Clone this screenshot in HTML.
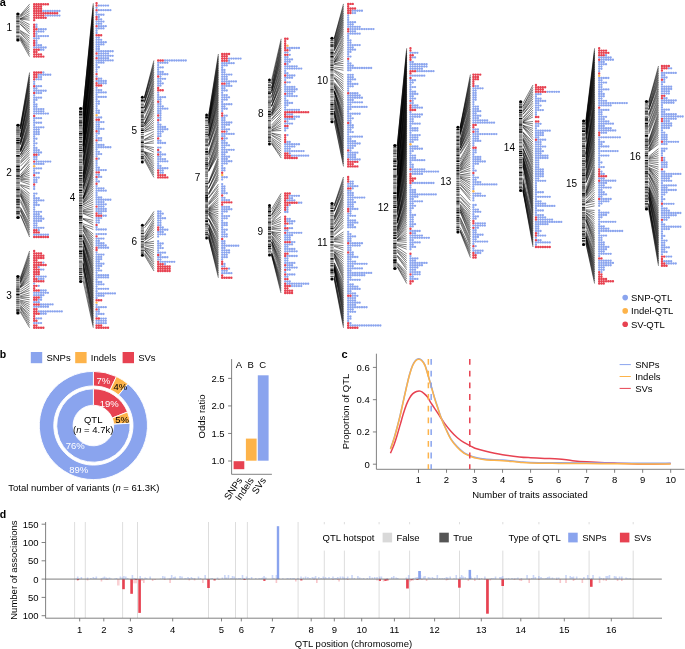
<!DOCTYPE html>
<html><head><meta charset="utf-8"><style>
html,body{margin:0;padding:0;background:#fff;}
svg{display:block;will-change:transform;}
text{font-family:"Liberation Sans", sans-serif;}
</style></head><body>
<svg width="685" height="649" viewBox="0 0 685 649">
<rect width="685" height="649" fill="#fff"/>
<g font-family='"Liberation Sans", sans-serif'>
<text x="-0.3" y="5.8" font-size="11" font-weight="bold">a</text>
<text x="9.3" y="31.0" text-anchor="middle" font-size="10">1</text>
<path d="M20.20 15.18L29.60 4.20M20.20 15.86L29.60 6.48M20.20 16.43L29.60 8.76M20.20 17.18L29.60 11.03M20.20 18.78L29.60 13.31M20.20 18.79L29.60 15.59M20.20 18.93L29.60 17.87M20.20 19.09L29.60 20.15M20.20 19.44L29.60 24.70M20.20 21.08L29.60 26.98M20.20 22.32L29.60 29.26M20.20 23.98L29.60 31.54M20.20 24.13L29.60 33.82M20.20 30.46L29.60 36.10M20.20 30.98L29.60 38.37M20.20 32.16L29.60 40.65M20.20 33.00L29.60 42.93M20.20 35.48L29.60 45.21M20.20 36.50L29.60 47.49M20.20 37.21L29.60 49.77M20.20 38.19L29.60 52.04M20.20 38.48L29.60 54.32M20.20 40.10L29.60 56.60" stroke="#000" stroke-width="0.5" fill="none"/>
<rect x="16.2" y="12.5" width="3.40" height="29.10" rx="1.70" fill="#dadada"/>
<path d="M16.20 15.70h3.40v1.10h-3.40zM16.20 26.15h3.40v1.10h-3.40zM16.20 37.80h3.40v0.60h-3.40z" fill="#2a2a2a"/>
<path d="M16.20 17.10h3.40v1.80h-3.40zM16.20 24.80h3.40v0.90h-3.40zM16.20 33.45h3.40v0.50h-3.40zM16.20 34.95h3.40v0.70h-3.40z" fill="#7a7a7a"/>
<path d="M16.20 19.50h3.40v0.70h-3.40zM16.20 22.20h3.40v0.50h-3.40zM16.20 27.55h3.40v0.70h-3.40zM16.20 30.60h3.40v0.50h-3.40zM16.20 35.95h3.40v1.40h-3.40z" fill="#5e5e5e"/>
<path d="M16.20 20.65h3.40v1.10h-3.40z" fill="#000"/>
<path d="M16.20 23.50h3.40v0.50h-3.40zM16.20 28.70h3.40v0.90h-3.40zM16.20 31.55h3.40v1.10h-3.40z" fill="#111"/>
<ellipse cx="17.90" cy="14.00" rx="1.70" ry="1.5" fill="#000"/>
<ellipse cx="17.90" cy="40.10" rx="1.70" ry="1.5" fill="#000"/>
<path d="M42.20 11.03a1.16 1.16 0 1 0 2.32 0a1.16 1.16 0 1 0 -2.32 0M44.50 11.03a1.16 1.16 0 1 0 2.32 0a1.16 1.16 0 1 0 -2.32 0M46.80 11.03a1.16 1.16 0 1 0 2.32 0a1.16 1.16 0 1 0 -2.32 0M49.10 11.03a1.16 1.16 0 1 0 2.32 0a1.16 1.16 0 1 0 -2.32 0M51.40 11.03a1.16 1.16 0 1 0 2.32 0a1.16 1.16 0 1 0 -2.32 0M53.70 11.03a1.16 1.16 0 1 0 2.32 0a1.16 1.16 0 1 0 -2.32 0M56.00 11.03a1.16 1.16 0 1 0 2.32 0a1.16 1.16 0 1 0 -2.32 0M58.30 11.03a1.16 1.16 0 1 0 2.32 0a1.16 1.16 0 1 0 -2.32 0M44.50 15.59a1.16 1.16 0 1 0 2.32 0a1.16 1.16 0 1 0 -2.32 0M46.80 15.59a1.16 1.16 0 1 0 2.32 0a1.16 1.16 0 1 0 -2.32 0M49.10 15.59a1.16 1.16 0 1 0 2.32 0a1.16 1.16 0 1 0 -2.32 0M51.40 15.59a1.16 1.16 0 1 0 2.32 0a1.16 1.16 0 1 0 -2.32 0M53.70 15.59a1.16 1.16 0 1 0 2.32 0a1.16 1.16 0 1 0 -2.32 0M56.00 15.59a1.16 1.16 0 1 0 2.32 0a1.16 1.16 0 1 0 -2.32 0M58.30 15.59a1.16 1.16 0 1 0 2.32 0a1.16 1.16 0 1 0 -2.32 0M35.30 24.70a1.16 1.16 0 1 0 2.32 0a1.16 1.16 0 1 0 -2.32 0M35.30 26.98a1.16 1.16 0 1 0 2.32 0a1.16 1.16 0 1 0 -2.32 0M37.60 29.26a1.16 1.16 0 1 0 2.32 0a1.16 1.16 0 1 0 -2.32 0M39.90 29.26a1.16 1.16 0 1 0 2.32 0a1.16 1.16 0 1 0 -2.32 0M42.20 29.26a1.16 1.16 0 1 0 2.32 0a1.16 1.16 0 1 0 -2.32 0M44.50 29.26a1.16 1.16 0 1 0 2.32 0a1.16 1.16 0 1 0 -2.32 0M35.30 31.54a1.16 1.16 0 1 0 2.32 0a1.16 1.16 0 1 0 -2.32 0M37.60 31.54a1.16 1.16 0 1 0 2.32 0a1.16 1.16 0 1 0 -2.32 0M39.90 31.54a1.16 1.16 0 1 0 2.32 0a1.16 1.16 0 1 0 -2.32 0M42.20 31.54a1.16 1.16 0 1 0 2.32 0a1.16 1.16 0 1 0 -2.32 0M35.30 33.82a1.16 1.16 0 1 0 2.32 0a1.16 1.16 0 1 0 -2.32 0M35.30 36.10a1.16 1.16 0 1 0 2.32 0a1.16 1.16 0 1 0 -2.32 0M37.60 36.10a1.16 1.16 0 1 0 2.32 0a1.16 1.16 0 1 0 -2.32 0M39.90 36.10a1.16 1.16 0 1 0 2.32 0a1.16 1.16 0 1 0 -2.32 0M42.20 36.10a1.16 1.16 0 1 0 2.32 0a1.16 1.16 0 1 0 -2.32 0M44.50 36.10a1.16 1.16 0 1 0 2.32 0a1.16 1.16 0 1 0 -2.32 0M46.80 36.10a1.16 1.16 0 1 0 2.32 0a1.16 1.16 0 1 0 -2.32 0M33.00 38.37a1.16 1.16 0 1 0 2.32 0a1.16 1.16 0 1 0 -2.32 0M35.30 38.37a1.16 1.16 0 1 0 2.32 0a1.16 1.16 0 1 0 -2.32 0M37.60 38.37a1.16 1.16 0 1 0 2.32 0a1.16 1.16 0 1 0 -2.32 0M35.30 40.65a1.16 1.16 0 1 0 2.32 0a1.16 1.16 0 1 0 -2.32 0M35.30 42.93a1.16 1.16 0 1 0 2.32 0a1.16 1.16 0 1 0 -2.32 0M35.30 45.21a1.16 1.16 0 1 0 2.32 0a1.16 1.16 0 1 0 -2.32 0M37.60 45.21a1.16 1.16 0 1 0 2.32 0a1.16 1.16 0 1 0 -2.32 0M39.90 45.21a1.16 1.16 0 1 0 2.32 0a1.16 1.16 0 1 0 -2.32 0M33.00 47.49a1.16 1.16 0 1 0 2.32 0a1.16 1.16 0 1 0 -2.32 0M35.30 47.49a1.16 1.16 0 1 0 2.32 0a1.16 1.16 0 1 0 -2.32 0M37.60 47.49a1.16 1.16 0 1 0 2.32 0a1.16 1.16 0 1 0 -2.32 0M39.90 47.49a1.16 1.16 0 1 0 2.32 0a1.16 1.16 0 1 0 -2.32 0M42.20 47.49a1.16 1.16 0 1 0 2.32 0a1.16 1.16 0 1 0 -2.32 0M44.50 47.49a1.16 1.16 0 1 0 2.32 0a1.16 1.16 0 1 0 -2.32 0M39.90 49.77a1.16 1.16 0 1 0 2.32 0a1.16 1.16 0 1 0 -2.32 0M42.20 49.77a1.16 1.16 0 1 0 2.32 0a1.16 1.16 0 1 0 -2.32 0" fill="#8AA4EE"/>
<path d="M32.97 4.20a1.19 1.19 0 1 0 2.38 0a1.19 1.19 0 1 0 -2.38 0M35.27 4.20a1.19 1.19 0 1 0 2.38 0a1.19 1.19 0 1 0 -2.38 0M37.57 4.20a1.19 1.19 0 1 0 2.38 0a1.19 1.19 0 1 0 -2.38 0M39.87 4.20a1.19 1.19 0 1 0 2.38 0a1.19 1.19 0 1 0 -2.38 0M42.17 4.20a1.19 1.19 0 1 0 2.38 0a1.19 1.19 0 1 0 -2.38 0M44.47 4.20a1.19 1.19 0 1 0 2.38 0a1.19 1.19 0 1 0 -2.38 0M46.77 4.20a1.19 1.19 0 1 0 2.38 0a1.19 1.19 0 1 0 -2.38 0M32.97 6.48a1.19 1.19 0 1 0 2.38 0a1.19 1.19 0 1 0 -2.38 0M35.27 6.48a1.19 1.19 0 1 0 2.38 0a1.19 1.19 0 1 0 -2.38 0M37.57 6.48a1.19 1.19 0 1 0 2.38 0a1.19 1.19 0 1 0 -2.38 0M39.87 6.48a1.19 1.19 0 1 0 2.38 0a1.19 1.19 0 1 0 -2.38 0M32.97 8.76a1.19 1.19 0 1 0 2.38 0a1.19 1.19 0 1 0 -2.38 0M35.27 8.76a1.19 1.19 0 1 0 2.38 0a1.19 1.19 0 1 0 -2.38 0M37.57 8.76a1.19 1.19 0 1 0 2.38 0a1.19 1.19 0 1 0 -2.38 0M39.87 8.76a1.19 1.19 0 1 0 2.38 0a1.19 1.19 0 1 0 -2.38 0M32.97 11.03a1.19 1.19 0 1 0 2.38 0a1.19 1.19 0 1 0 -2.38 0M35.27 11.03a1.19 1.19 0 1 0 2.38 0a1.19 1.19 0 1 0 -2.38 0M37.57 11.03a1.19 1.19 0 1 0 2.38 0a1.19 1.19 0 1 0 -2.38 0M39.87 11.03a1.19 1.19 0 1 0 2.38 0a1.19 1.19 0 1 0 -2.38 0M32.97 13.31a1.19 1.19 0 1 0 2.38 0a1.19 1.19 0 1 0 -2.38 0M35.27 13.31a1.19 1.19 0 1 0 2.38 0a1.19 1.19 0 1 0 -2.38 0M37.57 13.31a1.19 1.19 0 1 0 2.38 0a1.19 1.19 0 1 0 -2.38 0M39.87 13.31a1.19 1.19 0 1 0 2.38 0a1.19 1.19 0 1 0 -2.38 0M42.17 13.31a1.19 1.19 0 1 0 2.38 0a1.19 1.19 0 1 0 -2.38 0M44.47 13.31a1.19 1.19 0 1 0 2.38 0a1.19 1.19 0 1 0 -2.38 0M46.77 13.31a1.19 1.19 0 1 0 2.38 0a1.19 1.19 0 1 0 -2.38 0M49.07 13.31a1.19 1.19 0 1 0 2.38 0a1.19 1.19 0 1 0 -2.38 0M51.37 13.31a1.19 1.19 0 1 0 2.38 0a1.19 1.19 0 1 0 -2.38 0M53.67 13.31a1.19 1.19 0 1 0 2.38 0a1.19 1.19 0 1 0 -2.38 0M55.97 13.31a1.19 1.19 0 1 0 2.38 0a1.19 1.19 0 1 0 -2.38 0M32.97 15.59a1.19 1.19 0 1 0 2.38 0a1.19 1.19 0 1 0 -2.38 0M35.27 15.59a1.19 1.19 0 1 0 2.38 0a1.19 1.19 0 1 0 -2.38 0M37.57 15.59a1.19 1.19 0 1 0 2.38 0a1.19 1.19 0 1 0 -2.38 0M39.87 15.59a1.19 1.19 0 1 0 2.38 0a1.19 1.19 0 1 0 -2.38 0M42.17 15.59a1.19 1.19 0 1 0 2.38 0a1.19 1.19 0 1 0 -2.38 0M32.97 17.87a1.19 1.19 0 1 0 2.38 0a1.19 1.19 0 1 0 -2.38 0M35.27 17.87a1.19 1.19 0 1 0 2.38 0a1.19 1.19 0 1 0 -2.38 0M37.57 17.87a1.19 1.19 0 1 0 2.38 0a1.19 1.19 0 1 0 -2.38 0M39.87 17.87a1.19 1.19 0 1 0 2.38 0a1.19 1.19 0 1 0 -2.38 0M42.17 17.87a1.19 1.19 0 1 0 2.38 0a1.19 1.19 0 1 0 -2.38 0M44.47 17.87a1.19 1.19 0 1 0 2.38 0a1.19 1.19 0 1 0 -2.38 0M32.97 20.15a1.19 1.19 0 1 0 2.38 0a1.19 1.19 0 1 0 -2.38 0M32.97 24.70a1.19 1.19 0 1 0 2.38 0a1.19 1.19 0 1 0 -2.38 0M32.97 26.98a1.19 1.19 0 1 0 2.38 0a1.19 1.19 0 1 0 -2.38 0M32.97 29.26a1.19 1.19 0 1 0 2.38 0a1.19 1.19 0 1 0 -2.38 0M35.27 29.26a1.19 1.19 0 1 0 2.38 0a1.19 1.19 0 1 0 -2.38 0M32.97 31.54a1.19 1.19 0 1 0 2.38 0a1.19 1.19 0 1 0 -2.38 0M32.97 33.82a1.19 1.19 0 1 0 2.38 0a1.19 1.19 0 1 0 -2.38 0M32.97 36.10a1.19 1.19 0 1 0 2.38 0a1.19 1.19 0 1 0 -2.38 0M32.97 40.65a1.19 1.19 0 1 0 2.38 0a1.19 1.19 0 1 0 -2.38 0M32.97 42.93a1.19 1.19 0 1 0 2.38 0a1.19 1.19 0 1 0 -2.38 0M32.97 45.21a1.19 1.19 0 1 0 2.38 0a1.19 1.19 0 1 0 -2.38 0M32.97 49.77a1.19 1.19 0 1 0 2.38 0a1.19 1.19 0 1 0 -2.38 0M35.27 49.77a1.19 1.19 0 1 0 2.38 0a1.19 1.19 0 1 0 -2.38 0M37.57 49.77a1.19 1.19 0 1 0 2.38 0a1.19 1.19 0 1 0 -2.38 0M32.97 52.04a1.19 1.19 0 1 0 2.38 0a1.19 1.19 0 1 0 -2.38 0M35.27 52.04a1.19 1.19 0 1 0 2.38 0a1.19 1.19 0 1 0 -2.38 0M32.97 54.32a1.19 1.19 0 1 0 2.38 0a1.19 1.19 0 1 0 -2.38 0M35.27 54.32a1.19 1.19 0 1 0 2.38 0a1.19 1.19 0 1 0 -2.38 0M37.57 54.32a1.19 1.19 0 1 0 2.38 0a1.19 1.19 0 1 0 -2.38 0M39.87 54.32a1.19 1.19 0 1 0 2.38 0a1.19 1.19 0 1 0 -2.38 0M32.97 56.60a1.19 1.19 0 1 0 2.38 0a1.19 1.19 0 1 0 -2.38 0M35.27 56.60a1.19 1.19 0 1 0 2.38 0a1.19 1.19 0 1 0 -2.38 0M37.57 56.60a1.19 1.19 0 1 0 2.38 0a1.19 1.19 0 1 0 -2.38 0M39.87 56.60a1.19 1.19 0 1 0 2.38 0a1.19 1.19 0 1 0 -2.38 0M42.17 56.60a1.19 1.19 0 1 0 2.38 0a1.19 1.19 0 1 0 -2.38 0" fill="#E74251"/>
<text x="9.0" y="176.0" text-anchor="middle" font-size="10">2</text>
<path d="M20.40 125.58L29.60 72.50M20.40 127.17L29.60 74.78M20.40 127.60L29.60 77.07M20.40 128.58L29.60 79.35M20.40 128.83L29.60 81.64M20.40 129.05L29.60 83.92M20.40 131.33L29.60 86.21M20.40 134.46L29.60 88.49M20.40 136.72L29.60 90.78M20.40 136.73L29.60 93.06M20.40 136.74L29.60 95.35M20.40 136.96L29.60 97.63M20.40 137.49L29.60 99.92M20.40 140.47L29.60 102.20M20.40 141.94L29.60 104.49M20.40 142.40L29.60 106.77M20.40 143.16L29.60 109.06M20.40 143.82L29.60 111.34M20.40 144.66L29.60 113.62M20.40 144.78L29.60 115.91M20.40 148.85L29.60 118.19M20.40 149.87L29.60 120.48M20.40 150.18L29.60 122.76M20.40 150.48L29.60 125.05M20.40 151.17L29.60 127.33M20.40 151.54L29.60 129.62M20.40 151.55L29.60 131.90M20.40 152.10L29.60 134.19M20.40 154.53L29.60 136.47M20.40 154.68L29.60 138.76M20.40 154.76L29.60 141.04M20.40 156.54L29.60 143.33M20.40 157.26L29.60 145.61M20.40 158.91L29.60 147.90M20.40 161.42L29.60 150.18M20.40 162.44L29.60 152.47M20.40 163.44L29.60 154.75M20.40 166.26L29.60 157.03M20.40 170.60L29.60 159.32M20.40 170.81L29.60 161.60M20.40 174.91L29.60 163.89M20.40 176.49L29.60 166.17M20.40 176.69L29.60 168.46M20.40 176.71L29.60 170.74M20.40 177.53L29.60 173.03M20.40 178.16L29.60 175.31M20.40 179.09L29.60 177.60M20.40 179.26L29.60 179.88M20.40 180.19L29.60 182.17M20.40 181.27L29.60 184.45M20.40 184.61L29.60 186.74M20.40 185.31L29.60 189.02M20.40 185.74L29.60 193.59M20.40 188.28L29.60 195.88M20.40 189.35L29.60 198.16M20.40 190.16L29.60 200.44M20.40 191.14L29.60 202.73M20.40 192.43L29.60 205.01M20.40 192.87L29.60 207.30M20.40 194.21L29.60 209.58M20.40 194.30L29.60 211.87M20.40 195.25L29.60 214.15M20.40 195.99L29.60 216.44M20.40 199.72L29.60 218.72M20.40 201.70L29.60 221.01M20.40 207.32L29.60 223.29M20.40 207.73L29.60 225.58M20.40 209.35L29.60 227.86M20.40 209.94L29.60 230.15M20.40 211.18L29.60 232.43M20.40 214.60L29.60 234.72M20.40 214.82L29.60 237.00" stroke="#000" stroke-width="0.5" fill="none"/>
<rect x="16.2" y="123.8" width="3.60" height="95.20" rx="1.80" fill="#dadada"/>
<path d="M16.20 127.00h3.60v0.50h-3.60zM16.20 142.05h3.60v1.80h-3.60zM16.20 168.75h3.60v1.40h-3.60zM16.20 198.65h3.60v1.80h-3.60zM16.20 206.95h3.60v0.70h-3.60z" fill="#111"/>
<path d="M16.20 128.50h3.60v0.90h-3.60zM16.20 137.85h3.60v1.40h-3.60zM16.20 144.45h3.60v0.50h-3.60zM16.20 167.65h3.60v0.50h-3.60zM16.20 187.60h3.60v0.70h-3.60zM16.20 194.70h3.60v1.10h-3.60zM16.20 196.25h3.60v0.70h-3.60zM16.20 210.85h3.60v1.80h-3.60z" fill="#2a2a2a"/>
<path d="M16.20 129.85h3.60v1.80h-3.60zM16.20 147.65h3.60v0.50h-3.60zM16.20 148.75h3.60v1.40h-3.60zM16.20 159.65h3.60v1.10h-3.60zM16.20 162.00h3.60v0.70h-3.60zM16.20 163.70h3.60v0.70h-3.60zM16.20 179.45h3.60v0.90h-3.60zM16.20 180.80h3.60v0.70h-3.60zM16.20 197.55h3.60v0.50h-3.60zM16.20 208.45h3.60v0.50h-3.60zM16.20 215.80h3.60v0.00h-3.60z" fill="#5e5e5e"/>
<path d="M16.20 132.45h3.60v0.70h-3.60zM16.20 139.85h3.60v1.40h-3.60zM16.20 146.85h3.60v0.50h-3.60zM16.20 150.95h3.60v0.50h-3.60zM16.20 154.90h3.60v1.80h-3.60zM16.20 157.70h3.60v0.50h-3.60zM16.20 165.40h3.60v1.80h-3.60zM16.20 170.45h3.60v1.40h-3.60zM16.20 175.35h3.60v1.40h-3.60zM16.20 177.75h3.60v0.90h-3.60zM16.20 188.75h3.60v1.80h-3.60zM16.20 200.75h3.60v0.90h-3.60zM16.20 203.65h3.60v1.10h-3.60zM16.20 213.25h3.60v0.90h-3.60z" fill="#000"/>
<path d="M16.20 133.60h3.60v1.40h-3.60zM16.20 135.45h3.60v1.40h-3.60zM16.20 151.90h3.60v0.50h-3.60zM16.20 153.20h3.60v0.70h-3.60zM16.20 158.65h3.60v0.70h-3.60zM16.20 172.15h3.60v1.40h-3.60zM16.20 183.10h3.60v1.40h-3.60zM16.20 184.95h3.60v0.90h-3.60zM16.20 186.45h3.60v0.70h-3.60zM16.20 191.35h3.60v1.80h-3.60zM16.20 205.55h3.60v1.10h-3.60zM16.20 209.55h3.60v0.50h-3.60zM16.20 214.45h3.60v0.90h-3.60z" fill="#7a7a7a"/>
<path d="M16.20 145.55h3.60v0.70h-3.60zM16.20 161.20h3.60v0.50h-3.60zM16.20 173.85h3.60v0.70h-3.60zM16.20 181.95h3.60v0.70h-3.60zM16.20 193.75h3.60v0.50h-3.60zM16.20 202.10h3.60v1.10h-3.60z" fill="#444"/>
<ellipse cx="18.00" cy="125.30" rx="1.80" ry="1.5" fill="#000"/>
<ellipse cx="18.00" cy="217.50" rx="1.80" ry="1.5" fill="#000"/>
<path d="M42.20 72.50a1.16 1.16 0 1 0 2.32 0a1.16 1.16 0 1 0 -2.32 0M37.60 74.78a1.16 1.16 0 1 0 2.32 0a1.16 1.16 0 1 0 -2.32 0M39.90 74.78a1.16 1.16 0 1 0 2.32 0a1.16 1.16 0 1 0 -2.32 0M42.20 74.78a1.16 1.16 0 1 0 2.32 0a1.16 1.16 0 1 0 -2.32 0M44.50 74.78a1.16 1.16 0 1 0 2.32 0a1.16 1.16 0 1 0 -2.32 0M46.80 74.78a1.16 1.16 0 1 0 2.32 0a1.16 1.16 0 1 0 -2.32 0M49.10 74.78a1.16 1.16 0 1 0 2.32 0a1.16 1.16 0 1 0 -2.32 0M37.60 77.07a1.16 1.16 0 1 0 2.32 0a1.16 1.16 0 1 0 -2.32 0M39.90 77.07a1.16 1.16 0 1 0 2.32 0a1.16 1.16 0 1 0 -2.32 0M35.30 79.35a1.16 1.16 0 1 0 2.32 0a1.16 1.16 0 1 0 -2.32 0M37.60 79.35a1.16 1.16 0 1 0 2.32 0a1.16 1.16 0 1 0 -2.32 0M39.90 79.35a1.16 1.16 0 1 0 2.32 0a1.16 1.16 0 1 0 -2.32 0M33.00 81.64a1.16 1.16 0 1 0 2.32 0a1.16 1.16 0 1 0 -2.32 0M33.00 83.92a1.16 1.16 0 1 0 2.32 0a1.16 1.16 0 1 0 -2.32 0M35.30 86.21a1.16 1.16 0 1 0 2.32 0a1.16 1.16 0 1 0 -2.32 0M37.60 86.21a1.16 1.16 0 1 0 2.32 0a1.16 1.16 0 1 0 -2.32 0M39.90 86.21a1.16 1.16 0 1 0 2.32 0a1.16 1.16 0 1 0 -2.32 0M33.00 88.49a1.16 1.16 0 1 0 2.32 0a1.16 1.16 0 1 0 -2.32 0M35.30 88.49a1.16 1.16 0 1 0 2.32 0a1.16 1.16 0 1 0 -2.32 0M33.00 90.78a1.16 1.16 0 1 0 2.32 0a1.16 1.16 0 1 0 -2.32 0M35.30 90.78a1.16 1.16 0 1 0 2.32 0a1.16 1.16 0 1 0 -2.32 0M37.60 90.78a1.16 1.16 0 1 0 2.32 0a1.16 1.16 0 1 0 -2.32 0M39.90 90.78a1.16 1.16 0 1 0 2.32 0a1.16 1.16 0 1 0 -2.32 0M42.20 90.78a1.16 1.16 0 1 0 2.32 0a1.16 1.16 0 1 0 -2.32 0M44.50 90.78a1.16 1.16 0 1 0 2.32 0a1.16 1.16 0 1 0 -2.32 0M35.30 93.06a1.16 1.16 0 1 0 2.32 0a1.16 1.16 0 1 0 -2.32 0M37.60 93.06a1.16 1.16 0 1 0 2.32 0a1.16 1.16 0 1 0 -2.32 0M39.90 93.06a1.16 1.16 0 1 0 2.32 0a1.16 1.16 0 1 0 -2.32 0M33.00 95.35a1.16 1.16 0 1 0 2.32 0a1.16 1.16 0 1 0 -2.32 0M33.00 97.63a1.16 1.16 0 1 0 2.32 0a1.16 1.16 0 1 0 -2.32 0M35.30 97.63a1.16 1.16 0 1 0 2.32 0a1.16 1.16 0 1 0 -2.32 0M37.60 97.63a1.16 1.16 0 1 0 2.32 0a1.16 1.16 0 1 0 -2.32 0M39.90 97.63a1.16 1.16 0 1 0 2.32 0a1.16 1.16 0 1 0 -2.32 0M33.00 99.92a1.16 1.16 0 1 0 2.32 0a1.16 1.16 0 1 0 -2.32 0M35.30 99.92a1.16 1.16 0 1 0 2.32 0a1.16 1.16 0 1 0 -2.32 0M33.00 102.20a1.16 1.16 0 1 0 2.32 0a1.16 1.16 0 1 0 -2.32 0M33.00 104.49a1.16 1.16 0 1 0 2.32 0a1.16 1.16 0 1 0 -2.32 0M35.30 104.49a1.16 1.16 0 1 0 2.32 0a1.16 1.16 0 1 0 -2.32 0M33.00 106.77a1.16 1.16 0 1 0 2.32 0a1.16 1.16 0 1 0 -2.32 0M35.30 106.77a1.16 1.16 0 1 0 2.32 0a1.16 1.16 0 1 0 -2.32 0M33.00 109.06a1.16 1.16 0 1 0 2.32 0a1.16 1.16 0 1 0 -2.32 0M35.30 109.06a1.16 1.16 0 1 0 2.32 0a1.16 1.16 0 1 0 -2.32 0M37.60 109.06a1.16 1.16 0 1 0 2.32 0a1.16 1.16 0 1 0 -2.32 0M39.90 109.06a1.16 1.16 0 1 0 2.32 0a1.16 1.16 0 1 0 -2.32 0M42.20 109.06a1.16 1.16 0 1 0 2.32 0a1.16 1.16 0 1 0 -2.32 0M33.00 111.34a1.16 1.16 0 1 0 2.32 0a1.16 1.16 0 1 0 -2.32 0M35.30 111.34a1.16 1.16 0 1 0 2.32 0a1.16 1.16 0 1 0 -2.32 0M37.60 111.34a1.16 1.16 0 1 0 2.32 0a1.16 1.16 0 1 0 -2.32 0M39.90 111.34a1.16 1.16 0 1 0 2.32 0a1.16 1.16 0 1 0 -2.32 0M42.20 111.34a1.16 1.16 0 1 0 2.32 0a1.16 1.16 0 1 0 -2.32 0M33.00 113.62a1.16 1.16 0 1 0 2.32 0a1.16 1.16 0 1 0 -2.32 0M35.30 113.62a1.16 1.16 0 1 0 2.32 0a1.16 1.16 0 1 0 -2.32 0M37.60 113.62a1.16 1.16 0 1 0 2.32 0a1.16 1.16 0 1 0 -2.32 0M39.90 113.62a1.16 1.16 0 1 0 2.32 0a1.16 1.16 0 1 0 -2.32 0M42.20 113.62a1.16 1.16 0 1 0 2.32 0a1.16 1.16 0 1 0 -2.32 0M44.50 113.62a1.16 1.16 0 1 0 2.32 0a1.16 1.16 0 1 0 -2.32 0M46.80 113.62a1.16 1.16 0 1 0 2.32 0a1.16 1.16 0 1 0 -2.32 0M33.00 118.19a1.16 1.16 0 1 0 2.32 0a1.16 1.16 0 1 0 -2.32 0M35.30 118.19a1.16 1.16 0 1 0 2.32 0a1.16 1.16 0 1 0 -2.32 0M37.60 118.19a1.16 1.16 0 1 0 2.32 0a1.16 1.16 0 1 0 -2.32 0M39.90 118.19a1.16 1.16 0 1 0 2.32 0a1.16 1.16 0 1 0 -2.32 0M33.00 120.48a1.16 1.16 0 1 0 2.32 0a1.16 1.16 0 1 0 -2.32 0M33.00 122.76a1.16 1.16 0 1 0 2.32 0a1.16 1.16 0 1 0 -2.32 0M35.30 122.76a1.16 1.16 0 1 0 2.32 0a1.16 1.16 0 1 0 -2.32 0M37.60 122.76a1.16 1.16 0 1 0 2.32 0a1.16 1.16 0 1 0 -2.32 0M39.90 122.76a1.16 1.16 0 1 0 2.32 0a1.16 1.16 0 1 0 -2.32 0M33.00 125.05a1.16 1.16 0 1 0 2.32 0a1.16 1.16 0 1 0 -2.32 0M33.00 127.33a1.16 1.16 0 1 0 2.32 0a1.16 1.16 0 1 0 -2.32 0M35.30 127.33a1.16 1.16 0 1 0 2.32 0a1.16 1.16 0 1 0 -2.32 0M37.60 127.33a1.16 1.16 0 1 0 2.32 0a1.16 1.16 0 1 0 -2.32 0M39.90 127.33a1.16 1.16 0 1 0 2.32 0a1.16 1.16 0 1 0 -2.32 0M42.20 127.33a1.16 1.16 0 1 0 2.32 0a1.16 1.16 0 1 0 -2.32 0M33.00 129.62a1.16 1.16 0 1 0 2.32 0a1.16 1.16 0 1 0 -2.32 0M35.30 129.62a1.16 1.16 0 1 0 2.32 0a1.16 1.16 0 1 0 -2.32 0M37.60 129.62a1.16 1.16 0 1 0 2.32 0a1.16 1.16 0 1 0 -2.32 0M33.00 131.90a1.16 1.16 0 1 0 2.32 0a1.16 1.16 0 1 0 -2.32 0M35.30 131.90a1.16 1.16 0 1 0 2.32 0a1.16 1.16 0 1 0 -2.32 0M37.60 131.90a1.16 1.16 0 1 0 2.32 0a1.16 1.16 0 1 0 -2.32 0M33.00 134.19a1.16 1.16 0 1 0 2.32 0a1.16 1.16 0 1 0 -2.32 0M35.30 134.19a1.16 1.16 0 1 0 2.32 0a1.16 1.16 0 1 0 -2.32 0M37.60 134.19a1.16 1.16 0 1 0 2.32 0a1.16 1.16 0 1 0 -2.32 0M33.00 136.47a1.16 1.16 0 1 0 2.32 0a1.16 1.16 0 1 0 -2.32 0M33.00 138.76a1.16 1.16 0 1 0 2.32 0a1.16 1.16 0 1 0 -2.32 0M35.30 138.76a1.16 1.16 0 1 0 2.32 0a1.16 1.16 0 1 0 -2.32 0M33.00 141.04a1.16 1.16 0 1 0 2.32 0a1.16 1.16 0 1 0 -2.32 0M33.00 143.33a1.16 1.16 0 1 0 2.32 0a1.16 1.16 0 1 0 -2.32 0M35.30 143.33a1.16 1.16 0 1 0 2.32 0a1.16 1.16 0 1 0 -2.32 0M33.00 145.61a1.16 1.16 0 1 0 2.32 0a1.16 1.16 0 1 0 -2.32 0M33.00 147.90a1.16 1.16 0 1 0 2.32 0a1.16 1.16 0 1 0 -2.32 0M35.30 147.90a1.16 1.16 0 1 0 2.32 0a1.16 1.16 0 1 0 -2.32 0M33.00 150.18a1.16 1.16 0 1 0 2.32 0a1.16 1.16 0 1 0 -2.32 0M35.30 150.18a1.16 1.16 0 1 0 2.32 0a1.16 1.16 0 1 0 -2.32 0M37.60 150.18a1.16 1.16 0 1 0 2.32 0a1.16 1.16 0 1 0 -2.32 0M33.00 152.47a1.16 1.16 0 1 0 2.32 0a1.16 1.16 0 1 0 -2.32 0M35.30 152.47a1.16 1.16 0 1 0 2.32 0a1.16 1.16 0 1 0 -2.32 0M37.60 152.47a1.16 1.16 0 1 0 2.32 0a1.16 1.16 0 1 0 -2.32 0M39.90 152.47a1.16 1.16 0 1 0 2.32 0a1.16 1.16 0 1 0 -2.32 0M37.60 154.75a1.16 1.16 0 1 0 2.32 0a1.16 1.16 0 1 0 -2.32 0M33.00 157.03a1.16 1.16 0 1 0 2.32 0a1.16 1.16 0 1 0 -2.32 0M35.30 157.03a1.16 1.16 0 1 0 2.32 0a1.16 1.16 0 1 0 -2.32 0M33.00 159.32a1.16 1.16 0 1 0 2.32 0a1.16 1.16 0 1 0 -2.32 0M35.30 159.32a1.16 1.16 0 1 0 2.32 0a1.16 1.16 0 1 0 -2.32 0M35.30 161.60a1.16 1.16 0 1 0 2.32 0a1.16 1.16 0 1 0 -2.32 0M37.60 161.60a1.16 1.16 0 1 0 2.32 0a1.16 1.16 0 1 0 -2.32 0M39.90 161.60a1.16 1.16 0 1 0 2.32 0a1.16 1.16 0 1 0 -2.32 0M42.20 161.60a1.16 1.16 0 1 0 2.32 0a1.16 1.16 0 1 0 -2.32 0M44.50 161.60a1.16 1.16 0 1 0 2.32 0a1.16 1.16 0 1 0 -2.32 0M46.80 161.60a1.16 1.16 0 1 0 2.32 0a1.16 1.16 0 1 0 -2.32 0M49.10 161.60a1.16 1.16 0 1 0 2.32 0a1.16 1.16 0 1 0 -2.32 0M33.00 163.89a1.16 1.16 0 1 0 2.32 0a1.16 1.16 0 1 0 -2.32 0M35.30 163.89a1.16 1.16 0 1 0 2.32 0a1.16 1.16 0 1 0 -2.32 0M37.60 163.89a1.16 1.16 0 1 0 2.32 0a1.16 1.16 0 1 0 -2.32 0M39.90 163.89a1.16 1.16 0 1 0 2.32 0a1.16 1.16 0 1 0 -2.32 0M42.20 163.89a1.16 1.16 0 1 0 2.32 0a1.16 1.16 0 1 0 -2.32 0M33.00 168.46a1.16 1.16 0 1 0 2.32 0a1.16 1.16 0 1 0 -2.32 0M35.30 168.46a1.16 1.16 0 1 0 2.32 0a1.16 1.16 0 1 0 -2.32 0M37.60 168.46a1.16 1.16 0 1 0 2.32 0a1.16 1.16 0 1 0 -2.32 0M39.90 168.46a1.16 1.16 0 1 0 2.32 0a1.16 1.16 0 1 0 -2.32 0M33.00 170.74a1.16 1.16 0 1 0 2.32 0a1.16 1.16 0 1 0 -2.32 0M33.00 173.03a1.16 1.16 0 1 0 2.32 0a1.16 1.16 0 1 0 -2.32 0M35.30 173.03a1.16 1.16 0 1 0 2.32 0a1.16 1.16 0 1 0 -2.32 0M37.60 173.03a1.16 1.16 0 1 0 2.32 0a1.16 1.16 0 1 0 -2.32 0M33.00 177.60a1.16 1.16 0 1 0 2.32 0a1.16 1.16 0 1 0 -2.32 0M35.30 177.60a1.16 1.16 0 1 0 2.32 0a1.16 1.16 0 1 0 -2.32 0M37.60 177.60a1.16 1.16 0 1 0 2.32 0a1.16 1.16 0 1 0 -2.32 0M33.00 179.88a1.16 1.16 0 1 0 2.32 0a1.16 1.16 0 1 0 -2.32 0M35.30 179.88a1.16 1.16 0 1 0 2.32 0a1.16 1.16 0 1 0 -2.32 0M33.00 182.17a1.16 1.16 0 1 0 2.32 0a1.16 1.16 0 1 0 -2.32 0M35.30 182.17a1.16 1.16 0 1 0 2.32 0a1.16 1.16 0 1 0 -2.32 0M33.00 186.74a1.16 1.16 0 1 0 2.32 0a1.16 1.16 0 1 0 -2.32 0M33.00 189.02a1.16 1.16 0 1 0 2.32 0a1.16 1.16 0 1 0 -2.32 0M33.00 193.59a1.16 1.16 0 1 0 2.32 0a1.16 1.16 0 1 0 -2.32 0M35.30 193.59a1.16 1.16 0 1 0 2.32 0a1.16 1.16 0 1 0 -2.32 0M33.00 195.88a1.16 1.16 0 1 0 2.32 0a1.16 1.16 0 1 0 -2.32 0M33.00 198.16a1.16 1.16 0 1 0 2.32 0a1.16 1.16 0 1 0 -2.32 0M35.30 198.16a1.16 1.16 0 1 0 2.32 0a1.16 1.16 0 1 0 -2.32 0M37.60 198.16a1.16 1.16 0 1 0 2.32 0a1.16 1.16 0 1 0 -2.32 0M33.00 200.44a1.16 1.16 0 1 0 2.32 0a1.16 1.16 0 1 0 -2.32 0M35.30 200.44a1.16 1.16 0 1 0 2.32 0a1.16 1.16 0 1 0 -2.32 0M37.60 200.44a1.16 1.16 0 1 0 2.32 0a1.16 1.16 0 1 0 -2.32 0M39.90 200.44a1.16 1.16 0 1 0 2.32 0a1.16 1.16 0 1 0 -2.32 0M42.20 200.44a1.16 1.16 0 1 0 2.32 0a1.16 1.16 0 1 0 -2.32 0M33.00 202.73a1.16 1.16 0 1 0 2.32 0a1.16 1.16 0 1 0 -2.32 0M35.30 202.73a1.16 1.16 0 1 0 2.32 0a1.16 1.16 0 1 0 -2.32 0M33.00 205.01a1.16 1.16 0 1 0 2.32 0a1.16 1.16 0 1 0 -2.32 0M35.30 205.01a1.16 1.16 0 1 0 2.32 0a1.16 1.16 0 1 0 -2.32 0M37.60 205.01a1.16 1.16 0 1 0 2.32 0a1.16 1.16 0 1 0 -2.32 0M33.00 207.30a1.16 1.16 0 1 0 2.32 0a1.16 1.16 0 1 0 -2.32 0M33.00 209.58a1.16 1.16 0 1 0 2.32 0a1.16 1.16 0 1 0 -2.32 0M33.00 211.87a1.16 1.16 0 1 0 2.32 0a1.16 1.16 0 1 0 -2.32 0M35.30 211.87a1.16 1.16 0 1 0 2.32 0a1.16 1.16 0 1 0 -2.32 0M37.60 211.87a1.16 1.16 0 1 0 2.32 0a1.16 1.16 0 1 0 -2.32 0M39.90 211.87a1.16 1.16 0 1 0 2.32 0a1.16 1.16 0 1 0 -2.32 0M33.00 214.15a1.16 1.16 0 1 0 2.32 0a1.16 1.16 0 1 0 -2.32 0M35.30 214.15a1.16 1.16 0 1 0 2.32 0a1.16 1.16 0 1 0 -2.32 0M37.60 214.15a1.16 1.16 0 1 0 2.32 0a1.16 1.16 0 1 0 -2.32 0M33.00 216.44a1.16 1.16 0 1 0 2.32 0a1.16 1.16 0 1 0 -2.32 0M35.30 216.44a1.16 1.16 0 1 0 2.32 0a1.16 1.16 0 1 0 -2.32 0M37.60 216.44a1.16 1.16 0 1 0 2.32 0a1.16 1.16 0 1 0 -2.32 0M39.90 216.44a1.16 1.16 0 1 0 2.32 0a1.16 1.16 0 1 0 -2.32 0M33.00 218.72a1.16 1.16 0 1 0 2.32 0a1.16 1.16 0 1 0 -2.32 0M35.30 218.72a1.16 1.16 0 1 0 2.32 0a1.16 1.16 0 1 0 -2.32 0M37.60 218.72a1.16 1.16 0 1 0 2.32 0a1.16 1.16 0 1 0 -2.32 0M39.90 218.72a1.16 1.16 0 1 0 2.32 0a1.16 1.16 0 1 0 -2.32 0M42.20 218.72a1.16 1.16 0 1 0 2.32 0a1.16 1.16 0 1 0 -2.32 0M33.00 221.01a1.16 1.16 0 1 0 2.32 0a1.16 1.16 0 1 0 -2.32 0M35.30 221.01a1.16 1.16 0 1 0 2.32 0a1.16 1.16 0 1 0 -2.32 0M37.60 221.01a1.16 1.16 0 1 0 2.32 0a1.16 1.16 0 1 0 -2.32 0M39.90 221.01a1.16 1.16 0 1 0 2.32 0a1.16 1.16 0 1 0 -2.32 0M33.00 223.29a1.16 1.16 0 1 0 2.32 0a1.16 1.16 0 1 0 -2.32 0M35.30 223.29a1.16 1.16 0 1 0 2.32 0a1.16 1.16 0 1 0 -2.32 0M33.00 225.58a1.16 1.16 0 1 0 2.32 0a1.16 1.16 0 1 0 -2.32 0M35.30 225.58a1.16 1.16 0 1 0 2.32 0a1.16 1.16 0 1 0 -2.32 0M33.00 227.86a1.16 1.16 0 1 0 2.32 0a1.16 1.16 0 1 0 -2.32 0M35.30 227.86a1.16 1.16 0 1 0 2.32 0a1.16 1.16 0 1 0 -2.32 0M37.60 227.86a1.16 1.16 0 1 0 2.32 0a1.16 1.16 0 1 0 -2.32 0M39.90 227.86a1.16 1.16 0 1 0 2.32 0a1.16 1.16 0 1 0 -2.32 0M42.20 227.86a1.16 1.16 0 1 0 2.32 0a1.16 1.16 0 1 0 -2.32 0M37.60 230.15a1.16 1.16 0 1 0 2.32 0a1.16 1.16 0 1 0 -2.32 0M33.00 234.72a1.16 1.16 0 1 0 2.32 0a1.16 1.16 0 1 0 -2.32 0M35.30 234.72a1.16 1.16 0 1 0 2.32 0a1.16 1.16 0 1 0 -2.32 0M37.60 234.72a1.16 1.16 0 1 0 2.32 0a1.16 1.16 0 1 0 -2.32 0M39.90 234.72a1.16 1.16 0 1 0 2.32 0a1.16 1.16 0 1 0 -2.32 0M42.20 234.72a1.16 1.16 0 1 0 2.32 0a1.16 1.16 0 1 0 -2.32 0M44.50 234.72a1.16 1.16 0 1 0 2.32 0a1.16 1.16 0 1 0 -2.32 0M46.80 234.72a1.16 1.16 0 1 0 2.32 0a1.16 1.16 0 1 0 -2.32 0" fill="#8AA4EE"/>
<path d="M32.97 166.17a1.19 1.19 0 1 0 2.38 0a1.19 1.19 0 1 0 -2.38 0" fill="#FDB34A"/>
<path d="M32.97 72.50a1.19 1.19 0 1 0 2.38 0a1.19 1.19 0 1 0 -2.38 0M35.27 72.50a1.19 1.19 0 1 0 2.38 0a1.19 1.19 0 1 0 -2.38 0M37.57 72.50a1.19 1.19 0 1 0 2.38 0a1.19 1.19 0 1 0 -2.38 0M39.87 72.50a1.19 1.19 0 1 0 2.38 0a1.19 1.19 0 1 0 -2.38 0M32.97 74.78a1.19 1.19 0 1 0 2.38 0a1.19 1.19 0 1 0 -2.38 0M35.27 74.78a1.19 1.19 0 1 0 2.38 0a1.19 1.19 0 1 0 -2.38 0M32.97 77.07a1.19 1.19 0 1 0 2.38 0a1.19 1.19 0 1 0 -2.38 0M35.27 77.07a1.19 1.19 0 1 0 2.38 0a1.19 1.19 0 1 0 -2.38 0M32.97 79.35a1.19 1.19 0 1 0 2.38 0a1.19 1.19 0 1 0 -2.38 0M32.97 86.21a1.19 1.19 0 1 0 2.38 0a1.19 1.19 0 1 0 -2.38 0M32.97 93.06a1.19 1.19 0 1 0 2.38 0a1.19 1.19 0 1 0 -2.38 0M32.97 115.91a1.19 1.19 0 1 0 2.38 0a1.19 1.19 0 1 0 -2.38 0M32.97 154.75a1.19 1.19 0 1 0 2.38 0a1.19 1.19 0 1 0 -2.38 0M35.27 154.75a1.19 1.19 0 1 0 2.38 0a1.19 1.19 0 1 0 -2.38 0M32.97 161.60a1.19 1.19 0 1 0 2.38 0a1.19 1.19 0 1 0 -2.38 0M32.97 175.31a1.19 1.19 0 1 0 2.38 0a1.19 1.19 0 1 0 -2.38 0M32.97 184.45a1.19 1.19 0 1 0 2.38 0a1.19 1.19 0 1 0 -2.38 0M32.97 230.15a1.19 1.19 0 1 0 2.38 0a1.19 1.19 0 1 0 -2.38 0M35.27 230.15a1.19 1.19 0 1 0 2.38 0a1.19 1.19 0 1 0 -2.38 0M32.97 232.43a1.19 1.19 0 1 0 2.38 0a1.19 1.19 0 1 0 -2.38 0M35.27 232.43a1.19 1.19 0 1 0 2.38 0a1.19 1.19 0 1 0 -2.38 0M37.57 232.43a1.19 1.19 0 1 0 2.38 0a1.19 1.19 0 1 0 -2.38 0M32.97 237.00a1.19 1.19 0 1 0 2.38 0a1.19 1.19 0 1 0 -2.38 0M35.27 237.00a1.19 1.19 0 1 0 2.38 0a1.19 1.19 0 1 0 -2.38 0M37.57 237.00a1.19 1.19 0 1 0 2.38 0a1.19 1.19 0 1 0 -2.38 0M39.87 237.00a1.19 1.19 0 1 0 2.38 0a1.19 1.19 0 1 0 -2.38 0M42.17 237.00a1.19 1.19 0 1 0 2.38 0a1.19 1.19 0 1 0 -2.38 0M44.47 237.00a1.19 1.19 0 1 0 2.38 0a1.19 1.19 0 1 0 -2.38 0M46.77 237.00a1.19 1.19 0 1 0 2.38 0a1.19 1.19 0 1 0 -2.38 0" fill="#E74251"/>
<text x="9.0" y="299.0" text-anchor="middle" font-size="10">3</text>
<path d="M20.20 278.10L29.60 251.00M20.20 279.64L29.60 253.32M20.20 279.69L29.60 255.65M20.20 281.43L29.60 257.97M20.20 282.20L29.60 260.30M20.20 282.23L29.60 262.62M20.20 283.23L29.60 264.95M20.20 284.16L29.60 267.27M20.20 285.87L29.60 269.59M20.20 286.87L29.60 271.92M20.20 286.97L29.60 274.24M20.20 287.37L29.60 276.57M20.20 287.64L29.60 278.89M20.20 287.90L29.60 281.22M20.20 289.97L29.60 283.54M20.20 291.90L29.60 285.86M20.20 293.73L29.60 288.19M20.20 293.95L29.60 290.51M20.20 295.76L29.60 292.84M20.20 296.70L29.60 295.16M20.20 297.20L29.60 297.48M20.20 298.08L29.60 299.81M20.20 300.06L29.60 302.13M20.20 300.76L29.60 304.46M20.20 301.57L29.60 306.78M20.20 302.49L29.60 309.11M20.20 303.80L29.60 311.43M20.20 305.58L29.60 313.75M20.20 305.62L29.60 316.08M20.20 307.00L29.60 318.40M20.20 307.77L29.60 320.73M20.20 308.48L29.60 323.05M20.20 310.49L29.60 325.38M20.20 311.85L29.60 327.70" stroke="#000" stroke-width="0.5" fill="none"/>
<rect x="16.2" y="275" width="3.40" height="39.60" rx="1.70" fill="#dadada"/>
<path d="M16.20 278.20h3.40v1.40h-3.40zM16.20 284.50h3.40v1.10h-3.40zM16.20 292.70h3.40v0.50h-3.40zM16.20 303.55h3.40v0.70h-3.40z" fill="#444"/>
<path d="M16.20 280.20h3.40v0.70h-3.40zM16.20 301.25h3.40v0.90h-3.40zM16.20 302.75h3.40v0.50h-3.40zM16.20 305.25h3.40v0.50h-3.40z" fill="#2a2a2a"/>
<path d="M16.20 281.70h3.40v1.80h-3.40zM16.20 306.75h3.40v1.80h-3.40z" fill="#7a7a7a"/>
<path d="M16.20 285.90h3.40v0.50h-3.40zM16.20 289.30h3.40v1.10h-3.40zM16.20 291.00h3.40v0.70h-3.40zM16.20 309.15h3.40v0.90h-3.40z" fill="#111"/>
<path d="M16.20 287.20h3.40v1.80h-3.40zM16.20 296.45h3.40v1.80h-3.40zM16.20 299.05h3.40v1.40h-3.40z" fill="#5e5e5e"/>
<path d="M16.20 293.65h3.40v1.80h-3.40zM16.20 310.35h3.40v1.05h-3.40z" fill="#000"/>
<ellipse cx="17.90" cy="276.50" rx="1.70" ry="1.5" fill="#000"/>
<ellipse cx="17.90" cy="313.10" rx="1.70" ry="1.5" fill="#000"/>
<path d="M42.20 262.62a1.16 1.16 0 1 0 2.32 0a1.16 1.16 0 1 0 -2.32 0M37.60 267.27a1.16 1.16 0 1 0 2.32 0a1.16 1.16 0 1 0 -2.32 0M39.90 269.59a1.16 1.16 0 1 0 2.32 0a1.16 1.16 0 1 0 -2.32 0M42.20 269.59a1.16 1.16 0 1 0 2.32 0a1.16 1.16 0 1 0 -2.32 0M35.30 276.57a1.16 1.16 0 1 0 2.32 0a1.16 1.16 0 1 0 -2.32 0M37.60 276.57a1.16 1.16 0 1 0 2.32 0a1.16 1.16 0 1 0 -2.32 0M39.90 276.57a1.16 1.16 0 1 0 2.32 0a1.16 1.16 0 1 0 -2.32 0M42.20 276.57a1.16 1.16 0 1 0 2.32 0a1.16 1.16 0 1 0 -2.32 0M44.50 276.57a1.16 1.16 0 1 0 2.32 0a1.16 1.16 0 1 0 -2.32 0M37.60 278.89a1.16 1.16 0 1 0 2.32 0a1.16 1.16 0 1 0 -2.32 0M39.90 278.89a1.16 1.16 0 1 0 2.32 0a1.16 1.16 0 1 0 -2.32 0M42.20 278.89a1.16 1.16 0 1 0 2.32 0a1.16 1.16 0 1 0 -2.32 0M33.00 283.54a1.16 1.16 0 1 0 2.32 0a1.16 1.16 0 1 0 -2.32 0M37.60 285.86a1.16 1.16 0 1 0 2.32 0a1.16 1.16 0 1 0 -2.32 0M39.90 290.51a1.16 1.16 0 1 0 2.32 0a1.16 1.16 0 1 0 -2.32 0M42.20 290.51a1.16 1.16 0 1 0 2.32 0a1.16 1.16 0 1 0 -2.32 0M44.50 290.51a1.16 1.16 0 1 0 2.32 0a1.16 1.16 0 1 0 -2.32 0M33.00 292.84a1.16 1.16 0 1 0 2.32 0a1.16 1.16 0 1 0 -2.32 0M35.30 292.84a1.16 1.16 0 1 0 2.32 0a1.16 1.16 0 1 0 -2.32 0M37.60 292.84a1.16 1.16 0 1 0 2.32 0a1.16 1.16 0 1 0 -2.32 0M39.90 292.84a1.16 1.16 0 1 0 2.32 0a1.16 1.16 0 1 0 -2.32 0M42.20 292.84a1.16 1.16 0 1 0 2.32 0a1.16 1.16 0 1 0 -2.32 0M44.50 292.84a1.16 1.16 0 1 0 2.32 0a1.16 1.16 0 1 0 -2.32 0M46.80 292.84a1.16 1.16 0 1 0 2.32 0a1.16 1.16 0 1 0 -2.32 0M33.00 295.16a1.16 1.16 0 1 0 2.32 0a1.16 1.16 0 1 0 -2.32 0M35.30 295.16a1.16 1.16 0 1 0 2.32 0a1.16 1.16 0 1 0 -2.32 0M37.60 295.16a1.16 1.16 0 1 0 2.32 0a1.16 1.16 0 1 0 -2.32 0M39.90 295.16a1.16 1.16 0 1 0 2.32 0a1.16 1.16 0 1 0 -2.32 0M42.20 295.16a1.16 1.16 0 1 0 2.32 0a1.16 1.16 0 1 0 -2.32 0M39.90 297.48a1.16 1.16 0 1 0 2.32 0a1.16 1.16 0 1 0 -2.32 0M37.60 299.81a1.16 1.16 0 1 0 2.32 0a1.16 1.16 0 1 0 -2.32 0M39.90 299.81a1.16 1.16 0 1 0 2.32 0a1.16 1.16 0 1 0 -2.32 0M33.00 302.13a1.16 1.16 0 1 0 2.32 0a1.16 1.16 0 1 0 -2.32 0M35.30 302.13a1.16 1.16 0 1 0 2.32 0a1.16 1.16 0 1 0 -2.32 0M37.60 302.13a1.16 1.16 0 1 0 2.32 0a1.16 1.16 0 1 0 -2.32 0M39.90 304.46a1.16 1.16 0 1 0 2.32 0a1.16 1.16 0 1 0 -2.32 0M42.20 304.46a1.16 1.16 0 1 0 2.32 0a1.16 1.16 0 1 0 -2.32 0M44.50 304.46a1.16 1.16 0 1 0 2.32 0a1.16 1.16 0 1 0 -2.32 0M46.80 304.46a1.16 1.16 0 1 0 2.32 0a1.16 1.16 0 1 0 -2.32 0M49.10 304.46a1.16 1.16 0 1 0 2.32 0a1.16 1.16 0 1 0 -2.32 0M51.40 304.46a1.16 1.16 0 1 0 2.32 0a1.16 1.16 0 1 0 -2.32 0M33.00 306.78a1.16 1.16 0 1 0 2.32 0a1.16 1.16 0 1 0 -2.32 0M35.30 306.78a1.16 1.16 0 1 0 2.32 0a1.16 1.16 0 1 0 -2.32 0M37.60 306.78a1.16 1.16 0 1 0 2.32 0a1.16 1.16 0 1 0 -2.32 0M39.90 306.78a1.16 1.16 0 1 0 2.32 0a1.16 1.16 0 1 0 -2.32 0M42.20 306.78a1.16 1.16 0 1 0 2.32 0a1.16 1.16 0 1 0 -2.32 0M44.50 306.78a1.16 1.16 0 1 0 2.32 0a1.16 1.16 0 1 0 -2.32 0M46.80 306.78a1.16 1.16 0 1 0 2.32 0a1.16 1.16 0 1 0 -2.32 0M37.60 311.43a1.16 1.16 0 1 0 2.32 0a1.16 1.16 0 1 0 -2.32 0M39.90 311.43a1.16 1.16 0 1 0 2.32 0a1.16 1.16 0 1 0 -2.32 0M42.20 311.43a1.16 1.16 0 1 0 2.32 0a1.16 1.16 0 1 0 -2.32 0M44.50 311.43a1.16 1.16 0 1 0 2.32 0a1.16 1.16 0 1 0 -2.32 0M46.80 311.43a1.16 1.16 0 1 0 2.32 0a1.16 1.16 0 1 0 -2.32 0M49.10 311.43a1.16 1.16 0 1 0 2.32 0a1.16 1.16 0 1 0 -2.32 0M51.40 311.43a1.16 1.16 0 1 0 2.32 0a1.16 1.16 0 1 0 -2.32 0M53.70 311.43a1.16 1.16 0 1 0 2.32 0a1.16 1.16 0 1 0 -2.32 0M56.00 311.43a1.16 1.16 0 1 0 2.32 0a1.16 1.16 0 1 0 -2.32 0M58.30 311.43a1.16 1.16 0 1 0 2.32 0a1.16 1.16 0 1 0 -2.32 0M60.60 311.43a1.16 1.16 0 1 0 2.32 0a1.16 1.16 0 1 0 -2.32 0M39.90 313.75a1.16 1.16 0 1 0 2.32 0a1.16 1.16 0 1 0 -2.32 0M42.20 313.75a1.16 1.16 0 1 0 2.32 0a1.16 1.16 0 1 0 -2.32 0M44.50 313.75a1.16 1.16 0 1 0 2.32 0a1.16 1.16 0 1 0 -2.32 0M35.30 318.40a1.16 1.16 0 1 0 2.32 0a1.16 1.16 0 1 0 -2.32 0M37.60 318.40a1.16 1.16 0 1 0 2.32 0a1.16 1.16 0 1 0 -2.32 0M39.90 318.40a1.16 1.16 0 1 0 2.32 0a1.16 1.16 0 1 0 -2.32 0M33.00 323.05a1.16 1.16 0 1 0 2.32 0a1.16 1.16 0 1 0 -2.32 0M35.30 323.05a1.16 1.16 0 1 0 2.32 0a1.16 1.16 0 1 0 -2.32 0M37.60 323.05a1.16 1.16 0 1 0 2.32 0a1.16 1.16 0 1 0 -2.32 0M39.90 323.05a1.16 1.16 0 1 0 2.32 0a1.16 1.16 0 1 0 -2.32 0" fill="#8AA4EE"/>
<path d="M32.97 251.00a1.19 1.19 0 1 0 2.38 0a1.19 1.19 0 1 0 -2.38 0M32.97 253.32a1.19 1.19 0 1 0 2.38 0a1.19 1.19 0 1 0 -2.38 0M35.27 253.32a1.19 1.19 0 1 0 2.38 0a1.19 1.19 0 1 0 -2.38 0M37.57 253.32a1.19 1.19 0 1 0 2.38 0a1.19 1.19 0 1 0 -2.38 0M39.87 253.32a1.19 1.19 0 1 0 2.38 0a1.19 1.19 0 1 0 -2.38 0M32.97 255.65a1.19 1.19 0 1 0 2.38 0a1.19 1.19 0 1 0 -2.38 0M35.27 255.65a1.19 1.19 0 1 0 2.38 0a1.19 1.19 0 1 0 -2.38 0M37.57 255.65a1.19 1.19 0 1 0 2.38 0a1.19 1.19 0 1 0 -2.38 0M39.87 255.65a1.19 1.19 0 1 0 2.38 0a1.19 1.19 0 1 0 -2.38 0M42.17 255.65a1.19 1.19 0 1 0 2.38 0a1.19 1.19 0 1 0 -2.38 0M32.97 257.97a1.19 1.19 0 1 0 2.38 0a1.19 1.19 0 1 0 -2.38 0M35.27 257.97a1.19 1.19 0 1 0 2.38 0a1.19 1.19 0 1 0 -2.38 0M37.57 257.97a1.19 1.19 0 1 0 2.38 0a1.19 1.19 0 1 0 -2.38 0M39.87 257.97a1.19 1.19 0 1 0 2.38 0a1.19 1.19 0 1 0 -2.38 0M42.17 257.97a1.19 1.19 0 1 0 2.38 0a1.19 1.19 0 1 0 -2.38 0M32.97 260.30a1.19 1.19 0 1 0 2.38 0a1.19 1.19 0 1 0 -2.38 0M35.27 260.30a1.19 1.19 0 1 0 2.38 0a1.19 1.19 0 1 0 -2.38 0M32.97 262.62a1.19 1.19 0 1 0 2.38 0a1.19 1.19 0 1 0 -2.38 0M35.27 262.62a1.19 1.19 0 1 0 2.38 0a1.19 1.19 0 1 0 -2.38 0M37.57 262.62a1.19 1.19 0 1 0 2.38 0a1.19 1.19 0 1 0 -2.38 0M39.87 262.62a1.19 1.19 0 1 0 2.38 0a1.19 1.19 0 1 0 -2.38 0M32.97 264.95a1.19 1.19 0 1 0 2.38 0a1.19 1.19 0 1 0 -2.38 0M35.27 264.95a1.19 1.19 0 1 0 2.38 0a1.19 1.19 0 1 0 -2.38 0M37.57 264.95a1.19 1.19 0 1 0 2.38 0a1.19 1.19 0 1 0 -2.38 0M39.87 264.95a1.19 1.19 0 1 0 2.38 0a1.19 1.19 0 1 0 -2.38 0M42.17 264.95a1.19 1.19 0 1 0 2.38 0a1.19 1.19 0 1 0 -2.38 0M44.47 264.95a1.19 1.19 0 1 0 2.38 0a1.19 1.19 0 1 0 -2.38 0M32.97 267.27a1.19 1.19 0 1 0 2.38 0a1.19 1.19 0 1 0 -2.38 0M35.27 267.27a1.19 1.19 0 1 0 2.38 0a1.19 1.19 0 1 0 -2.38 0M32.97 269.59a1.19 1.19 0 1 0 2.38 0a1.19 1.19 0 1 0 -2.38 0M35.27 269.59a1.19 1.19 0 1 0 2.38 0a1.19 1.19 0 1 0 -2.38 0M37.57 269.59a1.19 1.19 0 1 0 2.38 0a1.19 1.19 0 1 0 -2.38 0M32.97 271.92a1.19 1.19 0 1 0 2.38 0a1.19 1.19 0 1 0 -2.38 0M35.27 271.92a1.19 1.19 0 1 0 2.38 0a1.19 1.19 0 1 0 -2.38 0M37.57 271.92a1.19 1.19 0 1 0 2.38 0a1.19 1.19 0 1 0 -2.38 0M32.97 274.24a1.19 1.19 0 1 0 2.38 0a1.19 1.19 0 1 0 -2.38 0M35.27 274.24a1.19 1.19 0 1 0 2.38 0a1.19 1.19 0 1 0 -2.38 0M37.57 274.24a1.19 1.19 0 1 0 2.38 0a1.19 1.19 0 1 0 -2.38 0M32.97 276.57a1.19 1.19 0 1 0 2.38 0a1.19 1.19 0 1 0 -2.38 0M32.97 278.89a1.19 1.19 0 1 0 2.38 0a1.19 1.19 0 1 0 -2.38 0M35.27 278.89a1.19 1.19 0 1 0 2.38 0a1.19 1.19 0 1 0 -2.38 0M32.97 281.22a1.19 1.19 0 1 0 2.38 0a1.19 1.19 0 1 0 -2.38 0M35.27 281.22a1.19 1.19 0 1 0 2.38 0a1.19 1.19 0 1 0 -2.38 0M37.57 281.22a1.19 1.19 0 1 0 2.38 0a1.19 1.19 0 1 0 -2.38 0M39.87 281.22a1.19 1.19 0 1 0 2.38 0a1.19 1.19 0 1 0 -2.38 0M42.17 281.22a1.19 1.19 0 1 0 2.38 0a1.19 1.19 0 1 0 -2.38 0M32.97 285.86a1.19 1.19 0 1 0 2.38 0a1.19 1.19 0 1 0 -2.38 0M35.27 285.86a1.19 1.19 0 1 0 2.38 0a1.19 1.19 0 1 0 -2.38 0M32.97 288.19a1.19 1.19 0 1 0 2.38 0a1.19 1.19 0 1 0 -2.38 0M32.97 290.51a1.19 1.19 0 1 0 2.38 0a1.19 1.19 0 1 0 -2.38 0M35.27 290.51a1.19 1.19 0 1 0 2.38 0a1.19 1.19 0 1 0 -2.38 0M37.57 290.51a1.19 1.19 0 1 0 2.38 0a1.19 1.19 0 1 0 -2.38 0M32.97 297.48a1.19 1.19 0 1 0 2.38 0a1.19 1.19 0 1 0 -2.38 0M35.27 297.48a1.19 1.19 0 1 0 2.38 0a1.19 1.19 0 1 0 -2.38 0M37.57 297.48a1.19 1.19 0 1 0 2.38 0a1.19 1.19 0 1 0 -2.38 0M32.97 299.81a1.19 1.19 0 1 0 2.38 0a1.19 1.19 0 1 0 -2.38 0M35.27 299.81a1.19 1.19 0 1 0 2.38 0a1.19 1.19 0 1 0 -2.38 0M32.97 304.46a1.19 1.19 0 1 0 2.38 0a1.19 1.19 0 1 0 -2.38 0M35.27 304.46a1.19 1.19 0 1 0 2.38 0a1.19 1.19 0 1 0 -2.38 0M37.57 304.46a1.19 1.19 0 1 0 2.38 0a1.19 1.19 0 1 0 -2.38 0M32.97 309.11a1.19 1.19 0 1 0 2.38 0a1.19 1.19 0 1 0 -2.38 0M35.27 309.11a1.19 1.19 0 1 0 2.38 0a1.19 1.19 0 1 0 -2.38 0M32.97 311.43a1.19 1.19 0 1 0 2.38 0a1.19 1.19 0 1 0 -2.38 0M35.27 311.43a1.19 1.19 0 1 0 2.38 0a1.19 1.19 0 1 0 -2.38 0M32.97 313.75a1.19 1.19 0 1 0 2.38 0a1.19 1.19 0 1 0 -2.38 0M35.27 313.75a1.19 1.19 0 1 0 2.38 0a1.19 1.19 0 1 0 -2.38 0M37.57 313.75a1.19 1.19 0 1 0 2.38 0a1.19 1.19 0 1 0 -2.38 0M32.97 316.08a1.19 1.19 0 1 0 2.38 0a1.19 1.19 0 1 0 -2.38 0M32.97 318.40a1.19 1.19 0 1 0 2.38 0a1.19 1.19 0 1 0 -2.38 0M32.97 320.73a1.19 1.19 0 1 0 2.38 0a1.19 1.19 0 1 0 -2.38 0M35.27 320.73a1.19 1.19 0 1 0 2.38 0a1.19 1.19 0 1 0 -2.38 0M32.97 325.38a1.19 1.19 0 1 0 2.38 0a1.19 1.19 0 1 0 -2.38 0M35.27 325.38a1.19 1.19 0 1 0 2.38 0a1.19 1.19 0 1 0 -2.38 0M32.97 327.70a1.19 1.19 0 1 0 2.38 0a1.19 1.19 0 1 0 -2.38 0M35.27 327.70a1.19 1.19 0 1 0 2.38 0a1.19 1.19 0 1 0 -2.38 0M37.57 327.70a1.19 1.19 0 1 0 2.38 0a1.19 1.19 0 1 0 -2.38 0M39.87 327.70a1.19 1.19 0 1 0 2.38 0a1.19 1.19 0 1 0 -2.38 0M42.17 327.70a1.19 1.19 0 1 0 2.38 0a1.19 1.19 0 1 0 -2.38 0" fill="#E74251"/>
<text x="72.5" y="201.0" text-anchor="middle" font-size="10">4</text>
<path d="M83.00 109.45L93.30 3.30M83.00 109.91L93.30 5.58M83.00 110.11L93.30 7.87M83.00 114.15L93.30 10.15M83.00 114.45L93.30 12.44M83.00 116.49L93.30 14.72M83.00 117.93L93.30 17.01M83.00 119.71L93.30 19.29M83.00 120.26L93.30 21.58M83.00 123.51L93.30 23.86M83.00 125.51L93.30 26.15M83.00 128.80L93.30 28.43M83.00 129.38L93.30 30.71M83.00 129.95L93.30 33.00M83.00 130.33L93.30 35.28M83.00 130.76L93.30 37.57M83.00 132.45L93.30 39.85M83.00 132.93L93.30 42.14M83.00 133.32L93.30 44.42M83.00 133.84L93.30 46.71M83.00 135.00L93.30 48.99M83.00 135.82L93.30 51.27M83.00 137.59L93.30 53.56M83.00 140.88L93.30 55.84M83.00 142.35L93.30 58.13M83.00 144.57L93.30 60.41M83.00 145.21L93.30 62.70M83.00 145.78L93.30 64.98M83.00 145.97L93.30 67.27M83.00 146.04L93.30 69.55M83.00 146.10L93.30 71.84M83.00 146.25L93.30 74.12M83.00 148.83L93.30 76.40M83.00 150.79L93.30 78.69M83.00 151.14L93.30 80.97M83.00 151.19L93.30 83.26M83.00 152.22L93.30 85.54M83.00 152.52L93.30 87.83M83.00 153.40L93.30 90.11M83.00 154.42L93.30 92.40M83.00 158.57L93.30 94.68M83.00 159.83L93.30 96.96M83.00 161.12L93.30 99.25M83.00 161.22L93.30 101.53M83.00 161.39L93.30 103.82M83.00 164.07L93.30 106.10M83.00 164.96L93.30 108.39M83.00 165.49L93.30 110.67M83.00 167.69L93.30 112.96M83.00 170.59L93.30 115.24M83.00 173.61L93.30 117.53M83.00 173.85L93.30 119.81M83.00 175.50L93.30 122.09M83.00 176.03L93.30 124.38M83.00 176.35L93.30 126.66M83.00 178.11L93.30 128.95M83.00 178.72L93.30 131.23M83.00 179.55L93.30 133.52M83.00 180.27L93.30 135.80M83.00 182.21L93.30 138.09M83.00 182.73L93.30 140.37M83.00 182.83L93.30 142.65M83.00 183.00L93.30 144.94M83.00 186.03L93.30 147.22M83.00 186.74L93.30 149.51M83.00 187.48L93.30 151.79M83.00 188.69L93.30 154.08M83.00 188.90L93.30 156.36M83.00 190.10L93.30 158.65M83.00 192.69L93.30 160.93M83.00 194.33L93.30 163.22M83.00 197.83L93.30 165.50M83.00 198.12L93.30 167.78M83.00 198.14L93.30 170.07M83.00 198.16L93.30 172.35M83.00 198.35L93.30 174.64M83.00 198.83L93.30 176.92M83.00 198.96L93.30 179.21M83.00 199.14L93.30 181.49M83.00 200.17L93.30 183.78M83.00 201.80L93.30 186.06M83.00 201.98L93.30 188.35M83.00 202.67L93.30 190.63M83.00 203.18L93.30 192.91M83.00 203.23L93.30 195.20M83.00 204.69L93.30 197.48M83.00 205.14L93.30 199.77M83.00 206.69L93.30 202.05M83.00 208.45L93.30 204.34M83.00 210.06L93.30 206.62M83.00 210.64L93.30 208.91M83.00 211.53L93.30 211.19M83.00 211.92L93.30 213.47M83.00 213.03L93.30 215.76M83.00 213.49L93.30 218.04M83.00 218.40L93.30 220.33M83.00 218.93L93.30 222.61M83.00 219.19L93.30 224.90M83.00 223.72L93.30 227.18M83.00 225.34L93.30 229.47M83.00 225.97L93.30 234.04M83.00 226.32L93.30 236.32M83.00 226.32L93.30 238.60M83.00 226.64L93.30 240.89M83.00 227.34L93.30 243.17M83.00 228.51L93.30 245.46M83.00 229.92L93.30 247.74M83.00 230.36L93.30 250.03M83.00 233.63L93.30 252.31M83.00 234.39L93.30 254.60M83.00 235.52L93.30 256.88M83.00 236.05L93.30 259.16M83.00 237.74L93.30 261.45M83.00 239.68L93.30 263.73M83.00 239.84L93.30 266.02M83.00 240.44L93.30 268.30M83.00 240.49L93.30 270.59M83.00 240.83L93.30 272.87M83.00 241.25L93.30 275.16M83.00 241.25L93.30 277.44M83.00 244.79L93.30 279.73M83.00 246.14L93.30 282.01M83.00 247.31L93.30 284.29M83.00 248.88L93.30 286.58M83.00 249.55L93.30 288.86M83.00 249.84L93.30 291.15M83.00 250.33L93.30 293.43M83.00 250.61L93.30 295.72M83.00 253.15L93.30 298.00M83.00 253.85L93.30 300.29M83.00 255.81L93.30 302.57M83.00 257.55L93.30 304.85M83.00 257.86L93.30 307.14M83.00 262.52L93.30 309.42M83.00 262.71L93.30 311.71M83.00 263.45L93.30 313.99M83.00 263.65L93.30 316.28M83.00 264.87L93.30 318.56M83.00 267.45L93.30 320.85M83.00 268.85L93.30 323.13M83.00 275.53L93.30 325.42M83.00 280.23L93.30 327.70" stroke="#000" stroke-width="0.5" fill="none"/>
<rect x="79.0" y="107" width="3.40" height="176.00" rx="1.70" fill="#dadada"/>
<path d="M79.00 110.20h3.40v0.50h-3.40zM79.00 119.20h3.40v0.50h-3.40zM79.00 129.55h3.40v0.50h-3.40zM79.00 138.85h3.40v1.40h-3.40zM79.00 142.60h3.40v0.50h-3.40zM79.00 153.40h3.40v1.40h-3.40zM79.00 157.50h3.40v0.70h-3.40zM79.00 165.40h3.40v0.70h-3.40zM79.00 181.25h3.40v1.80h-3.40zM79.00 193.75h3.40v0.70h-3.40zM79.00 201.00h3.40v1.40h-3.40zM79.00 206.50h3.40v0.70h-3.40zM79.00 214.50h3.40v0.90h-3.40zM79.00 227.50h3.40v1.80h-3.40zM79.00 229.90h3.40v1.40h-3.40zM79.00 231.75h3.40v0.90h-3.40zM79.00 247.50h3.40v0.50h-3.40zM79.00 248.80h3.40v0.50h-3.40zM79.00 257.70h3.40v1.40h-3.40zM79.00 260.10h3.40v0.50h-3.40zM79.00 266.15h3.40v1.40h-3.40z" fill="#7a7a7a"/>
<path d="M79.00 111.00h3.40v1.80h-3.40zM79.00 113.40h3.40v1.80h-3.40zM79.00 115.80h3.40v0.50h-3.40zM79.00 172.00h3.40v0.70h-3.40zM79.00 215.85h3.40v1.40h-3.40zM79.00 217.55h3.40v1.10h-3.40zM79.00 252.85h3.40v1.40h-3.40zM79.00 261.40h3.40v0.50h-3.40zM79.00 269.50h3.40v0.90h-3.40zM79.00 274.25h3.40v0.70h-3.40z" fill="#111"/>
<path d="M79.00 117.30h3.40v0.90h-3.40zM79.00 120.30h3.40v0.90h-3.40zM79.00 121.50h3.40v1.40h-3.40zM79.00 147.80h3.40v0.90h-3.40zM79.00 152.10h3.40v0.70h-3.40zM79.00 169.60h3.40v1.40h-3.40zM79.00 174.90h3.40v1.80h-3.40zM79.00 177.70h3.40v1.40h-3.40zM79.00 179.55h3.40v1.10h-3.40zM79.00 183.85h3.40v1.80h-3.40zM79.00 203.20h3.40v1.10h-3.40zM79.00 209.20h3.40v0.50h-3.40zM79.00 233.65h3.40v0.90h-3.40zM79.00 237.95h3.40v0.70h-3.40zM79.00 239.10h3.40v0.50h-3.40zM79.00 249.90h3.40v0.50h-3.40zM79.00 254.70h3.40v0.70h-3.40zM79.00 256.20h3.40v0.70h-3.40zM79.00 271.85h3.40v1.40h-3.40zM79.00 275.95h3.40v1.40h-3.40zM79.00 277.65h3.40v1.10h-3.40z" fill="#2a2a2a"/>
<path d="M79.00 123.20h3.40v1.40h-3.40zM79.00 125.05h3.40v1.40h-3.40zM79.00 127.45h3.40v1.10h-3.40zM79.00 135.25h3.40v1.10h-3.40zM79.00 143.90h3.40v1.40h-3.40zM79.00 146.30h3.40v0.90h-3.40zM79.00 159.20h3.40v0.70h-3.40zM79.00 160.20h3.40v0.50h-3.40zM79.00 161.50h3.40v1.40h-3.40zM79.00 194.75h3.40v0.90h-3.40zM79.00 198.15h3.40v1.40h-3.40zM79.00 200.00h3.40v0.70h-3.40zM79.00 224.40h3.40v0.70h-3.40zM79.00 225.40h3.40v1.10h-3.40zM79.00 242.80h3.40v0.70h-3.40zM79.00 245.80h3.40v1.40h-3.40zM79.00 268.00h3.40v0.90h-3.40z" fill="#444"/>
<path d="M79.00 130.65h3.40v1.80h-3.40zM79.00 163.70h3.40v0.90h-3.40zM79.00 173.00h3.40v0.90h-3.40zM79.00 186.25h3.40v0.50h-3.40zM79.00 187.05h3.40v0.90h-3.40zM79.00 188.75h3.40v0.90h-3.40zM79.00 210.15h3.40v1.80h-3.40zM79.00 212.40h3.40v1.80h-3.40zM79.00 218.95h3.40v0.70h-3.40zM79.00 220.10h3.40v0.90h-3.40zM79.00 240.40h3.40v1.80h-3.40zM79.00 244.10h3.40v0.90h-3.40zM79.00 262.35h3.40v0.70h-3.40zM79.00 265.35h3.40v0.50h-3.40zM79.00 270.85h3.40v0.70h-3.40z" fill="#5e5e5e"/>
<path d="M79.00 133.05h3.40v1.40h-3.40zM79.00 137.15h3.40v1.10h-3.40zM79.00 141.25h3.40v0.90h-3.40zM79.00 149.70h3.40v1.40h-3.40zM79.00 155.60h3.40v0.90h-3.40zM79.00 166.55h3.40v0.90h-3.40zM79.00 167.90h3.40v0.70h-3.40zM79.00 189.95h3.40v1.10h-3.40zM79.00 191.65h3.40v1.10h-3.40zM79.00 196.65h3.40v0.90h-3.40zM79.00 205.10h3.40v1.10h-3.40zM79.00 207.50h3.40v0.90h-3.40zM79.00 222.00h3.40v1.40h-3.40zM79.00 235.35h3.40v1.80h-3.40zM79.00 250.85h3.40v1.40h-3.40zM79.00 263.65h3.40v0.70h-3.40zM79.00 279.05h3.40v0.50h-3.40z" fill="#000"/>
<ellipse cx="80.70" cy="108.50" rx="1.70" ry="1.5" fill="#000"/>
<ellipse cx="80.70" cy="281.50" rx="1.70" ry="1.5" fill="#000"/>
<path d="M97.70 5.58a1.16 1.16 0 1 0 2.32 0a1.16 1.16 0 1 0 -2.32 0M100.00 5.58a1.16 1.16 0 1 0 2.32 0a1.16 1.16 0 1 0 -2.32 0M102.30 5.58a1.16 1.16 0 1 0 2.32 0a1.16 1.16 0 1 0 -2.32 0M104.60 5.58a1.16 1.16 0 1 0 2.32 0a1.16 1.16 0 1 0 -2.32 0M106.90 5.58a1.16 1.16 0 1 0 2.32 0a1.16 1.16 0 1 0 -2.32 0M95.40 7.87a1.16 1.16 0 1 0 2.32 0a1.16 1.16 0 1 0 -2.32 0M97.70 10.15a1.16 1.16 0 1 0 2.32 0a1.16 1.16 0 1 0 -2.32 0M100.00 10.15a1.16 1.16 0 1 0 2.32 0a1.16 1.16 0 1 0 -2.32 0M102.30 10.15a1.16 1.16 0 1 0 2.32 0a1.16 1.16 0 1 0 -2.32 0M104.60 10.15a1.16 1.16 0 1 0 2.32 0a1.16 1.16 0 1 0 -2.32 0M106.90 10.15a1.16 1.16 0 1 0 2.32 0a1.16 1.16 0 1 0 -2.32 0M109.20 10.15a1.16 1.16 0 1 0 2.32 0a1.16 1.16 0 1 0 -2.32 0M95.40 12.44a1.16 1.16 0 1 0 2.32 0a1.16 1.16 0 1 0 -2.32 0M95.40 14.72a1.16 1.16 0 1 0 2.32 0a1.16 1.16 0 1 0 -2.32 0M97.70 14.72a1.16 1.16 0 1 0 2.32 0a1.16 1.16 0 1 0 -2.32 0M100.00 14.72a1.16 1.16 0 1 0 2.32 0a1.16 1.16 0 1 0 -2.32 0M102.30 14.72a1.16 1.16 0 1 0 2.32 0a1.16 1.16 0 1 0 -2.32 0M97.70 17.01a1.16 1.16 0 1 0 2.32 0a1.16 1.16 0 1 0 -2.32 0M97.70 19.29a1.16 1.16 0 1 0 2.32 0a1.16 1.16 0 1 0 -2.32 0M100.00 19.29a1.16 1.16 0 1 0 2.32 0a1.16 1.16 0 1 0 -2.32 0M95.40 21.58a1.16 1.16 0 1 0 2.32 0a1.16 1.16 0 1 0 -2.32 0M97.70 21.58a1.16 1.16 0 1 0 2.32 0a1.16 1.16 0 1 0 -2.32 0M100.00 21.58a1.16 1.16 0 1 0 2.32 0a1.16 1.16 0 1 0 -2.32 0M102.30 21.58a1.16 1.16 0 1 0 2.32 0a1.16 1.16 0 1 0 -2.32 0M95.40 23.86a1.16 1.16 0 1 0 2.32 0a1.16 1.16 0 1 0 -2.32 0M97.70 23.86a1.16 1.16 0 1 0 2.32 0a1.16 1.16 0 1 0 -2.32 0M100.00 23.86a1.16 1.16 0 1 0 2.32 0a1.16 1.16 0 1 0 -2.32 0M97.70 26.15a1.16 1.16 0 1 0 2.32 0a1.16 1.16 0 1 0 -2.32 0M100.00 26.15a1.16 1.16 0 1 0 2.32 0a1.16 1.16 0 1 0 -2.32 0M102.30 26.15a1.16 1.16 0 1 0 2.32 0a1.16 1.16 0 1 0 -2.32 0M104.60 26.15a1.16 1.16 0 1 0 2.32 0a1.16 1.16 0 1 0 -2.32 0M95.40 28.43a1.16 1.16 0 1 0 2.32 0a1.16 1.16 0 1 0 -2.32 0M97.70 28.43a1.16 1.16 0 1 0 2.32 0a1.16 1.16 0 1 0 -2.32 0M100.00 28.43a1.16 1.16 0 1 0 2.32 0a1.16 1.16 0 1 0 -2.32 0M102.30 28.43a1.16 1.16 0 1 0 2.32 0a1.16 1.16 0 1 0 -2.32 0M95.40 30.71a1.16 1.16 0 1 0 2.32 0a1.16 1.16 0 1 0 -2.32 0M95.40 33.00a1.16 1.16 0 1 0 2.32 0a1.16 1.16 0 1 0 -2.32 0M95.40 37.57a1.16 1.16 0 1 0 2.32 0a1.16 1.16 0 1 0 -2.32 0M97.70 37.57a1.16 1.16 0 1 0 2.32 0a1.16 1.16 0 1 0 -2.32 0M95.40 39.85a1.16 1.16 0 1 0 2.32 0a1.16 1.16 0 1 0 -2.32 0M97.70 39.85a1.16 1.16 0 1 0 2.32 0a1.16 1.16 0 1 0 -2.32 0M100.00 39.85a1.16 1.16 0 1 0 2.32 0a1.16 1.16 0 1 0 -2.32 0M95.40 42.14a1.16 1.16 0 1 0 2.32 0a1.16 1.16 0 1 0 -2.32 0M97.70 42.14a1.16 1.16 0 1 0 2.32 0a1.16 1.16 0 1 0 -2.32 0M100.00 42.14a1.16 1.16 0 1 0 2.32 0a1.16 1.16 0 1 0 -2.32 0M102.30 42.14a1.16 1.16 0 1 0 2.32 0a1.16 1.16 0 1 0 -2.32 0M104.60 42.14a1.16 1.16 0 1 0 2.32 0a1.16 1.16 0 1 0 -2.32 0M95.40 44.42a1.16 1.16 0 1 0 2.32 0a1.16 1.16 0 1 0 -2.32 0M97.70 44.42a1.16 1.16 0 1 0 2.32 0a1.16 1.16 0 1 0 -2.32 0M100.00 44.42a1.16 1.16 0 1 0 2.32 0a1.16 1.16 0 1 0 -2.32 0M102.30 44.42a1.16 1.16 0 1 0 2.32 0a1.16 1.16 0 1 0 -2.32 0M95.40 46.71a1.16 1.16 0 1 0 2.32 0a1.16 1.16 0 1 0 -2.32 0M97.70 46.71a1.16 1.16 0 1 0 2.32 0a1.16 1.16 0 1 0 -2.32 0M95.40 48.99a1.16 1.16 0 1 0 2.32 0a1.16 1.16 0 1 0 -2.32 0M97.70 48.99a1.16 1.16 0 1 0 2.32 0a1.16 1.16 0 1 0 -2.32 0M95.40 51.27a1.16 1.16 0 1 0 2.32 0a1.16 1.16 0 1 0 -2.32 0M97.70 51.27a1.16 1.16 0 1 0 2.32 0a1.16 1.16 0 1 0 -2.32 0M100.00 51.27a1.16 1.16 0 1 0 2.32 0a1.16 1.16 0 1 0 -2.32 0M102.30 51.27a1.16 1.16 0 1 0 2.32 0a1.16 1.16 0 1 0 -2.32 0M104.60 51.27a1.16 1.16 0 1 0 2.32 0a1.16 1.16 0 1 0 -2.32 0M106.90 51.27a1.16 1.16 0 1 0 2.32 0a1.16 1.16 0 1 0 -2.32 0M109.20 51.27a1.16 1.16 0 1 0 2.32 0a1.16 1.16 0 1 0 -2.32 0M111.50 51.27a1.16 1.16 0 1 0 2.32 0a1.16 1.16 0 1 0 -2.32 0M97.70 53.56a1.16 1.16 0 1 0 2.32 0a1.16 1.16 0 1 0 -2.32 0M100.00 53.56a1.16 1.16 0 1 0 2.32 0a1.16 1.16 0 1 0 -2.32 0M102.30 53.56a1.16 1.16 0 1 0 2.32 0a1.16 1.16 0 1 0 -2.32 0M104.60 53.56a1.16 1.16 0 1 0 2.32 0a1.16 1.16 0 1 0 -2.32 0M106.90 53.56a1.16 1.16 0 1 0 2.32 0a1.16 1.16 0 1 0 -2.32 0M95.40 55.84a1.16 1.16 0 1 0 2.32 0a1.16 1.16 0 1 0 -2.32 0M97.70 55.84a1.16 1.16 0 1 0 2.32 0a1.16 1.16 0 1 0 -2.32 0M100.00 55.84a1.16 1.16 0 1 0 2.32 0a1.16 1.16 0 1 0 -2.32 0M102.30 55.84a1.16 1.16 0 1 0 2.32 0a1.16 1.16 0 1 0 -2.32 0M104.60 55.84a1.16 1.16 0 1 0 2.32 0a1.16 1.16 0 1 0 -2.32 0M106.90 55.84a1.16 1.16 0 1 0 2.32 0a1.16 1.16 0 1 0 -2.32 0M109.20 55.84a1.16 1.16 0 1 0 2.32 0a1.16 1.16 0 1 0 -2.32 0M111.50 55.84a1.16 1.16 0 1 0 2.32 0a1.16 1.16 0 1 0 -2.32 0M97.70 58.13a1.16 1.16 0 1 0 2.32 0a1.16 1.16 0 1 0 -2.32 0M100.00 58.13a1.16 1.16 0 1 0 2.32 0a1.16 1.16 0 1 0 -2.32 0M102.30 58.13a1.16 1.16 0 1 0 2.32 0a1.16 1.16 0 1 0 -2.32 0M104.60 58.13a1.16 1.16 0 1 0 2.32 0a1.16 1.16 0 1 0 -2.32 0M106.90 58.13a1.16 1.16 0 1 0 2.32 0a1.16 1.16 0 1 0 -2.32 0M95.40 60.41a1.16 1.16 0 1 0 2.32 0a1.16 1.16 0 1 0 -2.32 0M97.70 60.41a1.16 1.16 0 1 0 2.32 0a1.16 1.16 0 1 0 -2.32 0M100.00 60.41a1.16 1.16 0 1 0 2.32 0a1.16 1.16 0 1 0 -2.32 0M102.30 60.41a1.16 1.16 0 1 0 2.32 0a1.16 1.16 0 1 0 -2.32 0M104.60 60.41a1.16 1.16 0 1 0 2.32 0a1.16 1.16 0 1 0 -2.32 0M106.90 60.41a1.16 1.16 0 1 0 2.32 0a1.16 1.16 0 1 0 -2.32 0M109.20 60.41a1.16 1.16 0 1 0 2.32 0a1.16 1.16 0 1 0 -2.32 0M111.50 60.41a1.16 1.16 0 1 0 2.32 0a1.16 1.16 0 1 0 -2.32 0M95.40 62.70a1.16 1.16 0 1 0 2.32 0a1.16 1.16 0 1 0 -2.32 0M97.70 62.70a1.16 1.16 0 1 0 2.32 0a1.16 1.16 0 1 0 -2.32 0M100.00 62.70a1.16 1.16 0 1 0 2.32 0a1.16 1.16 0 1 0 -2.32 0M102.30 62.70a1.16 1.16 0 1 0 2.32 0a1.16 1.16 0 1 0 -2.32 0M95.40 64.98a1.16 1.16 0 1 0 2.32 0a1.16 1.16 0 1 0 -2.32 0M95.40 67.27a1.16 1.16 0 1 0 2.32 0a1.16 1.16 0 1 0 -2.32 0M97.70 67.27a1.16 1.16 0 1 0 2.32 0a1.16 1.16 0 1 0 -2.32 0M95.40 69.55a1.16 1.16 0 1 0 2.32 0a1.16 1.16 0 1 0 -2.32 0M95.40 71.84a1.16 1.16 0 1 0 2.32 0a1.16 1.16 0 1 0 -2.32 0M95.40 76.40a1.16 1.16 0 1 0 2.32 0a1.16 1.16 0 1 0 -2.32 0M97.70 78.69a1.16 1.16 0 1 0 2.32 0a1.16 1.16 0 1 0 -2.32 0M100.00 78.69a1.16 1.16 0 1 0 2.32 0a1.16 1.16 0 1 0 -2.32 0M95.40 80.97a1.16 1.16 0 1 0 2.32 0a1.16 1.16 0 1 0 -2.32 0M97.70 80.97a1.16 1.16 0 1 0 2.32 0a1.16 1.16 0 1 0 -2.32 0M100.00 80.97a1.16 1.16 0 1 0 2.32 0a1.16 1.16 0 1 0 -2.32 0M102.30 80.97a1.16 1.16 0 1 0 2.32 0a1.16 1.16 0 1 0 -2.32 0M104.60 80.97a1.16 1.16 0 1 0 2.32 0a1.16 1.16 0 1 0 -2.32 0M97.70 83.26a1.16 1.16 0 1 0 2.32 0a1.16 1.16 0 1 0 -2.32 0M100.00 83.26a1.16 1.16 0 1 0 2.32 0a1.16 1.16 0 1 0 -2.32 0M102.30 83.26a1.16 1.16 0 1 0 2.32 0a1.16 1.16 0 1 0 -2.32 0M104.60 83.26a1.16 1.16 0 1 0 2.32 0a1.16 1.16 0 1 0 -2.32 0M95.40 87.83a1.16 1.16 0 1 0 2.32 0a1.16 1.16 0 1 0 -2.32 0M95.40 90.11a1.16 1.16 0 1 0 2.32 0a1.16 1.16 0 1 0 -2.32 0M97.70 90.11a1.16 1.16 0 1 0 2.32 0a1.16 1.16 0 1 0 -2.32 0M100.00 90.11a1.16 1.16 0 1 0 2.32 0a1.16 1.16 0 1 0 -2.32 0M95.40 92.40a1.16 1.16 0 1 0 2.32 0a1.16 1.16 0 1 0 -2.32 0M97.70 92.40a1.16 1.16 0 1 0 2.32 0a1.16 1.16 0 1 0 -2.32 0M100.00 92.40a1.16 1.16 0 1 0 2.32 0a1.16 1.16 0 1 0 -2.32 0M102.30 92.40a1.16 1.16 0 1 0 2.32 0a1.16 1.16 0 1 0 -2.32 0M104.60 92.40a1.16 1.16 0 1 0 2.32 0a1.16 1.16 0 1 0 -2.32 0M95.40 94.68a1.16 1.16 0 1 0 2.32 0a1.16 1.16 0 1 0 -2.32 0M95.40 96.96a1.16 1.16 0 1 0 2.32 0a1.16 1.16 0 1 0 -2.32 0M97.70 96.96a1.16 1.16 0 1 0 2.32 0a1.16 1.16 0 1 0 -2.32 0M100.00 96.96a1.16 1.16 0 1 0 2.32 0a1.16 1.16 0 1 0 -2.32 0M102.30 96.96a1.16 1.16 0 1 0 2.32 0a1.16 1.16 0 1 0 -2.32 0M104.60 96.96a1.16 1.16 0 1 0 2.32 0a1.16 1.16 0 1 0 -2.32 0M95.40 99.25a1.16 1.16 0 1 0 2.32 0a1.16 1.16 0 1 0 -2.32 0M95.40 101.53a1.16 1.16 0 1 0 2.32 0a1.16 1.16 0 1 0 -2.32 0M97.70 101.53a1.16 1.16 0 1 0 2.32 0a1.16 1.16 0 1 0 -2.32 0M95.40 103.82a1.16 1.16 0 1 0 2.32 0a1.16 1.16 0 1 0 -2.32 0M97.70 103.82a1.16 1.16 0 1 0 2.32 0a1.16 1.16 0 1 0 -2.32 0M95.40 106.10a1.16 1.16 0 1 0 2.32 0a1.16 1.16 0 1 0 -2.32 0M95.40 108.39a1.16 1.16 0 1 0 2.32 0a1.16 1.16 0 1 0 -2.32 0M95.40 110.67a1.16 1.16 0 1 0 2.32 0a1.16 1.16 0 1 0 -2.32 0M97.70 110.67a1.16 1.16 0 1 0 2.32 0a1.16 1.16 0 1 0 -2.32 0M95.40 112.96a1.16 1.16 0 1 0 2.32 0a1.16 1.16 0 1 0 -2.32 0M97.70 112.96a1.16 1.16 0 1 0 2.32 0a1.16 1.16 0 1 0 -2.32 0M95.40 117.53a1.16 1.16 0 1 0 2.32 0a1.16 1.16 0 1 0 -2.32 0M97.70 117.53a1.16 1.16 0 1 0 2.32 0a1.16 1.16 0 1 0 -2.32 0M100.00 117.53a1.16 1.16 0 1 0 2.32 0a1.16 1.16 0 1 0 -2.32 0M95.40 122.09a1.16 1.16 0 1 0 2.32 0a1.16 1.16 0 1 0 -2.32 0M97.70 122.09a1.16 1.16 0 1 0 2.32 0a1.16 1.16 0 1 0 -2.32 0M100.00 122.09a1.16 1.16 0 1 0 2.32 0a1.16 1.16 0 1 0 -2.32 0M102.30 122.09a1.16 1.16 0 1 0 2.32 0a1.16 1.16 0 1 0 -2.32 0M95.40 124.38a1.16 1.16 0 1 0 2.32 0a1.16 1.16 0 1 0 -2.32 0M97.70 124.38a1.16 1.16 0 1 0 2.32 0a1.16 1.16 0 1 0 -2.32 0M95.40 126.66a1.16 1.16 0 1 0 2.32 0a1.16 1.16 0 1 0 -2.32 0M97.70 126.66a1.16 1.16 0 1 0 2.32 0a1.16 1.16 0 1 0 -2.32 0M95.40 128.95a1.16 1.16 0 1 0 2.32 0a1.16 1.16 0 1 0 -2.32 0M97.70 128.95a1.16 1.16 0 1 0 2.32 0a1.16 1.16 0 1 0 -2.32 0M100.00 128.95a1.16 1.16 0 1 0 2.32 0a1.16 1.16 0 1 0 -2.32 0M102.30 128.95a1.16 1.16 0 1 0 2.32 0a1.16 1.16 0 1 0 -2.32 0M97.70 131.23a1.16 1.16 0 1 0 2.32 0a1.16 1.16 0 1 0 -2.32 0M95.40 133.52a1.16 1.16 0 1 0 2.32 0a1.16 1.16 0 1 0 -2.32 0M97.70 133.52a1.16 1.16 0 1 0 2.32 0a1.16 1.16 0 1 0 -2.32 0M95.40 135.80a1.16 1.16 0 1 0 2.32 0a1.16 1.16 0 1 0 -2.32 0M95.40 138.09a1.16 1.16 0 1 0 2.32 0a1.16 1.16 0 1 0 -2.32 0M97.70 138.09a1.16 1.16 0 1 0 2.32 0a1.16 1.16 0 1 0 -2.32 0M100.00 138.09a1.16 1.16 0 1 0 2.32 0a1.16 1.16 0 1 0 -2.32 0M97.70 140.37a1.16 1.16 0 1 0 2.32 0a1.16 1.16 0 1 0 -2.32 0M100.00 140.37a1.16 1.16 0 1 0 2.32 0a1.16 1.16 0 1 0 -2.32 0M95.40 142.65a1.16 1.16 0 1 0 2.32 0a1.16 1.16 0 1 0 -2.32 0M95.40 144.94a1.16 1.16 0 1 0 2.32 0a1.16 1.16 0 1 0 -2.32 0M97.70 144.94a1.16 1.16 0 1 0 2.32 0a1.16 1.16 0 1 0 -2.32 0M100.00 144.94a1.16 1.16 0 1 0 2.32 0a1.16 1.16 0 1 0 -2.32 0M102.30 144.94a1.16 1.16 0 1 0 2.32 0a1.16 1.16 0 1 0 -2.32 0M95.40 147.22a1.16 1.16 0 1 0 2.32 0a1.16 1.16 0 1 0 -2.32 0M97.70 147.22a1.16 1.16 0 1 0 2.32 0a1.16 1.16 0 1 0 -2.32 0M100.00 147.22a1.16 1.16 0 1 0 2.32 0a1.16 1.16 0 1 0 -2.32 0M102.30 147.22a1.16 1.16 0 1 0 2.32 0a1.16 1.16 0 1 0 -2.32 0M104.60 147.22a1.16 1.16 0 1 0 2.32 0a1.16 1.16 0 1 0 -2.32 0M106.90 147.22a1.16 1.16 0 1 0 2.32 0a1.16 1.16 0 1 0 -2.32 0M109.20 147.22a1.16 1.16 0 1 0 2.32 0a1.16 1.16 0 1 0 -2.32 0M95.40 149.51a1.16 1.16 0 1 0 2.32 0a1.16 1.16 0 1 0 -2.32 0M95.40 151.79a1.16 1.16 0 1 0 2.32 0a1.16 1.16 0 1 0 -2.32 0M97.70 151.79a1.16 1.16 0 1 0 2.32 0a1.16 1.16 0 1 0 -2.32 0M95.40 154.08a1.16 1.16 0 1 0 2.32 0a1.16 1.16 0 1 0 -2.32 0M97.70 154.08a1.16 1.16 0 1 0 2.32 0a1.16 1.16 0 1 0 -2.32 0M100.00 154.08a1.16 1.16 0 1 0 2.32 0a1.16 1.16 0 1 0 -2.32 0M95.40 156.36a1.16 1.16 0 1 0 2.32 0a1.16 1.16 0 1 0 -2.32 0M97.70 158.65a1.16 1.16 0 1 0 2.32 0a1.16 1.16 0 1 0 -2.32 0M95.40 160.93a1.16 1.16 0 1 0 2.32 0a1.16 1.16 0 1 0 -2.32 0M95.40 163.22a1.16 1.16 0 1 0 2.32 0a1.16 1.16 0 1 0 -2.32 0M95.40 165.50a1.16 1.16 0 1 0 2.32 0a1.16 1.16 0 1 0 -2.32 0M95.40 167.78a1.16 1.16 0 1 0 2.32 0a1.16 1.16 0 1 0 -2.32 0M97.70 167.78a1.16 1.16 0 1 0 2.32 0a1.16 1.16 0 1 0 -2.32 0M95.40 170.07a1.16 1.16 0 1 0 2.32 0a1.16 1.16 0 1 0 -2.32 0M97.70 170.07a1.16 1.16 0 1 0 2.32 0a1.16 1.16 0 1 0 -2.32 0M100.00 170.07a1.16 1.16 0 1 0 2.32 0a1.16 1.16 0 1 0 -2.32 0M102.30 170.07a1.16 1.16 0 1 0 2.32 0a1.16 1.16 0 1 0 -2.32 0M104.60 170.07a1.16 1.16 0 1 0 2.32 0a1.16 1.16 0 1 0 -2.32 0M95.40 174.64a1.16 1.16 0 1 0 2.32 0a1.16 1.16 0 1 0 -2.32 0M97.70 174.64a1.16 1.16 0 1 0 2.32 0a1.16 1.16 0 1 0 -2.32 0M97.70 176.92a1.16 1.16 0 1 0 2.32 0a1.16 1.16 0 1 0 -2.32 0M100.00 176.92a1.16 1.16 0 1 0 2.32 0a1.16 1.16 0 1 0 -2.32 0M95.40 179.21a1.16 1.16 0 1 0 2.32 0a1.16 1.16 0 1 0 -2.32 0M95.40 181.49a1.16 1.16 0 1 0 2.32 0a1.16 1.16 0 1 0 -2.32 0M97.70 181.49a1.16 1.16 0 1 0 2.32 0a1.16 1.16 0 1 0 -2.32 0M95.40 186.06a1.16 1.16 0 1 0 2.32 0a1.16 1.16 0 1 0 -2.32 0M95.40 188.35a1.16 1.16 0 1 0 2.32 0a1.16 1.16 0 1 0 -2.32 0M97.70 188.35a1.16 1.16 0 1 0 2.32 0a1.16 1.16 0 1 0 -2.32 0M100.00 188.35a1.16 1.16 0 1 0 2.32 0a1.16 1.16 0 1 0 -2.32 0M102.30 188.35a1.16 1.16 0 1 0 2.32 0a1.16 1.16 0 1 0 -2.32 0M95.40 190.63a1.16 1.16 0 1 0 2.32 0a1.16 1.16 0 1 0 -2.32 0M97.70 190.63a1.16 1.16 0 1 0 2.32 0a1.16 1.16 0 1 0 -2.32 0M100.00 190.63a1.16 1.16 0 1 0 2.32 0a1.16 1.16 0 1 0 -2.32 0M102.30 190.63a1.16 1.16 0 1 0 2.32 0a1.16 1.16 0 1 0 -2.32 0M104.60 190.63a1.16 1.16 0 1 0 2.32 0a1.16 1.16 0 1 0 -2.32 0M95.40 192.91a1.16 1.16 0 1 0 2.32 0a1.16 1.16 0 1 0 -2.32 0M95.40 195.20a1.16 1.16 0 1 0 2.32 0a1.16 1.16 0 1 0 -2.32 0M95.40 197.48a1.16 1.16 0 1 0 2.32 0a1.16 1.16 0 1 0 -2.32 0M97.70 197.48a1.16 1.16 0 1 0 2.32 0a1.16 1.16 0 1 0 -2.32 0M100.00 197.48a1.16 1.16 0 1 0 2.32 0a1.16 1.16 0 1 0 -2.32 0M95.40 199.77a1.16 1.16 0 1 0 2.32 0a1.16 1.16 0 1 0 -2.32 0M97.70 199.77a1.16 1.16 0 1 0 2.32 0a1.16 1.16 0 1 0 -2.32 0M100.00 199.77a1.16 1.16 0 1 0 2.32 0a1.16 1.16 0 1 0 -2.32 0M102.30 199.77a1.16 1.16 0 1 0 2.32 0a1.16 1.16 0 1 0 -2.32 0M104.60 199.77a1.16 1.16 0 1 0 2.32 0a1.16 1.16 0 1 0 -2.32 0M106.90 199.77a1.16 1.16 0 1 0 2.32 0a1.16 1.16 0 1 0 -2.32 0M109.20 199.77a1.16 1.16 0 1 0 2.32 0a1.16 1.16 0 1 0 -2.32 0M95.40 202.05a1.16 1.16 0 1 0 2.32 0a1.16 1.16 0 1 0 -2.32 0M97.70 202.05a1.16 1.16 0 1 0 2.32 0a1.16 1.16 0 1 0 -2.32 0M100.00 202.05a1.16 1.16 0 1 0 2.32 0a1.16 1.16 0 1 0 -2.32 0M102.30 202.05a1.16 1.16 0 1 0 2.32 0a1.16 1.16 0 1 0 -2.32 0M95.40 204.34a1.16 1.16 0 1 0 2.32 0a1.16 1.16 0 1 0 -2.32 0M97.70 204.34a1.16 1.16 0 1 0 2.32 0a1.16 1.16 0 1 0 -2.32 0M100.00 204.34a1.16 1.16 0 1 0 2.32 0a1.16 1.16 0 1 0 -2.32 0M102.30 204.34a1.16 1.16 0 1 0 2.32 0a1.16 1.16 0 1 0 -2.32 0M104.60 204.34a1.16 1.16 0 1 0 2.32 0a1.16 1.16 0 1 0 -2.32 0M97.70 206.62a1.16 1.16 0 1 0 2.32 0a1.16 1.16 0 1 0 -2.32 0M100.00 206.62a1.16 1.16 0 1 0 2.32 0a1.16 1.16 0 1 0 -2.32 0M102.30 206.62a1.16 1.16 0 1 0 2.32 0a1.16 1.16 0 1 0 -2.32 0M95.40 208.91a1.16 1.16 0 1 0 2.32 0a1.16 1.16 0 1 0 -2.32 0M97.70 208.91a1.16 1.16 0 1 0 2.32 0a1.16 1.16 0 1 0 -2.32 0M100.00 208.91a1.16 1.16 0 1 0 2.32 0a1.16 1.16 0 1 0 -2.32 0M102.30 208.91a1.16 1.16 0 1 0 2.32 0a1.16 1.16 0 1 0 -2.32 0M104.60 208.91a1.16 1.16 0 1 0 2.32 0a1.16 1.16 0 1 0 -2.32 0M95.40 211.19a1.16 1.16 0 1 0 2.32 0a1.16 1.16 0 1 0 -2.32 0M97.70 211.19a1.16 1.16 0 1 0 2.32 0a1.16 1.16 0 1 0 -2.32 0M100.00 211.19a1.16 1.16 0 1 0 2.32 0a1.16 1.16 0 1 0 -2.32 0M102.30 211.19a1.16 1.16 0 1 0 2.32 0a1.16 1.16 0 1 0 -2.32 0M104.60 211.19a1.16 1.16 0 1 0 2.32 0a1.16 1.16 0 1 0 -2.32 0M97.70 213.47a1.16 1.16 0 1 0 2.32 0a1.16 1.16 0 1 0 -2.32 0M100.00 213.47a1.16 1.16 0 1 0 2.32 0a1.16 1.16 0 1 0 -2.32 0M102.30 215.76a1.16 1.16 0 1 0 2.32 0a1.16 1.16 0 1 0 -2.32 0M104.60 215.76a1.16 1.16 0 1 0 2.32 0a1.16 1.16 0 1 0 -2.32 0M95.40 218.04a1.16 1.16 0 1 0 2.32 0a1.16 1.16 0 1 0 -2.32 0M97.70 218.04a1.16 1.16 0 1 0 2.32 0a1.16 1.16 0 1 0 -2.32 0M100.00 218.04a1.16 1.16 0 1 0 2.32 0a1.16 1.16 0 1 0 -2.32 0M95.40 220.33a1.16 1.16 0 1 0 2.32 0a1.16 1.16 0 1 0 -2.32 0M97.70 220.33a1.16 1.16 0 1 0 2.32 0a1.16 1.16 0 1 0 -2.32 0M95.40 222.61a1.16 1.16 0 1 0 2.32 0a1.16 1.16 0 1 0 -2.32 0M97.70 222.61a1.16 1.16 0 1 0 2.32 0a1.16 1.16 0 1 0 -2.32 0M95.40 227.18a1.16 1.16 0 1 0 2.32 0a1.16 1.16 0 1 0 -2.32 0M95.40 229.47a1.16 1.16 0 1 0 2.32 0a1.16 1.16 0 1 0 -2.32 0M97.70 229.47a1.16 1.16 0 1 0 2.32 0a1.16 1.16 0 1 0 -2.32 0M100.00 229.47a1.16 1.16 0 1 0 2.32 0a1.16 1.16 0 1 0 -2.32 0M102.30 229.47a1.16 1.16 0 1 0 2.32 0a1.16 1.16 0 1 0 -2.32 0M104.60 229.47a1.16 1.16 0 1 0 2.32 0a1.16 1.16 0 1 0 -2.32 0M95.40 234.04a1.16 1.16 0 1 0 2.32 0a1.16 1.16 0 1 0 -2.32 0M97.70 234.04a1.16 1.16 0 1 0 2.32 0a1.16 1.16 0 1 0 -2.32 0M100.00 234.04a1.16 1.16 0 1 0 2.32 0a1.16 1.16 0 1 0 -2.32 0M102.30 234.04a1.16 1.16 0 1 0 2.32 0a1.16 1.16 0 1 0 -2.32 0M104.60 234.04a1.16 1.16 0 1 0 2.32 0a1.16 1.16 0 1 0 -2.32 0M95.40 238.60a1.16 1.16 0 1 0 2.32 0a1.16 1.16 0 1 0 -2.32 0M97.70 238.60a1.16 1.16 0 1 0 2.32 0a1.16 1.16 0 1 0 -2.32 0M100.00 238.60a1.16 1.16 0 1 0 2.32 0a1.16 1.16 0 1 0 -2.32 0M102.30 238.60a1.16 1.16 0 1 0 2.32 0a1.16 1.16 0 1 0 -2.32 0M95.40 240.89a1.16 1.16 0 1 0 2.32 0a1.16 1.16 0 1 0 -2.32 0M97.70 240.89a1.16 1.16 0 1 0 2.32 0a1.16 1.16 0 1 0 -2.32 0M95.40 243.17a1.16 1.16 0 1 0 2.32 0a1.16 1.16 0 1 0 -2.32 0M97.70 243.17a1.16 1.16 0 1 0 2.32 0a1.16 1.16 0 1 0 -2.32 0M100.00 243.17a1.16 1.16 0 1 0 2.32 0a1.16 1.16 0 1 0 -2.32 0M102.30 243.17a1.16 1.16 0 1 0 2.32 0a1.16 1.16 0 1 0 -2.32 0M95.40 245.46a1.16 1.16 0 1 0 2.32 0a1.16 1.16 0 1 0 -2.32 0M97.70 245.46a1.16 1.16 0 1 0 2.32 0a1.16 1.16 0 1 0 -2.32 0M100.00 245.46a1.16 1.16 0 1 0 2.32 0a1.16 1.16 0 1 0 -2.32 0M102.30 245.46a1.16 1.16 0 1 0 2.32 0a1.16 1.16 0 1 0 -2.32 0M104.60 245.46a1.16 1.16 0 1 0 2.32 0a1.16 1.16 0 1 0 -2.32 0M97.70 247.74a1.16 1.16 0 1 0 2.32 0a1.16 1.16 0 1 0 -2.32 0M100.00 247.74a1.16 1.16 0 1 0 2.32 0a1.16 1.16 0 1 0 -2.32 0M102.30 247.74a1.16 1.16 0 1 0 2.32 0a1.16 1.16 0 1 0 -2.32 0M104.60 247.74a1.16 1.16 0 1 0 2.32 0a1.16 1.16 0 1 0 -2.32 0M106.90 247.74a1.16 1.16 0 1 0 2.32 0a1.16 1.16 0 1 0 -2.32 0M95.40 252.31a1.16 1.16 0 1 0 2.32 0a1.16 1.16 0 1 0 -2.32 0M95.40 254.60a1.16 1.16 0 1 0 2.32 0a1.16 1.16 0 1 0 -2.32 0M97.70 254.60a1.16 1.16 0 1 0 2.32 0a1.16 1.16 0 1 0 -2.32 0M100.00 254.60a1.16 1.16 0 1 0 2.32 0a1.16 1.16 0 1 0 -2.32 0M102.30 254.60a1.16 1.16 0 1 0 2.32 0a1.16 1.16 0 1 0 -2.32 0M95.40 256.88a1.16 1.16 0 1 0 2.32 0a1.16 1.16 0 1 0 -2.32 0M97.70 256.88a1.16 1.16 0 1 0 2.32 0a1.16 1.16 0 1 0 -2.32 0M100.00 256.88a1.16 1.16 0 1 0 2.32 0a1.16 1.16 0 1 0 -2.32 0M95.40 259.16a1.16 1.16 0 1 0 2.32 0a1.16 1.16 0 1 0 -2.32 0M97.70 259.16a1.16 1.16 0 1 0 2.32 0a1.16 1.16 0 1 0 -2.32 0M100.00 259.16a1.16 1.16 0 1 0 2.32 0a1.16 1.16 0 1 0 -2.32 0M95.40 261.45a1.16 1.16 0 1 0 2.32 0a1.16 1.16 0 1 0 -2.32 0M97.70 261.45a1.16 1.16 0 1 0 2.32 0a1.16 1.16 0 1 0 -2.32 0M95.40 263.73a1.16 1.16 0 1 0 2.32 0a1.16 1.16 0 1 0 -2.32 0M97.70 263.73a1.16 1.16 0 1 0 2.32 0a1.16 1.16 0 1 0 -2.32 0M100.00 263.73a1.16 1.16 0 1 0 2.32 0a1.16 1.16 0 1 0 -2.32 0M102.30 263.73a1.16 1.16 0 1 0 2.32 0a1.16 1.16 0 1 0 -2.32 0M95.40 266.02a1.16 1.16 0 1 0 2.32 0a1.16 1.16 0 1 0 -2.32 0M97.70 266.02a1.16 1.16 0 1 0 2.32 0a1.16 1.16 0 1 0 -2.32 0M100.00 266.02a1.16 1.16 0 1 0 2.32 0a1.16 1.16 0 1 0 -2.32 0M95.40 268.30a1.16 1.16 0 1 0 2.32 0a1.16 1.16 0 1 0 -2.32 0M97.70 268.30a1.16 1.16 0 1 0 2.32 0a1.16 1.16 0 1 0 -2.32 0M95.40 270.59a1.16 1.16 0 1 0 2.32 0a1.16 1.16 0 1 0 -2.32 0M97.70 270.59a1.16 1.16 0 1 0 2.32 0a1.16 1.16 0 1 0 -2.32 0M100.00 270.59a1.16 1.16 0 1 0 2.32 0a1.16 1.16 0 1 0 -2.32 0M95.40 272.87a1.16 1.16 0 1 0 2.32 0a1.16 1.16 0 1 0 -2.32 0M95.40 275.16a1.16 1.16 0 1 0 2.32 0a1.16 1.16 0 1 0 -2.32 0M97.70 275.16a1.16 1.16 0 1 0 2.32 0a1.16 1.16 0 1 0 -2.32 0M100.00 275.16a1.16 1.16 0 1 0 2.32 0a1.16 1.16 0 1 0 -2.32 0M102.30 275.16a1.16 1.16 0 1 0 2.32 0a1.16 1.16 0 1 0 -2.32 0M104.60 275.16a1.16 1.16 0 1 0 2.32 0a1.16 1.16 0 1 0 -2.32 0M106.90 275.16a1.16 1.16 0 1 0 2.32 0a1.16 1.16 0 1 0 -2.32 0M95.40 277.44a1.16 1.16 0 1 0 2.32 0a1.16 1.16 0 1 0 -2.32 0M97.70 277.44a1.16 1.16 0 1 0 2.32 0a1.16 1.16 0 1 0 -2.32 0M100.00 277.44a1.16 1.16 0 1 0 2.32 0a1.16 1.16 0 1 0 -2.32 0M102.30 277.44a1.16 1.16 0 1 0 2.32 0a1.16 1.16 0 1 0 -2.32 0M104.60 277.44a1.16 1.16 0 1 0 2.32 0a1.16 1.16 0 1 0 -2.32 0M106.90 277.44a1.16 1.16 0 1 0 2.32 0a1.16 1.16 0 1 0 -2.32 0M95.40 279.73a1.16 1.16 0 1 0 2.32 0a1.16 1.16 0 1 0 -2.32 0M95.40 282.01a1.16 1.16 0 1 0 2.32 0a1.16 1.16 0 1 0 -2.32 0M97.70 282.01a1.16 1.16 0 1 0 2.32 0a1.16 1.16 0 1 0 -2.32 0M100.00 282.01a1.16 1.16 0 1 0 2.32 0a1.16 1.16 0 1 0 -2.32 0M95.40 284.29a1.16 1.16 0 1 0 2.32 0a1.16 1.16 0 1 0 -2.32 0M97.70 284.29a1.16 1.16 0 1 0 2.32 0a1.16 1.16 0 1 0 -2.32 0M100.00 284.29a1.16 1.16 0 1 0 2.32 0a1.16 1.16 0 1 0 -2.32 0M102.30 284.29a1.16 1.16 0 1 0 2.32 0a1.16 1.16 0 1 0 -2.32 0M95.40 286.58a1.16 1.16 0 1 0 2.32 0a1.16 1.16 0 1 0 -2.32 0M95.40 288.86a1.16 1.16 0 1 0 2.32 0a1.16 1.16 0 1 0 -2.32 0M97.70 288.86a1.16 1.16 0 1 0 2.32 0a1.16 1.16 0 1 0 -2.32 0M100.00 288.86a1.16 1.16 0 1 0 2.32 0a1.16 1.16 0 1 0 -2.32 0M102.30 288.86a1.16 1.16 0 1 0 2.32 0a1.16 1.16 0 1 0 -2.32 0M104.60 288.86a1.16 1.16 0 1 0 2.32 0a1.16 1.16 0 1 0 -2.32 0M106.90 288.86a1.16 1.16 0 1 0 2.32 0a1.16 1.16 0 1 0 -2.32 0M95.40 291.15a1.16 1.16 0 1 0 2.32 0a1.16 1.16 0 1 0 -2.32 0M95.40 293.43a1.16 1.16 0 1 0 2.32 0a1.16 1.16 0 1 0 -2.32 0M97.70 293.43a1.16 1.16 0 1 0 2.32 0a1.16 1.16 0 1 0 -2.32 0M100.00 293.43a1.16 1.16 0 1 0 2.32 0a1.16 1.16 0 1 0 -2.32 0M102.30 293.43a1.16 1.16 0 1 0 2.32 0a1.16 1.16 0 1 0 -2.32 0M104.60 293.43a1.16 1.16 0 1 0 2.32 0a1.16 1.16 0 1 0 -2.32 0M106.90 293.43a1.16 1.16 0 1 0 2.32 0a1.16 1.16 0 1 0 -2.32 0M109.20 293.43a1.16 1.16 0 1 0 2.32 0a1.16 1.16 0 1 0 -2.32 0M111.50 293.43a1.16 1.16 0 1 0 2.32 0a1.16 1.16 0 1 0 -2.32 0M113.80 293.43a1.16 1.16 0 1 0 2.32 0a1.16 1.16 0 1 0 -2.32 0M95.40 295.72a1.16 1.16 0 1 0 2.32 0a1.16 1.16 0 1 0 -2.32 0M97.70 295.72a1.16 1.16 0 1 0 2.32 0a1.16 1.16 0 1 0 -2.32 0M100.00 295.72a1.16 1.16 0 1 0 2.32 0a1.16 1.16 0 1 0 -2.32 0M102.30 295.72a1.16 1.16 0 1 0 2.32 0a1.16 1.16 0 1 0 -2.32 0M95.40 298.00a1.16 1.16 0 1 0 2.32 0a1.16 1.16 0 1 0 -2.32 0M95.40 304.85a1.16 1.16 0 1 0 2.32 0a1.16 1.16 0 1 0 -2.32 0M95.40 307.14a1.16 1.16 0 1 0 2.32 0a1.16 1.16 0 1 0 -2.32 0M97.70 307.14a1.16 1.16 0 1 0 2.32 0a1.16 1.16 0 1 0 -2.32 0M100.00 307.14a1.16 1.16 0 1 0 2.32 0a1.16 1.16 0 1 0 -2.32 0M102.30 307.14a1.16 1.16 0 1 0 2.32 0a1.16 1.16 0 1 0 -2.32 0M104.60 307.14a1.16 1.16 0 1 0 2.32 0a1.16 1.16 0 1 0 -2.32 0M97.70 309.42a1.16 1.16 0 1 0 2.32 0a1.16 1.16 0 1 0 -2.32 0M95.40 311.71a1.16 1.16 0 1 0 2.32 0a1.16 1.16 0 1 0 -2.32 0M97.70 311.71a1.16 1.16 0 1 0 2.32 0a1.16 1.16 0 1 0 -2.32 0M95.40 313.99a1.16 1.16 0 1 0 2.32 0a1.16 1.16 0 1 0 -2.32 0M97.70 313.99a1.16 1.16 0 1 0 2.32 0a1.16 1.16 0 1 0 -2.32 0M100.00 313.99a1.16 1.16 0 1 0 2.32 0a1.16 1.16 0 1 0 -2.32 0M102.30 313.99a1.16 1.16 0 1 0 2.32 0a1.16 1.16 0 1 0 -2.32 0M95.40 316.28a1.16 1.16 0 1 0 2.32 0a1.16 1.16 0 1 0 -2.32 0M100.00 318.56a1.16 1.16 0 1 0 2.32 0a1.16 1.16 0 1 0 -2.32 0M102.30 318.56a1.16 1.16 0 1 0 2.32 0a1.16 1.16 0 1 0 -2.32 0M104.60 318.56a1.16 1.16 0 1 0 2.32 0a1.16 1.16 0 1 0 -2.32 0M95.40 320.85a1.16 1.16 0 1 0 2.32 0a1.16 1.16 0 1 0 -2.32 0M97.70 320.85a1.16 1.16 0 1 0 2.32 0a1.16 1.16 0 1 0 -2.32 0M100.00 320.85a1.16 1.16 0 1 0 2.32 0a1.16 1.16 0 1 0 -2.32 0M102.30 320.85a1.16 1.16 0 1 0 2.32 0a1.16 1.16 0 1 0 -2.32 0M104.60 320.85a1.16 1.16 0 1 0 2.32 0a1.16 1.16 0 1 0 -2.32 0M95.40 323.13a1.16 1.16 0 1 0 2.32 0a1.16 1.16 0 1 0 -2.32 0M97.70 323.13a1.16 1.16 0 1 0 2.32 0a1.16 1.16 0 1 0 -2.32 0M100.00 323.13a1.16 1.16 0 1 0 2.32 0a1.16 1.16 0 1 0 -2.32 0M102.30 323.13a1.16 1.16 0 1 0 2.32 0a1.16 1.16 0 1 0 -2.32 0M104.60 323.13a1.16 1.16 0 1 0 2.32 0a1.16 1.16 0 1 0 -2.32 0" fill="#8AA4EE"/>
<path d="M95.37 115.24a1.19 1.19 0 1 0 2.38 0a1.19 1.19 0 1 0 -2.38 0M95.37 302.57a1.19 1.19 0 1 0 2.38 0a1.19 1.19 0 1 0 -2.38 0" fill="#FDB34A"/>
<path d="M95.37 3.30a1.19 1.19 0 1 0 2.38 0a1.19 1.19 0 1 0 -2.38 0M95.37 5.58a1.19 1.19 0 1 0 2.38 0a1.19 1.19 0 1 0 -2.38 0M95.37 10.15a1.19 1.19 0 1 0 2.38 0a1.19 1.19 0 1 0 -2.38 0M95.37 17.01a1.19 1.19 0 1 0 2.38 0a1.19 1.19 0 1 0 -2.38 0M95.37 19.29a1.19 1.19 0 1 0 2.38 0a1.19 1.19 0 1 0 -2.38 0M95.37 26.15a1.19 1.19 0 1 0 2.38 0a1.19 1.19 0 1 0 -2.38 0M95.37 35.28a1.19 1.19 0 1 0 2.38 0a1.19 1.19 0 1 0 -2.38 0M97.67 35.28a1.19 1.19 0 1 0 2.38 0a1.19 1.19 0 1 0 -2.38 0M99.97 35.28a1.19 1.19 0 1 0 2.38 0a1.19 1.19 0 1 0 -2.38 0M95.37 53.56a1.19 1.19 0 1 0 2.38 0a1.19 1.19 0 1 0 -2.38 0M95.37 58.13a1.19 1.19 0 1 0 2.38 0a1.19 1.19 0 1 0 -2.38 0M95.37 74.12a1.19 1.19 0 1 0 2.38 0a1.19 1.19 0 1 0 -2.38 0M95.37 78.69a1.19 1.19 0 1 0 2.38 0a1.19 1.19 0 1 0 -2.38 0M95.37 83.26a1.19 1.19 0 1 0 2.38 0a1.19 1.19 0 1 0 -2.38 0M95.37 85.54a1.19 1.19 0 1 0 2.38 0a1.19 1.19 0 1 0 -2.38 0M97.67 85.54a1.19 1.19 0 1 0 2.38 0a1.19 1.19 0 1 0 -2.38 0M99.97 85.54a1.19 1.19 0 1 0 2.38 0a1.19 1.19 0 1 0 -2.38 0M95.37 119.81a1.19 1.19 0 1 0 2.38 0a1.19 1.19 0 1 0 -2.38 0M97.67 119.81a1.19 1.19 0 1 0 2.38 0a1.19 1.19 0 1 0 -2.38 0M95.37 131.23a1.19 1.19 0 1 0 2.38 0a1.19 1.19 0 1 0 -2.38 0M95.37 140.37a1.19 1.19 0 1 0 2.38 0a1.19 1.19 0 1 0 -2.38 0M95.37 158.65a1.19 1.19 0 1 0 2.38 0a1.19 1.19 0 1 0 -2.38 0M95.37 172.35a1.19 1.19 0 1 0 2.38 0a1.19 1.19 0 1 0 -2.38 0M97.67 172.35a1.19 1.19 0 1 0 2.38 0a1.19 1.19 0 1 0 -2.38 0M95.37 176.92a1.19 1.19 0 1 0 2.38 0a1.19 1.19 0 1 0 -2.38 0M95.37 183.78a1.19 1.19 0 1 0 2.38 0a1.19 1.19 0 1 0 -2.38 0M95.37 206.62a1.19 1.19 0 1 0 2.38 0a1.19 1.19 0 1 0 -2.38 0M95.37 213.47a1.19 1.19 0 1 0 2.38 0a1.19 1.19 0 1 0 -2.38 0M95.37 215.76a1.19 1.19 0 1 0 2.38 0a1.19 1.19 0 1 0 -2.38 0M97.67 215.76a1.19 1.19 0 1 0 2.38 0a1.19 1.19 0 1 0 -2.38 0M99.97 215.76a1.19 1.19 0 1 0 2.38 0a1.19 1.19 0 1 0 -2.38 0M95.37 224.90a1.19 1.19 0 1 0 2.38 0a1.19 1.19 0 1 0 -2.38 0M95.37 236.32a1.19 1.19 0 1 0 2.38 0a1.19 1.19 0 1 0 -2.38 0M95.37 247.74a1.19 1.19 0 1 0 2.38 0a1.19 1.19 0 1 0 -2.38 0M95.37 250.03a1.19 1.19 0 1 0 2.38 0a1.19 1.19 0 1 0 -2.38 0M95.37 300.29a1.19 1.19 0 1 0 2.38 0a1.19 1.19 0 1 0 -2.38 0M97.67 300.29a1.19 1.19 0 1 0 2.38 0a1.19 1.19 0 1 0 -2.38 0M99.97 300.29a1.19 1.19 0 1 0 2.38 0a1.19 1.19 0 1 0 -2.38 0M95.37 309.42a1.19 1.19 0 1 0 2.38 0a1.19 1.19 0 1 0 -2.38 0M95.37 318.56a1.19 1.19 0 1 0 2.38 0a1.19 1.19 0 1 0 -2.38 0M97.67 318.56a1.19 1.19 0 1 0 2.38 0a1.19 1.19 0 1 0 -2.38 0M95.37 325.42a1.19 1.19 0 1 0 2.38 0a1.19 1.19 0 1 0 -2.38 0M97.67 325.42a1.19 1.19 0 1 0 2.38 0a1.19 1.19 0 1 0 -2.38 0M99.97 325.42a1.19 1.19 0 1 0 2.38 0a1.19 1.19 0 1 0 -2.38 0M95.37 327.70a1.19 1.19 0 1 0 2.38 0a1.19 1.19 0 1 0 -2.38 0M97.67 327.70a1.19 1.19 0 1 0 2.38 0a1.19 1.19 0 1 0 -2.38 0M99.97 327.70a1.19 1.19 0 1 0 2.38 0a1.19 1.19 0 1 0 -2.38 0M102.27 327.70a1.19 1.19 0 1 0 2.38 0a1.19 1.19 0 1 0 -2.38 0M104.57 327.70a1.19 1.19 0 1 0 2.38 0a1.19 1.19 0 1 0 -2.38 0M106.87 327.70a1.19 1.19 0 1 0 2.38 0a1.19 1.19 0 1 0 -2.38 0" fill="#E74251"/>
<text x="134.3" y="133.5" text-anchor="middle" font-size="10">5</text>
<path d="M144.40 97.20L153.90 60.50M144.40 98.14L153.90 62.79M144.40 98.28L153.90 65.08M144.40 98.36L153.90 67.38M144.40 101.35L153.90 69.67M144.40 101.83L153.90 71.96M144.40 102.00L153.90 74.25M144.40 103.13L153.90 76.55M144.40 107.31L153.90 78.84M144.40 107.72L153.90 81.13M144.40 107.99L153.90 83.42M144.40 110.51L153.90 85.71M144.40 111.23L153.90 88.01M144.40 111.65L153.90 90.30M144.40 112.68L153.90 92.59M144.40 114.13L153.90 94.88M144.40 118.51L153.90 97.17M144.40 119.86L153.90 99.47M144.40 123.42L153.90 101.76M144.40 123.75L153.90 104.05M144.40 123.84L153.90 106.34M144.40 124.53L153.90 108.64M144.40 125.63L153.90 110.93M144.40 126.19L153.90 113.22M144.40 126.32L153.90 115.51M144.40 127.80L153.90 117.80M144.40 129.16L153.90 120.10M144.40 129.54L153.90 122.39M144.40 130.97L153.90 124.68M144.40 130.99L153.90 126.97M144.40 132.30L153.90 129.26M144.40 136.19L153.90 131.56M144.40 139.50L153.90 133.85M144.40 139.61L153.90 136.14M144.40 140.46L153.90 138.43M144.40 143.47L153.90 140.73M144.40 143.68L153.90 143.02M144.40 145.89L153.90 147.60M144.40 146.28L153.90 149.89M144.40 147.35L153.90 152.19M144.40 151.69L153.90 154.48M144.40 151.71L153.90 156.77M144.40 152.15L153.90 159.06M144.40 152.16L153.90 161.35M144.40 152.54L153.90 163.65M144.40 152.70L153.90 165.94M144.40 154.65L153.90 168.23M144.40 155.33L153.90 170.52M144.40 157.56L153.90 172.82M144.40 158.63L153.90 175.11M144.40 159.98L153.90 177.40" stroke="#000" stroke-width="0.5" fill="none"/>
<rect x="140.9" y="95.7" width="2.90" height="67.80" rx="1.45" fill="#dadada"/>
<path d="M140.90 98.90h2.90v0.50h-2.90zM140.90 101.80h2.90v0.50h-2.90zM140.90 105.55h2.90v0.90h-2.90zM140.90 117.00h2.90v0.90h-2.90zM140.90 120.25h2.90v1.40h-2.90zM140.90 138.30h2.90v0.90h-2.90zM140.90 147.80h2.90v0.50h-2.90zM140.90 152.65h2.90v0.70h-2.90z" fill="#5e5e5e"/>
<path d="M140.90 99.70h2.90v1.80h-2.90zM140.90 104.40h2.90v0.70h-2.90zM140.90 111.40h2.90v1.80h-2.90zM140.90 118.70h2.90v1.10h-2.90zM140.90 121.95h2.90v0.90h-2.90zM140.90 127.95h2.90v0.50h-2.90zM140.90 128.90h2.90v0.50h-2.90zM140.90 130.00h2.90v1.10h-2.90zM140.90 141.50h2.90v1.80h-2.90zM140.90 146.30h2.90v0.90h-2.90z" fill="#000"/>
<path d="M140.90 103.30h2.90v0.50h-2.90zM140.90 108.75h2.90v0.70h-2.90zM140.90 134.00h2.90v1.10h-2.90zM140.90 140.20h2.90v0.70h-2.90zM140.90 144.30h2.90v1.40h-2.90z" fill="#7a7a7a"/>
<path d="M140.90 107.05h2.90v1.10h-2.90zM140.90 124.45h2.90v1.10h-2.90zM140.90 132.10h2.90v0.90h-2.90zM140.90 154.35h2.90v0.50h-2.90z" fill="#111"/>
<path d="M140.90 110.45h2.90v0.50h-2.90zM140.90 114.20h2.90v0.50h-2.90zM140.90 115.30h2.90v1.40h-2.90zM140.90 125.85h2.90v1.10h-2.90zM140.90 149.30h2.90v0.50h-2.90zM140.90 150.40h2.90v1.80h-2.90zM140.90 155.65h2.90v1.80h-2.90zM140.90 157.75h2.90v1.40h-2.90z" fill="#2a2a2a"/>
<path d="M140.90 123.45h2.90v0.70h-2.90zM140.90 135.90h2.90v1.80h-2.90zM140.90 159.95h2.90v0.35h-2.90z" fill="#444"/>
<ellipse cx="142.35" cy="97.20" rx="1.45" ry="1.5" fill="#000"/>
<ellipse cx="142.35" cy="162.00" rx="1.45" ry="1.5" fill="#000"/>
<path d="M163.90 60.50a1.16 1.16 0 1 0 2.32 0a1.16 1.16 0 1 0 -2.32 0M166.20 60.50a1.16 1.16 0 1 0 2.32 0a1.16 1.16 0 1 0 -2.32 0M168.50 60.50a1.16 1.16 0 1 0 2.32 0a1.16 1.16 0 1 0 -2.32 0M170.80 60.50a1.16 1.16 0 1 0 2.32 0a1.16 1.16 0 1 0 -2.32 0M173.10 60.50a1.16 1.16 0 1 0 2.32 0a1.16 1.16 0 1 0 -2.32 0M175.40 60.50a1.16 1.16 0 1 0 2.32 0a1.16 1.16 0 1 0 -2.32 0M177.70 60.50a1.16 1.16 0 1 0 2.32 0a1.16 1.16 0 1 0 -2.32 0M180.00 60.50a1.16 1.16 0 1 0 2.32 0a1.16 1.16 0 1 0 -2.32 0M182.30 60.50a1.16 1.16 0 1 0 2.32 0a1.16 1.16 0 1 0 -2.32 0M184.60 60.50a1.16 1.16 0 1 0 2.32 0a1.16 1.16 0 1 0 -2.32 0M157.00 62.79a1.16 1.16 0 1 0 2.32 0a1.16 1.16 0 1 0 -2.32 0M159.30 62.79a1.16 1.16 0 1 0 2.32 0a1.16 1.16 0 1 0 -2.32 0M161.60 62.79a1.16 1.16 0 1 0 2.32 0a1.16 1.16 0 1 0 -2.32 0M163.90 62.79a1.16 1.16 0 1 0 2.32 0a1.16 1.16 0 1 0 -2.32 0M166.20 62.79a1.16 1.16 0 1 0 2.32 0a1.16 1.16 0 1 0 -2.32 0M157.00 65.08a1.16 1.16 0 1 0 2.32 0a1.16 1.16 0 1 0 -2.32 0M157.00 67.38a1.16 1.16 0 1 0 2.32 0a1.16 1.16 0 1 0 -2.32 0M159.30 67.38a1.16 1.16 0 1 0 2.32 0a1.16 1.16 0 1 0 -2.32 0M161.60 67.38a1.16 1.16 0 1 0 2.32 0a1.16 1.16 0 1 0 -2.32 0M157.00 69.67a1.16 1.16 0 1 0 2.32 0a1.16 1.16 0 1 0 -2.32 0M157.00 71.96a1.16 1.16 0 1 0 2.32 0a1.16 1.16 0 1 0 -2.32 0M159.30 71.96a1.16 1.16 0 1 0 2.32 0a1.16 1.16 0 1 0 -2.32 0M161.60 71.96a1.16 1.16 0 1 0 2.32 0a1.16 1.16 0 1 0 -2.32 0M157.00 74.25a1.16 1.16 0 1 0 2.32 0a1.16 1.16 0 1 0 -2.32 0M159.30 74.25a1.16 1.16 0 1 0 2.32 0a1.16 1.16 0 1 0 -2.32 0M161.60 74.25a1.16 1.16 0 1 0 2.32 0a1.16 1.16 0 1 0 -2.32 0M163.90 74.25a1.16 1.16 0 1 0 2.32 0a1.16 1.16 0 1 0 -2.32 0M166.20 74.25a1.16 1.16 0 1 0 2.32 0a1.16 1.16 0 1 0 -2.32 0M159.30 76.55a1.16 1.16 0 1 0 2.32 0a1.16 1.16 0 1 0 -2.32 0M157.00 78.84a1.16 1.16 0 1 0 2.32 0a1.16 1.16 0 1 0 -2.32 0M159.30 78.84a1.16 1.16 0 1 0 2.32 0a1.16 1.16 0 1 0 -2.32 0M161.60 78.84a1.16 1.16 0 1 0 2.32 0a1.16 1.16 0 1 0 -2.32 0M163.90 78.84a1.16 1.16 0 1 0 2.32 0a1.16 1.16 0 1 0 -2.32 0M157.00 81.13a1.16 1.16 0 1 0 2.32 0a1.16 1.16 0 1 0 -2.32 0M159.30 81.13a1.16 1.16 0 1 0 2.32 0a1.16 1.16 0 1 0 -2.32 0M157.00 83.42a1.16 1.16 0 1 0 2.32 0a1.16 1.16 0 1 0 -2.32 0M159.30 83.42a1.16 1.16 0 1 0 2.32 0a1.16 1.16 0 1 0 -2.32 0M161.60 83.42a1.16 1.16 0 1 0 2.32 0a1.16 1.16 0 1 0 -2.32 0M157.00 85.71a1.16 1.16 0 1 0 2.32 0a1.16 1.16 0 1 0 -2.32 0M159.30 85.71a1.16 1.16 0 1 0 2.32 0a1.16 1.16 0 1 0 -2.32 0M157.00 92.59a1.16 1.16 0 1 0 2.32 0a1.16 1.16 0 1 0 -2.32 0M157.00 94.88a1.16 1.16 0 1 0 2.32 0a1.16 1.16 0 1 0 -2.32 0M157.00 97.17a1.16 1.16 0 1 0 2.32 0a1.16 1.16 0 1 0 -2.32 0M159.30 97.17a1.16 1.16 0 1 0 2.32 0a1.16 1.16 0 1 0 -2.32 0M161.60 97.17a1.16 1.16 0 1 0 2.32 0a1.16 1.16 0 1 0 -2.32 0M163.90 97.17a1.16 1.16 0 1 0 2.32 0a1.16 1.16 0 1 0 -2.32 0M157.00 99.47a1.16 1.16 0 1 0 2.32 0a1.16 1.16 0 1 0 -2.32 0M159.30 99.47a1.16 1.16 0 1 0 2.32 0a1.16 1.16 0 1 0 -2.32 0M159.30 101.76a1.16 1.16 0 1 0 2.32 0a1.16 1.16 0 1 0 -2.32 0M157.00 104.05a1.16 1.16 0 1 0 2.32 0a1.16 1.16 0 1 0 -2.32 0M159.30 104.05a1.16 1.16 0 1 0 2.32 0a1.16 1.16 0 1 0 -2.32 0M157.00 106.34a1.16 1.16 0 1 0 2.32 0a1.16 1.16 0 1 0 -2.32 0M159.30 106.34a1.16 1.16 0 1 0 2.32 0a1.16 1.16 0 1 0 -2.32 0M161.60 106.34a1.16 1.16 0 1 0 2.32 0a1.16 1.16 0 1 0 -2.32 0M157.00 108.64a1.16 1.16 0 1 0 2.32 0a1.16 1.16 0 1 0 -2.32 0M159.30 108.64a1.16 1.16 0 1 0 2.32 0a1.16 1.16 0 1 0 -2.32 0M161.60 108.64a1.16 1.16 0 1 0 2.32 0a1.16 1.16 0 1 0 -2.32 0M163.90 108.64a1.16 1.16 0 1 0 2.32 0a1.16 1.16 0 1 0 -2.32 0M166.20 108.64a1.16 1.16 0 1 0 2.32 0a1.16 1.16 0 1 0 -2.32 0M157.00 110.93a1.16 1.16 0 1 0 2.32 0a1.16 1.16 0 1 0 -2.32 0M159.30 110.93a1.16 1.16 0 1 0 2.32 0a1.16 1.16 0 1 0 -2.32 0M157.00 113.22a1.16 1.16 0 1 0 2.32 0a1.16 1.16 0 1 0 -2.32 0M159.30 113.22a1.16 1.16 0 1 0 2.32 0a1.16 1.16 0 1 0 -2.32 0M159.30 115.51a1.16 1.16 0 1 0 2.32 0a1.16 1.16 0 1 0 -2.32 0M157.00 117.80a1.16 1.16 0 1 0 2.32 0a1.16 1.16 0 1 0 -2.32 0M159.30 117.80a1.16 1.16 0 1 0 2.32 0a1.16 1.16 0 1 0 -2.32 0M159.30 120.10a1.16 1.16 0 1 0 2.32 0a1.16 1.16 0 1 0 -2.32 0M157.00 122.39a1.16 1.16 0 1 0 2.32 0a1.16 1.16 0 1 0 -2.32 0M157.00 124.68a1.16 1.16 0 1 0 2.32 0a1.16 1.16 0 1 0 -2.32 0M159.30 124.68a1.16 1.16 0 1 0 2.32 0a1.16 1.16 0 1 0 -2.32 0M157.00 126.97a1.16 1.16 0 1 0 2.32 0a1.16 1.16 0 1 0 -2.32 0M159.30 126.97a1.16 1.16 0 1 0 2.32 0a1.16 1.16 0 1 0 -2.32 0M161.60 126.97a1.16 1.16 0 1 0 2.32 0a1.16 1.16 0 1 0 -2.32 0M163.90 126.97a1.16 1.16 0 1 0 2.32 0a1.16 1.16 0 1 0 -2.32 0M157.00 129.26a1.16 1.16 0 1 0 2.32 0a1.16 1.16 0 1 0 -2.32 0M159.30 129.26a1.16 1.16 0 1 0 2.32 0a1.16 1.16 0 1 0 -2.32 0M161.60 129.26a1.16 1.16 0 1 0 2.32 0a1.16 1.16 0 1 0 -2.32 0M163.90 129.26a1.16 1.16 0 1 0 2.32 0a1.16 1.16 0 1 0 -2.32 0M166.20 129.26a1.16 1.16 0 1 0 2.32 0a1.16 1.16 0 1 0 -2.32 0M157.00 131.56a1.16 1.16 0 1 0 2.32 0a1.16 1.16 0 1 0 -2.32 0M159.30 131.56a1.16 1.16 0 1 0 2.32 0a1.16 1.16 0 1 0 -2.32 0M161.60 131.56a1.16 1.16 0 1 0 2.32 0a1.16 1.16 0 1 0 -2.32 0M157.00 133.85a1.16 1.16 0 1 0 2.32 0a1.16 1.16 0 1 0 -2.32 0M159.30 133.85a1.16 1.16 0 1 0 2.32 0a1.16 1.16 0 1 0 -2.32 0M157.00 136.14a1.16 1.16 0 1 0 2.32 0a1.16 1.16 0 1 0 -2.32 0M159.30 136.14a1.16 1.16 0 1 0 2.32 0a1.16 1.16 0 1 0 -2.32 0M157.00 140.73a1.16 1.16 0 1 0 2.32 0a1.16 1.16 0 1 0 -2.32 0M159.30 140.73a1.16 1.16 0 1 0 2.32 0a1.16 1.16 0 1 0 -2.32 0M157.00 143.02a1.16 1.16 0 1 0 2.32 0a1.16 1.16 0 1 0 -2.32 0M159.30 143.02a1.16 1.16 0 1 0 2.32 0a1.16 1.16 0 1 0 -2.32 0M161.60 143.02a1.16 1.16 0 1 0 2.32 0a1.16 1.16 0 1 0 -2.32 0M163.90 143.02a1.16 1.16 0 1 0 2.32 0a1.16 1.16 0 1 0 -2.32 0M157.00 147.60a1.16 1.16 0 1 0 2.32 0a1.16 1.16 0 1 0 -2.32 0M159.30 147.60a1.16 1.16 0 1 0 2.32 0a1.16 1.16 0 1 0 -2.32 0M157.00 152.19a1.16 1.16 0 1 0 2.32 0a1.16 1.16 0 1 0 -2.32 0M159.30 152.19a1.16 1.16 0 1 0 2.32 0a1.16 1.16 0 1 0 -2.32 0M159.30 154.48a1.16 1.16 0 1 0 2.32 0a1.16 1.16 0 1 0 -2.32 0M161.60 154.48a1.16 1.16 0 1 0 2.32 0a1.16 1.16 0 1 0 -2.32 0M163.90 154.48a1.16 1.16 0 1 0 2.32 0a1.16 1.16 0 1 0 -2.32 0M157.00 156.77a1.16 1.16 0 1 0 2.32 0a1.16 1.16 0 1 0 -2.32 0M159.30 156.77a1.16 1.16 0 1 0 2.32 0a1.16 1.16 0 1 0 -2.32 0M157.00 159.06a1.16 1.16 0 1 0 2.32 0a1.16 1.16 0 1 0 -2.32 0M159.30 159.06a1.16 1.16 0 1 0 2.32 0a1.16 1.16 0 1 0 -2.32 0M161.60 159.06a1.16 1.16 0 1 0 2.32 0a1.16 1.16 0 1 0 -2.32 0M163.90 159.06a1.16 1.16 0 1 0 2.32 0a1.16 1.16 0 1 0 -2.32 0M157.00 161.35a1.16 1.16 0 1 0 2.32 0a1.16 1.16 0 1 0 -2.32 0M159.30 161.35a1.16 1.16 0 1 0 2.32 0a1.16 1.16 0 1 0 -2.32 0M161.60 161.35a1.16 1.16 0 1 0 2.32 0a1.16 1.16 0 1 0 -2.32 0M163.90 161.35a1.16 1.16 0 1 0 2.32 0a1.16 1.16 0 1 0 -2.32 0M166.20 161.35a1.16 1.16 0 1 0 2.32 0a1.16 1.16 0 1 0 -2.32 0M157.00 163.65a1.16 1.16 0 1 0 2.32 0a1.16 1.16 0 1 0 -2.32 0M157.00 165.94a1.16 1.16 0 1 0 2.32 0a1.16 1.16 0 1 0 -2.32 0M159.30 165.94a1.16 1.16 0 1 0 2.32 0a1.16 1.16 0 1 0 -2.32 0M157.00 168.23a1.16 1.16 0 1 0 2.32 0a1.16 1.16 0 1 0 -2.32 0M159.30 168.23a1.16 1.16 0 1 0 2.32 0a1.16 1.16 0 1 0 -2.32 0M161.60 168.23a1.16 1.16 0 1 0 2.32 0a1.16 1.16 0 1 0 -2.32 0M163.90 168.23a1.16 1.16 0 1 0 2.32 0a1.16 1.16 0 1 0 -2.32 0M166.20 168.23a1.16 1.16 0 1 0 2.32 0a1.16 1.16 0 1 0 -2.32 0M159.30 170.52a1.16 1.16 0 1 0 2.32 0a1.16 1.16 0 1 0 -2.32 0M161.60 170.52a1.16 1.16 0 1 0 2.32 0a1.16 1.16 0 1 0 -2.32 0M159.30 172.82a1.16 1.16 0 1 0 2.32 0a1.16 1.16 0 1 0 -2.32 0M161.60 172.82a1.16 1.16 0 1 0 2.32 0a1.16 1.16 0 1 0 -2.32 0" fill="#8AA4EE"/>
<path d="M156.97 60.50a1.19 1.19 0 1 0 2.38 0a1.19 1.19 0 1 0 -2.38 0M159.27 60.50a1.19 1.19 0 1 0 2.38 0a1.19 1.19 0 1 0 -2.38 0M161.57 60.50a1.19 1.19 0 1 0 2.38 0a1.19 1.19 0 1 0 -2.38 0M156.97 76.55a1.19 1.19 0 1 0 2.38 0a1.19 1.19 0 1 0 -2.38 0M156.97 88.01a1.19 1.19 0 1 0 2.38 0a1.19 1.19 0 1 0 -2.38 0M156.97 90.30a1.19 1.19 0 1 0 2.38 0a1.19 1.19 0 1 0 -2.38 0M159.27 90.30a1.19 1.19 0 1 0 2.38 0a1.19 1.19 0 1 0 -2.38 0M161.57 90.30a1.19 1.19 0 1 0 2.38 0a1.19 1.19 0 1 0 -2.38 0M156.97 101.76a1.19 1.19 0 1 0 2.38 0a1.19 1.19 0 1 0 -2.38 0M156.97 115.51a1.19 1.19 0 1 0 2.38 0a1.19 1.19 0 1 0 -2.38 0M156.97 120.10a1.19 1.19 0 1 0 2.38 0a1.19 1.19 0 1 0 -2.38 0M156.97 138.43a1.19 1.19 0 1 0 2.38 0a1.19 1.19 0 1 0 -2.38 0M156.97 149.89a1.19 1.19 0 1 0 2.38 0a1.19 1.19 0 1 0 -2.38 0M156.97 154.48a1.19 1.19 0 1 0 2.38 0a1.19 1.19 0 1 0 -2.38 0M156.97 170.52a1.19 1.19 0 1 0 2.38 0a1.19 1.19 0 1 0 -2.38 0M156.97 172.82a1.19 1.19 0 1 0 2.38 0a1.19 1.19 0 1 0 -2.38 0M156.97 175.11a1.19 1.19 0 1 0 2.38 0a1.19 1.19 0 1 0 -2.38 0M159.27 175.11a1.19 1.19 0 1 0 2.38 0a1.19 1.19 0 1 0 -2.38 0M161.57 175.11a1.19 1.19 0 1 0 2.38 0a1.19 1.19 0 1 0 -2.38 0M163.87 175.11a1.19 1.19 0 1 0 2.38 0a1.19 1.19 0 1 0 -2.38 0M156.97 177.40a1.19 1.19 0 1 0 2.38 0a1.19 1.19 0 1 0 -2.38 0M159.27 177.40a1.19 1.19 0 1 0 2.38 0a1.19 1.19 0 1 0 -2.38 0M161.57 177.40a1.19 1.19 0 1 0 2.38 0a1.19 1.19 0 1 0 -2.38 0M163.87 177.40a1.19 1.19 0 1 0 2.38 0a1.19 1.19 0 1 0 -2.38 0M166.17 177.40a1.19 1.19 0 1 0 2.38 0a1.19 1.19 0 1 0 -2.38 0" fill="#E74251"/>
<text x="134.2" y="245.0" text-anchor="middle" font-size="10">6</text>
<path d="M144.50 225.35L154.00 211.40M144.50 225.85L154.00 213.69M144.50 227.80L154.00 215.98M144.50 233.38L154.00 218.28M144.50 236.58L154.00 220.57M144.50 237.46L154.00 222.86M144.50 238.91L154.00 225.15M144.50 239.16L154.00 227.45M144.50 239.25L154.00 229.74M144.50 240.31L154.00 232.03M144.50 240.52L154.00 234.32M144.50 242.86L154.00 236.62M144.50 242.99L154.00 241.20M144.50 243.01L154.00 243.49M144.50 244.71L154.00 245.78M144.50 245.70L154.00 248.08M144.50 247.67L154.00 250.37M144.50 247.77L154.00 252.66M144.50 248.68L154.00 254.95M144.50 249.02L154.00 257.25M144.50 250.17L154.00 259.54M144.50 250.30L154.00 261.83M144.50 250.35L154.00 264.12M144.50 252.88L154.00 266.42M144.50 254.08L154.00 268.71M144.50 255.42L154.00 271.00" stroke="#000" stroke-width="0.5" fill="none"/>
<rect x="140.9" y="223.7" width="3.00" height="33.00" rx="1.50" fill="#dadada"/>
<path d="M140.90 226.90h3.00v0.50h-3.00zM140.90 228.40h3.00v0.50h-3.00zM140.90 235.80h3.00v1.10h-3.00zM140.90 237.20h3.00v0.50h-3.00zM140.90 238.30h3.00v1.80h-3.00zM140.90 243.75h3.00v0.50h-3.00z" fill="#5e5e5e"/>
<path d="M140.90 229.50h3.00v1.80h-3.00zM140.90 231.60h3.00v0.90h-3.00zM140.90 234.80h3.00v0.70h-3.00zM140.90 248.40h3.00v0.90h-3.00z" fill="#7a7a7a"/>
<path d="M140.90 233.10h3.00v0.90h-3.00z" fill="#111"/>
<path d="M140.90 241.10h3.00v0.70h-3.00zM140.90 246.50h3.00v1.10h-3.00zM140.90 252.55h3.00v0.95h-3.00z" fill="#000"/>
<path d="M140.90 242.60h3.00v0.70h-3.00zM140.90 249.75h3.00v1.80h-3.00z" fill="#444"/>
<path d="M140.90 244.55h3.00v0.50h-3.00zM140.90 245.50h3.00v0.70h-3.00z" fill="#2a2a2a"/>
<ellipse cx="142.40" cy="225.20" rx="1.50" ry="1.5" fill="#000"/>
<ellipse cx="142.40" cy="255.20" rx="1.50" ry="1.5" fill="#000"/>
<path d="M157.00 211.40a1.16 1.16 0 1 0 2.32 0a1.16 1.16 0 1 0 -2.32 0M159.30 211.40a1.16 1.16 0 1 0 2.32 0a1.16 1.16 0 1 0 -2.32 0M157.00 213.69a1.16 1.16 0 1 0 2.32 0a1.16 1.16 0 1 0 -2.32 0M159.30 213.69a1.16 1.16 0 1 0 2.32 0a1.16 1.16 0 1 0 -2.32 0M161.60 213.69a1.16 1.16 0 1 0 2.32 0a1.16 1.16 0 1 0 -2.32 0M157.00 215.98a1.16 1.16 0 1 0 2.32 0a1.16 1.16 0 1 0 -2.32 0M159.30 215.98a1.16 1.16 0 1 0 2.32 0a1.16 1.16 0 1 0 -2.32 0M157.00 218.28a1.16 1.16 0 1 0 2.32 0a1.16 1.16 0 1 0 -2.32 0M159.30 218.28a1.16 1.16 0 1 0 2.32 0a1.16 1.16 0 1 0 -2.32 0M161.60 218.28a1.16 1.16 0 1 0 2.32 0a1.16 1.16 0 1 0 -2.32 0M163.90 218.28a1.16 1.16 0 1 0 2.32 0a1.16 1.16 0 1 0 -2.32 0M157.00 220.57a1.16 1.16 0 1 0 2.32 0a1.16 1.16 0 1 0 -2.32 0M159.30 220.57a1.16 1.16 0 1 0 2.32 0a1.16 1.16 0 1 0 -2.32 0M157.00 222.86a1.16 1.16 0 1 0 2.32 0a1.16 1.16 0 1 0 -2.32 0M159.30 222.86a1.16 1.16 0 1 0 2.32 0a1.16 1.16 0 1 0 -2.32 0M157.00 225.15a1.16 1.16 0 1 0 2.32 0a1.16 1.16 0 1 0 -2.32 0M159.30 225.15a1.16 1.16 0 1 0 2.32 0a1.16 1.16 0 1 0 -2.32 0M159.30 227.45a1.16 1.16 0 1 0 2.32 0a1.16 1.16 0 1 0 -2.32 0M161.60 227.45a1.16 1.16 0 1 0 2.32 0a1.16 1.16 0 1 0 -2.32 0M159.30 229.74a1.16 1.16 0 1 0 2.32 0a1.16 1.16 0 1 0 -2.32 0M161.60 229.74a1.16 1.16 0 1 0 2.32 0a1.16 1.16 0 1 0 -2.32 0M163.90 229.74a1.16 1.16 0 1 0 2.32 0a1.16 1.16 0 1 0 -2.32 0M166.20 229.74a1.16 1.16 0 1 0 2.32 0a1.16 1.16 0 1 0 -2.32 0M157.00 232.03a1.16 1.16 0 1 0 2.32 0a1.16 1.16 0 1 0 -2.32 0M159.30 232.03a1.16 1.16 0 1 0 2.32 0a1.16 1.16 0 1 0 -2.32 0M161.60 232.03a1.16 1.16 0 1 0 2.32 0a1.16 1.16 0 1 0 -2.32 0M157.00 234.32a1.16 1.16 0 1 0 2.32 0a1.16 1.16 0 1 0 -2.32 0M159.30 234.32a1.16 1.16 0 1 0 2.32 0a1.16 1.16 0 1 0 -2.32 0M161.60 234.32a1.16 1.16 0 1 0 2.32 0a1.16 1.16 0 1 0 -2.32 0M163.90 234.32a1.16 1.16 0 1 0 2.32 0a1.16 1.16 0 1 0 -2.32 0M157.00 236.62a1.16 1.16 0 1 0 2.32 0a1.16 1.16 0 1 0 -2.32 0M157.00 241.20a1.16 1.16 0 1 0 2.32 0a1.16 1.16 0 1 0 -2.32 0M157.00 243.49a1.16 1.16 0 1 0 2.32 0a1.16 1.16 0 1 0 -2.32 0M159.30 243.49a1.16 1.16 0 1 0 2.32 0a1.16 1.16 0 1 0 -2.32 0M161.60 243.49a1.16 1.16 0 1 0 2.32 0a1.16 1.16 0 1 0 -2.32 0M157.00 245.78a1.16 1.16 0 1 0 2.32 0a1.16 1.16 0 1 0 -2.32 0M159.30 245.78a1.16 1.16 0 1 0 2.32 0a1.16 1.16 0 1 0 -2.32 0M157.00 248.08a1.16 1.16 0 1 0 2.32 0a1.16 1.16 0 1 0 -2.32 0M159.30 248.08a1.16 1.16 0 1 0 2.32 0a1.16 1.16 0 1 0 -2.32 0M161.60 248.08a1.16 1.16 0 1 0 2.32 0a1.16 1.16 0 1 0 -2.32 0M157.00 250.37a1.16 1.16 0 1 0 2.32 0a1.16 1.16 0 1 0 -2.32 0M157.00 252.66a1.16 1.16 0 1 0 2.32 0a1.16 1.16 0 1 0 -2.32 0M159.30 252.66a1.16 1.16 0 1 0 2.32 0a1.16 1.16 0 1 0 -2.32 0M161.60 252.66a1.16 1.16 0 1 0 2.32 0a1.16 1.16 0 1 0 -2.32 0M163.90 252.66a1.16 1.16 0 1 0 2.32 0a1.16 1.16 0 1 0 -2.32 0M159.30 254.95a1.16 1.16 0 1 0 2.32 0a1.16 1.16 0 1 0 -2.32 0M157.00 257.25a1.16 1.16 0 1 0 2.32 0a1.16 1.16 0 1 0 -2.32 0M159.30 257.25a1.16 1.16 0 1 0 2.32 0a1.16 1.16 0 1 0 -2.32 0M161.60 257.25a1.16 1.16 0 1 0 2.32 0a1.16 1.16 0 1 0 -2.32 0M163.90 257.25a1.16 1.16 0 1 0 2.32 0a1.16 1.16 0 1 0 -2.32 0M166.20 257.25a1.16 1.16 0 1 0 2.32 0a1.16 1.16 0 1 0 -2.32 0M157.00 259.54a1.16 1.16 0 1 0 2.32 0a1.16 1.16 0 1 0 -2.32 0M159.30 259.54a1.16 1.16 0 1 0 2.32 0a1.16 1.16 0 1 0 -2.32 0M159.30 261.83a1.16 1.16 0 1 0 2.32 0a1.16 1.16 0 1 0 -2.32 0M161.60 261.83a1.16 1.16 0 1 0 2.32 0a1.16 1.16 0 1 0 -2.32 0M163.90 261.83a1.16 1.16 0 1 0 2.32 0a1.16 1.16 0 1 0 -2.32 0M166.20 261.83a1.16 1.16 0 1 0 2.32 0a1.16 1.16 0 1 0 -2.32 0M168.50 261.83a1.16 1.16 0 1 0 2.32 0a1.16 1.16 0 1 0 -2.32 0M170.80 261.83a1.16 1.16 0 1 0 2.32 0a1.16 1.16 0 1 0 -2.32 0M173.10 261.83a1.16 1.16 0 1 0 2.32 0a1.16 1.16 0 1 0 -2.32 0M163.90 264.12a1.16 1.16 0 1 0 2.32 0a1.16 1.16 0 1 0 -2.32 0" fill="#8AA4EE"/>
<path d="M156.97 227.45a1.19 1.19 0 1 0 2.38 0a1.19 1.19 0 1 0 -2.38 0M156.97 229.74a1.19 1.19 0 1 0 2.38 0a1.19 1.19 0 1 0 -2.38 0M156.97 254.95a1.19 1.19 0 1 0 2.38 0a1.19 1.19 0 1 0 -2.38 0M156.97 261.83a1.19 1.19 0 1 0 2.38 0a1.19 1.19 0 1 0 -2.38 0M156.97 264.12a1.19 1.19 0 1 0 2.38 0a1.19 1.19 0 1 0 -2.38 0M159.27 264.12a1.19 1.19 0 1 0 2.38 0a1.19 1.19 0 1 0 -2.38 0M161.57 264.12a1.19 1.19 0 1 0 2.38 0a1.19 1.19 0 1 0 -2.38 0M156.97 266.42a1.19 1.19 0 1 0 2.38 0a1.19 1.19 0 1 0 -2.38 0M159.27 266.42a1.19 1.19 0 1 0 2.38 0a1.19 1.19 0 1 0 -2.38 0M161.57 266.42a1.19 1.19 0 1 0 2.38 0a1.19 1.19 0 1 0 -2.38 0M163.87 266.42a1.19 1.19 0 1 0 2.38 0a1.19 1.19 0 1 0 -2.38 0M166.17 266.42a1.19 1.19 0 1 0 2.38 0a1.19 1.19 0 1 0 -2.38 0M168.47 266.42a1.19 1.19 0 1 0 2.38 0a1.19 1.19 0 1 0 -2.38 0M156.97 268.71a1.19 1.19 0 1 0 2.38 0a1.19 1.19 0 1 0 -2.38 0M159.27 268.71a1.19 1.19 0 1 0 2.38 0a1.19 1.19 0 1 0 -2.38 0M161.57 268.71a1.19 1.19 0 1 0 2.38 0a1.19 1.19 0 1 0 -2.38 0M163.87 268.71a1.19 1.19 0 1 0 2.38 0a1.19 1.19 0 1 0 -2.38 0M166.17 268.71a1.19 1.19 0 1 0 2.38 0a1.19 1.19 0 1 0 -2.38 0M168.47 268.71a1.19 1.19 0 1 0 2.38 0a1.19 1.19 0 1 0 -2.38 0M156.97 271.00a1.19 1.19 0 1 0 2.38 0a1.19 1.19 0 1 0 -2.38 0M159.27 271.00a1.19 1.19 0 1 0 2.38 0a1.19 1.19 0 1 0 -2.38 0M161.57 271.00a1.19 1.19 0 1 0 2.38 0a1.19 1.19 0 1 0 -2.38 0M163.87 271.00a1.19 1.19 0 1 0 2.38 0a1.19 1.19 0 1 0 -2.38 0M166.17 271.00a1.19 1.19 0 1 0 2.38 0a1.19 1.19 0 1 0 -2.38 0M168.47 271.00a1.19 1.19 0 1 0 2.38 0a1.19 1.19 0 1 0 -2.38 0" fill="#E74251"/>
<text x="197.6" y="180.5" text-anchor="middle" font-size="10">7</text>
<path d="M208.60 115.60L218.40 54.00M208.60 116.10L218.40 56.28M208.60 118.05L218.40 58.57M208.60 118.96L218.40 60.85M208.60 119.90L218.40 63.13M208.60 120.05L218.40 65.41M208.60 120.49L218.40 67.70M208.60 121.78L218.40 69.98M208.60 122.59L218.40 72.26M208.60 123.25L218.40 74.54M208.60 123.44L218.40 76.83M208.60 123.62L218.40 79.11M208.60 125.64L218.40 81.39M208.60 125.65L218.40 83.67M208.60 127.71L218.40 85.96M208.60 129.80L218.40 88.24M208.60 131.41L218.40 90.52M208.60 132.63L218.40 92.81M208.60 135.24L218.40 95.09M208.60 135.40L218.40 97.37M208.60 135.88L218.40 99.65M208.60 136.11L218.40 101.94M208.60 136.64L218.40 104.22M208.60 138.29L218.40 106.50M208.60 140.14L218.40 108.78M208.60 140.64L218.40 111.07M208.60 144.13L218.40 113.35M208.60 144.92L218.40 115.63M208.60 145.75L218.40 117.91M208.60 146.67L218.40 120.20M208.60 152.27L218.40 122.48M208.60 153.60L218.40 124.76M208.60 154.23L218.40 127.04M208.60 155.03L218.40 129.33M208.60 156.82L218.40 131.61M208.60 159.67L218.40 133.89M208.60 163.81L218.40 136.18M208.60 164.53L218.40 138.46M208.60 166.02L218.40 140.74M208.60 167.24L218.40 143.02M208.60 170.19L218.40 145.31M208.60 170.32L218.40 147.59M208.60 171.16L218.40 149.87M208.60 171.25L218.40 152.15M208.60 171.44L218.40 154.44M208.60 182.24L218.40 156.72M208.60 183.23L218.40 159.00M208.60 183.40L218.40 161.28M208.60 183.56L218.40 163.57M208.60 188.40L218.40 165.85M208.60 188.51L218.40 168.13M208.60 188.61L218.40 170.42M208.60 193.55L218.40 172.70M208.60 193.64L218.40 174.98M208.60 194.30L218.40 177.26M208.60 194.79L218.40 179.55M208.60 197.72L218.40 184.11M208.60 198.21L218.40 186.39M208.60 202.53L218.40 188.68M208.60 203.94L218.40 190.96M208.60 204.40L218.40 193.24M208.60 204.90L218.40 195.52M208.60 207.87L218.40 197.81M208.60 208.54L218.40 200.09M208.60 208.83L218.40 202.37M208.60 209.19L218.40 204.66M208.60 209.39L218.40 206.94M208.60 209.76L218.40 209.22M208.60 210.27L218.40 211.50M208.60 210.65L218.40 213.79M208.60 211.62L218.40 216.07M208.60 211.63L218.40 218.35M208.60 211.69L218.40 220.63M208.60 212.65L218.40 222.92M208.60 213.05L218.40 225.20M208.60 213.22L218.40 227.48M208.60 214.23L218.40 229.76M208.60 214.66L218.40 232.05M208.60 218.48L218.40 234.33M208.60 218.64L218.40 236.61M208.60 219.20L218.40 238.89M208.60 219.27L218.40 241.18M208.60 223.40L218.40 243.46M208.60 224.61L218.40 245.74M208.60 224.66L218.40 248.03M208.60 225.01L218.40 250.31M208.60 226.89L218.40 252.59M208.60 227.94L218.40 254.87M208.60 228.09L218.40 257.16M208.60 229.13L218.40 259.44M208.60 229.76L218.40 261.72M208.60 232.90L218.40 264.00M208.60 233.92L218.40 266.29M208.60 234.98L218.40 268.57M208.60 235.56L218.40 270.85M208.60 237.04L218.40 273.13M208.60 237.25L218.40 275.42M208.60 237.55L218.40 277.70" stroke="#000" stroke-width="0.5" fill="none"/>
<rect x="205.2" y="113.4" width="2.80" height="126.10" rx="1.40" fill="#dadada"/>
<path d="M205.20 116.60h2.80v1.40h-2.80zM205.20 139.55h2.80v0.90h-2.80zM205.20 141.25h2.80v0.50h-2.80zM205.20 150.95h2.80v1.80h-2.80zM205.20 160.70h2.80v0.50h-2.80zM205.20 196.85h2.80v1.80h-2.80zM205.20 205.55h2.80v0.70h-2.80zM205.20 220.15h2.80v1.80h-2.80zM205.20 224.25h2.80v0.90h-2.80z" fill="#000"/>
<path d="M205.20 118.60h2.80v0.50h-2.80zM205.20 125.15h2.80v0.90h-2.80zM205.20 134.05h2.80v1.10h-2.80zM205.20 136.15h2.80v0.70h-2.80zM205.20 138.75h2.80v0.50h-2.80zM205.20 169.80h2.80v0.50h-2.80zM205.20 182.85h2.80v1.40h-2.80zM205.20 186.20h2.80v1.40h-2.80zM205.20 188.20h2.80v0.50h-2.80zM205.20 192.35h2.80v0.70h-2.80zM205.20 199.10h2.80v0.90h-2.80zM205.20 206.55h2.80v1.10h-2.80zM205.20 210.35h2.80v1.80h-2.80zM205.20 212.60h2.80v1.10h-2.80zM205.20 217.15h2.80v0.50h-2.80zM205.20 218.25h2.80v0.90h-2.80zM205.20 234.05h2.80v0.90h-2.80z" fill="#2a2a2a"/>
<path d="M205.20 119.70h2.80v1.80h-2.80zM205.20 130.65h2.80v0.90h-2.80zM205.20 148.35h2.80v1.80h-2.80zM205.20 157.85h2.80v1.40h-2.80zM205.20 166.10h2.80v1.40h-2.80zM205.20 172.25h2.80v0.90h-2.80zM205.20 181.15h2.80v0.90h-2.80zM205.20 189.00h2.80v0.70h-2.80zM205.20 204.35h2.80v0.90h-2.80zM205.20 208.10h2.80v0.50h-2.80zM205.20 209.20h2.80v0.70h-2.80zM205.20 214.50h2.80v1.40h-2.80zM205.20 230.10h2.80v0.70h-2.80z" fill="#5e5e5e"/>
<path d="M205.20 122.50h2.80v0.70h-2.80zM205.20 123.65h2.80v0.70h-2.80zM205.20 137.65h2.80v0.50h-2.80zM205.20 142.05h2.80v1.40h-2.80zM205.20 146.65h2.80v0.70h-2.80zM205.20 155.75h2.80v0.50h-2.80zM205.20 156.70h2.80v0.70h-2.80zM205.20 173.60h2.80v1.80h-2.80zM205.20 175.85h2.80v1.10h-2.80zM205.20 177.95h2.80v1.40h-2.80zM205.20 180.15h2.80v0.70h-2.80zM205.20 190.00h2.80v1.10h-2.80zM205.20 202.15h2.80v1.40h-2.80zM205.20 225.60h2.80v1.80h-2.80zM205.20 228.20h2.80v1.10h-2.80z" fill="#7a7a7a"/>
<path d="M205.20 127.05h2.80v0.90h-2.80zM205.20 128.95h2.80v0.70h-2.80zM205.20 132.15h2.80v1.10h-2.80zM205.20 144.25h2.80v1.80h-2.80zM205.20 153.55h2.80v1.40h-2.80zM205.20 162.00h2.80v1.40h-2.80zM205.20 168.10h2.80v1.10h-2.80zM205.20 171.30h2.80v0.50h-2.80zM205.20 185.25h2.80v0.50h-2.80zM205.20 191.40h2.80v0.50h-2.80zM205.20 216.35h2.80v0.50h-2.80zM205.20 231.80h2.80v1.80h-2.80z" fill="#444"/>
<path d="M205.20 159.70h2.80v0.70h-2.80zM205.20 163.70h2.80v1.80h-2.80zM205.20 193.50h2.80v0.50h-2.80zM205.20 194.60h2.80v1.80h-2.80zM205.20 200.30h2.80v1.40h-2.80zM205.20 222.75h2.80v0.70h-2.80zM205.20 235.75h2.80v0.50h-2.80z" fill="#111"/>
<ellipse cx="206.60" cy="114.90" rx="1.40" ry="1.5" fill="#000"/>
<ellipse cx="206.60" cy="238.00" rx="1.40" ry="1.5" fill="#000"/>
<path d="M227.90 58.57a1.16 1.16 0 1 0 2.32 0a1.16 1.16 0 1 0 -2.32 0M230.20 58.57a1.16 1.16 0 1 0 2.32 0a1.16 1.16 0 1 0 -2.32 0M232.50 58.57a1.16 1.16 0 1 0 2.32 0a1.16 1.16 0 1 0 -2.32 0M234.80 58.57a1.16 1.16 0 1 0 2.32 0a1.16 1.16 0 1 0 -2.32 0M237.10 58.57a1.16 1.16 0 1 0 2.32 0a1.16 1.16 0 1 0 -2.32 0M239.40 58.57a1.16 1.16 0 1 0 2.32 0a1.16 1.16 0 1 0 -2.32 0M227.90 60.85a1.16 1.16 0 1 0 2.32 0a1.16 1.16 0 1 0 -2.32 0M221.00 63.13a1.16 1.16 0 1 0 2.32 0a1.16 1.16 0 1 0 -2.32 0M223.30 63.13a1.16 1.16 0 1 0 2.32 0a1.16 1.16 0 1 0 -2.32 0M225.60 63.13a1.16 1.16 0 1 0 2.32 0a1.16 1.16 0 1 0 -2.32 0M227.90 63.13a1.16 1.16 0 1 0 2.32 0a1.16 1.16 0 1 0 -2.32 0M230.20 63.13a1.16 1.16 0 1 0 2.32 0a1.16 1.16 0 1 0 -2.32 0M232.50 63.13a1.16 1.16 0 1 0 2.32 0a1.16 1.16 0 1 0 -2.32 0M221.00 65.41a1.16 1.16 0 1 0 2.32 0a1.16 1.16 0 1 0 -2.32 0M223.30 65.41a1.16 1.16 0 1 0 2.32 0a1.16 1.16 0 1 0 -2.32 0M225.60 65.41a1.16 1.16 0 1 0 2.32 0a1.16 1.16 0 1 0 -2.32 0M221.00 67.70a1.16 1.16 0 1 0 2.32 0a1.16 1.16 0 1 0 -2.32 0M221.00 69.98a1.16 1.16 0 1 0 2.32 0a1.16 1.16 0 1 0 -2.32 0M223.30 69.98a1.16 1.16 0 1 0 2.32 0a1.16 1.16 0 1 0 -2.32 0M221.00 72.26a1.16 1.16 0 1 0 2.32 0a1.16 1.16 0 1 0 -2.32 0M223.30 72.26a1.16 1.16 0 1 0 2.32 0a1.16 1.16 0 1 0 -2.32 0M221.00 74.54a1.16 1.16 0 1 0 2.32 0a1.16 1.16 0 1 0 -2.32 0M223.30 74.54a1.16 1.16 0 1 0 2.32 0a1.16 1.16 0 1 0 -2.32 0M225.60 74.54a1.16 1.16 0 1 0 2.32 0a1.16 1.16 0 1 0 -2.32 0M227.90 74.54a1.16 1.16 0 1 0 2.32 0a1.16 1.16 0 1 0 -2.32 0M230.20 74.54a1.16 1.16 0 1 0 2.32 0a1.16 1.16 0 1 0 -2.32 0M221.00 76.83a1.16 1.16 0 1 0 2.32 0a1.16 1.16 0 1 0 -2.32 0M223.30 76.83a1.16 1.16 0 1 0 2.32 0a1.16 1.16 0 1 0 -2.32 0M225.60 76.83a1.16 1.16 0 1 0 2.32 0a1.16 1.16 0 1 0 -2.32 0M221.00 79.11a1.16 1.16 0 1 0 2.32 0a1.16 1.16 0 1 0 -2.32 0M223.30 79.11a1.16 1.16 0 1 0 2.32 0a1.16 1.16 0 1 0 -2.32 0M225.60 79.11a1.16 1.16 0 1 0 2.32 0a1.16 1.16 0 1 0 -2.32 0M221.00 81.39a1.16 1.16 0 1 0 2.32 0a1.16 1.16 0 1 0 -2.32 0M223.30 81.39a1.16 1.16 0 1 0 2.32 0a1.16 1.16 0 1 0 -2.32 0M225.60 81.39a1.16 1.16 0 1 0 2.32 0a1.16 1.16 0 1 0 -2.32 0M227.90 81.39a1.16 1.16 0 1 0 2.32 0a1.16 1.16 0 1 0 -2.32 0M230.20 81.39a1.16 1.16 0 1 0 2.32 0a1.16 1.16 0 1 0 -2.32 0M232.50 81.39a1.16 1.16 0 1 0 2.32 0a1.16 1.16 0 1 0 -2.32 0M234.80 81.39a1.16 1.16 0 1 0 2.32 0a1.16 1.16 0 1 0 -2.32 0M225.60 83.67a1.16 1.16 0 1 0 2.32 0a1.16 1.16 0 1 0 -2.32 0M227.90 83.67a1.16 1.16 0 1 0 2.32 0a1.16 1.16 0 1 0 -2.32 0M221.00 85.96a1.16 1.16 0 1 0 2.32 0a1.16 1.16 0 1 0 -2.32 0M223.30 85.96a1.16 1.16 0 1 0 2.32 0a1.16 1.16 0 1 0 -2.32 0M225.60 85.96a1.16 1.16 0 1 0 2.32 0a1.16 1.16 0 1 0 -2.32 0M227.90 85.96a1.16 1.16 0 1 0 2.32 0a1.16 1.16 0 1 0 -2.32 0M230.20 85.96a1.16 1.16 0 1 0 2.32 0a1.16 1.16 0 1 0 -2.32 0M221.00 88.24a1.16 1.16 0 1 0 2.32 0a1.16 1.16 0 1 0 -2.32 0M223.30 88.24a1.16 1.16 0 1 0 2.32 0a1.16 1.16 0 1 0 -2.32 0M221.00 90.52a1.16 1.16 0 1 0 2.32 0a1.16 1.16 0 1 0 -2.32 0M223.30 90.52a1.16 1.16 0 1 0 2.32 0a1.16 1.16 0 1 0 -2.32 0M225.60 90.52a1.16 1.16 0 1 0 2.32 0a1.16 1.16 0 1 0 -2.32 0M221.00 92.81a1.16 1.16 0 1 0 2.32 0a1.16 1.16 0 1 0 -2.32 0M221.00 95.09a1.16 1.16 0 1 0 2.32 0a1.16 1.16 0 1 0 -2.32 0M223.30 95.09a1.16 1.16 0 1 0 2.32 0a1.16 1.16 0 1 0 -2.32 0M225.60 95.09a1.16 1.16 0 1 0 2.32 0a1.16 1.16 0 1 0 -2.32 0M221.00 97.37a1.16 1.16 0 1 0 2.32 0a1.16 1.16 0 1 0 -2.32 0M223.30 97.37a1.16 1.16 0 1 0 2.32 0a1.16 1.16 0 1 0 -2.32 0M225.60 97.37a1.16 1.16 0 1 0 2.32 0a1.16 1.16 0 1 0 -2.32 0M227.90 97.37a1.16 1.16 0 1 0 2.32 0a1.16 1.16 0 1 0 -2.32 0M221.00 99.65a1.16 1.16 0 1 0 2.32 0a1.16 1.16 0 1 0 -2.32 0M223.30 99.65a1.16 1.16 0 1 0 2.32 0a1.16 1.16 0 1 0 -2.32 0M225.60 99.65a1.16 1.16 0 1 0 2.32 0a1.16 1.16 0 1 0 -2.32 0M221.00 101.94a1.16 1.16 0 1 0 2.32 0a1.16 1.16 0 1 0 -2.32 0M221.00 104.22a1.16 1.16 0 1 0 2.32 0a1.16 1.16 0 1 0 -2.32 0M223.30 104.22a1.16 1.16 0 1 0 2.32 0a1.16 1.16 0 1 0 -2.32 0M225.60 104.22a1.16 1.16 0 1 0 2.32 0a1.16 1.16 0 1 0 -2.32 0M227.90 104.22a1.16 1.16 0 1 0 2.32 0a1.16 1.16 0 1 0 -2.32 0M230.20 104.22a1.16 1.16 0 1 0 2.32 0a1.16 1.16 0 1 0 -2.32 0M221.00 106.50a1.16 1.16 0 1 0 2.32 0a1.16 1.16 0 1 0 -2.32 0M223.30 106.50a1.16 1.16 0 1 0 2.32 0a1.16 1.16 0 1 0 -2.32 0M221.00 108.78a1.16 1.16 0 1 0 2.32 0a1.16 1.16 0 1 0 -2.32 0M223.30 108.78a1.16 1.16 0 1 0 2.32 0a1.16 1.16 0 1 0 -2.32 0M225.60 108.78a1.16 1.16 0 1 0 2.32 0a1.16 1.16 0 1 0 -2.32 0M221.00 111.07a1.16 1.16 0 1 0 2.32 0a1.16 1.16 0 1 0 -2.32 0M223.30 115.63a1.16 1.16 0 1 0 2.32 0a1.16 1.16 0 1 0 -2.32 0M225.60 115.63a1.16 1.16 0 1 0 2.32 0a1.16 1.16 0 1 0 -2.32 0M221.00 117.91a1.16 1.16 0 1 0 2.32 0a1.16 1.16 0 1 0 -2.32 0M223.30 117.91a1.16 1.16 0 1 0 2.32 0a1.16 1.16 0 1 0 -2.32 0M221.00 120.20a1.16 1.16 0 1 0 2.32 0a1.16 1.16 0 1 0 -2.32 0M223.30 120.20a1.16 1.16 0 1 0 2.32 0a1.16 1.16 0 1 0 -2.32 0M221.00 122.48a1.16 1.16 0 1 0 2.32 0a1.16 1.16 0 1 0 -2.32 0M223.30 122.48a1.16 1.16 0 1 0 2.32 0a1.16 1.16 0 1 0 -2.32 0M225.60 122.48a1.16 1.16 0 1 0 2.32 0a1.16 1.16 0 1 0 -2.32 0M227.90 122.48a1.16 1.16 0 1 0 2.32 0a1.16 1.16 0 1 0 -2.32 0M230.20 122.48a1.16 1.16 0 1 0 2.32 0a1.16 1.16 0 1 0 -2.32 0M221.00 124.76a1.16 1.16 0 1 0 2.32 0a1.16 1.16 0 1 0 -2.32 0M223.30 124.76a1.16 1.16 0 1 0 2.32 0a1.16 1.16 0 1 0 -2.32 0M225.60 124.76a1.16 1.16 0 1 0 2.32 0a1.16 1.16 0 1 0 -2.32 0M227.90 124.76a1.16 1.16 0 1 0 2.32 0a1.16 1.16 0 1 0 -2.32 0M221.00 127.04a1.16 1.16 0 1 0 2.32 0a1.16 1.16 0 1 0 -2.32 0M223.30 127.04a1.16 1.16 0 1 0 2.32 0a1.16 1.16 0 1 0 -2.32 0M221.00 129.33a1.16 1.16 0 1 0 2.32 0a1.16 1.16 0 1 0 -2.32 0M223.30 129.33a1.16 1.16 0 1 0 2.32 0a1.16 1.16 0 1 0 -2.32 0M225.60 129.33a1.16 1.16 0 1 0 2.32 0a1.16 1.16 0 1 0 -2.32 0M227.90 129.33a1.16 1.16 0 1 0 2.32 0a1.16 1.16 0 1 0 -2.32 0M225.60 131.61a1.16 1.16 0 1 0 2.32 0a1.16 1.16 0 1 0 -2.32 0M221.00 133.89a1.16 1.16 0 1 0 2.32 0a1.16 1.16 0 1 0 -2.32 0M223.30 133.89a1.16 1.16 0 1 0 2.32 0a1.16 1.16 0 1 0 -2.32 0M225.60 133.89a1.16 1.16 0 1 0 2.32 0a1.16 1.16 0 1 0 -2.32 0M227.90 133.89a1.16 1.16 0 1 0 2.32 0a1.16 1.16 0 1 0 -2.32 0M230.20 133.89a1.16 1.16 0 1 0 2.32 0a1.16 1.16 0 1 0 -2.32 0M232.50 133.89a1.16 1.16 0 1 0 2.32 0a1.16 1.16 0 1 0 -2.32 0M221.00 136.18a1.16 1.16 0 1 0 2.32 0a1.16 1.16 0 1 0 -2.32 0M223.30 136.18a1.16 1.16 0 1 0 2.32 0a1.16 1.16 0 1 0 -2.32 0M223.30 138.46a1.16 1.16 0 1 0 2.32 0a1.16 1.16 0 1 0 -2.32 0M225.60 138.46a1.16 1.16 0 1 0 2.32 0a1.16 1.16 0 1 0 -2.32 0M221.00 140.74a1.16 1.16 0 1 0 2.32 0a1.16 1.16 0 1 0 -2.32 0M223.30 140.74a1.16 1.16 0 1 0 2.32 0a1.16 1.16 0 1 0 -2.32 0M221.00 143.02a1.16 1.16 0 1 0 2.32 0a1.16 1.16 0 1 0 -2.32 0M223.30 143.02a1.16 1.16 0 1 0 2.32 0a1.16 1.16 0 1 0 -2.32 0M225.60 143.02a1.16 1.16 0 1 0 2.32 0a1.16 1.16 0 1 0 -2.32 0M221.00 145.31a1.16 1.16 0 1 0 2.32 0a1.16 1.16 0 1 0 -2.32 0M223.30 145.31a1.16 1.16 0 1 0 2.32 0a1.16 1.16 0 1 0 -2.32 0M225.60 145.31a1.16 1.16 0 1 0 2.32 0a1.16 1.16 0 1 0 -2.32 0M227.90 145.31a1.16 1.16 0 1 0 2.32 0a1.16 1.16 0 1 0 -2.32 0M221.00 147.59a1.16 1.16 0 1 0 2.32 0a1.16 1.16 0 1 0 -2.32 0M223.30 147.59a1.16 1.16 0 1 0 2.32 0a1.16 1.16 0 1 0 -2.32 0M221.00 149.87a1.16 1.16 0 1 0 2.32 0a1.16 1.16 0 1 0 -2.32 0M223.30 149.87a1.16 1.16 0 1 0 2.32 0a1.16 1.16 0 1 0 -2.32 0M225.60 149.87a1.16 1.16 0 1 0 2.32 0a1.16 1.16 0 1 0 -2.32 0M227.90 149.87a1.16 1.16 0 1 0 2.32 0a1.16 1.16 0 1 0 -2.32 0M230.20 149.87a1.16 1.16 0 1 0 2.32 0a1.16 1.16 0 1 0 -2.32 0M232.50 149.87a1.16 1.16 0 1 0 2.32 0a1.16 1.16 0 1 0 -2.32 0M221.00 152.15a1.16 1.16 0 1 0 2.32 0a1.16 1.16 0 1 0 -2.32 0M223.30 152.15a1.16 1.16 0 1 0 2.32 0a1.16 1.16 0 1 0 -2.32 0M225.60 152.15a1.16 1.16 0 1 0 2.32 0a1.16 1.16 0 1 0 -2.32 0M221.00 154.44a1.16 1.16 0 1 0 2.32 0a1.16 1.16 0 1 0 -2.32 0M223.30 154.44a1.16 1.16 0 1 0 2.32 0a1.16 1.16 0 1 0 -2.32 0M221.00 156.72a1.16 1.16 0 1 0 2.32 0a1.16 1.16 0 1 0 -2.32 0M223.30 156.72a1.16 1.16 0 1 0 2.32 0a1.16 1.16 0 1 0 -2.32 0M225.60 156.72a1.16 1.16 0 1 0 2.32 0a1.16 1.16 0 1 0 -2.32 0M227.90 156.72a1.16 1.16 0 1 0 2.32 0a1.16 1.16 0 1 0 -2.32 0M221.00 159.00a1.16 1.16 0 1 0 2.32 0a1.16 1.16 0 1 0 -2.32 0M223.30 159.00a1.16 1.16 0 1 0 2.32 0a1.16 1.16 0 1 0 -2.32 0M225.60 159.00a1.16 1.16 0 1 0 2.32 0a1.16 1.16 0 1 0 -2.32 0M221.00 161.28a1.16 1.16 0 1 0 2.32 0a1.16 1.16 0 1 0 -2.32 0M223.30 161.28a1.16 1.16 0 1 0 2.32 0a1.16 1.16 0 1 0 -2.32 0M225.60 161.28a1.16 1.16 0 1 0 2.32 0a1.16 1.16 0 1 0 -2.32 0M227.90 161.28a1.16 1.16 0 1 0 2.32 0a1.16 1.16 0 1 0 -2.32 0M230.20 161.28a1.16 1.16 0 1 0 2.32 0a1.16 1.16 0 1 0 -2.32 0M221.00 163.57a1.16 1.16 0 1 0 2.32 0a1.16 1.16 0 1 0 -2.32 0M223.30 163.57a1.16 1.16 0 1 0 2.32 0a1.16 1.16 0 1 0 -2.32 0M225.60 163.57a1.16 1.16 0 1 0 2.32 0a1.16 1.16 0 1 0 -2.32 0M221.00 165.85a1.16 1.16 0 1 0 2.32 0a1.16 1.16 0 1 0 -2.32 0M221.00 168.13a1.16 1.16 0 1 0 2.32 0a1.16 1.16 0 1 0 -2.32 0M223.30 168.13a1.16 1.16 0 1 0 2.32 0a1.16 1.16 0 1 0 -2.32 0M221.00 170.42a1.16 1.16 0 1 0 2.32 0a1.16 1.16 0 1 0 -2.32 0M223.30 170.42a1.16 1.16 0 1 0 2.32 0a1.16 1.16 0 1 0 -2.32 0M221.00 177.26a1.16 1.16 0 1 0 2.32 0a1.16 1.16 0 1 0 -2.32 0M223.30 177.26a1.16 1.16 0 1 0 2.32 0a1.16 1.16 0 1 0 -2.32 0M225.60 177.26a1.16 1.16 0 1 0 2.32 0a1.16 1.16 0 1 0 -2.32 0M221.00 179.55a1.16 1.16 0 1 0 2.32 0a1.16 1.16 0 1 0 -2.32 0M221.00 184.11a1.16 1.16 0 1 0 2.32 0a1.16 1.16 0 1 0 -2.32 0M221.00 186.39a1.16 1.16 0 1 0 2.32 0a1.16 1.16 0 1 0 -2.32 0M223.30 186.39a1.16 1.16 0 1 0 2.32 0a1.16 1.16 0 1 0 -2.32 0M221.00 188.68a1.16 1.16 0 1 0 2.32 0a1.16 1.16 0 1 0 -2.32 0M223.30 188.68a1.16 1.16 0 1 0 2.32 0a1.16 1.16 0 1 0 -2.32 0M221.00 190.96a1.16 1.16 0 1 0 2.32 0a1.16 1.16 0 1 0 -2.32 0M223.30 190.96a1.16 1.16 0 1 0 2.32 0a1.16 1.16 0 1 0 -2.32 0M221.00 193.24a1.16 1.16 0 1 0 2.32 0a1.16 1.16 0 1 0 -2.32 0M223.30 193.24a1.16 1.16 0 1 0 2.32 0a1.16 1.16 0 1 0 -2.32 0M225.60 193.24a1.16 1.16 0 1 0 2.32 0a1.16 1.16 0 1 0 -2.32 0M221.00 197.81a1.16 1.16 0 1 0 2.32 0a1.16 1.16 0 1 0 -2.32 0M223.30 197.81a1.16 1.16 0 1 0 2.32 0a1.16 1.16 0 1 0 -2.32 0M221.00 200.09a1.16 1.16 0 1 0 2.32 0a1.16 1.16 0 1 0 -2.32 0M223.30 200.09a1.16 1.16 0 1 0 2.32 0a1.16 1.16 0 1 0 -2.32 0M225.60 200.09a1.16 1.16 0 1 0 2.32 0a1.16 1.16 0 1 0 -2.32 0M227.90 200.09a1.16 1.16 0 1 0 2.32 0a1.16 1.16 0 1 0 -2.32 0M221.00 206.94a1.16 1.16 0 1 0 2.32 0a1.16 1.16 0 1 0 -2.32 0M223.30 206.94a1.16 1.16 0 1 0 2.32 0a1.16 1.16 0 1 0 -2.32 0M225.60 206.94a1.16 1.16 0 1 0 2.32 0a1.16 1.16 0 1 0 -2.32 0M227.90 206.94a1.16 1.16 0 1 0 2.32 0a1.16 1.16 0 1 0 -2.32 0M221.00 209.22a1.16 1.16 0 1 0 2.32 0a1.16 1.16 0 1 0 -2.32 0M223.30 209.22a1.16 1.16 0 1 0 2.32 0a1.16 1.16 0 1 0 -2.32 0M225.60 209.22a1.16 1.16 0 1 0 2.32 0a1.16 1.16 0 1 0 -2.32 0M227.90 209.22a1.16 1.16 0 1 0 2.32 0a1.16 1.16 0 1 0 -2.32 0M230.20 209.22a1.16 1.16 0 1 0 2.32 0a1.16 1.16 0 1 0 -2.32 0M221.00 211.50a1.16 1.16 0 1 0 2.32 0a1.16 1.16 0 1 0 -2.32 0M223.30 211.50a1.16 1.16 0 1 0 2.32 0a1.16 1.16 0 1 0 -2.32 0M225.60 211.50a1.16 1.16 0 1 0 2.32 0a1.16 1.16 0 1 0 -2.32 0M221.00 213.79a1.16 1.16 0 1 0 2.32 0a1.16 1.16 0 1 0 -2.32 0M221.00 216.07a1.16 1.16 0 1 0 2.32 0a1.16 1.16 0 1 0 -2.32 0M223.30 216.07a1.16 1.16 0 1 0 2.32 0a1.16 1.16 0 1 0 -2.32 0M225.60 216.07a1.16 1.16 0 1 0 2.32 0a1.16 1.16 0 1 0 -2.32 0M227.90 216.07a1.16 1.16 0 1 0 2.32 0a1.16 1.16 0 1 0 -2.32 0M221.00 218.35a1.16 1.16 0 1 0 2.32 0a1.16 1.16 0 1 0 -2.32 0M223.30 218.35a1.16 1.16 0 1 0 2.32 0a1.16 1.16 0 1 0 -2.32 0M225.60 218.35a1.16 1.16 0 1 0 2.32 0a1.16 1.16 0 1 0 -2.32 0M221.00 220.63a1.16 1.16 0 1 0 2.32 0a1.16 1.16 0 1 0 -2.32 0M221.00 222.92a1.16 1.16 0 1 0 2.32 0a1.16 1.16 0 1 0 -2.32 0M223.30 222.92a1.16 1.16 0 1 0 2.32 0a1.16 1.16 0 1 0 -2.32 0M225.60 222.92a1.16 1.16 0 1 0 2.32 0a1.16 1.16 0 1 0 -2.32 0M221.00 225.20a1.16 1.16 0 1 0 2.32 0a1.16 1.16 0 1 0 -2.32 0M223.30 225.20a1.16 1.16 0 1 0 2.32 0a1.16 1.16 0 1 0 -2.32 0M225.60 225.20a1.16 1.16 0 1 0 2.32 0a1.16 1.16 0 1 0 -2.32 0M221.00 227.48a1.16 1.16 0 1 0 2.32 0a1.16 1.16 0 1 0 -2.32 0M221.00 229.76a1.16 1.16 0 1 0 2.32 0a1.16 1.16 0 1 0 -2.32 0M223.30 229.76a1.16 1.16 0 1 0 2.32 0a1.16 1.16 0 1 0 -2.32 0M225.60 229.76a1.16 1.16 0 1 0 2.32 0a1.16 1.16 0 1 0 -2.32 0M221.00 232.05a1.16 1.16 0 1 0 2.32 0a1.16 1.16 0 1 0 -2.32 0M223.30 232.05a1.16 1.16 0 1 0 2.32 0a1.16 1.16 0 1 0 -2.32 0M221.00 234.33a1.16 1.16 0 1 0 2.32 0a1.16 1.16 0 1 0 -2.32 0M223.30 234.33a1.16 1.16 0 1 0 2.32 0a1.16 1.16 0 1 0 -2.32 0M225.60 234.33a1.16 1.16 0 1 0 2.32 0a1.16 1.16 0 1 0 -2.32 0M221.00 236.61a1.16 1.16 0 1 0 2.32 0a1.16 1.16 0 1 0 -2.32 0M223.30 236.61a1.16 1.16 0 1 0 2.32 0a1.16 1.16 0 1 0 -2.32 0M225.60 236.61a1.16 1.16 0 1 0 2.32 0a1.16 1.16 0 1 0 -2.32 0M221.00 241.18a1.16 1.16 0 1 0 2.32 0a1.16 1.16 0 1 0 -2.32 0M223.30 241.18a1.16 1.16 0 1 0 2.32 0a1.16 1.16 0 1 0 -2.32 0M221.00 243.46a1.16 1.16 0 1 0 2.32 0a1.16 1.16 0 1 0 -2.32 0M223.30 243.46a1.16 1.16 0 1 0 2.32 0a1.16 1.16 0 1 0 -2.32 0M221.00 245.74a1.16 1.16 0 1 0 2.32 0a1.16 1.16 0 1 0 -2.32 0M223.30 245.74a1.16 1.16 0 1 0 2.32 0a1.16 1.16 0 1 0 -2.32 0M225.60 245.74a1.16 1.16 0 1 0 2.32 0a1.16 1.16 0 1 0 -2.32 0M227.90 245.74a1.16 1.16 0 1 0 2.32 0a1.16 1.16 0 1 0 -2.32 0M230.20 245.74a1.16 1.16 0 1 0 2.32 0a1.16 1.16 0 1 0 -2.32 0M232.50 245.74a1.16 1.16 0 1 0 2.32 0a1.16 1.16 0 1 0 -2.32 0M234.80 245.74a1.16 1.16 0 1 0 2.32 0a1.16 1.16 0 1 0 -2.32 0M237.10 245.74a1.16 1.16 0 1 0 2.32 0a1.16 1.16 0 1 0 -2.32 0M221.00 248.03a1.16 1.16 0 1 0 2.32 0a1.16 1.16 0 1 0 -2.32 0M223.30 248.03a1.16 1.16 0 1 0 2.32 0a1.16 1.16 0 1 0 -2.32 0M221.00 250.31a1.16 1.16 0 1 0 2.32 0a1.16 1.16 0 1 0 -2.32 0M223.30 250.31a1.16 1.16 0 1 0 2.32 0a1.16 1.16 0 1 0 -2.32 0M225.60 250.31a1.16 1.16 0 1 0 2.32 0a1.16 1.16 0 1 0 -2.32 0M227.90 250.31a1.16 1.16 0 1 0 2.32 0a1.16 1.16 0 1 0 -2.32 0M221.00 252.59a1.16 1.16 0 1 0 2.32 0a1.16 1.16 0 1 0 -2.32 0M223.30 252.59a1.16 1.16 0 1 0 2.32 0a1.16 1.16 0 1 0 -2.32 0M225.60 252.59a1.16 1.16 0 1 0 2.32 0a1.16 1.16 0 1 0 -2.32 0M227.90 252.59a1.16 1.16 0 1 0 2.32 0a1.16 1.16 0 1 0 -2.32 0M221.00 254.87a1.16 1.16 0 1 0 2.32 0a1.16 1.16 0 1 0 -2.32 0M223.30 254.87a1.16 1.16 0 1 0 2.32 0a1.16 1.16 0 1 0 -2.32 0M225.60 254.87a1.16 1.16 0 1 0 2.32 0a1.16 1.16 0 1 0 -2.32 0M221.00 257.16a1.16 1.16 0 1 0 2.32 0a1.16 1.16 0 1 0 -2.32 0M223.30 257.16a1.16 1.16 0 1 0 2.32 0a1.16 1.16 0 1 0 -2.32 0M225.60 257.16a1.16 1.16 0 1 0 2.32 0a1.16 1.16 0 1 0 -2.32 0M221.00 259.44a1.16 1.16 0 1 0 2.32 0a1.16 1.16 0 1 0 -2.32 0M223.30 264.00a1.16 1.16 0 1 0 2.32 0a1.16 1.16 0 1 0 -2.32 0M221.00 266.29a1.16 1.16 0 1 0 2.32 0a1.16 1.16 0 1 0 -2.32 0M223.30 266.29a1.16 1.16 0 1 0 2.32 0a1.16 1.16 0 1 0 -2.32 0M227.90 268.57a1.16 1.16 0 1 0 2.32 0a1.16 1.16 0 1 0 -2.32 0M221.00 270.85a1.16 1.16 0 1 0 2.32 0a1.16 1.16 0 1 0 -2.32 0M223.30 270.85a1.16 1.16 0 1 0 2.32 0a1.16 1.16 0 1 0 -2.32 0M225.60 270.85a1.16 1.16 0 1 0 2.32 0a1.16 1.16 0 1 0 -2.32 0M221.00 273.13a1.16 1.16 0 1 0 2.32 0a1.16 1.16 0 1 0 -2.32 0M223.30 273.13a1.16 1.16 0 1 0 2.32 0a1.16 1.16 0 1 0 -2.32 0M225.60 273.13a1.16 1.16 0 1 0 2.32 0a1.16 1.16 0 1 0 -2.32 0M227.90 273.13a1.16 1.16 0 1 0 2.32 0a1.16 1.16 0 1 0 -2.32 0M230.20 273.13a1.16 1.16 0 1 0 2.32 0a1.16 1.16 0 1 0 -2.32 0" fill="#8AA4EE"/>
<path d="M220.97 174.98a1.19 1.19 0 1 0 2.38 0a1.19 1.19 0 1 0 -2.38 0" fill="#FDB34A"/>
<path d="M220.97 54.00a1.19 1.19 0 1 0 2.38 0a1.19 1.19 0 1 0 -2.38 0M223.27 54.00a1.19 1.19 0 1 0 2.38 0a1.19 1.19 0 1 0 -2.38 0M225.57 54.00a1.19 1.19 0 1 0 2.38 0a1.19 1.19 0 1 0 -2.38 0M227.87 54.00a1.19 1.19 0 1 0 2.38 0a1.19 1.19 0 1 0 -2.38 0M220.97 56.28a1.19 1.19 0 1 0 2.38 0a1.19 1.19 0 1 0 -2.38 0M223.27 56.28a1.19 1.19 0 1 0 2.38 0a1.19 1.19 0 1 0 -2.38 0M225.57 56.28a1.19 1.19 0 1 0 2.38 0a1.19 1.19 0 1 0 -2.38 0M220.97 58.57a1.19 1.19 0 1 0 2.38 0a1.19 1.19 0 1 0 -2.38 0M223.27 58.57a1.19 1.19 0 1 0 2.38 0a1.19 1.19 0 1 0 -2.38 0M225.57 58.57a1.19 1.19 0 1 0 2.38 0a1.19 1.19 0 1 0 -2.38 0M220.97 60.85a1.19 1.19 0 1 0 2.38 0a1.19 1.19 0 1 0 -2.38 0M223.27 60.85a1.19 1.19 0 1 0 2.38 0a1.19 1.19 0 1 0 -2.38 0M225.57 60.85a1.19 1.19 0 1 0 2.38 0a1.19 1.19 0 1 0 -2.38 0M220.97 83.67a1.19 1.19 0 1 0 2.38 0a1.19 1.19 0 1 0 -2.38 0M223.27 83.67a1.19 1.19 0 1 0 2.38 0a1.19 1.19 0 1 0 -2.38 0M220.97 113.35a1.19 1.19 0 1 0 2.38 0a1.19 1.19 0 1 0 -2.38 0M220.97 115.63a1.19 1.19 0 1 0 2.38 0a1.19 1.19 0 1 0 -2.38 0M220.97 131.61a1.19 1.19 0 1 0 2.38 0a1.19 1.19 0 1 0 -2.38 0M223.27 131.61a1.19 1.19 0 1 0 2.38 0a1.19 1.19 0 1 0 -2.38 0M220.97 138.46a1.19 1.19 0 1 0 2.38 0a1.19 1.19 0 1 0 -2.38 0M220.97 172.70a1.19 1.19 0 1 0 2.38 0a1.19 1.19 0 1 0 -2.38 0M220.97 195.52a1.19 1.19 0 1 0 2.38 0a1.19 1.19 0 1 0 -2.38 0M220.97 202.37a1.19 1.19 0 1 0 2.38 0a1.19 1.19 0 1 0 -2.38 0M223.27 202.37a1.19 1.19 0 1 0 2.38 0a1.19 1.19 0 1 0 -2.38 0M225.57 202.37a1.19 1.19 0 1 0 2.38 0a1.19 1.19 0 1 0 -2.38 0M227.87 202.37a1.19 1.19 0 1 0 2.38 0a1.19 1.19 0 1 0 -2.38 0M230.17 202.37a1.19 1.19 0 1 0 2.38 0a1.19 1.19 0 1 0 -2.38 0M220.97 204.66a1.19 1.19 0 1 0 2.38 0a1.19 1.19 0 1 0 -2.38 0M220.97 238.89a1.19 1.19 0 1 0 2.38 0a1.19 1.19 0 1 0 -2.38 0M220.97 261.72a1.19 1.19 0 1 0 2.38 0a1.19 1.19 0 1 0 -2.38 0M220.97 264.00a1.19 1.19 0 1 0 2.38 0a1.19 1.19 0 1 0 -2.38 0M220.97 268.57a1.19 1.19 0 1 0 2.38 0a1.19 1.19 0 1 0 -2.38 0M223.27 268.57a1.19 1.19 0 1 0 2.38 0a1.19 1.19 0 1 0 -2.38 0M225.57 268.57a1.19 1.19 0 1 0 2.38 0a1.19 1.19 0 1 0 -2.38 0M220.97 275.42a1.19 1.19 0 1 0 2.38 0a1.19 1.19 0 1 0 -2.38 0M220.97 277.70a1.19 1.19 0 1 0 2.38 0a1.19 1.19 0 1 0 -2.38 0M223.27 277.70a1.19 1.19 0 1 0 2.38 0a1.19 1.19 0 1 0 -2.38 0M225.57 277.70a1.19 1.19 0 1 0 2.38 0a1.19 1.19 0 1 0 -2.38 0M227.87 277.70a1.19 1.19 0 1 0 2.38 0a1.19 1.19 0 1 0 -2.38 0M230.17 277.70a1.19 1.19 0 1 0 2.38 0a1.19 1.19 0 1 0 -2.38 0" fill="#E74251"/>
<text x="260.7" y="116.5" text-anchor="middle" font-size="10">8</text>
<path d="M271.50 80.47L281.20 38.80M271.50 83.63L281.20 41.09M271.50 83.81L281.20 43.38M271.50 87.68L281.20 45.68M271.50 88.13L281.20 47.97M271.50 88.99L281.20 50.26M271.50 90.92L281.20 52.55M271.50 91.18L281.20 54.85M271.50 91.45L281.20 57.14M271.50 93.01L281.20 59.43M271.50 93.03L281.20 61.72M271.50 96.49L281.20 64.02M271.50 96.69L281.20 66.31M271.50 98.34L281.20 68.60M271.50 101.27L281.20 70.89M271.50 101.89L281.20 73.18M271.50 102.66L281.20 75.48M271.50 106.16L281.20 77.77M271.50 106.23L281.20 80.06M271.50 106.43L281.20 82.35M271.50 106.48L281.20 84.65M271.50 110.39L281.20 86.94M271.50 110.90L281.20 89.23M271.50 113.02L281.20 91.52M271.50 113.14L281.20 93.82M271.50 114.14L281.20 96.11M271.50 114.53L281.20 98.40M271.50 114.69L281.20 100.69M271.50 115.90L281.20 102.98M271.50 116.30L281.20 105.28M271.50 118.75L281.20 107.57M271.50 119.45L281.20 109.86M271.50 121.18L281.20 112.15M271.50 125.25L281.20 114.45M271.50 127.18L281.20 116.74M271.50 128.10L281.20 119.03M271.50 128.60L281.20 121.32M271.50 130.00L281.20 123.62M271.50 130.13L281.20 125.91M271.50 130.94L281.20 128.20M271.50 131.08L281.20 130.49M271.50 133.07L281.20 135.08M271.50 133.20L281.20 137.37M271.50 134.77L281.20 139.66M271.50 135.18L281.20 141.95M271.50 137.57L281.20 144.25M271.50 138.99L281.20 146.54M271.50 140.14L281.20 148.83M271.50 141.15L281.20 151.12M271.50 142.45L281.20 153.42M271.50 143.42L281.20 155.71M271.50 143.55L281.20 158.00" stroke="#000" stroke-width="0.5" fill="none"/>
<rect x="268.0" y="78.6" width="2.90" height="66.90" rx="1.45" fill="#dadada"/>
<path d="M268.00 81.80h2.90v1.10h-2.90zM268.00 90.80h2.90v1.10h-2.90zM268.00 94.45h2.90v0.90h-2.90zM268.00 133.50h2.90v1.80h-2.90z" fill="#5e5e5e"/>
<path d="M268.00 83.90h2.90v0.50h-2.90zM268.00 87.30h2.90v0.70h-2.90zM268.00 92.20h2.90v1.80h-2.90zM268.00 97.45h2.90v0.50h-2.90zM268.00 98.75h2.90v0.50h-2.90zM268.00 101.35h2.90v0.50h-2.90zM268.00 110.65h2.90v1.80h-2.90zM268.00 117.75h2.90v0.50h-2.90zM268.00 120.20h2.90v0.70h-2.90zM268.00 126.50h2.90v0.50h-2.90z" fill="#111"/>
<path d="M268.00 85.20h2.90v1.10h-2.90zM268.00 96.35h2.90v0.50h-2.90zM268.00 100.05h2.90v0.50h-2.90zM268.00 102.15h2.90v1.40h-2.90zM268.00 140.55h2.90v1.40h-2.90z" fill="#2a2a2a"/>
<path d="M268.00 88.60h2.90v1.40h-2.90zM268.00 104.35h2.90v1.40h-2.90zM268.00 106.55h2.90v1.80h-2.90zM268.00 108.95h2.90v0.90h-2.90zM268.00 118.70h2.90v0.50h-2.90zM268.00 124.30h2.90v1.40h-2.90zM268.00 129.40h2.90v0.50h-2.90zM268.00 139.00h2.90v1.10h-2.90z" fill="#7a7a7a"/>
<path d="M268.00 113.45h2.90v1.80h-2.90zM268.00 122.80h2.90v0.50h-2.90zM268.00 127.30h2.90v1.10h-2.90zM268.00 130.70h2.90v0.70h-2.90zM268.00 137.15h2.90v1.40h-2.90z" fill="#000"/>
<path d="M268.00 115.85h2.90v1.10h-2.90zM268.00 121.50h2.90v0.50h-2.90zM268.00 132.00h2.90v0.50h-2.90zM268.00 135.75h2.90v1.10h-2.90z" fill="#444"/>
<ellipse cx="269.45" cy="80.10" rx="1.45" ry="1.5" fill="#000"/>
<ellipse cx="269.45" cy="144.00" rx="1.45" ry="1.5" fill="#000"/>
<path d="M286.30 47.97a1.16 1.16 0 1 0 2.32 0a1.16 1.16 0 1 0 -2.32 0M288.60 47.97a1.16 1.16 0 1 0 2.32 0a1.16 1.16 0 1 0 -2.32 0M290.90 47.97a1.16 1.16 0 1 0 2.32 0a1.16 1.16 0 1 0 -2.32 0M293.20 47.97a1.16 1.16 0 1 0 2.32 0a1.16 1.16 0 1 0 -2.32 0M295.50 47.97a1.16 1.16 0 1 0 2.32 0a1.16 1.16 0 1 0 -2.32 0M297.80 47.97a1.16 1.16 0 1 0 2.32 0a1.16 1.16 0 1 0 -2.32 0M288.60 50.26a1.16 1.16 0 1 0 2.32 0a1.16 1.16 0 1 0 -2.32 0M284.00 52.55a1.16 1.16 0 1 0 2.32 0a1.16 1.16 0 1 0 -2.32 0M286.30 52.55a1.16 1.16 0 1 0 2.32 0a1.16 1.16 0 1 0 -2.32 0M288.60 54.85a1.16 1.16 0 1 0 2.32 0a1.16 1.16 0 1 0 -2.32 0M284.00 57.14a1.16 1.16 0 1 0 2.32 0a1.16 1.16 0 1 0 -2.32 0M286.30 57.14a1.16 1.16 0 1 0 2.32 0a1.16 1.16 0 1 0 -2.32 0M284.00 59.43a1.16 1.16 0 1 0 2.32 0a1.16 1.16 0 1 0 -2.32 0M286.30 59.43a1.16 1.16 0 1 0 2.32 0a1.16 1.16 0 1 0 -2.32 0M288.60 59.43a1.16 1.16 0 1 0 2.32 0a1.16 1.16 0 1 0 -2.32 0M290.90 59.43a1.16 1.16 0 1 0 2.32 0a1.16 1.16 0 1 0 -2.32 0M284.00 61.72a1.16 1.16 0 1 0 2.32 0a1.16 1.16 0 1 0 -2.32 0M286.30 61.72a1.16 1.16 0 1 0 2.32 0a1.16 1.16 0 1 0 -2.32 0M288.60 61.72a1.16 1.16 0 1 0 2.32 0a1.16 1.16 0 1 0 -2.32 0M286.30 64.02a1.16 1.16 0 1 0 2.32 0a1.16 1.16 0 1 0 -2.32 0M284.00 66.31a1.16 1.16 0 1 0 2.32 0a1.16 1.16 0 1 0 -2.32 0M286.30 66.31a1.16 1.16 0 1 0 2.32 0a1.16 1.16 0 1 0 -2.32 0M288.60 66.31a1.16 1.16 0 1 0 2.32 0a1.16 1.16 0 1 0 -2.32 0M290.90 66.31a1.16 1.16 0 1 0 2.32 0a1.16 1.16 0 1 0 -2.32 0M293.20 66.31a1.16 1.16 0 1 0 2.32 0a1.16 1.16 0 1 0 -2.32 0M295.50 66.31a1.16 1.16 0 1 0 2.32 0a1.16 1.16 0 1 0 -2.32 0M284.00 68.60a1.16 1.16 0 1 0 2.32 0a1.16 1.16 0 1 0 -2.32 0M286.30 68.60a1.16 1.16 0 1 0 2.32 0a1.16 1.16 0 1 0 -2.32 0M288.60 68.60a1.16 1.16 0 1 0 2.32 0a1.16 1.16 0 1 0 -2.32 0M290.90 68.60a1.16 1.16 0 1 0 2.32 0a1.16 1.16 0 1 0 -2.32 0M293.20 68.60a1.16 1.16 0 1 0 2.32 0a1.16 1.16 0 1 0 -2.32 0M295.50 68.60a1.16 1.16 0 1 0 2.32 0a1.16 1.16 0 1 0 -2.32 0M297.80 68.60a1.16 1.16 0 1 0 2.32 0a1.16 1.16 0 1 0 -2.32 0M300.10 68.60a1.16 1.16 0 1 0 2.32 0a1.16 1.16 0 1 0 -2.32 0M284.00 70.89a1.16 1.16 0 1 0 2.32 0a1.16 1.16 0 1 0 -2.32 0M284.00 73.18a1.16 1.16 0 1 0 2.32 0a1.16 1.16 0 1 0 -2.32 0M286.30 73.18a1.16 1.16 0 1 0 2.32 0a1.16 1.16 0 1 0 -2.32 0M286.30 75.48a1.16 1.16 0 1 0 2.32 0a1.16 1.16 0 1 0 -2.32 0M288.60 75.48a1.16 1.16 0 1 0 2.32 0a1.16 1.16 0 1 0 -2.32 0M290.90 75.48a1.16 1.16 0 1 0 2.32 0a1.16 1.16 0 1 0 -2.32 0M293.20 75.48a1.16 1.16 0 1 0 2.32 0a1.16 1.16 0 1 0 -2.32 0M284.00 77.77a1.16 1.16 0 1 0 2.32 0a1.16 1.16 0 1 0 -2.32 0M286.30 77.77a1.16 1.16 0 1 0 2.32 0a1.16 1.16 0 1 0 -2.32 0M288.60 77.77a1.16 1.16 0 1 0 2.32 0a1.16 1.16 0 1 0 -2.32 0M290.90 77.77a1.16 1.16 0 1 0 2.32 0a1.16 1.16 0 1 0 -2.32 0M284.00 80.06a1.16 1.16 0 1 0 2.32 0a1.16 1.16 0 1 0 -2.32 0M286.30 82.35a1.16 1.16 0 1 0 2.32 0a1.16 1.16 0 1 0 -2.32 0M288.60 82.35a1.16 1.16 0 1 0 2.32 0a1.16 1.16 0 1 0 -2.32 0M284.00 84.65a1.16 1.16 0 1 0 2.32 0a1.16 1.16 0 1 0 -2.32 0M284.00 86.94a1.16 1.16 0 1 0 2.32 0a1.16 1.16 0 1 0 -2.32 0M286.30 86.94a1.16 1.16 0 1 0 2.32 0a1.16 1.16 0 1 0 -2.32 0M288.60 86.94a1.16 1.16 0 1 0 2.32 0a1.16 1.16 0 1 0 -2.32 0M290.90 86.94a1.16 1.16 0 1 0 2.32 0a1.16 1.16 0 1 0 -2.32 0M293.20 86.94a1.16 1.16 0 1 0 2.32 0a1.16 1.16 0 1 0 -2.32 0M284.00 89.23a1.16 1.16 0 1 0 2.32 0a1.16 1.16 0 1 0 -2.32 0M286.30 89.23a1.16 1.16 0 1 0 2.32 0a1.16 1.16 0 1 0 -2.32 0M288.60 89.23a1.16 1.16 0 1 0 2.32 0a1.16 1.16 0 1 0 -2.32 0M290.90 89.23a1.16 1.16 0 1 0 2.32 0a1.16 1.16 0 1 0 -2.32 0M293.20 89.23a1.16 1.16 0 1 0 2.32 0a1.16 1.16 0 1 0 -2.32 0M295.50 89.23a1.16 1.16 0 1 0 2.32 0a1.16 1.16 0 1 0 -2.32 0M284.00 91.52a1.16 1.16 0 1 0 2.32 0a1.16 1.16 0 1 0 -2.32 0M286.30 91.52a1.16 1.16 0 1 0 2.32 0a1.16 1.16 0 1 0 -2.32 0M288.60 91.52a1.16 1.16 0 1 0 2.32 0a1.16 1.16 0 1 0 -2.32 0M290.90 91.52a1.16 1.16 0 1 0 2.32 0a1.16 1.16 0 1 0 -2.32 0M293.20 91.52a1.16 1.16 0 1 0 2.32 0a1.16 1.16 0 1 0 -2.32 0M286.30 93.82a1.16 1.16 0 1 0 2.32 0a1.16 1.16 0 1 0 -2.32 0M288.60 93.82a1.16 1.16 0 1 0 2.32 0a1.16 1.16 0 1 0 -2.32 0M290.90 93.82a1.16 1.16 0 1 0 2.32 0a1.16 1.16 0 1 0 -2.32 0M284.00 96.11a1.16 1.16 0 1 0 2.32 0a1.16 1.16 0 1 0 -2.32 0M286.30 96.11a1.16 1.16 0 1 0 2.32 0a1.16 1.16 0 1 0 -2.32 0M288.60 96.11a1.16 1.16 0 1 0 2.32 0a1.16 1.16 0 1 0 -2.32 0M290.90 96.11a1.16 1.16 0 1 0 2.32 0a1.16 1.16 0 1 0 -2.32 0M293.20 96.11a1.16 1.16 0 1 0 2.32 0a1.16 1.16 0 1 0 -2.32 0M295.50 96.11a1.16 1.16 0 1 0 2.32 0a1.16 1.16 0 1 0 -2.32 0M284.00 98.40a1.16 1.16 0 1 0 2.32 0a1.16 1.16 0 1 0 -2.32 0M284.00 100.69a1.16 1.16 0 1 0 2.32 0a1.16 1.16 0 1 0 -2.32 0M286.30 100.69a1.16 1.16 0 1 0 2.32 0a1.16 1.16 0 1 0 -2.32 0M284.00 102.98a1.16 1.16 0 1 0 2.32 0a1.16 1.16 0 1 0 -2.32 0M286.30 102.98a1.16 1.16 0 1 0 2.32 0a1.16 1.16 0 1 0 -2.32 0M288.60 102.98a1.16 1.16 0 1 0 2.32 0a1.16 1.16 0 1 0 -2.32 0M290.90 102.98a1.16 1.16 0 1 0 2.32 0a1.16 1.16 0 1 0 -2.32 0M284.00 105.28a1.16 1.16 0 1 0 2.32 0a1.16 1.16 0 1 0 -2.32 0M286.30 105.28a1.16 1.16 0 1 0 2.32 0a1.16 1.16 0 1 0 -2.32 0M284.00 107.57a1.16 1.16 0 1 0 2.32 0a1.16 1.16 0 1 0 -2.32 0M284.00 109.86a1.16 1.16 0 1 0 2.32 0a1.16 1.16 0 1 0 -2.32 0M286.30 109.86a1.16 1.16 0 1 0 2.32 0a1.16 1.16 0 1 0 -2.32 0M288.60 109.86a1.16 1.16 0 1 0 2.32 0a1.16 1.16 0 1 0 -2.32 0M290.90 109.86a1.16 1.16 0 1 0 2.32 0a1.16 1.16 0 1 0 -2.32 0M293.20 109.86a1.16 1.16 0 1 0 2.32 0a1.16 1.16 0 1 0 -2.32 0M295.50 109.86a1.16 1.16 0 1 0 2.32 0a1.16 1.16 0 1 0 -2.32 0M297.80 109.86a1.16 1.16 0 1 0 2.32 0a1.16 1.16 0 1 0 -2.32 0M286.30 114.45a1.16 1.16 0 1 0 2.32 0a1.16 1.16 0 1 0 -2.32 0M288.60 114.45a1.16 1.16 0 1 0 2.32 0a1.16 1.16 0 1 0 -2.32 0M290.90 114.45a1.16 1.16 0 1 0 2.32 0a1.16 1.16 0 1 0 -2.32 0M293.20 116.74a1.16 1.16 0 1 0 2.32 0a1.16 1.16 0 1 0 -2.32 0M295.50 116.74a1.16 1.16 0 1 0 2.32 0a1.16 1.16 0 1 0 -2.32 0M297.80 116.74a1.16 1.16 0 1 0 2.32 0a1.16 1.16 0 1 0 -2.32 0M284.00 119.03a1.16 1.16 0 1 0 2.32 0a1.16 1.16 0 1 0 -2.32 0M286.30 119.03a1.16 1.16 0 1 0 2.32 0a1.16 1.16 0 1 0 -2.32 0M288.60 119.03a1.16 1.16 0 1 0 2.32 0a1.16 1.16 0 1 0 -2.32 0M290.90 119.03a1.16 1.16 0 1 0 2.32 0a1.16 1.16 0 1 0 -2.32 0M293.20 119.03a1.16 1.16 0 1 0 2.32 0a1.16 1.16 0 1 0 -2.32 0M286.30 121.32a1.16 1.16 0 1 0 2.32 0a1.16 1.16 0 1 0 -2.32 0M284.00 123.62a1.16 1.16 0 1 0 2.32 0a1.16 1.16 0 1 0 -2.32 0M286.30 123.62a1.16 1.16 0 1 0 2.32 0a1.16 1.16 0 1 0 -2.32 0M288.60 123.62a1.16 1.16 0 1 0 2.32 0a1.16 1.16 0 1 0 -2.32 0M290.90 123.62a1.16 1.16 0 1 0 2.32 0a1.16 1.16 0 1 0 -2.32 0M284.00 128.20a1.16 1.16 0 1 0 2.32 0a1.16 1.16 0 1 0 -2.32 0M286.30 128.20a1.16 1.16 0 1 0 2.32 0a1.16 1.16 0 1 0 -2.32 0M284.00 130.49a1.16 1.16 0 1 0 2.32 0a1.16 1.16 0 1 0 -2.32 0M286.30 135.08a1.16 1.16 0 1 0 2.32 0a1.16 1.16 0 1 0 -2.32 0M286.30 141.95a1.16 1.16 0 1 0 2.32 0a1.16 1.16 0 1 0 -2.32 0M288.60 141.95a1.16 1.16 0 1 0 2.32 0a1.16 1.16 0 1 0 -2.32 0M284.00 144.25a1.16 1.16 0 1 0 2.32 0a1.16 1.16 0 1 0 -2.32 0M286.30 144.25a1.16 1.16 0 1 0 2.32 0a1.16 1.16 0 1 0 -2.32 0M288.60 144.25a1.16 1.16 0 1 0 2.32 0a1.16 1.16 0 1 0 -2.32 0M290.90 144.25a1.16 1.16 0 1 0 2.32 0a1.16 1.16 0 1 0 -2.32 0M293.20 144.25a1.16 1.16 0 1 0 2.32 0a1.16 1.16 0 1 0 -2.32 0M295.50 144.25a1.16 1.16 0 1 0 2.32 0a1.16 1.16 0 1 0 -2.32 0M297.80 144.25a1.16 1.16 0 1 0 2.32 0a1.16 1.16 0 1 0 -2.32 0M284.00 146.54a1.16 1.16 0 1 0 2.32 0a1.16 1.16 0 1 0 -2.32 0M286.30 146.54a1.16 1.16 0 1 0 2.32 0a1.16 1.16 0 1 0 -2.32 0M288.60 146.54a1.16 1.16 0 1 0 2.32 0a1.16 1.16 0 1 0 -2.32 0M290.90 146.54a1.16 1.16 0 1 0 2.32 0a1.16 1.16 0 1 0 -2.32 0M293.20 146.54a1.16 1.16 0 1 0 2.32 0a1.16 1.16 0 1 0 -2.32 0M284.00 148.83a1.16 1.16 0 1 0 2.32 0a1.16 1.16 0 1 0 -2.32 0M286.30 148.83a1.16 1.16 0 1 0 2.32 0a1.16 1.16 0 1 0 -2.32 0M288.60 148.83a1.16 1.16 0 1 0 2.32 0a1.16 1.16 0 1 0 -2.32 0M284.00 151.12a1.16 1.16 0 1 0 2.32 0a1.16 1.16 0 1 0 -2.32 0M286.30 151.12a1.16 1.16 0 1 0 2.32 0a1.16 1.16 0 1 0 -2.32 0M288.60 151.12a1.16 1.16 0 1 0 2.32 0a1.16 1.16 0 1 0 -2.32 0M290.90 151.12a1.16 1.16 0 1 0 2.32 0a1.16 1.16 0 1 0 -2.32 0M293.20 151.12a1.16 1.16 0 1 0 2.32 0a1.16 1.16 0 1 0 -2.32 0M295.50 151.12a1.16 1.16 0 1 0 2.32 0a1.16 1.16 0 1 0 -2.32 0M297.80 151.12a1.16 1.16 0 1 0 2.32 0a1.16 1.16 0 1 0 -2.32 0M300.10 151.12a1.16 1.16 0 1 0 2.32 0a1.16 1.16 0 1 0 -2.32 0M302.40 151.12a1.16 1.16 0 1 0 2.32 0a1.16 1.16 0 1 0 -2.32 0M288.60 153.42a1.16 1.16 0 1 0 2.32 0a1.16 1.16 0 1 0 -2.32 0M290.90 155.71a1.16 1.16 0 1 0 2.32 0a1.16 1.16 0 1 0 -2.32 0M293.20 155.71a1.16 1.16 0 1 0 2.32 0a1.16 1.16 0 1 0 -2.32 0M295.50 155.71a1.16 1.16 0 1 0 2.32 0a1.16 1.16 0 1 0 -2.32 0M297.80 155.71a1.16 1.16 0 1 0 2.32 0a1.16 1.16 0 1 0 -2.32 0M300.10 155.71a1.16 1.16 0 1 0 2.32 0a1.16 1.16 0 1 0 -2.32 0M302.40 155.71a1.16 1.16 0 1 0 2.32 0a1.16 1.16 0 1 0 -2.32 0M304.70 155.71a1.16 1.16 0 1 0 2.32 0a1.16 1.16 0 1 0 -2.32 0M307.00 155.71a1.16 1.16 0 1 0 2.32 0a1.16 1.16 0 1 0 -2.32 0" fill="#8AA4EE"/>
<path d="M286.27 45.68a1.19 1.19 0 1 0 2.38 0a1.19 1.19 0 1 0 -2.38 0" fill="#FDB34A"/>
<path d="M283.97 38.80a1.19 1.19 0 1 0 2.38 0a1.19 1.19 0 1 0 -2.38 0M286.27 38.80a1.19 1.19 0 1 0 2.38 0a1.19 1.19 0 1 0 -2.38 0M283.97 41.09a1.19 1.19 0 1 0 2.38 0a1.19 1.19 0 1 0 -2.38 0M283.97 43.38a1.19 1.19 0 1 0 2.38 0a1.19 1.19 0 1 0 -2.38 0M283.97 45.68a1.19 1.19 0 1 0 2.38 0a1.19 1.19 0 1 0 -2.38 0M283.97 47.97a1.19 1.19 0 1 0 2.38 0a1.19 1.19 0 1 0 -2.38 0M283.97 50.26a1.19 1.19 0 1 0 2.38 0a1.19 1.19 0 1 0 -2.38 0M286.27 50.26a1.19 1.19 0 1 0 2.38 0a1.19 1.19 0 1 0 -2.38 0M283.97 54.85a1.19 1.19 0 1 0 2.38 0a1.19 1.19 0 1 0 -2.38 0M286.27 54.85a1.19 1.19 0 1 0 2.38 0a1.19 1.19 0 1 0 -2.38 0M283.97 64.02a1.19 1.19 0 1 0 2.38 0a1.19 1.19 0 1 0 -2.38 0M283.97 75.48a1.19 1.19 0 1 0 2.38 0a1.19 1.19 0 1 0 -2.38 0M283.97 82.35a1.19 1.19 0 1 0 2.38 0a1.19 1.19 0 1 0 -2.38 0M283.97 93.82a1.19 1.19 0 1 0 2.38 0a1.19 1.19 0 1 0 -2.38 0M283.97 112.15a1.19 1.19 0 1 0 2.38 0a1.19 1.19 0 1 0 -2.38 0M286.27 112.15a1.19 1.19 0 1 0 2.38 0a1.19 1.19 0 1 0 -2.38 0M288.57 112.15a1.19 1.19 0 1 0 2.38 0a1.19 1.19 0 1 0 -2.38 0M290.87 112.15a1.19 1.19 0 1 0 2.38 0a1.19 1.19 0 1 0 -2.38 0M293.17 112.15a1.19 1.19 0 1 0 2.38 0a1.19 1.19 0 1 0 -2.38 0M295.47 112.15a1.19 1.19 0 1 0 2.38 0a1.19 1.19 0 1 0 -2.38 0M297.77 112.15a1.19 1.19 0 1 0 2.38 0a1.19 1.19 0 1 0 -2.38 0M300.07 112.15a1.19 1.19 0 1 0 2.38 0a1.19 1.19 0 1 0 -2.38 0M302.37 112.15a1.19 1.19 0 1 0 2.38 0a1.19 1.19 0 1 0 -2.38 0M304.67 112.15a1.19 1.19 0 1 0 2.38 0a1.19 1.19 0 1 0 -2.38 0M306.97 112.15a1.19 1.19 0 1 0 2.38 0a1.19 1.19 0 1 0 -2.38 0M283.97 114.45a1.19 1.19 0 1 0 2.38 0a1.19 1.19 0 1 0 -2.38 0M283.97 116.74a1.19 1.19 0 1 0 2.38 0a1.19 1.19 0 1 0 -2.38 0M286.27 116.74a1.19 1.19 0 1 0 2.38 0a1.19 1.19 0 1 0 -2.38 0M288.57 116.74a1.19 1.19 0 1 0 2.38 0a1.19 1.19 0 1 0 -2.38 0M290.87 116.74a1.19 1.19 0 1 0 2.38 0a1.19 1.19 0 1 0 -2.38 0M283.97 121.32a1.19 1.19 0 1 0 2.38 0a1.19 1.19 0 1 0 -2.38 0M283.97 125.91a1.19 1.19 0 1 0 2.38 0a1.19 1.19 0 1 0 -2.38 0M286.27 125.91a1.19 1.19 0 1 0 2.38 0a1.19 1.19 0 1 0 -2.38 0M283.97 135.08a1.19 1.19 0 1 0 2.38 0a1.19 1.19 0 1 0 -2.38 0M283.97 137.37a1.19 1.19 0 1 0 2.38 0a1.19 1.19 0 1 0 -2.38 0M283.97 139.66a1.19 1.19 0 1 0 2.38 0a1.19 1.19 0 1 0 -2.38 0M283.97 141.95a1.19 1.19 0 1 0 2.38 0a1.19 1.19 0 1 0 -2.38 0M283.97 153.42a1.19 1.19 0 1 0 2.38 0a1.19 1.19 0 1 0 -2.38 0M286.27 153.42a1.19 1.19 0 1 0 2.38 0a1.19 1.19 0 1 0 -2.38 0M283.97 155.71a1.19 1.19 0 1 0 2.38 0a1.19 1.19 0 1 0 -2.38 0M286.27 155.71a1.19 1.19 0 1 0 2.38 0a1.19 1.19 0 1 0 -2.38 0M288.57 155.71a1.19 1.19 0 1 0 2.38 0a1.19 1.19 0 1 0 -2.38 0M283.97 158.00a1.19 1.19 0 1 0 2.38 0a1.19 1.19 0 1 0 -2.38 0M286.27 158.00a1.19 1.19 0 1 0 2.38 0a1.19 1.19 0 1 0 -2.38 0M288.57 158.00a1.19 1.19 0 1 0 2.38 0a1.19 1.19 0 1 0 -2.38 0M290.87 158.00a1.19 1.19 0 1 0 2.38 0a1.19 1.19 0 1 0 -2.38 0M293.17 158.00a1.19 1.19 0 1 0 2.38 0a1.19 1.19 0 1 0 -2.38 0M295.47 158.00a1.19 1.19 0 1 0 2.38 0a1.19 1.19 0 1 0 -2.38 0" fill="#E74251"/>
<text x="260.4" y="235.0" text-anchor="middle" font-size="10">9</text>
<path d="M271.60 209.19L281.00 193.50M271.60 211.79L281.00 195.81M271.60 214.55L281.00 198.13M271.60 214.95L281.00 200.44M271.60 215.65L281.00 202.76M271.60 217.49L281.00 205.07M271.60 219.09L281.00 207.38M271.60 221.29L281.00 209.70M271.60 222.37L281.00 212.01M271.60 222.81L281.00 216.64M271.60 224.02L281.00 218.95M271.60 224.89L281.00 221.27M271.60 226.74L281.00 223.58M271.60 227.91L281.00 225.90M271.60 228.74L281.00 228.21M271.60 229.39L281.00 230.52M271.60 231.67L281.00 232.84M271.60 231.79L281.00 235.15M271.60 232.16L281.00 237.47M271.60 232.63L281.00 239.78M271.60 233.15L281.00 242.09M271.60 233.40L281.00 244.41M271.60 235.28L281.00 246.72M271.60 236.15L281.00 249.03M271.60 236.75L281.00 251.35M271.60 238.51L281.00 253.66M271.60 239.11L281.00 255.98M271.60 239.50L281.00 258.29M271.60 241.37L281.00 260.60M271.60 241.96L281.00 262.92M271.60 242.02L281.00 265.23M271.60 242.15L281.00 267.55M271.60 243.80L281.00 269.86M271.60 245.14L281.00 272.17M271.60 247.92L281.00 274.49M271.60 251.51L281.00 276.80M271.60 253.09L281.00 279.12M271.60 253.37L281.00 281.43M271.60 253.45L281.00 283.74M271.60 254.15L281.00 286.06M271.60 254.45L281.00 288.37M271.60 254.71L281.00 290.69M271.60 255.18L281.00 293.00" stroke="#000" stroke-width="0.5" fill="none"/>
<rect x="268.0" y="204" width="3.00" height="52.50" rx="1.50" fill="#dadada"/>
<path d="M268.00 207.20h3.00v1.40h-3.00zM268.00 214.80h3.00v1.40h-3.00zM268.00 240.35h3.00v1.40h-3.00zM268.00 243.70h3.00v1.10h-3.00z" fill="#111"/>
<path d="M268.00 208.90h3.00v0.90h-3.00zM268.00 237.15h3.00v1.40h-3.00z" fill="#444"/>
<path d="M268.00 210.60h3.00v1.80h-3.00zM268.00 218.20h3.00v0.50h-3.00zM268.00 221.55h3.00v1.10h-3.00zM268.00 245.60h3.00v1.40h-3.00z" fill="#000"/>
<path d="M268.00 212.70h3.00v1.10h-3.00zM268.00 216.50h3.00v0.70h-3.00zM268.00 219.15h3.00v1.40h-3.00zM268.00 223.10h3.00v1.40h-3.00zM268.00 224.80h3.00v0.70h-3.00zM268.00 242.75h3.00v0.50h-3.00zM268.00 250.75h3.00v1.80h-3.00z" fill="#7a7a7a"/>
<path d="M268.00 226.50h3.00v1.40h-3.00zM268.00 228.35h3.00v1.80h-3.00zM268.00 232.95h3.00v1.80h-3.00zM268.00 247.60h3.00v1.40h-3.00z" fill="#2a2a2a"/>
<path d="M268.00 230.95h3.00v1.40h-3.00zM268.00 235.75h3.00v1.10h-3.00zM268.00 238.85h3.00v0.50h-3.00zM268.00 249.45h3.00v0.70h-3.00z" fill="#5e5e5e"/>
<ellipse cx="269.50" cy="205.50" rx="1.50" ry="1.5" fill="#000"/>
<ellipse cx="269.50" cy="255.00" rx="1.50" ry="1.5" fill="#000"/>
<path d="M288.60 195.81a1.16 1.16 0 1 0 2.32 0a1.16 1.16 0 1 0 -2.32 0M290.90 195.81a1.16 1.16 0 1 0 2.32 0a1.16 1.16 0 1 0 -2.32 0M293.20 195.81a1.16 1.16 0 1 0 2.32 0a1.16 1.16 0 1 0 -2.32 0M295.50 195.81a1.16 1.16 0 1 0 2.32 0a1.16 1.16 0 1 0 -2.32 0M297.80 195.81a1.16 1.16 0 1 0 2.32 0a1.16 1.16 0 1 0 -2.32 0M288.60 198.13a1.16 1.16 0 1 0 2.32 0a1.16 1.16 0 1 0 -2.32 0M290.90 198.13a1.16 1.16 0 1 0 2.32 0a1.16 1.16 0 1 0 -2.32 0M286.30 200.44a1.16 1.16 0 1 0 2.32 0a1.16 1.16 0 1 0 -2.32 0M288.60 200.44a1.16 1.16 0 1 0 2.32 0a1.16 1.16 0 1 0 -2.32 0M290.90 200.44a1.16 1.16 0 1 0 2.32 0a1.16 1.16 0 1 0 -2.32 0M293.20 200.44a1.16 1.16 0 1 0 2.32 0a1.16 1.16 0 1 0 -2.32 0M297.80 202.76a1.16 1.16 0 1 0 2.32 0a1.16 1.16 0 1 0 -2.32 0M300.10 202.76a1.16 1.16 0 1 0 2.32 0a1.16 1.16 0 1 0 -2.32 0M288.60 205.07a1.16 1.16 0 1 0 2.32 0a1.16 1.16 0 1 0 -2.32 0M286.30 207.38a1.16 1.16 0 1 0 2.32 0a1.16 1.16 0 1 0 -2.32 0M286.30 209.70a1.16 1.16 0 1 0 2.32 0a1.16 1.16 0 1 0 -2.32 0M284.00 212.01a1.16 1.16 0 1 0 2.32 0a1.16 1.16 0 1 0 -2.32 0M286.30 212.01a1.16 1.16 0 1 0 2.32 0a1.16 1.16 0 1 0 -2.32 0M286.30 218.95a1.16 1.16 0 1 0 2.32 0a1.16 1.16 0 1 0 -2.32 0M288.60 218.95a1.16 1.16 0 1 0 2.32 0a1.16 1.16 0 1 0 -2.32 0M286.30 221.27a1.16 1.16 0 1 0 2.32 0a1.16 1.16 0 1 0 -2.32 0M288.60 221.27a1.16 1.16 0 1 0 2.32 0a1.16 1.16 0 1 0 -2.32 0M290.90 221.27a1.16 1.16 0 1 0 2.32 0a1.16 1.16 0 1 0 -2.32 0M293.20 221.27a1.16 1.16 0 1 0 2.32 0a1.16 1.16 0 1 0 -2.32 0M288.60 223.58a1.16 1.16 0 1 0 2.32 0a1.16 1.16 0 1 0 -2.32 0M290.90 223.58a1.16 1.16 0 1 0 2.32 0a1.16 1.16 0 1 0 -2.32 0M284.00 225.90a1.16 1.16 0 1 0 2.32 0a1.16 1.16 0 1 0 -2.32 0M288.60 228.21a1.16 1.16 0 1 0 2.32 0a1.16 1.16 0 1 0 -2.32 0M290.90 228.21a1.16 1.16 0 1 0 2.32 0a1.16 1.16 0 1 0 -2.32 0M284.00 230.52a1.16 1.16 0 1 0 2.32 0a1.16 1.16 0 1 0 -2.32 0M286.30 230.52a1.16 1.16 0 1 0 2.32 0a1.16 1.16 0 1 0 -2.32 0M286.30 232.84a1.16 1.16 0 1 0 2.32 0a1.16 1.16 0 1 0 -2.32 0M288.60 232.84a1.16 1.16 0 1 0 2.32 0a1.16 1.16 0 1 0 -2.32 0M290.90 232.84a1.16 1.16 0 1 0 2.32 0a1.16 1.16 0 1 0 -2.32 0M293.20 232.84a1.16 1.16 0 1 0 2.32 0a1.16 1.16 0 1 0 -2.32 0M295.50 232.84a1.16 1.16 0 1 0 2.32 0a1.16 1.16 0 1 0 -2.32 0M297.80 232.84a1.16 1.16 0 1 0 2.32 0a1.16 1.16 0 1 0 -2.32 0M300.10 232.84a1.16 1.16 0 1 0 2.32 0a1.16 1.16 0 1 0 -2.32 0M284.00 235.15a1.16 1.16 0 1 0 2.32 0a1.16 1.16 0 1 0 -2.32 0M286.30 235.15a1.16 1.16 0 1 0 2.32 0a1.16 1.16 0 1 0 -2.32 0M288.60 235.15a1.16 1.16 0 1 0 2.32 0a1.16 1.16 0 1 0 -2.32 0M290.90 235.15a1.16 1.16 0 1 0 2.32 0a1.16 1.16 0 1 0 -2.32 0M284.00 237.47a1.16 1.16 0 1 0 2.32 0a1.16 1.16 0 1 0 -2.32 0M286.30 237.47a1.16 1.16 0 1 0 2.32 0a1.16 1.16 0 1 0 -2.32 0M288.60 237.47a1.16 1.16 0 1 0 2.32 0a1.16 1.16 0 1 0 -2.32 0M284.00 239.78a1.16 1.16 0 1 0 2.32 0a1.16 1.16 0 1 0 -2.32 0M286.30 239.78a1.16 1.16 0 1 0 2.32 0a1.16 1.16 0 1 0 -2.32 0M288.60 239.78a1.16 1.16 0 1 0 2.32 0a1.16 1.16 0 1 0 -2.32 0M290.90 242.09a1.16 1.16 0 1 0 2.32 0a1.16 1.16 0 1 0 -2.32 0M293.20 242.09a1.16 1.16 0 1 0 2.32 0a1.16 1.16 0 1 0 -2.32 0M284.00 244.41a1.16 1.16 0 1 0 2.32 0a1.16 1.16 0 1 0 -2.32 0M286.30 244.41a1.16 1.16 0 1 0 2.32 0a1.16 1.16 0 1 0 -2.32 0M288.60 244.41a1.16 1.16 0 1 0 2.32 0a1.16 1.16 0 1 0 -2.32 0M290.90 244.41a1.16 1.16 0 1 0 2.32 0a1.16 1.16 0 1 0 -2.32 0M284.00 246.72a1.16 1.16 0 1 0 2.32 0a1.16 1.16 0 1 0 -2.32 0M286.30 246.72a1.16 1.16 0 1 0 2.32 0a1.16 1.16 0 1 0 -2.32 0M284.00 249.03a1.16 1.16 0 1 0 2.32 0a1.16 1.16 0 1 0 -2.32 0M286.30 249.03a1.16 1.16 0 1 0 2.32 0a1.16 1.16 0 1 0 -2.32 0M288.60 249.03a1.16 1.16 0 1 0 2.32 0a1.16 1.16 0 1 0 -2.32 0M290.90 249.03a1.16 1.16 0 1 0 2.32 0a1.16 1.16 0 1 0 -2.32 0M293.20 249.03a1.16 1.16 0 1 0 2.32 0a1.16 1.16 0 1 0 -2.32 0M284.00 251.35a1.16 1.16 0 1 0 2.32 0a1.16 1.16 0 1 0 -2.32 0M286.30 251.35a1.16 1.16 0 1 0 2.32 0a1.16 1.16 0 1 0 -2.32 0M288.60 251.35a1.16 1.16 0 1 0 2.32 0a1.16 1.16 0 1 0 -2.32 0M290.90 251.35a1.16 1.16 0 1 0 2.32 0a1.16 1.16 0 1 0 -2.32 0M293.20 251.35a1.16 1.16 0 1 0 2.32 0a1.16 1.16 0 1 0 -2.32 0M295.50 251.35a1.16 1.16 0 1 0 2.32 0a1.16 1.16 0 1 0 -2.32 0M286.30 255.98a1.16 1.16 0 1 0 2.32 0a1.16 1.16 0 1 0 -2.32 0M288.60 255.98a1.16 1.16 0 1 0 2.32 0a1.16 1.16 0 1 0 -2.32 0M290.90 255.98a1.16 1.16 0 1 0 2.32 0a1.16 1.16 0 1 0 -2.32 0M293.20 255.98a1.16 1.16 0 1 0 2.32 0a1.16 1.16 0 1 0 -2.32 0M295.50 255.98a1.16 1.16 0 1 0 2.32 0a1.16 1.16 0 1 0 -2.32 0M284.00 258.29a1.16 1.16 0 1 0 2.32 0a1.16 1.16 0 1 0 -2.32 0M286.30 258.29a1.16 1.16 0 1 0 2.32 0a1.16 1.16 0 1 0 -2.32 0M284.00 260.60a1.16 1.16 0 1 0 2.32 0a1.16 1.16 0 1 0 -2.32 0M286.30 260.60a1.16 1.16 0 1 0 2.32 0a1.16 1.16 0 1 0 -2.32 0M284.00 262.92a1.16 1.16 0 1 0 2.32 0a1.16 1.16 0 1 0 -2.32 0M286.30 262.92a1.16 1.16 0 1 0 2.32 0a1.16 1.16 0 1 0 -2.32 0M288.60 262.92a1.16 1.16 0 1 0 2.32 0a1.16 1.16 0 1 0 -2.32 0M290.90 262.92a1.16 1.16 0 1 0 2.32 0a1.16 1.16 0 1 0 -2.32 0M293.20 262.92a1.16 1.16 0 1 0 2.32 0a1.16 1.16 0 1 0 -2.32 0M286.30 265.23a1.16 1.16 0 1 0 2.32 0a1.16 1.16 0 1 0 -2.32 0M288.60 265.23a1.16 1.16 0 1 0 2.32 0a1.16 1.16 0 1 0 -2.32 0M290.90 265.23a1.16 1.16 0 1 0 2.32 0a1.16 1.16 0 1 0 -2.32 0M284.00 267.55a1.16 1.16 0 1 0 2.32 0a1.16 1.16 0 1 0 -2.32 0M286.30 267.55a1.16 1.16 0 1 0 2.32 0a1.16 1.16 0 1 0 -2.32 0M288.60 267.55a1.16 1.16 0 1 0 2.32 0a1.16 1.16 0 1 0 -2.32 0M290.90 267.55a1.16 1.16 0 1 0 2.32 0a1.16 1.16 0 1 0 -2.32 0M293.20 267.55a1.16 1.16 0 1 0 2.32 0a1.16 1.16 0 1 0 -2.32 0M295.50 267.55a1.16 1.16 0 1 0 2.32 0a1.16 1.16 0 1 0 -2.32 0M286.30 269.86a1.16 1.16 0 1 0 2.32 0a1.16 1.16 0 1 0 -2.32 0M288.60 269.86a1.16 1.16 0 1 0 2.32 0a1.16 1.16 0 1 0 -2.32 0M284.00 272.17a1.16 1.16 0 1 0 2.32 0a1.16 1.16 0 1 0 -2.32 0M286.30 274.49a1.16 1.16 0 1 0 2.32 0a1.16 1.16 0 1 0 -2.32 0M288.60 274.49a1.16 1.16 0 1 0 2.32 0a1.16 1.16 0 1 0 -2.32 0M290.90 274.49a1.16 1.16 0 1 0 2.32 0a1.16 1.16 0 1 0 -2.32 0M293.20 274.49a1.16 1.16 0 1 0 2.32 0a1.16 1.16 0 1 0 -2.32 0M284.00 276.80a1.16 1.16 0 1 0 2.32 0a1.16 1.16 0 1 0 -2.32 0M286.30 276.80a1.16 1.16 0 1 0 2.32 0a1.16 1.16 0 1 0 -2.32 0M284.00 281.43a1.16 1.16 0 1 0 2.32 0a1.16 1.16 0 1 0 -2.32 0M286.30 281.43a1.16 1.16 0 1 0 2.32 0a1.16 1.16 0 1 0 -2.32 0M288.60 281.43a1.16 1.16 0 1 0 2.32 0a1.16 1.16 0 1 0 -2.32 0M286.30 283.74a1.16 1.16 0 1 0 2.32 0a1.16 1.16 0 1 0 -2.32 0M288.60 283.74a1.16 1.16 0 1 0 2.32 0a1.16 1.16 0 1 0 -2.32 0M290.90 283.74a1.16 1.16 0 1 0 2.32 0a1.16 1.16 0 1 0 -2.32 0M293.20 283.74a1.16 1.16 0 1 0 2.32 0a1.16 1.16 0 1 0 -2.32 0M295.50 283.74a1.16 1.16 0 1 0 2.32 0a1.16 1.16 0 1 0 -2.32 0M297.80 283.74a1.16 1.16 0 1 0 2.32 0a1.16 1.16 0 1 0 -2.32 0M300.10 283.74a1.16 1.16 0 1 0 2.32 0a1.16 1.16 0 1 0 -2.32 0M302.40 283.74a1.16 1.16 0 1 0 2.32 0a1.16 1.16 0 1 0 -2.32 0M304.70 283.74a1.16 1.16 0 1 0 2.32 0a1.16 1.16 0 1 0 -2.32 0M307.00 283.74a1.16 1.16 0 1 0 2.32 0a1.16 1.16 0 1 0 -2.32 0M290.90 286.06a1.16 1.16 0 1 0 2.32 0a1.16 1.16 0 1 0 -2.32 0M293.20 286.06a1.16 1.16 0 1 0 2.32 0a1.16 1.16 0 1 0 -2.32 0M295.50 286.06a1.16 1.16 0 1 0 2.32 0a1.16 1.16 0 1 0 -2.32 0M297.80 286.06a1.16 1.16 0 1 0 2.32 0a1.16 1.16 0 1 0 -2.32 0M300.10 286.06a1.16 1.16 0 1 0 2.32 0a1.16 1.16 0 1 0 -2.32 0" fill="#8AA4EE"/>
<path d="M283.97 193.50a1.19 1.19 0 1 0 2.38 0a1.19 1.19 0 1 0 -2.38 0M286.27 193.50a1.19 1.19 0 1 0 2.38 0a1.19 1.19 0 1 0 -2.38 0M288.57 193.50a1.19 1.19 0 1 0 2.38 0a1.19 1.19 0 1 0 -2.38 0M283.97 195.81a1.19 1.19 0 1 0 2.38 0a1.19 1.19 0 1 0 -2.38 0M286.27 195.81a1.19 1.19 0 1 0 2.38 0a1.19 1.19 0 1 0 -2.38 0M283.97 198.13a1.19 1.19 0 1 0 2.38 0a1.19 1.19 0 1 0 -2.38 0M286.27 198.13a1.19 1.19 0 1 0 2.38 0a1.19 1.19 0 1 0 -2.38 0M283.97 200.44a1.19 1.19 0 1 0 2.38 0a1.19 1.19 0 1 0 -2.38 0M283.97 202.76a1.19 1.19 0 1 0 2.38 0a1.19 1.19 0 1 0 -2.38 0M286.27 202.76a1.19 1.19 0 1 0 2.38 0a1.19 1.19 0 1 0 -2.38 0M288.57 202.76a1.19 1.19 0 1 0 2.38 0a1.19 1.19 0 1 0 -2.38 0M290.87 202.76a1.19 1.19 0 1 0 2.38 0a1.19 1.19 0 1 0 -2.38 0M293.17 202.76a1.19 1.19 0 1 0 2.38 0a1.19 1.19 0 1 0 -2.38 0M295.47 202.76a1.19 1.19 0 1 0 2.38 0a1.19 1.19 0 1 0 -2.38 0M283.97 205.07a1.19 1.19 0 1 0 2.38 0a1.19 1.19 0 1 0 -2.38 0M286.27 205.07a1.19 1.19 0 1 0 2.38 0a1.19 1.19 0 1 0 -2.38 0M283.97 207.38a1.19 1.19 0 1 0 2.38 0a1.19 1.19 0 1 0 -2.38 0M283.97 209.70a1.19 1.19 0 1 0 2.38 0a1.19 1.19 0 1 0 -2.38 0M283.97 216.64a1.19 1.19 0 1 0 2.38 0a1.19 1.19 0 1 0 -2.38 0M283.97 218.95a1.19 1.19 0 1 0 2.38 0a1.19 1.19 0 1 0 -2.38 0M283.97 221.27a1.19 1.19 0 1 0 2.38 0a1.19 1.19 0 1 0 -2.38 0M283.97 223.58a1.19 1.19 0 1 0 2.38 0a1.19 1.19 0 1 0 -2.38 0M286.27 223.58a1.19 1.19 0 1 0 2.38 0a1.19 1.19 0 1 0 -2.38 0M283.97 228.21a1.19 1.19 0 1 0 2.38 0a1.19 1.19 0 1 0 -2.38 0M286.27 228.21a1.19 1.19 0 1 0 2.38 0a1.19 1.19 0 1 0 -2.38 0M283.97 232.84a1.19 1.19 0 1 0 2.38 0a1.19 1.19 0 1 0 -2.38 0M283.97 242.09a1.19 1.19 0 1 0 2.38 0a1.19 1.19 0 1 0 -2.38 0M286.27 242.09a1.19 1.19 0 1 0 2.38 0a1.19 1.19 0 1 0 -2.38 0M288.57 242.09a1.19 1.19 0 1 0 2.38 0a1.19 1.19 0 1 0 -2.38 0M283.97 253.66a1.19 1.19 0 1 0 2.38 0a1.19 1.19 0 1 0 -2.38 0M286.27 253.66a1.19 1.19 0 1 0 2.38 0a1.19 1.19 0 1 0 -2.38 0M283.97 255.98a1.19 1.19 0 1 0 2.38 0a1.19 1.19 0 1 0 -2.38 0M283.97 265.23a1.19 1.19 0 1 0 2.38 0a1.19 1.19 0 1 0 -2.38 0M283.97 269.86a1.19 1.19 0 1 0 2.38 0a1.19 1.19 0 1 0 -2.38 0M283.97 274.49a1.19 1.19 0 1 0 2.38 0a1.19 1.19 0 1 0 -2.38 0M283.97 279.12a1.19 1.19 0 1 0 2.38 0a1.19 1.19 0 1 0 -2.38 0M286.27 279.12a1.19 1.19 0 1 0 2.38 0a1.19 1.19 0 1 0 -2.38 0M283.97 283.74a1.19 1.19 0 1 0 2.38 0a1.19 1.19 0 1 0 -2.38 0M283.97 286.06a1.19 1.19 0 1 0 2.38 0a1.19 1.19 0 1 0 -2.38 0M286.27 286.06a1.19 1.19 0 1 0 2.38 0a1.19 1.19 0 1 0 -2.38 0M288.57 286.06a1.19 1.19 0 1 0 2.38 0a1.19 1.19 0 1 0 -2.38 0M283.97 288.37a1.19 1.19 0 1 0 2.38 0a1.19 1.19 0 1 0 -2.38 0M286.27 288.37a1.19 1.19 0 1 0 2.38 0a1.19 1.19 0 1 0 -2.38 0M283.97 290.69a1.19 1.19 0 1 0 2.38 0a1.19 1.19 0 1 0 -2.38 0M286.27 290.69a1.19 1.19 0 1 0 2.38 0a1.19 1.19 0 1 0 -2.38 0M288.57 290.69a1.19 1.19 0 1 0 2.38 0a1.19 1.19 0 1 0 -2.38 0M290.87 290.69a1.19 1.19 0 1 0 2.38 0a1.19 1.19 0 1 0 -2.38 0M283.97 293.00a1.19 1.19 0 1 0 2.38 0a1.19 1.19 0 1 0 -2.38 0M286.27 293.00a1.19 1.19 0 1 0 2.38 0a1.19 1.19 0 1 0 -2.38 0M288.57 293.00a1.19 1.19 0 1 0 2.38 0a1.19 1.19 0 1 0 -2.38 0M290.87 293.00a1.19 1.19 0 1 0 2.38 0a1.19 1.19 0 1 0 -2.38 0" fill="#E74251"/>
<text x="322.5" y="84.0" text-anchor="middle" font-size="10">10</text>
<path d="M334.20 38.70L343.50 3.90M334.20 38.79L343.50 6.19M334.20 40.05L343.50 8.48M334.20 41.52L343.50 10.77M334.20 43.38L343.50 13.05M334.20 44.16L343.50 15.34M334.20 45.81L343.50 17.63M334.20 46.56L343.50 19.92M334.20 47.79L343.50 22.21M334.20 48.45L343.50 24.50M334.20 49.14L343.50 26.79M334.20 50.21L343.50 29.08M334.20 50.46L343.50 31.36M334.20 51.06L343.50 33.65M334.20 53.94L343.50 35.94M334.20 54.66L343.50 38.23M334.20 56.39L343.50 40.52M334.20 59.15L343.50 42.81M334.20 59.88L343.50 45.10M334.20 61.43L343.50 47.39M334.20 61.77L343.50 49.67M334.20 61.88L343.50 51.96M334.20 62.14L343.50 54.25M334.20 62.36L343.50 56.54M334.20 62.48L343.50 58.83M334.20 63.97L343.50 61.12M334.20 64.17L343.50 63.41M334.20 64.65L343.50 65.70M334.20 67.06L343.50 67.98M334.20 68.43L343.50 70.27M334.20 70.11L343.50 74.85M334.20 70.77L343.50 77.14M334.20 71.99L343.50 79.43M334.20 74.93L343.50 81.72M334.20 77.01L343.50 84.01M334.20 77.82L343.50 86.29M334.20 78.08L343.50 88.58M334.20 78.38L343.50 90.87M334.20 82.45L343.50 93.16M334.20 83.36L343.50 95.45M334.20 83.89L343.50 97.74M334.20 85.07L343.50 100.03M334.20 85.68L343.50 102.32M334.20 85.86L343.50 104.60M334.20 86.56L343.50 106.89M334.20 87.66L343.50 109.18M334.20 90.36L343.50 111.47M334.20 90.47L343.50 113.76M334.20 90.87L343.50 116.05M334.20 91.05L343.50 118.34M334.20 91.23L343.50 120.63M334.20 91.32L343.50 122.91M334.20 91.51L343.50 125.20M334.20 92.12L343.50 127.49M334.20 95.51L343.50 129.78M334.20 97.59L343.50 132.07M334.20 99.37L343.50 134.36M334.20 99.83L343.50 136.65M334.20 102.17L343.50 138.94M334.20 103.53L343.50 141.22M334.20 105.90L343.50 143.51M334.20 107.86L343.50 145.80M334.20 110.84L343.50 148.09M334.20 110.86L343.50 150.38M334.20 110.90L343.50 152.67M334.20 112.29L343.50 154.96M334.20 113.11L343.50 157.25M334.20 114.49L343.50 159.53M334.20 115.86L343.50 161.82M334.20 119.96L343.50 164.11M334.20 120.63L343.50 166.40" stroke="#000" stroke-width="0.5" fill="none"/>
<rect x="330.4" y="36.7" width="3.20" height="86.50" rx="1.60" fill="#dadada"/>
<path d="M330.40 39.90h3.20v1.40h-3.20zM330.40 57.80h3.20v0.50h-3.20zM330.40 58.75h3.20v0.70h-3.20zM330.40 62.20h3.20v0.90h-3.20zM330.40 63.40h3.20v1.10h-3.20zM330.40 71.05h3.20v0.50h-3.20zM330.40 78.35h3.20v0.50h-3.20zM330.40 88.25h3.20v0.50h-3.20zM330.40 100.15h3.20v0.90h-3.20z" fill="#5e5e5e"/>
<path d="M330.40 41.90h3.20v0.90h-3.20zM330.40 51.95h3.20v1.80h-3.20zM330.40 67.30h3.20v0.90h-3.20zM330.40 90.55h3.20v0.90h-3.20zM330.40 112.85h3.20v1.80h-3.20zM330.40 115.65h3.20v0.50h-3.20z" fill="#111"/>
<path d="M330.40 43.80h3.20v1.10h-3.20zM330.40 49.05h3.20v0.50h-3.20zM330.40 54.35h3.20v0.90h-3.20zM330.40 60.05h3.20v0.70h-3.20zM330.40 74.25h3.20v1.40h-3.20zM330.40 76.45h3.20v1.10h-3.20zM330.40 82.45h3.20v0.50h-3.20zM330.40 106.35h3.20v1.10h-3.20zM330.40 110.95h3.20v1.10h-3.20z" fill="#444"/>
<path d="M330.40 45.35h3.20v1.40h-3.20zM330.40 55.70h3.20v1.80h-3.20zM330.40 64.80h3.20v0.90h-3.20zM330.40 69.20h3.20v1.40h-3.20zM330.40 83.40h3.20v1.10h-3.20zM330.40 103.75h3.20v1.80h-3.20z" fill="#000"/>
<path d="M330.40 47.75h3.20v0.50h-3.20zM330.40 49.85h3.20v1.80h-3.20zM330.40 61.05h3.20v0.70h-3.20zM330.40 66.50h3.20v0.50h-3.20zM330.40 72.55h3.20v0.70h-3.20zM330.40 79.65h3.20v1.80h-3.20zM330.40 85.50h3.20v1.10h-3.20zM330.40 86.90h3.20v0.90h-3.20zM330.40 93.75h3.20v1.10h-3.20zM330.40 95.85h3.20v1.80h-3.20zM330.40 98.65h3.20v0.70h-3.20zM330.40 101.65h3.20v1.80h-3.20zM330.40 107.75h3.20v0.50h-3.20zM330.40 117.15h3.20v0.50h-3.20zM330.40 118.10h3.20v1.80h-3.20z" fill="#7a7a7a"/>
<path d="M330.40 89.05h3.20v0.90h-3.20zM330.40 92.25h3.20v0.50h-3.20zM330.40 108.55h3.20v1.40h-3.20z" fill="#2a2a2a"/>
<ellipse cx="332.00" cy="38.20" rx="1.60" ry="1.5" fill="#000"/>
<ellipse cx="332.00" cy="121.70" rx="1.60" ry="1.5" fill="#000"/>
<path d="M351.60 10.77a1.16 1.16 0 1 0 2.32 0a1.16 1.16 0 1 0 -2.32 0M353.90 10.77a1.16 1.16 0 1 0 2.32 0a1.16 1.16 0 1 0 -2.32 0M356.20 10.77a1.16 1.16 0 1 0 2.32 0a1.16 1.16 0 1 0 -2.32 0M358.50 10.77a1.16 1.16 0 1 0 2.32 0a1.16 1.16 0 1 0 -2.32 0M360.80 10.77a1.16 1.16 0 1 0 2.32 0a1.16 1.16 0 1 0 -2.32 0M351.60 13.05a1.16 1.16 0 1 0 2.32 0a1.16 1.16 0 1 0 -2.32 0M353.90 13.05a1.16 1.16 0 1 0 2.32 0a1.16 1.16 0 1 0 -2.32 0M347.00 15.34a1.16 1.16 0 1 0 2.32 0a1.16 1.16 0 1 0 -2.32 0M347.00 17.63a1.16 1.16 0 1 0 2.32 0a1.16 1.16 0 1 0 -2.32 0M347.00 19.92a1.16 1.16 0 1 0 2.32 0a1.16 1.16 0 1 0 -2.32 0M347.00 22.21a1.16 1.16 0 1 0 2.32 0a1.16 1.16 0 1 0 -2.32 0M349.30 22.21a1.16 1.16 0 1 0 2.32 0a1.16 1.16 0 1 0 -2.32 0M351.60 22.21a1.16 1.16 0 1 0 2.32 0a1.16 1.16 0 1 0 -2.32 0M353.90 22.21a1.16 1.16 0 1 0 2.32 0a1.16 1.16 0 1 0 -2.32 0M347.00 24.50a1.16 1.16 0 1 0 2.32 0a1.16 1.16 0 1 0 -2.32 0M349.30 24.50a1.16 1.16 0 1 0 2.32 0a1.16 1.16 0 1 0 -2.32 0M351.60 24.50a1.16 1.16 0 1 0 2.32 0a1.16 1.16 0 1 0 -2.32 0M347.00 26.79a1.16 1.16 0 1 0 2.32 0a1.16 1.16 0 1 0 -2.32 0M349.30 26.79a1.16 1.16 0 1 0 2.32 0a1.16 1.16 0 1 0 -2.32 0M351.60 26.79a1.16 1.16 0 1 0 2.32 0a1.16 1.16 0 1 0 -2.32 0M353.90 26.79a1.16 1.16 0 1 0 2.32 0a1.16 1.16 0 1 0 -2.32 0M356.20 26.79a1.16 1.16 0 1 0 2.32 0a1.16 1.16 0 1 0 -2.32 0M358.50 26.79a1.16 1.16 0 1 0 2.32 0a1.16 1.16 0 1 0 -2.32 0M349.30 29.08a1.16 1.16 0 1 0 2.32 0a1.16 1.16 0 1 0 -2.32 0M351.60 29.08a1.16 1.16 0 1 0 2.32 0a1.16 1.16 0 1 0 -2.32 0M353.90 29.08a1.16 1.16 0 1 0 2.32 0a1.16 1.16 0 1 0 -2.32 0M356.20 29.08a1.16 1.16 0 1 0 2.32 0a1.16 1.16 0 1 0 -2.32 0M358.50 29.08a1.16 1.16 0 1 0 2.32 0a1.16 1.16 0 1 0 -2.32 0M360.80 29.08a1.16 1.16 0 1 0 2.32 0a1.16 1.16 0 1 0 -2.32 0M363.10 29.08a1.16 1.16 0 1 0 2.32 0a1.16 1.16 0 1 0 -2.32 0M365.40 29.08a1.16 1.16 0 1 0 2.32 0a1.16 1.16 0 1 0 -2.32 0M367.70 29.08a1.16 1.16 0 1 0 2.32 0a1.16 1.16 0 1 0 -2.32 0M370.00 29.08a1.16 1.16 0 1 0 2.32 0a1.16 1.16 0 1 0 -2.32 0M372.30 29.08a1.16 1.16 0 1 0 2.32 0a1.16 1.16 0 1 0 -2.32 0M349.30 31.36a1.16 1.16 0 1 0 2.32 0a1.16 1.16 0 1 0 -2.32 0M351.60 31.36a1.16 1.16 0 1 0 2.32 0a1.16 1.16 0 1 0 -2.32 0M353.90 31.36a1.16 1.16 0 1 0 2.32 0a1.16 1.16 0 1 0 -2.32 0M347.00 33.65a1.16 1.16 0 1 0 2.32 0a1.16 1.16 0 1 0 -2.32 0M349.30 33.65a1.16 1.16 0 1 0 2.32 0a1.16 1.16 0 1 0 -2.32 0M351.60 33.65a1.16 1.16 0 1 0 2.32 0a1.16 1.16 0 1 0 -2.32 0M353.90 33.65a1.16 1.16 0 1 0 2.32 0a1.16 1.16 0 1 0 -2.32 0M356.20 33.65a1.16 1.16 0 1 0 2.32 0a1.16 1.16 0 1 0 -2.32 0M358.50 33.65a1.16 1.16 0 1 0 2.32 0a1.16 1.16 0 1 0 -2.32 0M347.00 35.94a1.16 1.16 0 1 0 2.32 0a1.16 1.16 0 1 0 -2.32 0M347.00 38.23a1.16 1.16 0 1 0 2.32 0a1.16 1.16 0 1 0 -2.32 0M347.00 40.52a1.16 1.16 0 1 0 2.32 0a1.16 1.16 0 1 0 -2.32 0M349.30 40.52a1.16 1.16 0 1 0 2.32 0a1.16 1.16 0 1 0 -2.32 0M347.00 42.81a1.16 1.16 0 1 0 2.32 0a1.16 1.16 0 1 0 -2.32 0M349.30 42.81a1.16 1.16 0 1 0 2.32 0a1.16 1.16 0 1 0 -2.32 0M347.00 45.10a1.16 1.16 0 1 0 2.32 0a1.16 1.16 0 1 0 -2.32 0M349.30 45.10a1.16 1.16 0 1 0 2.32 0a1.16 1.16 0 1 0 -2.32 0M351.60 45.10a1.16 1.16 0 1 0 2.32 0a1.16 1.16 0 1 0 -2.32 0M353.90 45.10a1.16 1.16 0 1 0 2.32 0a1.16 1.16 0 1 0 -2.32 0M356.20 45.10a1.16 1.16 0 1 0 2.32 0a1.16 1.16 0 1 0 -2.32 0M358.50 45.10a1.16 1.16 0 1 0 2.32 0a1.16 1.16 0 1 0 -2.32 0M347.00 47.39a1.16 1.16 0 1 0 2.32 0a1.16 1.16 0 1 0 -2.32 0M349.30 47.39a1.16 1.16 0 1 0 2.32 0a1.16 1.16 0 1 0 -2.32 0M351.60 47.39a1.16 1.16 0 1 0 2.32 0a1.16 1.16 0 1 0 -2.32 0M347.00 49.67a1.16 1.16 0 1 0 2.32 0a1.16 1.16 0 1 0 -2.32 0M349.30 49.67a1.16 1.16 0 1 0 2.32 0a1.16 1.16 0 1 0 -2.32 0M351.60 49.67a1.16 1.16 0 1 0 2.32 0a1.16 1.16 0 1 0 -2.32 0M353.90 49.67a1.16 1.16 0 1 0 2.32 0a1.16 1.16 0 1 0 -2.32 0M347.00 51.96a1.16 1.16 0 1 0 2.32 0a1.16 1.16 0 1 0 -2.32 0M349.30 51.96a1.16 1.16 0 1 0 2.32 0a1.16 1.16 0 1 0 -2.32 0M347.00 54.25a1.16 1.16 0 1 0 2.32 0a1.16 1.16 0 1 0 -2.32 0M347.00 56.54a1.16 1.16 0 1 0 2.32 0a1.16 1.16 0 1 0 -2.32 0M349.30 56.54a1.16 1.16 0 1 0 2.32 0a1.16 1.16 0 1 0 -2.32 0M347.00 61.12a1.16 1.16 0 1 0 2.32 0a1.16 1.16 0 1 0 -2.32 0M347.00 63.41a1.16 1.16 0 1 0 2.32 0a1.16 1.16 0 1 0 -2.32 0M349.30 63.41a1.16 1.16 0 1 0 2.32 0a1.16 1.16 0 1 0 -2.32 0M347.00 65.70a1.16 1.16 0 1 0 2.32 0a1.16 1.16 0 1 0 -2.32 0M349.30 65.70a1.16 1.16 0 1 0 2.32 0a1.16 1.16 0 1 0 -2.32 0M351.60 65.70a1.16 1.16 0 1 0 2.32 0a1.16 1.16 0 1 0 -2.32 0M347.00 67.98a1.16 1.16 0 1 0 2.32 0a1.16 1.16 0 1 0 -2.32 0M349.30 67.98a1.16 1.16 0 1 0 2.32 0a1.16 1.16 0 1 0 -2.32 0M351.60 67.98a1.16 1.16 0 1 0 2.32 0a1.16 1.16 0 1 0 -2.32 0M353.90 67.98a1.16 1.16 0 1 0 2.32 0a1.16 1.16 0 1 0 -2.32 0M356.20 67.98a1.16 1.16 0 1 0 2.32 0a1.16 1.16 0 1 0 -2.32 0M358.50 67.98a1.16 1.16 0 1 0 2.32 0a1.16 1.16 0 1 0 -2.32 0M360.80 67.98a1.16 1.16 0 1 0 2.32 0a1.16 1.16 0 1 0 -2.32 0M363.10 67.98a1.16 1.16 0 1 0 2.32 0a1.16 1.16 0 1 0 -2.32 0M365.40 67.98a1.16 1.16 0 1 0 2.32 0a1.16 1.16 0 1 0 -2.32 0M367.70 67.98a1.16 1.16 0 1 0 2.32 0a1.16 1.16 0 1 0 -2.32 0M370.00 67.98a1.16 1.16 0 1 0 2.32 0a1.16 1.16 0 1 0 -2.32 0M347.00 70.27a1.16 1.16 0 1 0 2.32 0a1.16 1.16 0 1 0 -2.32 0M349.30 70.27a1.16 1.16 0 1 0 2.32 0a1.16 1.16 0 1 0 -2.32 0M347.00 74.85a1.16 1.16 0 1 0 2.32 0a1.16 1.16 0 1 0 -2.32 0M349.30 74.85a1.16 1.16 0 1 0 2.32 0a1.16 1.16 0 1 0 -2.32 0M351.60 74.85a1.16 1.16 0 1 0 2.32 0a1.16 1.16 0 1 0 -2.32 0M347.00 77.14a1.16 1.16 0 1 0 2.32 0a1.16 1.16 0 1 0 -2.32 0M349.30 77.14a1.16 1.16 0 1 0 2.32 0a1.16 1.16 0 1 0 -2.32 0M351.60 77.14a1.16 1.16 0 1 0 2.32 0a1.16 1.16 0 1 0 -2.32 0M347.00 79.43a1.16 1.16 0 1 0 2.32 0a1.16 1.16 0 1 0 -2.32 0M349.30 79.43a1.16 1.16 0 1 0 2.32 0a1.16 1.16 0 1 0 -2.32 0M351.60 79.43a1.16 1.16 0 1 0 2.32 0a1.16 1.16 0 1 0 -2.32 0M353.90 79.43a1.16 1.16 0 1 0 2.32 0a1.16 1.16 0 1 0 -2.32 0M347.00 81.72a1.16 1.16 0 1 0 2.32 0a1.16 1.16 0 1 0 -2.32 0M349.30 81.72a1.16 1.16 0 1 0 2.32 0a1.16 1.16 0 1 0 -2.32 0M347.00 84.01a1.16 1.16 0 1 0 2.32 0a1.16 1.16 0 1 0 -2.32 0M349.30 84.01a1.16 1.16 0 1 0 2.32 0a1.16 1.16 0 1 0 -2.32 0M351.60 84.01a1.16 1.16 0 1 0 2.32 0a1.16 1.16 0 1 0 -2.32 0M353.90 84.01a1.16 1.16 0 1 0 2.32 0a1.16 1.16 0 1 0 -2.32 0M356.20 84.01a1.16 1.16 0 1 0 2.32 0a1.16 1.16 0 1 0 -2.32 0M347.00 86.29a1.16 1.16 0 1 0 2.32 0a1.16 1.16 0 1 0 -2.32 0M349.30 86.29a1.16 1.16 0 1 0 2.32 0a1.16 1.16 0 1 0 -2.32 0M351.60 86.29a1.16 1.16 0 1 0 2.32 0a1.16 1.16 0 1 0 -2.32 0M347.00 88.58a1.16 1.16 0 1 0 2.32 0a1.16 1.16 0 1 0 -2.32 0M347.00 90.87a1.16 1.16 0 1 0 2.32 0a1.16 1.16 0 1 0 -2.32 0M349.30 93.16a1.16 1.16 0 1 0 2.32 0a1.16 1.16 0 1 0 -2.32 0M351.60 93.16a1.16 1.16 0 1 0 2.32 0a1.16 1.16 0 1 0 -2.32 0M353.90 93.16a1.16 1.16 0 1 0 2.32 0a1.16 1.16 0 1 0 -2.32 0M356.20 93.16a1.16 1.16 0 1 0 2.32 0a1.16 1.16 0 1 0 -2.32 0M347.00 95.45a1.16 1.16 0 1 0 2.32 0a1.16 1.16 0 1 0 -2.32 0M349.30 95.45a1.16 1.16 0 1 0 2.32 0a1.16 1.16 0 1 0 -2.32 0M351.60 95.45a1.16 1.16 0 1 0 2.32 0a1.16 1.16 0 1 0 -2.32 0M353.90 95.45a1.16 1.16 0 1 0 2.32 0a1.16 1.16 0 1 0 -2.32 0M356.20 95.45a1.16 1.16 0 1 0 2.32 0a1.16 1.16 0 1 0 -2.32 0M358.50 95.45a1.16 1.16 0 1 0 2.32 0a1.16 1.16 0 1 0 -2.32 0M347.00 97.74a1.16 1.16 0 1 0 2.32 0a1.16 1.16 0 1 0 -2.32 0M349.30 97.74a1.16 1.16 0 1 0 2.32 0a1.16 1.16 0 1 0 -2.32 0M351.60 97.74a1.16 1.16 0 1 0 2.32 0a1.16 1.16 0 1 0 -2.32 0M353.90 97.74a1.16 1.16 0 1 0 2.32 0a1.16 1.16 0 1 0 -2.32 0M356.20 97.74a1.16 1.16 0 1 0 2.32 0a1.16 1.16 0 1 0 -2.32 0M358.50 97.74a1.16 1.16 0 1 0 2.32 0a1.16 1.16 0 1 0 -2.32 0M360.80 97.74a1.16 1.16 0 1 0 2.32 0a1.16 1.16 0 1 0 -2.32 0M347.00 100.03a1.16 1.16 0 1 0 2.32 0a1.16 1.16 0 1 0 -2.32 0M349.30 100.03a1.16 1.16 0 1 0 2.32 0a1.16 1.16 0 1 0 -2.32 0M351.60 100.03a1.16 1.16 0 1 0 2.32 0a1.16 1.16 0 1 0 -2.32 0M347.00 102.32a1.16 1.16 0 1 0 2.32 0a1.16 1.16 0 1 0 -2.32 0M349.30 102.32a1.16 1.16 0 1 0 2.32 0a1.16 1.16 0 1 0 -2.32 0M351.60 102.32a1.16 1.16 0 1 0 2.32 0a1.16 1.16 0 1 0 -2.32 0M353.90 102.32a1.16 1.16 0 1 0 2.32 0a1.16 1.16 0 1 0 -2.32 0M356.20 102.32a1.16 1.16 0 1 0 2.32 0a1.16 1.16 0 1 0 -2.32 0M358.50 102.32a1.16 1.16 0 1 0 2.32 0a1.16 1.16 0 1 0 -2.32 0M360.80 102.32a1.16 1.16 0 1 0 2.32 0a1.16 1.16 0 1 0 -2.32 0M347.00 104.60a1.16 1.16 0 1 0 2.32 0a1.16 1.16 0 1 0 -2.32 0M349.30 104.60a1.16 1.16 0 1 0 2.32 0a1.16 1.16 0 1 0 -2.32 0M347.00 106.89a1.16 1.16 0 1 0 2.32 0a1.16 1.16 0 1 0 -2.32 0M349.30 106.89a1.16 1.16 0 1 0 2.32 0a1.16 1.16 0 1 0 -2.32 0M351.60 106.89a1.16 1.16 0 1 0 2.32 0a1.16 1.16 0 1 0 -2.32 0M353.90 106.89a1.16 1.16 0 1 0 2.32 0a1.16 1.16 0 1 0 -2.32 0M356.20 106.89a1.16 1.16 0 1 0 2.32 0a1.16 1.16 0 1 0 -2.32 0M358.50 106.89a1.16 1.16 0 1 0 2.32 0a1.16 1.16 0 1 0 -2.32 0M360.80 106.89a1.16 1.16 0 1 0 2.32 0a1.16 1.16 0 1 0 -2.32 0M363.10 106.89a1.16 1.16 0 1 0 2.32 0a1.16 1.16 0 1 0 -2.32 0M365.40 106.89a1.16 1.16 0 1 0 2.32 0a1.16 1.16 0 1 0 -2.32 0M347.00 109.18a1.16 1.16 0 1 0 2.32 0a1.16 1.16 0 1 0 -2.32 0M349.30 109.18a1.16 1.16 0 1 0 2.32 0a1.16 1.16 0 1 0 -2.32 0M347.00 111.47a1.16 1.16 0 1 0 2.32 0a1.16 1.16 0 1 0 -2.32 0M347.00 113.76a1.16 1.16 0 1 0 2.32 0a1.16 1.16 0 1 0 -2.32 0M349.30 113.76a1.16 1.16 0 1 0 2.32 0a1.16 1.16 0 1 0 -2.32 0M351.60 113.76a1.16 1.16 0 1 0 2.32 0a1.16 1.16 0 1 0 -2.32 0M353.90 113.76a1.16 1.16 0 1 0 2.32 0a1.16 1.16 0 1 0 -2.32 0M356.20 113.76a1.16 1.16 0 1 0 2.32 0a1.16 1.16 0 1 0 -2.32 0M358.50 113.76a1.16 1.16 0 1 0 2.32 0a1.16 1.16 0 1 0 -2.32 0M347.00 116.05a1.16 1.16 0 1 0 2.32 0a1.16 1.16 0 1 0 -2.32 0M349.30 116.05a1.16 1.16 0 1 0 2.32 0a1.16 1.16 0 1 0 -2.32 0M347.00 118.34a1.16 1.16 0 1 0 2.32 0a1.16 1.16 0 1 0 -2.32 0M349.30 118.34a1.16 1.16 0 1 0 2.32 0a1.16 1.16 0 1 0 -2.32 0M351.60 118.34a1.16 1.16 0 1 0 2.32 0a1.16 1.16 0 1 0 -2.32 0M347.00 120.63a1.16 1.16 0 1 0 2.32 0a1.16 1.16 0 1 0 -2.32 0M349.30 120.63a1.16 1.16 0 1 0 2.32 0a1.16 1.16 0 1 0 -2.32 0M349.30 122.91a1.16 1.16 0 1 0 2.32 0a1.16 1.16 0 1 0 -2.32 0M347.00 125.20a1.16 1.16 0 1 0 2.32 0a1.16 1.16 0 1 0 -2.32 0M349.30 125.20a1.16 1.16 0 1 0 2.32 0a1.16 1.16 0 1 0 -2.32 0M351.60 125.20a1.16 1.16 0 1 0 2.32 0a1.16 1.16 0 1 0 -2.32 0M347.00 127.49a1.16 1.16 0 1 0 2.32 0a1.16 1.16 0 1 0 -2.32 0M349.30 127.49a1.16 1.16 0 1 0 2.32 0a1.16 1.16 0 1 0 -2.32 0M351.60 127.49a1.16 1.16 0 1 0 2.32 0a1.16 1.16 0 1 0 -2.32 0M347.00 129.78a1.16 1.16 0 1 0 2.32 0a1.16 1.16 0 1 0 -2.32 0M349.30 129.78a1.16 1.16 0 1 0 2.32 0a1.16 1.16 0 1 0 -2.32 0M347.00 132.07a1.16 1.16 0 1 0 2.32 0a1.16 1.16 0 1 0 -2.32 0M349.30 132.07a1.16 1.16 0 1 0 2.32 0a1.16 1.16 0 1 0 -2.32 0M351.60 132.07a1.16 1.16 0 1 0 2.32 0a1.16 1.16 0 1 0 -2.32 0M347.00 134.36a1.16 1.16 0 1 0 2.32 0a1.16 1.16 0 1 0 -2.32 0M347.00 136.65a1.16 1.16 0 1 0 2.32 0a1.16 1.16 0 1 0 -2.32 0M349.30 136.65a1.16 1.16 0 1 0 2.32 0a1.16 1.16 0 1 0 -2.32 0M351.60 136.65a1.16 1.16 0 1 0 2.32 0a1.16 1.16 0 1 0 -2.32 0M353.90 136.65a1.16 1.16 0 1 0 2.32 0a1.16 1.16 0 1 0 -2.32 0M356.20 136.65a1.16 1.16 0 1 0 2.32 0a1.16 1.16 0 1 0 -2.32 0M358.50 136.65a1.16 1.16 0 1 0 2.32 0a1.16 1.16 0 1 0 -2.32 0M360.80 136.65a1.16 1.16 0 1 0 2.32 0a1.16 1.16 0 1 0 -2.32 0M347.00 138.94a1.16 1.16 0 1 0 2.32 0a1.16 1.16 0 1 0 -2.32 0M349.30 138.94a1.16 1.16 0 1 0 2.32 0a1.16 1.16 0 1 0 -2.32 0M347.00 141.22a1.16 1.16 0 1 0 2.32 0a1.16 1.16 0 1 0 -2.32 0M349.30 141.22a1.16 1.16 0 1 0 2.32 0a1.16 1.16 0 1 0 -2.32 0M351.60 141.22a1.16 1.16 0 1 0 2.32 0a1.16 1.16 0 1 0 -2.32 0M353.90 141.22a1.16 1.16 0 1 0 2.32 0a1.16 1.16 0 1 0 -2.32 0M347.00 143.51a1.16 1.16 0 1 0 2.32 0a1.16 1.16 0 1 0 -2.32 0M349.30 143.51a1.16 1.16 0 1 0 2.32 0a1.16 1.16 0 1 0 -2.32 0M351.60 143.51a1.16 1.16 0 1 0 2.32 0a1.16 1.16 0 1 0 -2.32 0M353.90 143.51a1.16 1.16 0 1 0 2.32 0a1.16 1.16 0 1 0 -2.32 0M356.20 143.51a1.16 1.16 0 1 0 2.32 0a1.16 1.16 0 1 0 -2.32 0M358.50 143.51a1.16 1.16 0 1 0 2.32 0a1.16 1.16 0 1 0 -2.32 0M347.00 145.80a1.16 1.16 0 1 0 2.32 0a1.16 1.16 0 1 0 -2.32 0M349.30 145.80a1.16 1.16 0 1 0 2.32 0a1.16 1.16 0 1 0 -2.32 0M351.60 145.80a1.16 1.16 0 1 0 2.32 0a1.16 1.16 0 1 0 -2.32 0M353.90 145.80a1.16 1.16 0 1 0 2.32 0a1.16 1.16 0 1 0 -2.32 0M347.00 148.09a1.16 1.16 0 1 0 2.32 0a1.16 1.16 0 1 0 -2.32 0M349.30 148.09a1.16 1.16 0 1 0 2.32 0a1.16 1.16 0 1 0 -2.32 0M351.60 148.09a1.16 1.16 0 1 0 2.32 0a1.16 1.16 0 1 0 -2.32 0M349.30 150.38a1.16 1.16 0 1 0 2.32 0a1.16 1.16 0 1 0 -2.32 0M347.00 152.67a1.16 1.16 0 1 0 2.32 0a1.16 1.16 0 1 0 -2.32 0M349.30 152.67a1.16 1.16 0 1 0 2.32 0a1.16 1.16 0 1 0 -2.32 0M351.60 152.67a1.16 1.16 0 1 0 2.32 0a1.16 1.16 0 1 0 -2.32 0M353.90 152.67a1.16 1.16 0 1 0 2.32 0a1.16 1.16 0 1 0 -2.32 0M356.20 152.67a1.16 1.16 0 1 0 2.32 0a1.16 1.16 0 1 0 -2.32 0M347.00 154.96a1.16 1.16 0 1 0 2.32 0a1.16 1.16 0 1 0 -2.32 0M349.30 154.96a1.16 1.16 0 1 0 2.32 0a1.16 1.16 0 1 0 -2.32 0M351.60 154.96a1.16 1.16 0 1 0 2.32 0a1.16 1.16 0 1 0 -2.32 0M353.90 154.96a1.16 1.16 0 1 0 2.32 0a1.16 1.16 0 1 0 -2.32 0M347.00 157.25a1.16 1.16 0 1 0 2.32 0a1.16 1.16 0 1 0 -2.32 0M349.30 157.25a1.16 1.16 0 1 0 2.32 0a1.16 1.16 0 1 0 -2.32 0M351.60 157.25a1.16 1.16 0 1 0 2.32 0a1.16 1.16 0 1 0 -2.32 0M353.90 157.25a1.16 1.16 0 1 0 2.32 0a1.16 1.16 0 1 0 -2.32 0M349.30 159.53a1.16 1.16 0 1 0 2.32 0a1.16 1.16 0 1 0 -2.32 0M351.60 159.53a1.16 1.16 0 1 0 2.32 0a1.16 1.16 0 1 0 -2.32 0M353.90 159.53a1.16 1.16 0 1 0 2.32 0a1.16 1.16 0 1 0 -2.32 0M356.20 159.53a1.16 1.16 0 1 0 2.32 0a1.16 1.16 0 1 0 -2.32 0M358.50 159.53a1.16 1.16 0 1 0 2.32 0a1.16 1.16 0 1 0 -2.32 0" fill="#8AA4EE"/>
<path d="M346.97 3.90a1.19 1.19 0 1 0 2.38 0a1.19 1.19 0 1 0 -2.38 0M349.27 3.90a1.19 1.19 0 1 0 2.38 0a1.19 1.19 0 1 0 -2.38 0M351.57 3.90a1.19 1.19 0 1 0 2.38 0a1.19 1.19 0 1 0 -2.38 0M346.97 6.19a1.19 1.19 0 1 0 2.38 0a1.19 1.19 0 1 0 -2.38 0M346.97 8.48a1.19 1.19 0 1 0 2.38 0a1.19 1.19 0 1 0 -2.38 0M349.27 8.48a1.19 1.19 0 1 0 2.38 0a1.19 1.19 0 1 0 -2.38 0M351.57 8.48a1.19 1.19 0 1 0 2.38 0a1.19 1.19 0 1 0 -2.38 0M353.87 8.48a1.19 1.19 0 1 0 2.38 0a1.19 1.19 0 1 0 -2.38 0M346.97 10.77a1.19 1.19 0 1 0 2.38 0a1.19 1.19 0 1 0 -2.38 0M349.27 10.77a1.19 1.19 0 1 0 2.38 0a1.19 1.19 0 1 0 -2.38 0M346.97 13.05a1.19 1.19 0 1 0 2.38 0a1.19 1.19 0 1 0 -2.38 0M349.27 13.05a1.19 1.19 0 1 0 2.38 0a1.19 1.19 0 1 0 -2.38 0M346.97 29.08a1.19 1.19 0 1 0 2.38 0a1.19 1.19 0 1 0 -2.38 0M346.97 31.36a1.19 1.19 0 1 0 2.38 0a1.19 1.19 0 1 0 -2.38 0M346.97 58.83a1.19 1.19 0 1 0 2.38 0a1.19 1.19 0 1 0 -2.38 0M346.97 93.16a1.19 1.19 0 1 0 2.38 0a1.19 1.19 0 1 0 -2.38 0M346.97 122.91a1.19 1.19 0 1 0 2.38 0a1.19 1.19 0 1 0 -2.38 0M346.97 150.38a1.19 1.19 0 1 0 2.38 0a1.19 1.19 0 1 0 -2.38 0M346.97 159.53a1.19 1.19 0 1 0 2.38 0a1.19 1.19 0 1 0 -2.38 0M346.97 161.82a1.19 1.19 0 1 0 2.38 0a1.19 1.19 0 1 0 -2.38 0M349.27 161.82a1.19 1.19 0 1 0 2.38 0a1.19 1.19 0 1 0 -2.38 0M351.57 161.82a1.19 1.19 0 1 0 2.38 0a1.19 1.19 0 1 0 -2.38 0M353.87 161.82a1.19 1.19 0 1 0 2.38 0a1.19 1.19 0 1 0 -2.38 0M356.17 161.82a1.19 1.19 0 1 0 2.38 0a1.19 1.19 0 1 0 -2.38 0M346.97 164.11a1.19 1.19 0 1 0 2.38 0a1.19 1.19 0 1 0 -2.38 0M349.27 164.11a1.19 1.19 0 1 0 2.38 0a1.19 1.19 0 1 0 -2.38 0M351.57 164.11a1.19 1.19 0 1 0 2.38 0a1.19 1.19 0 1 0 -2.38 0M346.97 166.40a1.19 1.19 0 1 0 2.38 0a1.19 1.19 0 1 0 -2.38 0M349.27 166.40a1.19 1.19 0 1 0 2.38 0a1.19 1.19 0 1 0 -2.38 0M351.57 166.40a1.19 1.19 0 1 0 2.38 0a1.19 1.19 0 1 0 -2.38 0M353.87 166.40a1.19 1.19 0 1 0 2.38 0a1.19 1.19 0 1 0 -2.38 0M356.17 166.40a1.19 1.19 0 1 0 2.38 0a1.19 1.19 0 1 0 -2.38 0" fill="#E74251"/>
<text x="322.4" y="246.0" text-anchor="middle" font-size="10">11</text>
<path d="M334.20 205.24L343.50 177.00M334.20 205.89L343.50 179.28M334.20 206.32L343.50 181.57M334.20 209.47L343.50 183.85M334.20 211.05L343.50 186.14M334.20 211.32L343.50 188.42M334.20 211.42L343.50 190.71M334.20 216.89L343.50 192.99M334.20 217.01L343.50 195.28M334.20 218.10L343.50 197.56M334.20 219.16L343.50 199.85M334.20 219.90L343.50 202.13M334.20 220.71L343.50 204.42M334.20 223.38L343.50 206.70M334.20 223.84L343.50 208.99M334.20 225.52L343.50 211.27M334.20 228.21L343.50 213.56M334.20 228.63L343.50 215.84M334.20 230.91L343.50 218.13M334.20 231.03L343.50 220.41M334.20 231.98L343.50 222.70M334.20 234.32L343.50 224.98M334.20 235.19L343.50 227.27M334.20 238.00L343.50 231.84M334.20 239.04L343.50 234.12M334.20 239.49L343.50 236.41M334.20 239.89L343.50 238.69M334.20 241.03L343.50 240.98M334.20 241.59L343.50 243.26M334.20 244.93L343.50 245.55M334.20 245.79L343.50 247.83M334.20 246.39L343.50 250.12M334.20 249.66L343.50 252.40M334.20 250.69L343.50 254.68M334.20 251.74L343.50 256.97M334.20 251.76L343.50 259.25M334.20 252.37L343.50 261.54M334.20 253.24L343.50 263.82M334.20 253.82L343.50 266.11M334.20 254.00L343.50 268.39M334.20 254.15L343.50 270.68M334.20 254.68L343.50 272.96M334.20 256.08L343.50 275.25M334.20 256.51L343.50 277.53M334.20 257.34L343.50 279.82M334.20 262.70L343.50 282.10M334.20 262.90L343.50 284.39M334.20 264.24L343.50 286.67M334.20 264.62L343.50 288.96M334.20 265.21L343.50 291.24M334.20 265.87L343.50 293.53M334.20 266.45L343.50 295.81M334.20 266.93L343.50 298.10M334.20 267.26L343.50 300.38M334.20 267.57L343.50 302.67M334.20 267.87L343.50 304.95M334.20 268.34L343.50 307.24M334.20 269.17L343.50 309.52M334.20 269.25L343.50 311.81M334.20 269.39L343.50 314.09M334.20 269.86L343.50 316.38M334.20 274.57L343.50 318.66M334.20 276.08L343.50 320.95M334.20 276.72L343.50 323.23M334.20 278.00L343.50 325.52M334.20 278.99L343.50 327.80" stroke="#000" stroke-width="0.5" fill="none"/>
<rect x="330.4" y="202" width="3.20" height="78.60" rx="1.60" fill="#dadada"/>
<path d="M330.40 205.20h3.20v0.70h-3.20zM330.40 222.60h3.20v1.10h-3.20zM330.40 224.15h3.20v0.90h-3.20zM330.40 232.35h3.20v0.70h-3.20zM330.40 248.65h3.20v0.50h-3.20zM330.40 251.55h3.20v0.50h-3.20zM330.40 263.10h3.20v1.10h-3.20z" fill="#444"/>
<path d="M330.40 206.50h3.20v0.90h-3.20zM330.40 208.00h3.20v1.10h-3.20zM330.40 220.50h3.20v1.10h-3.20zM330.40 241.15h3.20v1.80h-3.20zM330.40 260.80h3.20v0.50h-3.20zM330.40 266.40h3.20v0.50h-3.20zM330.40 271.60h3.20v1.80h-3.20zM330.40 276.10h3.20v0.70h-3.20z" fill="#2a2a2a"/>
<path d="M330.40 209.90h3.20v1.80h-3.20zM330.40 227.50h3.20v1.40h-3.20zM330.40 235.75h3.20v1.80h-3.20zM330.40 258.00h3.20v1.80h-3.20z" fill="#111"/>
<path d="M330.40 212.50h3.20v1.80h-3.20zM330.40 217.50h3.20v0.70h-3.20zM330.40 238.55h3.20v1.80h-3.20zM330.40 246.75h3.20v0.90h-3.20zM330.40 250.75h3.20v0.50h-3.20zM330.40 253.05h3.20v1.10h-3.20zM330.40 254.60h3.20v1.10h-3.20zM330.40 267.70h3.20v0.70h-3.20zM330.40 274.40h3.20v0.70h-3.20z" fill="#7a7a7a"/>
<path d="M330.40 215.10h3.20v1.40h-3.20zM330.40 218.80h3.20v1.10h-3.20zM330.40 225.50h3.20v1.40h-3.20zM330.40 229.35h3.20v0.50h-3.20zM330.40 233.35h3.20v1.40h-3.20zM330.40 243.95h3.20v1.80h-3.20zM330.40 256.50h3.20v0.70h-3.20zM330.40 261.60h3.20v0.70h-3.20z" fill="#5e5e5e"/>
<path d="M330.40 230.85h3.20v0.90h-3.20zM330.40 249.95h3.20v0.50h-3.20zM330.40 265.20h3.20v0.90h-3.20zM330.40 268.70h3.20v0.50h-3.20zM330.40 269.50h3.20v1.80h-3.20z" fill="#000"/>
<ellipse cx="332.00" cy="203.50" rx="1.60" ry="1.5" fill="#000"/>
<ellipse cx="332.00" cy="279.10" rx="1.60" ry="1.5" fill="#000"/>
<path d="M349.30 181.57a1.16 1.16 0 1 0 2.32 0a1.16 1.16 0 1 0 -2.32 0M351.60 181.57a1.16 1.16 0 1 0 2.32 0a1.16 1.16 0 1 0 -2.32 0M347.00 183.85a1.16 1.16 0 1 0 2.32 0a1.16 1.16 0 1 0 -2.32 0M349.30 183.85a1.16 1.16 0 1 0 2.32 0a1.16 1.16 0 1 0 -2.32 0M351.60 183.85a1.16 1.16 0 1 0 2.32 0a1.16 1.16 0 1 0 -2.32 0M347.00 186.14a1.16 1.16 0 1 0 2.32 0a1.16 1.16 0 1 0 -2.32 0M349.30 186.14a1.16 1.16 0 1 0 2.32 0a1.16 1.16 0 1 0 -2.32 0M351.60 186.14a1.16 1.16 0 1 0 2.32 0a1.16 1.16 0 1 0 -2.32 0M353.90 186.14a1.16 1.16 0 1 0 2.32 0a1.16 1.16 0 1 0 -2.32 0M356.20 186.14a1.16 1.16 0 1 0 2.32 0a1.16 1.16 0 1 0 -2.32 0M351.60 188.42a1.16 1.16 0 1 0 2.32 0a1.16 1.16 0 1 0 -2.32 0M347.00 190.71a1.16 1.16 0 1 0 2.32 0a1.16 1.16 0 1 0 -2.32 0M349.30 190.71a1.16 1.16 0 1 0 2.32 0a1.16 1.16 0 1 0 -2.32 0M347.00 192.99a1.16 1.16 0 1 0 2.32 0a1.16 1.16 0 1 0 -2.32 0M349.30 192.99a1.16 1.16 0 1 0 2.32 0a1.16 1.16 0 1 0 -2.32 0M351.60 192.99a1.16 1.16 0 1 0 2.32 0a1.16 1.16 0 1 0 -2.32 0M347.00 195.28a1.16 1.16 0 1 0 2.32 0a1.16 1.16 0 1 0 -2.32 0M349.30 195.28a1.16 1.16 0 1 0 2.32 0a1.16 1.16 0 1 0 -2.32 0M351.60 195.28a1.16 1.16 0 1 0 2.32 0a1.16 1.16 0 1 0 -2.32 0M347.00 197.56a1.16 1.16 0 1 0 2.32 0a1.16 1.16 0 1 0 -2.32 0M349.30 197.56a1.16 1.16 0 1 0 2.32 0a1.16 1.16 0 1 0 -2.32 0M351.60 197.56a1.16 1.16 0 1 0 2.32 0a1.16 1.16 0 1 0 -2.32 0M353.90 197.56a1.16 1.16 0 1 0 2.32 0a1.16 1.16 0 1 0 -2.32 0M356.20 197.56a1.16 1.16 0 1 0 2.32 0a1.16 1.16 0 1 0 -2.32 0M358.50 197.56a1.16 1.16 0 1 0 2.32 0a1.16 1.16 0 1 0 -2.32 0M360.80 197.56a1.16 1.16 0 1 0 2.32 0a1.16 1.16 0 1 0 -2.32 0M363.10 197.56a1.16 1.16 0 1 0 2.32 0a1.16 1.16 0 1 0 -2.32 0M347.00 199.85a1.16 1.16 0 1 0 2.32 0a1.16 1.16 0 1 0 -2.32 0M349.30 199.85a1.16 1.16 0 1 0 2.32 0a1.16 1.16 0 1 0 -2.32 0M351.60 199.85a1.16 1.16 0 1 0 2.32 0a1.16 1.16 0 1 0 -2.32 0M347.00 202.13a1.16 1.16 0 1 0 2.32 0a1.16 1.16 0 1 0 -2.32 0M349.30 202.13a1.16 1.16 0 1 0 2.32 0a1.16 1.16 0 1 0 -2.32 0M351.60 202.13a1.16 1.16 0 1 0 2.32 0a1.16 1.16 0 1 0 -2.32 0M353.90 202.13a1.16 1.16 0 1 0 2.32 0a1.16 1.16 0 1 0 -2.32 0M347.00 204.42a1.16 1.16 0 1 0 2.32 0a1.16 1.16 0 1 0 -2.32 0M349.30 204.42a1.16 1.16 0 1 0 2.32 0a1.16 1.16 0 1 0 -2.32 0M351.60 204.42a1.16 1.16 0 1 0 2.32 0a1.16 1.16 0 1 0 -2.32 0M347.00 206.70a1.16 1.16 0 1 0 2.32 0a1.16 1.16 0 1 0 -2.32 0M349.30 206.70a1.16 1.16 0 1 0 2.32 0a1.16 1.16 0 1 0 -2.32 0M351.60 206.70a1.16 1.16 0 1 0 2.32 0a1.16 1.16 0 1 0 -2.32 0M349.30 208.99a1.16 1.16 0 1 0 2.32 0a1.16 1.16 0 1 0 -2.32 0M351.60 208.99a1.16 1.16 0 1 0 2.32 0a1.16 1.16 0 1 0 -2.32 0M353.90 208.99a1.16 1.16 0 1 0 2.32 0a1.16 1.16 0 1 0 -2.32 0M356.20 208.99a1.16 1.16 0 1 0 2.32 0a1.16 1.16 0 1 0 -2.32 0M349.30 211.27a1.16 1.16 0 1 0 2.32 0a1.16 1.16 0 1 0 -2.32 0M347.00 213.56a1.16 1.16 0 1 0 2.32 0a1.16 1.16 0 1 0 -2.32 0M349.30 213.56a1.16 1.16 0 1 0 2.32 0a1.16 1.16 0 1 0 -2.32 0M347.00 215.84a1.16 1.16 0 1 0 2.32 0a1.16 1.16 0 1 0 -2.32 0M349.30 215.84a1.16 1.16 0 1 0 2.32 0a1.16 1.16 0 1 0 -2.32 0M351.60 215.84a1.16 1.16 0 1 0 2.32 0a1.16 1.16 0 1 0 -2.32 0M353.90 215.84a1.16 1.16 0 1 0 2.32 0a1.16 1.16 0 1 0 -2.32 0M347.00 218.13a1.16 1.16 0 1 0 2.32 0a1.16 1.16 0 1 0 -2.32 0M347.00 220.41a1.16 1.16 0 1 0 2.32 0a1.16 1.16 0 1 0 -2.32 0M349.30 220.41a1.16 1.16 0 1 0 2.32 0a1.16 1.16 0 1 0 -2.32 0M351.60 220.41a1.16 1.16 0 1 0 2.32 0a1.16 1.16 0 1 0 -2.32 0M353.90 220.41a1.16 1.16 0 1 0 2.32 0a1.16 1.16 0 1 0 -2.32 0M347.00 222.70a1.16 1.16 0 1 0 2.32 0a1.16 1.16 0 1 0 -2.32 0M349.30 222.70a1.16 1.16 0 1 0 2.32 0a1.16 1.16 0 1 0 -2.32 0M351.60 222.70a1.16 1.16 0 1 0 2.32 0a1.16 1.16 0 1 0 -2.32 0M353.90 222.70a1.16 1.16 0 1 0 2.32 0a1.16 1.16 0 1 0 -2.32 0M356.20 222.70a1.16 1.16 0 1 0 2.32 0a1.16 1.16 0 1 0 -2.32 0M347.00 224.98a1.16 1.16 0 1 0 2.32 0a1.16 1.16 0 1 0 -2.32 0M349.30 224.98a1.16 1.16 0 1 0 2.32 0a1.16 1.16 0 1 0 -2.32 0M351.60 224.98a1.16 1.16 0 1 0 2.32 0a1.16 1.16 0 1 0 -2.32 0M347.00 227.27a1.16 1.16 0 1 0 2.32 0a1.16 1.16 0 1 0 -2.32 0M349.30 227.27a1.16 1.16 0 1 0 2.32 0a1.16 1.16 0 1 0 -2.32 0M351.60 227.27a1.16 1.16 0 1 0 2.32 0a1.16 1.16 0 1 0 -2.32 0M353.90 227.27a1.16 1.16 0 1 0 2.32 0a1.16 1.16 0 1 0 -2.32 0M347.00 231.84a1.16 1.16 0 1 0 2.32 0a1.16 1.16 0 1 0 -2.32 0M347.00 234.12a1.16 1.16 0 1 0 2.32 0a1.16 1.16 0 1 0 -2.32 0M349.30 234.12a1.16 1.16 0 1 0 2.32 0a1.16 1.16 0 1 0 -2.32 0M347.00 236.41a1.16 1.16 0 1 0 2.32 0a1.16 1.16 0 1 0 -2.32 0M349.30 236.41a1.16 1.16 0 1 0 2.32 0a1.16 1.16 0 1 0 -2.32 0M351.60 236.41a1.16 1.16 0 1 0 2.32 0a1.16 1.16 0 1 0 -2.32 0M353.90 236.41a1.16 1.16 0 1 0 2.32 0a1.16 1.16 0 1 0 -2.32 0M347.00 238.69a1.16 1.16 0 1 0 2.32 0a1.16 1.16 0 1 0 -2.32 0M349.30 238.69a1.16 1.16 0 1 0 2.32 0a1.16 1.16 0 1 0 -2.32 0M347.00 240.98a1.16 1.16 0 1 0 2.32 0a1.16 1.16 0 1 0 -2.32 0M349.30 240.98a1.16 1.16 0 1 0 2.32 0a1.16 1.16 0 1 0 -2.32 0M349.30 243.26a1.16 1.16 0 1 0 2.32 0a1.16 1.16 0 1 0 -2.32 0M351.60 243.26a1.16 1.16 0 1 0 2.32 0a1.16 1.16 0 1 0 -2.32 0M353.90 243.26a1.16 1.16 0 1 0 2.32 0a1.16 1.16 0 1 0 -2.32 0M356.20 243.26a1.16 1.16 0 1 0 2.32 0a1.16 1.16 0 1 0 -2.32 0M358.50 243.26a1.16 1.16 0 1 0 2.32 0a1.16 1.16 0 1 0 -2.32 0M360.80 243.26a1.16 1.16 0 1 0 2.32 0a1.16 1.16 0 1 0 -2.32 0M347.00 245.55a1.16 1.16 0 1 0 2.32 0a1.16 1.16 0 1 0 -2.32 0M349.30 245.55a1.16 1.16 0 1 0 2.32 0a1.16 1.16 0 1 0 -2.32 0M351.60 245.55a1.16 1.16 0 1 0 2.32 0a1.16 1.16 0 1 0 -2.32 0M353.90 245.55a1.16 1.16 0 1 0 2.32 0a1.16 1.16 0 1 0 -2.32 0M356.20 245.55a1.16 1.16 0 1 0 2.32 0a1.16 1.16 0 1 0 -2.32 0M358.50 245.55a1.16 1.16 0 1 0 2.32 0a1.16 1.16 0 1 0 -2.32 0M347.00 247.83a1.16 1.16 0 1 0 2.32 0a1.16 1.16 0 1 0 -2.32 0M349.30 247.83a1.16 1.16 0 1 0 2.32 0a1.16 1.16 0 1 0 -2.32 0M347.00 250.12a1.16 1.16 0 1 0 2.32 0a1.16 1.16 0 1 0 -2.32 0M349.30 250.12a1.16 1.16 0 1 0 2.32 0a1.16 1.16 0 1 0 -2.32 0M349.30 252.40a1.16 1.16 0 1 0 2.32 0a1.16 1.16 0 1 0 -2.32 0M351.60 252.40a1.16 1.16 0 1 0 2.32 0a1.16 1.16 0 1 0 -2.32 0M347.00 254.68a1.16 1.16 0 1 0 2.32 0a1.16 1.16 0 1 0 -2.32 0M349.30 254.68a1.16 1.16 0 1 0 2.32 0a1.16 1.16 0 1 0 -2.32 0M351.60 254.68a1.16 1.16 0 1 0 2.32 0a1.16 1.16 0 1 0 -2.32 0M347.00 256.97a1.16 1.16 0 1 0 2.32 0a1.16 1.16 0 1 0 -2.32 0M349.30 256.97a1.16 1.16 0 1 0 2.32 0a1.16 1.16 0 1 0 -2.32 0M351.60 256.97a1.16 1.16 0 1 0 2.32 0a1.16 1.16 0 1 0 -2.32 0M353.90 256.97a1.16 1.16 0 1 0 2.32 0a1.16 1.16 0 1 0 -2.32 0M356.20 256.97a1.16 1.16 0 1 0 2.32 0a1.16 1.16 0 1 0 -2.32 0M347.00 259.25a1.16 1.16 0 1 0 2.32 0a1.16 1.16 0 1 0 -2.32 0M349.30 259.25a1.16 1.16 0 1 0 2.32 0a1.16 1.16 0 1 0 -2.32 0M347.00 261.54a1.16 1.16 0 1 0 2.32 0a1.16 1.16 0 1 0 -2.32 0M349.30 261.54a1.16 1.16 0 1 0 2.32 0a1.16 1.16 0 1 0 -2.32 0M351.60 261.54a1.16 1.16 0 1 0 2.32 0a1.16 1.16 0 1 0 -2.32 0M353.90 261.54a1.16 1.16 0 1 0 2.32 0a1.16 1.16 0 1 0 -2.32 0M347.00 263.82a1.16 1.16 0 1 0 2.32 0a1.16 1.16 0 1 0 -2.32 0M349.30 263.82a1.16 1.16 0 1 0 2.32 0a1.16 1.16 0 1 0 -2.32 0M351.60 263.82a1.16 1.16 0 1 0 2.32 0a1.16 1.16 0 1 0 -2.32 0M353.90 263.82a1.16 1.16 0 1 0 2.32 0a1.16 1.16 0 1 0 -2.32 0M356.20 263.82a1.16 1.16 0 1 0 2.32 0a1.16 1.16 0 1 0 -2.32 0M358.50 263.82a1.16 1.16 0 1 0 2.32 0a1.16 1.16 0 1 0 -2.32 0M360.80 263.82a1.16 1.16 0 1 0 2.32 0a1.16 1.16 0 1 0 -2.32 0M363.10 263.82a1.16 1.16 0 1 0 2.32 0a1.16 1.16 0 1 0 -2.32 0M365.40 263.82a1.16 1.16 0 1 0 2.32 0a1.16 1.16 0 1 0 -2.32 0M347.00 266.11a1.16 1.16 0 1 0 2.32 0a1.16 1.16 0 1 0 -2.32 0M349.30 266.11a1.16 1.16 0 1 0 2.32 0a1.16 1.16 0 1 0 -2.32 0M351.60 266.11a1.16 1.16 0 1 0 2.32 0a1.16 1.16 0 1 0 -2.32 0M347.00 268.39a1.16 1.16 0 1 0 2.32 0a1.16 1.16 0 1 0 -2.32 0M349.30 268.39a1.16 1.16 0 1 0 2.32 0a1.16 1.16 0 1 0 -2.32 0M351.60 268.39a1.16 1.16 0 1 0 2.32 0a1.16 1.16 0 1 0 -2.32 0M353.90 268.39a1.16 1.16 0 1 0 2.32 0a1.16 1.16 0 1 0 -2.32 0M356.20 268.39a1.16 1.16 0 1 0 2.32 0a1.16 1.16 0 1 0 -2.32 0M358.50 268.39a1.16 1.16 0 1 0 2.32 0a1.16 1.16 0 1 0 -2.32 0M360.80 268.39a1.16 1.16 0 1 0 2.32 0a1.16 1.16 0 1 0 -2.32 0M347.00 270.68a1.16 1.16 0 1 0 2.32 0a1.16 1.16 0 1 0 -2.32 0M349.30 270.68a1.16 1.16 0 1 0 2.32 0a1.16 1.16 0 1 0 -2.32 0M347.00 272.96a1.16 1.16 0 1 0 2.32 0a1.16 1.16 0 1 0 -2.32 0M349.30 272.96a1.16 1.16 0 1 0 2.32 0a1.16 1.16 0 1 0 -2.32 0M351.60 272.96a1.16 1.16 0 1 0 2.32 0a1.16 1.16 0 1 0 -2.32 0M353.90 272.96a1.16 1.16 0 1 0 2.32 0a1.16 1.16 0 1 0 -2.32 0M356.20 272.96a1.16 1.16 0 1 0 2.32 0a1.16 1.16 0 1 0 -2.32 0M358.50 272.96a1.16 1.16 0 1 0 2.32 0a1.16 1.16 0 1 0 -2.32 0M360.80 272.96a1.16 1.16 0 1 0 2.32 0a1.16 1.16 0 1 0 -2.32 0M363.10 272.96a1.16 1.16 0 1 0 2.32 0a1.16 1.16 0 1 0 -2.32 0M365.40 272.96a1.16 1.16 0 1 0 2.32 0a1.16 1.16 0 1 0 -2.32 0M367.70 272.96a1.16 1.16 0 1 0 2.32 0a1.16 1.16 0 1 0 -2.32 0M370.00 272.96a1.16 1.16 0 1 0 2.32 0a1.16 1.16 0 1 0 -2.32 0M347.00 275.25a1.16 1.16 0 1 0 2.32 0a1.16 1.16 0 1 0 -2.32 0M349.30 275.25a1.16 1.16 0 1 0 2.32 0a1.16 1.16 0 1 0 -2.32 0M351.60 275.25a1.16 1.16 0 1 0 2.32 0a1.16 1.16 0 1 0 -2.32 0M353.90 275.25a1.16 1.16 0 1 0 2.32 0a1.16 1.16 0 1 0 -2.32 0M356.20 275.25a1.16 1.16 0 1 0 2.32 0a1.16 1.16 0 1 0 -2.32 0M358.50 275.25a1.16 1.16 0 1 0 2.32 0a1.16 1.16 0 1 0 -2.32 0M360.80 275.25a1.16 1.16 0 1 0 2.32 0a1.16 1.16 0 1 0 -2.32 0M363.10 275.25a1.16 1.16 0 1 0 2.32 0a1.16 1.16 0 1 0 -2.32 0M347.00 277.53a1.16 1.16 0 1 0 2.32 0a1.16 1.16 0 1 0 -2.32 0M349.30 277.53a1.16 1.16 0 1 0 2.32 0a1.16 1.16 0 1 0 -2.32 0M347.00 279.82a1.16 1.16 0 1 0 2.32 0a1.16 1.16 0 1 0 -2.32 0M349.30 279.82a1.16 1.16 0 1 0 2.32 0a1.16 1.16 0 1 0 -2.32 0M351.60 279.82a1.16 1.16 0 1 0 2.32 0a1.16 1.16 0 1 0 -2.32 0M353.90 279.82a1.16 1.16 0 1 0 2.32 0a1.16 1.16 0 1 0 -2.32 0M356.20 279.82a1.16 1.16 0 1 0 2.32 0a1.16 1.16 0 1 0 -2.32 0M358.50 279.82a1.16 1.16 0 1 0 2.32 0a1.16 1.16 0 1 0 -2.32 0M347.00 282.10a1.16 1.16 0 1 0 2.32 0a1.16 1.16 0 1 0 -2.32 0M347.00 284.39a1.16 1.16 0 1 0 2.32 0a1.16 1.16 0 1 0 -2.32 0M349.30 284.39a1.16 1.16 0 1 0 2.32 0a1.16 1.16 0 1 0 -2.32 0M351.60 284.39a1.16 1.16 0 1 0 2.32 0a1.16 1.16 0 1 0 -2.32 0M347.00 286.67a1.16 1.16 0 1 0 2.32 0a1.16 1.16 0 1 0 -2.32 0M349.30 286.67a1.16 1.16 0 1 0 2.32 0a1.16 1.16 0 1 0 -2.32 0M351.60 286.67a1.16 1.16 0 1 0 2.32 0a1.16 1.16 0 1 0 -2.32 0M353.90 286.67a1.16 1.16 0 1 0 2.32 0a1.16 1.16 0 1 0 -2.32 0M356.20 286.67a1.16 1.16 0 1 0 2.32 0a1.16 1.16 0 1 0 -2.32 0M347.00 288.96a1.16 1.16 0 1 0 2.32 0a1.16 1.16 0 1 0 -2.32 0M349.30 288.96a1.16 1.16 0 1 0 2.32 0a1.16 1.16 0 1 0 -2.32 0M351.60 288.96a1.16 1.16 0 1 0 2.32 0a1.16 1.16 0 1 0 -2.32 0M353.90 288.96a1.16 1.16 0 1 0 2.32 0a1.16 1.16 0 1 0 -2.32 0M356.20 288.96a1.16 1.16 0 1 0 2.32 0a1.16 1.16 0 1 0 -2.32 0M358.50 288.96a1.16 1.16 0 1 0 2.32 0a1.16 1.16 0 1 0 -2.32 0M347.00 291.24a1.16 1.16 0 1 0 2.32 0a1.16 1.16 0 1 0 -2.32 0M349.30 291.24a1.16 1.16 0 1 0 2.32 0a1.16 1.16 0 1 0 -2.32 0M347.00 293.53a1.16 1.16 0 1 0 2.32 0a1.16 1.16 0 1 0 -2.32 0M349.30 293.53a1.16 1.16 0 1 0 2.32 0a1.16 1.16 0 1 0 -2.32 0M351.60 293.53a1.16 1.16 0 1 0 2.32 0a1.16 1.16 0 1 0 -2.32 0M353.90 293.53a1.16 1.16 0 1 0 2.32 0a1.16 1.16 0 1 0 -2.32 0M351.60 295.81a1.16 1.16 0 1 0 2.32 0a1.16 1.16 0 1 0 -2.32 0M353.90 295.81a1.16 1.16 0 1 0 2.32 0a1.16 1.16 0 1 0 -2.32 0M356.20 295.81a1.16 1.16 0 1 0 2.32 0a1.16 1.16 0 1 0 -2.32 0M347.00 298.10a1.16 1.16 0 1 0 2.32 0a1.16 1.16 0 1 0 -2.32 0M349.30 298.10a1.16 1.16 0 1 0 2.32 0a1.16 1.16 0 1 0 -2.32 0M351.60 298.10a1.16 1.16 0 1 0 2.32 0a1.16 1.16 0 1 0 -2.32 0M353.90 298.10a1.16 1.16 0 1 0 2.32 0a1.16 1.16 0 1 0 -2.32 0M347.00 300.38a1.16 1.16 0 1 0 2.32 0a1.16 1.16 0 1 0 -2.32 0M349.30 300.38a1.16 1.16 0 1 0 2.32 0a1.16 1.16 0 1 0 -2.32 0M351.60 300.38a1.16 1.16 0 1 0 2.32 0a1.16 1.16 0 1 0 -2.32 0M353.90 300.38a1.16 1.16 0 1 0 2.32 0a1.16 1.16 0 1 0 -2.32 0M347.00 302.67a1.16 1.16 0 1 0 2.32 0a1.16 1.16 0 1 0 -2.32 0M349.30 302.67a1.16 1.16 0 1 0 2.32 0a1.16 1.16 0 1 0 -2.32 0M351.60 302.67a1.16 1.16 0 1 0 2.32 0a1.16 1.16 0 1 0 -2.32 0M353.90 302.67a1.16 1.16 0 1 0 2.32 0a1.16 1.16 0 1 0 -2.32 0M356.20 302.67a1.16 1.16 0 1 0 2.32 0a1.16 1.16 0 1 0 -2.32 0M358.50 302.67a1.16 1.16 0 1 0 2.32 0a1.16 1.16 0 1 0 -2.32 0M347.00 304.95a1.16 1.16 0 1 0 2.32 0a1.16 1.16 0 1 0 -2.32 0M349.30 304.95a1.16 1.16 0 1 0 2.32 0a1.16 1.16 0 1 0 -2.32 0M351.60 304.95a1.16 1.16 0 1 0 2.32 0a1.16 1.16 0 1 0 -2.32 0M353.90 304.95a1.16 1.16 0 1 0 2.32 0a1.16 1.16 0 1 0 -2.32 0M347.00 307.24a1.16 1.16 0 1 0 2.32 0a1.16 1.16 0 1 0 -2.32 0M349.30 307.24a1.16 1.16 0 1 0 2.32 0a1.16 1.16 0 1 0 -2.32 0M351.60 307.24a1.16 1.16 0 1 0 2.32 0a1.16 1.16 0 1 0 -2.32 0M353.90 307.24a1.16 1.16 0 1 0 2.32 0a1.16 1.16 0 1 0 -2.32 0M356.20 307.24a1.16 1.16 0 1 0 2.32 0a1.16 1.16 0 1 0 -2.32 0M358.50 307.24a1.16 1.16 0 1 0 2.32 0a1.16 1.16 0 1 0 -2.32 0M360.80 307.24a1.16 1.16 0 1 0 2.32 0a1.16 1.16 0 1 0 -2.32 0M363.10 307.24a1.16 1.16 0 1 0 2.32 0a1.16 1.16 0 1 0 -2.32 0M365.40 307.24a1.16 1.16 0 1 0 2.32 0a1.16 1.16 0 1 0 -2.32 0M347.00 309.52a1.16 1.16 0 1 0 2.32 0a1.16 1.16 0 1 0 -2.32 0M349.30 309.52a1.16 1.16 0 1 0 2.32 0a1.16 1.16 0 1 0 -2.32 0M351.60 309.52a1.16 1.16 0 1 0 2.32 0a1.16 1.16 0 1 0 -2.32 0M347.00 311.81a1.16 1.16 0 1 0 2.32 0a1.16 1.16 0 1 0 -2.32 0M349.30 311.81a1.16 1.16 0 1 0 2.32 0a1.16 1.16 0 1 0 -2.32 0M351.60 311.81a1.16 1.16 0 1 0 2.32 0a1.16 1.16 0 1 0 -2.32 0M353.90 311.81a1.16 1.16 0 1 0 2.32 0a1.16 1.16 0 1 0 -2.32 0M347.00 314.09a1.16 1.16 0 1 0 2.32 0a1.16 1.16 0 1 0 -2.32 0M347.00 316.38a1.16 1.16 0 1 0 2.32 0a1.16 1.16 0 1 0 -2.32 0M349.30 316.38a1.16 1.16 0 1 0 2.32 0a1.16 1.16 0 1 0 -2.32 0M347.00 318.66a1.16 1.16 0 1 0 2.32 0a1.16 1.16 0 1 0 -2.32 0M349.30 318.66a1.16 1.16 0 1 0 2.32 0a1.16 1.16 0 1 0 -2.32 0M347.00 320.95a1.16 1.16 0 1 0 2.32 0a1.16 1.16 0 1 0 -2.32 0M349.30 323.23a1.16 1.16 0 1 0 2.32 0a1.16 1.16 0 1 0 -2.32 0M349.30 325.52a1.16 1.16 0 1 0 2.32 0a1.16 1.16 0 1 0 -2.32 0M351.60 325.52a1.16 1.16 0 1 0 2.32 0a1.16 1.16 0 1 0 -2.32 0M353.90 325.52a1.16 1.16 0 1 0 2.32 0a1.16 1.16 0 1 0 -2.32 0M356.20 325.52a1.16 1.16 0 1 0 2.32 0a1.16 1.16 0 1 0 -2.32 0M358.50 325.52a1.16 1.16 0 1 0 2.32 0a1.16 1.16 0 1 0 -2.32 0M360.80 325.52a1.16 1.16 0 1 0 2.32 0a1.16 1.16 0 1 0 -2.32 0M363.10 325.52a1.16 1.16 0 1 0 2.32 0a1.16 1.16 0 1 0 -2.32 0M365.40 325.52a1.16 1.16 0 1 0 2.32 0a1.16 1.16 0 1 0 -2.32 0M367.70 325.52a1.16 1.16 0 1 0 2.32 0a1.16 1.16 0 1 0 -2.32 0M370.00 325.52a1.16 1.16 0 1 0 2.32 0a1.16 1.16 0 1 0 -2.32 0M372.30 325.52a1.16 1.16 0 1 0 2.32 0a1.16 1.16 0 1 0 -2.32 0M374.60 325.52a1.16 1.16 0 1 0 2.32 0a1.16 1.16 0 1 0 -2.32 0M376.90 325.52a1.16 1.16 0 1 0 2.32 0a1.16 1.16 0 1 0 -2.32 0M379.20 325.52a1.16 1.16 0 1 0 2.32 0a1.16 1.16 0 1 0 -2.32 0" fill="#8AA4EE"/>
<path d="M346.97 177.00a1.19 1.19 0 1 0 2.38 0a1.19 1.19 0 1 0 -2.38 0M346.97 179.28a1.19 1.19 0 1 0 2.38 0a1.19 1.19 0 1 0 -2.38 0M346.97 181.57a1.19 1.19 0 1 0 2.38 0a1.19 1.19 0 1 0 -2.38 0M346.97 188.42a1.19 1.19 0 1 0 2.38 0a1.19 1.19 0 1 0 -2.38 0M349.27 188.42a1.19 1.19 0 1 0 2.38 0a1.19 1.19 0 1 0 -2.38 0M346.97 208.99a1.19 1.19 0 1 0 2.38 0a1.19 1.19 0 1 0 -2.38 0M346.97 211.27a1.19 1.19 0 1 0 2.38 0a1.19 1.19 0 1 0 -2.38 0M346.97 243.26a1.19 1.19 0 1 0 2.38 0a1.19 1.19 0 1 0 -2.38 0M346.97 252.40a1.19 1.19 0 1 0 2.38 0a1.19 1.19 0 1 0 -2.38 0M346.97 295.81a1.19 1.19 0 1 0 2.38 0a1.19 1.19 0 1 0 -2.38 0M349.27 295.81a1.19 1.19 0 1 0 2.38 0a1.19 1.19 0 1 0 -2.38 0M346.97 323.23a1.19 1.19 0 1 0 2.38 0a1.19 1.19 0 1 0 -2.38 0M346.97 325.52a1.19 1.19 0 1 0 2.38 0a1.19 1.19 0 1 0 -2.38 0M346.97 327.80a1.19 1.19 0 1 0 2.38 0a1.19 1.19 0 1 0 -2.38 0M349.27 327.80a1.19 1.19 0 1 0 2.38 0a1.19 1.19 0 1 0 -2.38 0M351.57 327.80a1.19 1.19 0 1 0 2.38 0a1.19 1.19 0 1 0 -2.38 0M353.87 327.80a1.19 1.19 0 1 0 2.38 0a1.19 1.19 0 1 0 -2.38 0M356.17 327.80a1.19 1.19 0 1 0 2.38 0a1.19 1.19 0 1 0 -2.38 0" fill="#E74251"/>
<text x="383.2" y="211.0" text-anchor="middle" font-size="10">12</text>
<path d="M397.20 145.93L406.70 48.30M397.20 146.31L406.70 50.58M397.20 147.93L406.70 52.87M397.20 151.61L406.70 55.15M397.20 151.86L406.70 57.43M397.20 156.51L406.70 59.72M397.20 157.97L406.70 62.00M397.20 159.26L406.70 64.28M397.20 159.71L406.70 66.57M397.20 159.74L406.70 68.85M397.20 159.76L406.70 71.13M397.20 161.23L406.70 73.42M397.20 163.11L406.70 75.70M397.20 168.97L406.70 77.99M397.20 169.08L406.70 80.27M397.20 171.61L406.70 82.55M397.20 173.24L406.70 84.84M397.20 174.99L406.70 87.12M397.20 175.07L406.70 89.40M397.20 175.77L406.70 91.69M397.20 176.33L406.70 93.97M397.20 181.28L406.70 96.25M397.20 184.38L406.70 98.54M397.20 184.47L406.70 100.82M397.20 184.61L406.70 103.10M397.20 190.21L406.70 105.39M397.20 190.29L406.70 107.67M397.20 190.61L406.70 109.95M397.20 192.66L406.70 112.24M397.20 193.55L406.70 114.52M397.20 194.47L406.70 116.80M397.20 194.48L406.70 119.09M397.20 194.67L406.70 121.37M397.20 195.08L406.70 123.66M397.20 195.65L406.70 125.94M397.20 196.62L406.70 128.22M397.20 197.03L406.70 130.51M397.20 197.60L406.70 132.79M397.20 199.03L406.70 135.07M397.20 199.92L406.70 137.36M397.20 200.75L406.70 139.64M397.20 200.75L406.70 141.92M397.20 201.00L406.70 144.21M397.20 201.35L406.70 146.49M397.20 202.52L406.70 148.77M397.20 204.71L406.70 151.06M397.20 204.81L406.70 153.34M397.20 207.94L406.70 155.62M397.20 209.26L406.70 157.91M397.20 210.43L406.70 160.19M397.20 211.67L406.70 162.47M397.20 212.28L406.70 164.76M397.20 212.51L406.70 167.04M397.20 214.28L406.70 169.33M397.20 215.15L406.70 171.61M397.20 216.07L406.70 173.89M397.20 220.35L406.70 176.18M397.20 221.02L406.70 178.46M397.20 221.21L406.70 180.74M397.20 221.58L406.70 183.03M397.20 222.48L406.70 185.31M397.20 222.58L406.70 187.59M397.20 223.17L406.70 189.88M397.20 223.27L406.70 192.16M397.20 223.42L406.70 194.44M397.20 226.79L406.70 196.73M397.20 228.23L406.70 199.01M397.20 228.59L406.70 201.29M397.20 229.60L406.70 203.58M397.20 229.62L406.70 205.86M397.20 230.86L406.70 208.14M397.20 231.26L406.70 210.43M397.20 232.47L406.70 212.71M397.20 232.94L406.70 215.00M397.20 234.66L406.70 217.28M397.20 235.31L406.70 219.56M397.20 236.86L406.70 221.85M397.20 237.36L406.70 224.13M397.20 238.02L406.70 226.41M397.20 238.36L406.70 228.70M397.20 239.76L406.70 230.98M397.20 240.02L406.70 233.26M397.20 240.20L406.70 235.55M397.20 240.26L406.70 237.83M397.20 240.34L406.70 240.11M397.20 241.50L406.70 242.40M397.20 243.84L406.70 244.68M397.20 244.71L406.70 246.96M397.20 245.47L406.70 249.25M397.20 247.27L406.70 253.81M397.20 249.44L406.70 256.10M397.20 250.17L406.70 258.38M397.20 251.39L406.70 260.67M397.20 251.89L406.70 262.95M397.20 255.06L406.70 265.23M397.20 256.04L406.70 267.52M397.20 256.38L406.70 269.80M397.20 262.64L406.70 272.08M397.20 263.53L406.70 274.37M397.20 263.64L406.70 276.65M397.20 265.29L406.70 278.93M397.20 266.48L406.70 281.22M397.20 266.74L406.70 283.50" stroke="#000" stroke-width="0.5" fill="none"/>
<rect x="393.2" y="144" width="3.40" height="126.00" rx="1.70" fill="#dadada"/>
<path d="M393.20 147.20h3.40v0.90h-3.40zM393.20 152.50h3.40v1.40h-3.40zM393.20 177.25h3.40v1.10h-3.40zM393.20 194.90h3.40v0.90h-3.40zM393.20 198.35h3.40v1.10h-3.40zM393.20 202.40h3.40v0.50h-3.40zM393.20 203.35h3.40v0.70h-3.40zM393.20 210.60h3.40v1.10h-3.40zM393.20 214.80h3.40v1.40h-3.40zM393.20 219.90h3.40v0.90h-3.40zM393.20 240.10h3.40v0.50h-3.40zM393.20 256.95h3.40v1.40h-3.40z" fill="#444"/>
<path d="M393.20 148.40h3.40v1.40h-3.40zM393.20 154.50h3.40v1.10h-3.40zM393.20 170.50h3.40v0.90h-3.40zM393.20 172.40h3.40v1.10h-3.40zM393.20 185.15h3.40v1.40h-3.40zM393.20 186.85h3.40v1.80h-3.40zM393.20 189.10h3.40v0.50h-3.40zM393.20 190.60h3.40v0.90h-3.40zM393.20 199.90h3.40v0.50h-3.40zM393.20 208.90h3.40v1.10h-3.40zM393.20 212.00h3.40v0.90h-3.40zM393.20 241.40h3.40v0.50h-3.40zM393.20 248.60h3.40v0.70h-3.40zM393.20 254.85h3.40v1.80h-3.40zM393.20 265.25h3.40v1.55h-3.40z" fill="#7a7a7a"/>
<path d="M393.20 150.40h3.40v1.10h-3.40zM393.20 161.10h3.40v0.90h-3.40zM393.20 179.15h3.40v0.70h-3.40zM393.20 192.30h3.40v1.80h-3.40zM393.20 197.05h3.40v0.70h-3.40zM393.20 206.50h3.40v1.40h-3.40zM393.20 226.20h3.40v0.70h-3.40zM393.20 232.20h3.40v0.70h-3.40zM393.20 233.20h3.40v1.10h-3.40zM393.20 245.50h3.40v1.10h-3.40zM393.20 247.20h3.40v1.10h-3.40zM393.20 252.35h3.40v0.50h-3.40zM393.20 259.15h3.40v1.80h-3.40z" fill="#000"/>
<path d="M393.20 156.20h3.40v0.70h-3.40zM393.20 162.45h3.40v1.80h-3.40zM393.20 174.30h3.40v0.50h-3.40zM393.20 182.35h3.40v1.80h-3.40zM393.20 213.70h3.40v0.50h-3.40zM393.20 227.35h3.40v0.70h-3.40zM393.20 263.35h3.40v1.10h-3.40z" fill="#5e5e5e"/>
<path d="M393.20 157.90h3.40v0.70h-3.40zM393.20 159.40h3.40v1.40h-3.40zM393.20 168.05h3.40v0.50h-3.40zM393.20 169.00h3.40v0.90h-3.40zM393.20 175.25h3.40v1.40h-3.40zM393.20 180.85h3.40v0.50h-3.40zM393.20 201.20h3.40v0.90h-3.40zM393.20 216.50h3.40v0.90h-3.40zM393.20 218.40h3.40v0.90h-3.40zM393.20 221.80h3.40v0.50h-3.40zM393.20 230.70h3.40v0.50h-3.40zM393.20 234.90h3.40v1.40h-3.40zM393.20 237.30h3.40v1.80h-3.40zM393.20 242.70h3.40v1.80h-3.40zM393.20 250.10h3.40v0.70h-3.40zM393.20 253.15h3.40v0.90h-3.40zM393.20 261.25h3.40v1.80h-3.40z" fill="#111"/>
<path d="M393.20 165.25h3.40v1.80h-3.40zM393.20 196.10h3.40v0.50h-3.40zM393.20 204.65h3.40v1.40h-3.40zM393.20 222.60h3.40v1.10h-3.40zM393.20 224.50h3.40v0.70h-3.40zM393.20 228.35h3.40v0.50h-3.40zM393.20 229.30h3.40v1.10h-3.40zM393.20 251.25h3.40v0.50h-3.40z" fill="#2a2a2a"/>
<ellipse cx="394.90" cy="145.50" rx="1.70" ry="1.5" fill="#000"/>
<ellipse cx="394.90" cy="268.50" rx="1.70" ry="1.5" fill="#000"/>
<path d="M409.30 52.87a1.16 1.16 0 1 0 2.32 0a1.16 1.16 0 1 0 -2.32 0M411.60 52.87a1.16 1.16 0 1 0 2.32 0a1.16 1.16 0 1 0 -2.32 0M413.90 52.87a1.16 1.16 0 1 0 2.32 0a1.16 1.16 0 1 0 -2.32 0M416.20 52.87a1.16 1.16 0 1 0 2.32 0a1.16 1.16 0 1 0 -2.32 0M411.60 57.43a1.16 1.16 0 1 0 2.32 0a1.16 1.16 0 1 0 -2.32 0M413.90 57.43a1.16 1.16 0 1 0 2.32 0a1.16 1.16 0 1 0 -2.32 0M409.30 62.00a1.16 1.16 0 1 0 2.32 0a1.16 1.16 0 1 0 -2.32 0M411.60 62.00a1.16 1.16 0 1 0 2.32 0a1.16 1.16 0 1 0 -2.32 0M409.30 64.28a1.16 1.16 0 1 0 2.32 0a1.16 1.16 0 1 0 -2.32 0M411.60 64.28a1.16 1.16 0 1 0 2.32 0a1.16 1.16 0 1 0 -2.32 0M413.90 64.28a1.16 1.16 0 1 0 2.32 0a1.16 1.16 0 1 0 -2.32 0M416.20 64.28a1.16 1.16 0 1 0 2.32 0a1.16 1.16 0 1 0 -2.32 0M418.50 64.28a1.16 1.16 0 1 0 2.32 0a1.16 1.16 0 1 0 -2.32 0M420.80 64.28a1.16 1.16 0 1 0 2.32 0a1.16 1.16 0 1 0 -2.32 0M423.10 64.28a1.16 1.16 0 1 0 2.32 0a1.16 1.16 0 1 0 -2.32 0M425.40 64.28a1.16 1.16 0 1 0 2.32 0a1.16 1.16 0 1 0 -2.32 0M409.30 66.57a1.16 1.16 0 1 0 2.32 0a1.16 1.16 0 1 0 -2.32 0M411.60 66.57a1.16 1.16 0 1 0 2.32 0a1.16 1.16 0 1 0 -2.32 0M413.90 66.57a1.16 1.16 0 1 0 2.32 0a1.16 1.16 0 1 0 -2.32 0M416.20 66.57a1.16 1.16 0 1 0 2.32 0a1.16 1.16 0 1 0 -2.32 0M418.50 66.57a1.16 1.16 0 1 0 2.32 0a1.16 1.16 0 1 0 -2.32 0M420.80 66.57a1.16 1.16 0 1 0 2.32 0a1.16 1.16 0 1 0 -2.32 0M423.10 66.57a1.16 1.16 0 1 0 2.32 0a1.16 1.16 0 1 0 -2.32 0M425.40 66.57a1.16 1.16 0 1 0 2.32 0a1.16 1.16 0 1 0 -2.32 0M409.30 68.85a1.16 1.16 0 1 0 2.32 0a1.16 1.16 0 1 0 -2.32 0M411.60 68.85a1.16 1.16 0 1 0 2.32 0a1.16 1.16 0 1 0 -2.32 0M413.90 68.85a1.16 1.16 0 1 0 2.32 0a1.16 1.16 0 1 0 -2.32 0M416.20 68.85a1.16 1.16 0 1 0 2.32 0a1.16 1.16 0 1 0 -2.32 0M418.50 68.85a1.16 1.16 0 1 0 2.32 0a1.16 1.16 0 1 0 -2.32 0M420.80 68.85a1.16 1.16 0 1 0 2.32 0a1.16 1.16 0 1 0 -2.32 0M416.20 71.13a1.16 1.16 0 1 0 2.32 0a1.16 1.16 0 1 0 -2.32 0M418.50 71.13a1.16 1.16 0 1 0 2.32 0a1.16 1.16 0 1 0 -2.32 0M420.80 71.13a1.16 1.16 0 1 0 2.32 0a1.16 1.16 0 1 0 -2.32 0M423.10 71.13a1.16 1.16 0 1 0 2.32 0a1.16 1.16 0 1 0 -2.32 0M425.40 71.13a1.16 1.16 0 1 0 2.32 0a1.16 1.16 0 1 0 -2.32 0M427.70 71.13a1.16 1.16 0 1 0 2.32 0a1.16 1.16 0 1 0 -2.32 0M430.00 71.13a1.16 1.16 0 1 0 2.32 0a1.16 1.16 0 1 0 -2.32 0M432.30 71.13a1.16 1.16 0 1 0 2.32 0a1.16 1.16 0 1 0 -2.32 0M409.30 75.70a1.16 1.16 0 1 0 2.32 0a1.16 1.16 0 1 0 -2.32 0M411.60 75.70a1.16 1.16 0 1 0 2.32 0a1.16 1.16 0 1 0 -2.32 0M413.90 75.70a1.16 1.16 0 1 0 2.32 0a1.16 1.16 0 1 0 -2.32 0M416.20 75.70a1.16 1.16 0 1 0 2.32 0a1.16 1.16 0 1 0 -2.32 0M418.50 75.70a1.16 1.16 0 1 0 2.32 0a1.16 1.16 0 1 0 -2.32 0M420.80 75.70a1.16 1.16 0 1 0 2.32 0a1.16 1.16 0 1 0 -2.32 0M423.10 75.70a1.16 1.16 0 1 0 2.32 0a1.16 1.16 0 1 0 -2.32 0M409.30 80.27a1.16 1.16 0 1 0 2.32 0a1.16 1.16 0 1 0 -2.32 0M411.60 80.27a1.16 1.16 0 1 0 2.32 0a1.16 1.16 0 1 0 -2.32 0M413.90 80.27a1.16 1.16 0 1 0 2.32 0a1.16 1.16 0 1 0 -2.32 0M409.30 82.55a1.16 1.16 0 1 0 2.32 0a1.16 1.16 0 1 0 -2.32 0M411.60 82.55a1.16 1.16 0 1 0 2.32 0a1.16 1.16 0 1 0 -2.32 0M409.30 84.84a1.16 1.16 0 1 0 2.32 0a1.16 1.16 0 1 0 -2.32 0M409.30 87.12a1.16 1.16 0 1 0 2.32 0a1.16 1.16 0 1 0 -2.32 0M411.60 87.12a1.16 1.16 0 1 0 2.32 0a1.16 1.16 0 1 0 -2.32 0M413.90 87.12a1.16 1.16 0 1 0 2.32 0a1.16 1.16 0 1 0 -2.32 0M409.30 89.40a1.16 1.16 0 1 0 2.32 0a1.16 1.16 0 1 0 -2.32 0M409.30 91.69a1.16 1.16 0 1 0 2.32 0a1.16 1.16 0 1 0 -2.32 0M411.60 91.69a1.16 1.16 0 1 0 2.32 0a1.16 1.16 0 1 0 -2.32 0M413.90 91.69a1.16 1.16 0 1 0 2.32 0a1.16 1.16 0 1 0 -2.32 0M409.30 93.97a1.16 1.16 0 1 0 2.32 0a1.16 1.16 0 1 0 -2.32 0M411.60 93.97a1.16 1.16 0 1 0 2.32 0a1.16 1.16 0 1 0 -2.32 0M413.90 93.97a1.16 1.16 0 1 0 2.32 0a1.16 1.16 0 1 0 -2.32 0M416.20 93.97a1.16 1.16 0 1 0 2.32 0a1.16 1.16 0 1 0 -2.32 0M409.30 96.25a1.16 1.16 0 1 0 2.32 0a1.16 1.16 0 1 0 -2.32 0M411.60 96.25a1.16 1.16 0 1 0 2.32 0a1.16 1.16 0 1 0 -2.32 0M409.30 98.54a1.16 1.16 0 1 0 2.32 0a1.16 1.16 0 1 0 -2.32 0M411.60 98.54a1.16 1.16 0 1 0 2.32 0a1.16 1.16 0 1 0 -2.32 0M413.90 98.54a1.16 1.16 0 1 0 2.32 0a1.16 1.16 0 1 0 -2.32 0M411.60 100.82a1.16 1.16 0 1 0 2.32 0a1.16 1.16 0 1 0 -2.32 0M409.30 103.10a1.16 1.16 0 1 0 2.32 0a1.16 1.16 0 1 0 -2.32 0M411.60 103.10a1.16 1.16 0 1 0 2.32 0a1.16 1.16 0 1 0 -2.32 0M411.60 105.39a1.16 1.16 0 1 0 2.32 0a1.16 1.16 0 1 0 -2.32 0M413.90 105.39a1.16 1.16 0 1 0 2.32 0a1.16 1.16 0 1 0 -2.32 0M416.20 105.39a1.16 1.16 0 1 0 2.32 0a1.16 1.16 0 1 0 -2.32 0M411.60 107.67a1.16 1.16 0 1 0 2.32 0a1.16 1.16 0 1 0 -2.32 0M413.90 107.67a1.16 1.16 0 1 0 2.32 0a1.16 1.16 0 1 0 -2.32 0M416.20 107.67a1.16 1.16 0 1 0 2.32 0a1.16 1.16 0 1 0 -2.32 0M418.50 107.67a1.16 1.16 0 1 0 2.32 0a1.16 1.16 0 1 0 -2.32 0M420.80 107.67a1.16 1.16 0 1 0 2.32 0a1.16 1.16 0 1 0 -2.32 0M409.30 112.24a1.16 1.16 0 1 0 2.32 0a1.16 1.16 0 1 0 -2.32 0M409.30 114.52a1.16 1.16 0 1 0 2.32 0a1.16 1.16 0 1 0 -2.32 0M411.60 114.52a1.16 1.16 0 1 0 2.32 0a1.16 1.16 0 1 0 -2.32 0M413.90 114.52a1.16 1.16 0 1 0 2.32 0a1.16 1.16 0 1 0 -2.32 0M416.20 114.52a1.16 1.16 0 1 0 2.32 0a1.16 1.16 0 1 0 -2.32 0M418.50 114.52a1.16 1.16 0 1 0 2.32 0a1.16 1.16 0 1 0 -2.32 0M420.80 114.52a1.16 1.16 0 1 0 2.32 0a1.16 1.16 0 1 0 -2.32 0M409.30 116.80a1.16 1.16 0 1 0 2.32 0a1.16 1.16 0 1 0 -2.32 0M411.60 116.80a1.16 1.16 0 1 0 2.32 0a1.16 1.16 0 1 0 -2.32 0M413.90 116.80a1.16 1.16 0 1 0 2.32 0a1.16 1.16 0 1 0 -2.32 0M416.20 116.80a1.16 1.16 0 1 0 2.32 0a1.16 1.16 0 1 0 -2.32 0M418.50 116.80a1.16 1.16 0 1 0 2.32 0a1.16 1.16 0 1 0 -2.32 0M409.30 119.09a1.16 1.16 0 1 0 2.32 0a1.16 1.16 0 1 0 -2.32 0M411.60 119.09a1.16 1.16 0 1 0 2.32 0a1.16 1.16 0 1 0 -2.32 0M409.30 121.37a1.16 1.16 0 1 0 2.32 0a1.16 1.16 0 1 0 -2.32 0M411.60 121.37a1.16 1.16 0 1 0 2.32 0a1.16 1.16 0 1 0 -2.32 0M409.30 123.66a1.16 1.16 0 1 0 2.32 0a1.16 1.16 0 1 0 -2.32 0M411.60 123.66a1.16 1.16 0 1 0 2.32 0a1.16 1.16 0 1 0 -2.32 0M413.90 123.66a1.16 1.16 0 1 0 2.32 0a1.16 1.16 0 1 0 -2.32 0M416.20 123.66a1.16 1.16 0 1 0 2.32 0a1.16 1.16 0 1 0 -2.32 0M418.50 123.66a1.16 1.16 0 1 0 2.32 0a1.16 1.16 0 1 0 -2.32 0M409.30 125.94a1.16 1.16 0 1 0 2.32 0a1.16 1.16 0 1 0 -2.32 0M409.30 128.22a1.16 1.16 0 1 0 2.32 0a1.16 1.16 0 1 0 -2.32 0M411.60 128.22a1.16 1.16 0 1 0 2.32 0a1.16 1.16 0 1 0 -2.32 0M413.90 128.22a1.16 1.16 0 1 0 2.32 0a1.16 1.16 0 1 0 -2.32 0M416.20 128.22a1.16 1.16 0 1 0 2.32 0a1.16 1.16 0 1 0 -2.32 0M409.30 130.51a1.16 1.16 0 1 0 2.32 0a1.16 1.16 0 1 0 -2.32 0M411.60 130.51a1.16 1.16 0 1 0 2.32 0a1.16 1.16 0 1 0 -2.32 0M413.90 130.51a1.16 1.16 0 1 0 2.32 0a1.16 1.16 0 1 0 -2.32 0M416.20 130.51a1.16 1.16 0 1 0 2.32 0a1.16 1.16 0 1 0 -2.32 0M409.30 132.79a1.16 1.16 0 1 0 2.32 0a1.16 1.16 0 1 0 -2.32 0M409.30 135.07a1.16 1.16 0 1 0 2.32 0a1.16 1.16 0 1 0 -2.32 0M411.60 135.07a1.16 1.16 0 1 0 2.32 0a1.16 1.16 0 1 0 -2.32 0M413.90 135.07a1.16 1.16 0 1 0 2.32 0a1.16 1.16 0 1 0 -2.32 0M416.20 135.07a1.16 1.16 0 1 0 2.32 0a1.16 1.16 0 1 0 -2.32 0M418.50 135.07a1.16 1.16 0 1 0 2.32 0a1.16 1.16 0 1 0 -2.32 0M409.30 137.36a1.16 1.16 0 1 0 2.32 0a1.16 1.16 0 1 0 -2.32 0M411.60 137.36a1.16 1.16 0 1 0 2.32 0a1.16 1.16 0 1 0 -2.32 0M413.90 137.36a1.16 1.16 0 1 0 2.32 0a1.16 1.16 0 1 0 -2.32 0M416.20 137.36a1.16 1.16 0 1 0 2.32 0a1.16 1.16 0 1 0 -2.32 0M409.30 139.64a1.16 1.16 0 1 0 2.32 0a1.16 1.16 0 1 0 -2.32 0M411.60 139.64a1.16 1.16 0 1 0 2.32 0a1.16 1.16 0 1 0 -2.32 0M413.90 139.64a1.16 1.16 0 1 0 2.32 0a1.16 1.16 0 1 0 -2.32 0M416.20 139.64a1.16 1.16 0 1 0 2.32 0a1.16 1.16 0 1 0 -2.32 0M409.30 141.92a1.16 1.16 0 1 0 2.32 0a1.16 1.16 0 1 0 -2.32 0M411.60 141.92a1.16 1.16 0 1 0 2.32 0a1.16 1.16 0 1 0 -2.32 0M409.30 146.49a1.16 1.16 0 1 0 2.32 0a1.16 1.16 0 1 0 -2.32 0M411.60 146.49a1.16 1.16 0 1 0 2.32 0a1.16 1.16 0 1 0 -2.32 0M413.90 146.49a1.16 1.16 0 1 0 2.32 0a1.16 1.16 0 1 0 -2.32 0M416.20 146.49a1.16 1.16 0 1 0 2.32 0a1.16 1.16 0 1 0 -2.32 0M409.30 148.77a1.16 1.16 0 1 0 2.32 0a1.16 1.16 0 1 0 -2.32 0M411.60 148.77a1.16 1.16 0 1 0 2.32 0a1.16 1.16 0 1 0 -2.32 0M413.90 148.77a1.16 1.16 0 1 0 2.32 0a1.16 1.16 0 1 0 -2.32 0M416.20 148.77a1.16 1.16 0 1 0 2.32 0a1.16 1.16 0 1 0 -2.32 0M418.50 148.77a1.16 1.16 0 1 0 2.32 0a1.16 1.16 0 1 0 -2.32 0M420.80 148.77a1.16 1.16 0 1 0 2.32 0a1.16 1.16 0 1 0 -2.32 0M409.30 151.06a1.16 1.16 0 1 0 2.32 0a1.16 1.16 0 1 0 -2.32 0M411.60 151.06a1.16 1.16 0 1 0 2.32 0a1.16 1.16 0 1 0 -2.32 0M409.30 153.34a1.16 1.16 0 1 0 2.32 0a1.16 1.16 0 1 0 -2.32 0M409.30 155.62a1.16 1.16 0 1 0 2.32 0a1.16 1.16 0 1 0 -2.32 0M411.60 155.62a1.16 1.16 0 1 0 2.32 0a1.16 1.16 0 1 0 -2.32 0M413.90 155.62a1.16 1.16 0 1 0 2.32 0a1.16 1.16 0 1 0 -2.32 0M409.30 157.91a1.16 1.16 0 1 0 2.32 0a1.16 1.16 0 1 0 -2.32 0M411.60 157.91a1.16 1.16 0 1 0 2.32 0a1.16 1.16 0 1 0 -2.32 0M413.90 157.91a1.16 1.16 0 1 0 2.32 0a1.16 1.16 0 1 0 -2.32 0M409.30 160.19a1.16 1.16 0 1 0 2.32 0a1.16 1.16 0 1 0 -2.32 0M411.60 160.19a1.16 1.16 0 1 0 2.32 0a1.16 1.16 0 1 0 -2.32 0M413.90 160.19a1.16 1.16 0 1 0 2.32 0a1.16 1.16 0 1 0 -2.32 0M416.20 160.19a1.16 1.16 0 1 0 2.32 0a1.16 1.16 0 1 0 -2.32 0M418.50 160.19a1.16 1.16 0 1 0 2.32 0a1.16 1.16 0 1 0 -2.32 0M420.80 160.19a1.16 1.16 0 1 0 2.32 0a1.16 1.16 0 1 0 -2.32 0M423.10 160.19a1.16 1.16 0 1 0 2.32 0a1.16 1.16 0 1 0 -2.32 0M409.30 162.47a1.16 1.16 0 1 0 2.32 0a1.16 1.16 0 1 0 -2.32 0M409.30 164.76a1.16 1.16 0 1 0 2.32 0a1.16 1.16 0 1 0 -2.32 0M411.60 164.76a1.16 1.16 0 1 0 2.32 0a1.16 1.16 0 1 0 -2.32 0M409.30 167.04a1.16 1.16 0 1 0 2.32 0a1.16 1.16 0 1 0 -2.32 0M411.60 167.04a1.16 1.16 0 1 0 2.32 0a1.16 1.16 0 1 0 -2.32 0M411.60 169.33a1.16 1.16 0 1 0 2.32 0a1.16 1.16 0 1 0 -2.32 0M413.90 169.33a1.16 1.16 0 1 0 2.32 0a1.16 1.16 0 1 0 -2.32 0M416.20 169.33a1.16 1.16 0 1 0 2.32 0a1.16 1.16 0 1 0 -2.32 0M418.50 169.33a1.16 1.16 0 1 0 2.32 0a1.16 1.16 0 1 0 -2.32 0M420.80 169.33a1.16 1.16 0 1 0 2.32 0a1.16 1.16 0 1 0 -2.32 0M423.10 169.33a1.16 1.16 0 1 0 2.32 0a1.16 1.16 0 1 0 -2.32 0M409.30 171.61a1.16 1.16 0 1 0 2.32 0a1.16 1.16 0 1 0 -2.32 0M411.60 171.61a1.16 1.16 0 1 0 2.32 0a1.16 1.16 0 1 0 -2.32 0M413.90 171.61a1.16 1.16 0 1 0 2.32 0a1.16 1.16 0 1 0 -2.32 0M416.20 171.61a1.16 1.16 0 1 0 2.32 0a1.16 1.16 0 1 0 -2.32 0M418.50 171.61a1.16 1.16 0 1 0 2.32 0a1.16 1.16 0 1 0 -2.32 0M420.80 171.61a1.16 1.16 0 1 0 2.32 0a1.16 1.16 0 1 0 -2.32 0M423.10 171.61a1.16 1.16 0 1 0 2.32 0a1.16 1.16 0 1 0 -2.32 0M425.40 171.61a1.16 1.16 0 1 0 2.32 0a1.16 1.16 0 1 0 -2.32 0M427.70 171.61a1.16 1.16 0 1 0 2.32 0a1.16 1.16 0 1 0 -2.32 0M430.00 171.61a1.16 1.16 0 1 0 2.32 0a1.16 1.16 0 1 0 -2.32 0M432.30 171.61a1.16 1.16 0 1 0 2.32 0a1.16 1.16 0 1 0 -2.32 0M434.60 171.61a1.16 1.16 0 1 0 2.32 0a1.16 1.16 0 1 0 -2.32 0M436.90 171.61a1.16 1.16 0 1 0 2.32 0a1.16 1.16 0 1 0 -2.32 0M411.60 173.89a1.16 1.16 0 1 0 2.32 0a1.16 1.16 0 1 0 -2.32 0M413.90 173.89a1.16 1.16 0 1 0 2.32 0a1.16 1.16 0 1 0 -2.32 0M416.20 173.89a1.16 1.16 0 1 0 2.32 0a1.16 1.16 0 1 0 -2.32 0M418.50 173.89a1.16 1.16 0 1 0 2.32 0a1.16 1.16 0 1 0 -2.32 0M420.80 173.89a1.16 1.16 0 1 0 2.32 0a1.16 1.16 0 1 0 -2.32 0M411.60 183.03a1.16 1.16 0 1 0 2.32 0a1.16 1.16 0 1 0 -2.32 0M413.90 183.03a1.16 1.16 0 1 0 2.32 0a1.16 1.16 0 1 0 -2.32 0M416.20 183.03a1.16 1.16 0 1 0 2.32 0a1.16 1.16 0 1 0 -2.32 0M418.50 183.03a1.16 1.16 0 1 0 2.32 0a1.16 1.16 0 1 0 -2.32 0M420.80 183.03a1.16 1.16 0 1 0 2.32 0a1.16 1.16 0 1 0 -2.32 0M423.10 183.03a1.16 1.16 0 1 0 2.32 0a1.16 1.16 0 1 0 -2.32 0M425.40 183.03a1.16 1.16 0 1 0 2.32 0a1.16 1.16 0 1 0 -2.32 0M427.70 183.03a1.16 1.16 0 1 0 2.32 0a1.16 1.16 0 1 0 -2.32 0M430.00 183.03a1.16 1.16 0 1 0 2.32 0a1.16 1.16 0 1 0 -2.32 0M432.30 183.03a1.16 1.16 0 1 0 2.32 0a1.16 1.16 0 1 0 -2.32 0M409.30 185.31a1.16 1.16 0 1 0 2.32 0a1.16 1.16 0 1 0 -2.32 0M409.30 187.59a1.16 1.16 0 1 0 2.32 0a1.16 1.16 0 1 0 -2.32 0M409.30 189.88a1.16 1.16 0 1 0 2.32 0a1.16 1.16 0 1 0 -2.32 0M411.60 189.88a1.16 1.16 0 1 0 2.32 0a1.16 1.16 0 1 0 -2.32 0M413.90 189.88a1.16 1.16 0 1 0 2.32 0a1.16 1.16 0 1 0 -2.32 0M409.30 192.16a1.16 1.16 0 1 0 2.32 0a1.16 1.16 0 1 0 -2.32 0M411.60 192.16a1.16 1.16 0 1 0 2.32 0a1.16 1.16 0 1 0 -2.32 0M413.90 192.16a1.16 1.16 0 1 0 2.32 0a1.16 1.16 0 1 0 -2.32 0M409.30 194.44a1.16 1.16 0 1 0 2.32 0a1.16 1.16 0 1 0 -2.32 0M411.60 194.44a1.16 1.16 0 1 0 2.32 0a1.16 1.16 0 1 0 -2.32 0M413.90 194.44a1.16 1.16 0 1 0 2.32 0a1.16 1.16 0 1 0 -2.32 0M416.20 194.44a1.16 1.16 0 1 0 2.32 0a1.16 1.16 0 1 0 -2.32 0M418.50 194.44a1.16 1.16 0 1 0 2.32 0a1.16 1.16 0 1 0 -2.32 0M420.80 194.44a1.16 1.16 0 1 0 2.32 0a1.16 1.16 0 1 0 -2.32 0M423.10 194.44a1.16 1.16 0 1 0 2.32 0a1.16 1.16 0 1 0 -2.32 0M425.40 194.44a1.16 1.16 0 1 0 2.32 0a1.16 1.16 0 1 0 -2.32 0M427.70 194.44a1.16 1.16 0 1 0 2.32 0a1.16 1.16 0 1 0 -2.32 0M430.00 194.44a1.16 1.16 0 1 0 2.32 0a1.16 1.16 0 1 0 -2.32 0M432.30 194.44a1.16 1.16 0 1 0 2.32 0a1.16 1.16 0 1 0 -2.32 0M434.60 194.44a1.16 1.16 0 1 0 2.32 0a1.16 1.16 0 1 0 -2.32 0M409.30 196.73a1.16 1.16 0 1 0 2.32 0a1.16 1.16 0 1 0 -2.32 0M411.60 196.73a1.16 1.16 0 1 0 2.32 0a1.16 1.16 0 1 0 -2.32 0M413.90 196.73a1.16 1.16 0 1 0 2.32 0a1.16 1.16 0 1 0 -2.32 0M416.20 196.73a1.16 1.16 0 1 0 2.32 0a1.16 1.16 0 1 0 -2.32 0M409.30 199.01a1.16 1.16 0 1 0 2.32 0a1.16 1.16 0 1 0 -2.32 0M411.60 199.01a1.16 1.16 0 1 0 2.32 0a1.16 1.16 0 1 0 -2.32 0M409.30 201.29a1.16 1.16 0 1 0 2.32 0a1.16 1.16 0 1 0 -2.32 0M411.60 201.29a1.16 1.16 0 1 0 2.32 0a1.16 1.16 0 1 0 -2.32 0M413.90 201.29a1.16 1.16 0 1 0 2.32 0a1.16 1.16 0 1 0 -2.32 0M416.20 201.29a1.16 1.16 0 1 0 2.32 0a1.16 1.16 0 1 0 -2.32 0M418.50 201.29a1.16 1.16 0 1 0 2.32 0a1.16 1.16 0 1 0 -2.32 0M420.80 201.29a1.16 1.16 0 1 0 2.32 0a1.16 1.16 0 1 0 -2.32 0M409.30 203.58a1.16 1.16 0 1 0 2.32 0a1.16 1.16 0 1 0 -2.32 0M411.60 203.58a1.16 1.16 0 1 0 2.32 0a1.16 1.16 0 1 0 -2.32 0M409.30 205.86a1.16 1.16 0 1 0 2.32 0a1.16 1.16 0 1 0 -2.32 0M411.60 205.86a1.16 1.16 0 1 0 2.32 0a1.16 1.16 0 1 0 -2.32 0M413.90 205.86a1.16 1.16 0 1 0 2.32 0a1.16 1.16 0 1 0 -2.32 0M409.30 208.14a1.16 1.16 0 1 0 2.32 0a1.16 1.16 0 1 0 -2.32 0M411.60 208.14a1.16 1.16 0 1 0 2.32 0a1.16 1.16 0 1 0 -2.32 0M409.30 210.43a1.16 1.16 0 1 0 2.32 0a1.16 1.16 0 1 0 -2.32 0M409.30 212.71a1.16 1.16 0 1 0 2.32 0a1.16 1.16 0 1 0 -2.32 0M409.30 215.00a1.16 1.16 0 1 0 2.32 0a1.16 1.16 0 1 0 -2.32 0M411.60 215.00a1.16 1.16 0 1 0 2.32 0a1.16 1.16 0 1 0 -2.32 0M413.90 215.00a1.16 1.16 0 1 0 2.32 0a1.16 1.16 0 1 0 -2.32 0M409.30 217.28a1.16 1.16 0 1 0 2.32 0a1.16 1.16 0 1 0 -2.32 0M411.60 217.28a1.16 1.16 0 1 0 2.32 0a1.16 1.16 0 1 0 -2.32 0M409.30 219.56a1.16 1.16 0 1 0 2.32 0a1.16 1.16 0 1 0 -2.32 0M411.60 219.56a1.16 1.16 0 1 0 2.32 0a1.16 1.16 0 1 0 -2.32 0M409.30 221.85a1.16 1.16 0 1 0 2.32 0a1.16 1.16 0 1 0 -2.32 0M411.60 221.85a1.16 1.16 0 1 0 2.32 0a1.16 1.16 0 1 0 -2.32 0M409.30 224.13a1.16 1.16 0 1 0 2.32 0a1.16 1.16 0 1 0 -2.32 0M411.60 224.13a1.16 1.16 0 1 0 2.32 0a1.16 1.16 0 1 0 -2.32 0M413.90 224.13a1.16 1.16 0 1 0 2.32 0a1.16 1.16 0 1 0 -2.32 0M409.30 226.41a1.16 1.16 0 1 0 2.32 0a1.16 1.16 0 1 0 -2.32 0M411.60 226.41a1.16 1.16 0 1 0 2.32 0a1.16 1.16 0 1 0 -2.32 0M409.30 230.98a1.16 1.16 0 1 0 2.32 0a1.16 1.16 0 1 0 -2.32 0M411.60 230.98a1.16 1.16 0 1 0 2.32 0a1.16 1.16 0 1 0 -2.32 0M413.90 230.98a1.16 1.16 0 1 0 2.32 0a1.16 1.16 0 1 0 -2.32 0M416.20 230.98a1.16 1.16 0 1 0 2.32 0a1.16 1.16 0 1 0 -2.32 0M418.50 230.98a1.16 1.16 0 1 0 2.32 0a1.16 1.16 0 1 0 -2.32 0M411.60 233.26a1.16 1.16 0 1 0 2.32 0a1.16 1.16 0 1 0 -2.32 0M413.90 233.26a1.16 1.16 0 1 0 2.32 0a1.16 1.16 0 1 0 -2.32 0M409.30 235.55a1.16 1.16 0 1 0 2.32 0a1.16 1.16 0 1 0 -2.32 0M411.60 235.55a1.16 1.16 0 1 0 2.32 0a1.16 1.16 0 1 0 -2.32 0M413.90 235.55a1.16 1.16 0 1 0 2.32 0a1.16 1.16 0 1 0 -2.32 0M416.20 235.55a1.16 1.16 0 1 0 2.32 0a1.16 1.16 0 1 0 -2.32 0M418.50 235.55a1.16 1.16 0 1 0 2.32 0a1.16 1.16 0 1 0 -2.32 0M420.80 235.55a1.16 1.16 0 1 0 2.32 0a1.16 1.16 0 1 0 -2.32 0M409.30 237.83a1.16 1.16 0 1 0 2.32 0a1.16 1.16 0 1 0 -2.32 0M411.60 237.83a1.16 1.16 0 1 0 2.32 0a1.16 1.16 0 1 0 -2.32 0M413.90 237.83a1.16 1.16 0 1 0 2.32 0a1.16 1.16 0 1 0 -2.32 0M416.20 237.83a1.16 1.16 0 1 0 2.32 0a1.16 1.16 0 1 0 -2.32 0M418.50 237.83a1.16 1.16 0 1 0 2.32 0a1.16 1.16 0 1 0 -2.32 0M420.80 237.83a1.16 1.16 0 1 0 2.32 0a1.16 1.16 0 1 0 -2.32 0M423.10 237.83a1.16 1.16 0 1 0 2.32 0a1.16 1.16 0 1 0 -2.32 0M425.40 237.83a1.16 1.16 0 1 0 2.32 0a1.16 1.16 0 1 0 -2.32 0M427.70 237.83a1.16 1.16 0 1 0 2.32 0a1.16 1.16 0 1 0 -2.32 0M409.30 240.11a1.16 1.16 0 1 0 2.32 0a1.16 1.16 0 1 0 -2.32 0M411.60 240.11a1.16 1.16 0 1 0 2.32 0a1.16 1.16 0 1 0 -2.32 0M409.30 242.40a1.16 1.16 0 1 0 2.32 0a1.16 1.16 0 1 0 -2.32 0M411.60 242.40a1.16 1.16 0 1 0 2.32 0a1.16 1.16 0 1 0 -2.32 0M413.90 242.40a1.16 1.16 0 1 0 2.32 0a1.16 1.16 0 1 0 -2.32 0M416.20 242.40a1.16 1.16 0 1 0 2.32 0a1.16 1.16 0 1 0 -2.32 0M418.50 242.40a1.16 1.16 0 1 0 2.32 0a1.16 1.16 0 1 0 -2.32 0M409.30 244.68a1.16 1.16 0 1 0 2.32 0a1.16 1.16 0 1 0 -2.32 0M411.60 244.68a1.16 1.16 0 1 0 2.32 0a1.16 1.16 0 1 0 -2.32 0M409.30 246.96a1.16 1.16 0 1 0 2.32 0a1.16 1.16 0 1 0 -2.32 0M411.60 246.96a1.16 1.16 0 1 0 2.32 0a1.16 1.16 0 1 0 -2.32 0M413.90 246.96a1.16 1.16 0 1 0 2.32 0a1.16 1.16 0 1 0 -2.32 0M409.30 249.25a1.16 1.16 0 1 0 2.32 0a1.16 1.16 0 1 0 -2.32 0M409.30 256.10a1.16 1.16 0 1 0 2.32 0a1.16 1.16 0 1 0 -2.32 0M409.30 258.38a1.16 1.16 0 1 0 2.32 0a1.16 1.16 0 1 0 -2.32 0M411.60 258.38a1.16 1.16 0 1 0 2.32 0a1.16 1.16 0 1 0 -2.32 0M413.90 258.38a1.16 1.16 0 1 0 2.32 0a1.16 1.16 0 1 0 -2.32 0M416.20 258.38a1.16 1.16 0 1 0 2.32 0a1.16 1.16 0 1 0 -2.32 0M409.30 260.67a1.16 1.16 0 1 0 2.32 0a1.16 1.16 0 1 0 -2.32 0M411.60 260.67a1.16 1.16 0 1 0 2.32 0a1.16 1.16 0 1 0 -2.32 0M413.90 260.67a1.16 1.16 0 1 0 2.32 0a1.16 1.16 0 1 0 -2.32 0M409.30 262.95a1.16 1.16 0 1 0 2.32 0a1.16 1.16 0 1 0 -2.32 0M411.60 262.95a1.16 1.16 0 1 0 2.32 0a1.16 1.16 0 1 0 -2.32 0M413.90 262.95a1.16 1.16 0 1 0 2.32 0a1.16 1.16 0 1 0 -2.32 0M416.20 262.95a1.16 1.16 0 1 0 2.32 0a1.16 1.16 0 1 0 -2.32 0M418.50 262.95a1.16 1.16 0 1 0 2.32 0a1.16 1.16 0 1 0 -2.32 0M420.80 262.95a1.16 1.16 0 1 0 2.32 0a1.16 1.16 0 1 0 -2.32 0M423.10 262.95a1.16 1.16 0 1 0 2.32 0a1.16 1.16 0 1 0 -2.32 0M425.40 262.95a1.16 1.16 0 1 0 2.32 0a1.16 1.16 0 1 0 -2.32 0M409.30 265.23a1.16 1.16 0 1 0 2.32 0a1.16 1.16 0 1 0 -2.32 0M411.60 265.23a1.16 1.16 0 1 0 2.32 0a1.16 1.16 0 1 0 -2.32 0M413.90 265.23a1.16 1.16 0 1 0 2.32 0a1.16 1.16 0 1 0 -2.32 0M416.20 265.23a1.16 1.16 0 1 0 2.32 0a1.16 1.16 0 1 0 -2.32 0M418.50 265.23a1.16 1.16 0 1 0 2.32 0a1.16 1.16 0 1 0 -2.32 0M420.80 265.23a1.16 1.16 0 1 0 2.32 0a1.16 1.16 0 1 0 -2.32 0M409.30 267.52a1.16 1.16 0 1 0 2.32 0a1.16 1.16 0 1 0 -2.32 0M411.60 267.52a1.16 1.16 0 1 0 2.32 0a1.16 1.16 0 1 0 -2.32 0M413.90 267.52a1.16 1.16 0 1 0 2.32 0a1.16 1.16 0 1 0 -2.32 0M416.20 267.52a1.16 1.16 0 1 0 2.32 0a1.16 1.16 0 1 0 -2.32 0M409.30 269.80a1.16 1.16 0 1 0 2.32 0a1.16 1.16 0 1 0 -2.32 0M411.60 269.80a1.16 1.16 0 1 0 2.32 0a1.16 1.16 0 1 0 -2.32 0M413.90 269.80a1.16 1.16 0 1 0 2.32 0a1.16 1.16 0 1 0 -2.32 0M409.30 272.08a1.16 1.16 0 1 0 2.32 0a1.16 1.16 0 1 0 -2.32 0M411.60 272.08a1.16 1.16 0 1 0 2.32 0a1.16 1.16 0 1 0 -2.32 0M413.90 272.08a1.16 1.16 0 1 0 2.32 0a1.16 1.16 0 1 0 -2.32 0M416.20 272.08a1.16 1.16 0 1 0 2.32 0a1.16 1.16 0 1 0 -2.32 0M418.50 272.08a1.16 1.16 0 1 0 2.32 0a1.16 1.16 0 1 0 -2.32 0M411.60 274.37a1.16 1.16 0 1 0 2.32 0a1.16 1.16 0 1 0 -2.32 0M413.90 274.37a1.16 1.16 0 1 0 2.32 0a1.16 1.16 0 1 0 -2.32 0M416.20 274.37a1.16 1.16 0 1 0 2.32 0a1.16 1.16 0 1 0 -2.32 0M418.50 274.37a1.16 1.16 0 1 0 2.32 0a1.16 1.16 0 1 0 -2.32 0M409.30 276.65a1.16 1.16 0 1 0 2.32 0a1.16 1.16 0 1 0 -2.32 0M411.60 276.65a1.16 1.16 0 1 0 2.32 0a1.16 1.16 0 1 0 -2.32 0M409.30 278.93a1.16 1.16 0 1 0 2.32 0a1.16 1.16 0 1 0 -2.32 0M411.60 278.93a1.16 1.16 0 1 0 2.32 0a1.16 1.16 0 1 0 -2.32 0M413.90 278.93a1.16 1.16 0 1 0 2.32 0a1.16 1.16 0 1 0 -2.32 0M416.20 278.93a1.16 1.16 0 1 0 2.32 0a1.16 1.16 0 1 0 -2.32 0" fill="#8AA4EE"/>
<path d="M409.27 144.21a1.19 1.19 0 1 0 2.38 0a1.19 1.19 0 1 0 -2.38 0" fill="#FDB34A"/>
<path d="M409.27 48.30a1.19 1.19 0 1 0 2.38 0a1.19 1.19 0 1 0 -2.38 0M409.27 50.58a1.19 1.19 0 1 0 2.38 0a1.19 1.19 0 1 0 -2.38 0M409.27 55.15a1.19 1.19 0 1 0 2.38 0a1.19 1.19 0 1 0 -2.38 0M411.57 55.15a1.19 1.19 0 1 0 2.38 0a1.19 1.19 0 1 0 -2.38 0M409.27 57.43a1.19 1.19 0 1 0 2.38 0a1.19 1.19 0 1 0 -2.38 0M409.27 59.72a1.19 1.19 0 1 0 2.38 0a1.19 1.19 0 1 0 -2.38 0M409.27 71.13a1.19 1.19 0 1 0 2.38 0a1.19 1.19 0 1 0 -2.38 0M411.57 71.13a1.19 1.19 0 1 0 2.38 0a1.19 1.19 0 1 0 -2.38 0M413.87 71.13a1.19 1.19 0 1 0 2.38 0a1.19 1.19 0 1 0 -2.38 0M409.27 73.42a1.19 1.19 0 1 0 2.38 0a1.19 1.19 0 1 0 -2.38 0M409.27 77.99a1.19 1.19 0 1 0 2.38 0a1.19 1.19 0 1 0 -2.38 0M409.27 100.82a1.19 1.19 0 1 0 2.38 0a1.19 1.19 0 1 0 -2.38 0M409.27 105.39a1.19 1.19 0 1 0 2.38 0a1.19 1.19 0 1 0 -2.38 0M409.27 107.67a1.19 1.19 0 1 0 2.38 0a1.19 1.19 0 1 0 -2.38 0M409.27 109.95a1.19 1.19 0 1 0 2.38 0a1.19 1.19 0 1 0 -2.38 0M411.57 109.95a1.19 1.19 0 1 0 2.38 0a1.19 1.19 0 1 0 -2.38 0M413.87 109.95a1.19 1.19 0 1 0 2.38 0a1.19 1.19 0 1 0 -2.38 0M409.27 169.33a1.19 1.19 0 1 0 2.38 0a1.19 1.19 0 1 0 -2.38 0M409.27 173.89a1.19 1.19 0 1 0 2.38 0a1.19 1.19 0 1 0 -2.38 0M409.27 176.18a1.19 1.19 0 1 0 2.38 0a1.19 1.19 0 1 0 -2.38 0M409.27 178.46a1.19 1.19 0 1 0 2.38 0a1.19 1.19 0 1 0 -2.38 0M411.57 178.46a1.19 1.19 0 1 0 2.38 0a1.19 1.19 0 1 0 -2.38 0M413.87 178.46a1.19 1.19 0 1 0 2.38 0a1.19 1.19 0 1 0 -2.38 0M409.27 180.74a1.19 1.19 0 1 0 2.38 0a1.19 1.19 0 1 0 -2.38 0M411.57 180.74a1.19 1.19 0 1 0 2.38 0a1.19 1.19 0 1 0 -2.38 0M409.27 183.03a1.19 1.19 0 1 0 2.38 0a1.19 1.19 0 1 0 -2.38 0M409.27 228.70a1.19 1.19 0 1 0 2.38 0a1.19 1.19 0 1 0 -2.38 0M409.27 233.26a1.19 1.19 0 1 0 2.38 0a1.19 1.19 0 1 0 -2.38 0M409.27 253.81a1.19 1.19 0 1 0 2.38 0a1.19 1.19 0 1 0 -2.38 0M409.27 274.37a1.19 1.19 0 1 0 2.38 0a1.19 1.19 0 1 0 -2.38 0M409.27 281.22a1.19 1.19 0 1 0 2.38 0a1.19 1.19 0 1 0 -2.38 0M411.57 281.22a1.19 1.19 0 1 0 2.38 0a1.19 1.19 0 1 0 -2.38 0M409.27 283.50a1.19 1.19 0 1 0 2.38 0a1.19 1.19 0 1 0 -2.38 0" fill="#E74251"/>
<text x="445.7" y="184.5" text-anchor="middle" font-size="10">13</text>
<path d="M460.10 127.34L470.40 74.60M460.10 127.66L470.40 76.89M460.10 128.53L470.40 79.17M460.10 128.69L470.40 81.46M460.10 128.86L470.40 83.75M460.10 131.80L470.40 86.04M460.10 132.12L470.40 88.33M460.10 132.50L470.40 90.61M460.10 132.86L470.40 92.90M460.10 134.20L470.40 95.19M460.10 134.25L470.40 97.47M460.10 134.66L470.40 99.76M460.10 135.96L470.40 102.05M460.10 139.68L470.40 104.34M460.10 140.49L470.40 106.62M460.10 142.32L470.40 108.91M460.10 142.94L470.40 111.20M460.10 144.05L470.40 113.49M460.10 145.27L470.40 115.78M460.10 145.44L470.40 118.06M460.10 147.30L470.40 120.35M460.10 147.82L470.40 122.64M460.10 148.00L470.40 124.92M460.10 148.23L470.40 127.21M460.10 150.30L470.40 129.50M460.10 150.63L470.40 131.79M460.10 150.82L470.40 134.07M460.10 153.30L470.40 136.36M460.10 154.37L470.40 138.65M460.10 159.22L470.40 140.94M460.10 161.12L470.40 143.23M460.10 163.65L470.40 145.51M460.10 165.47L470.40 147.80M460.10 165.75L470.40 150.09M460.10 166.95L470.40 152.38M460.10 167.55L470.40 154.66M460.10 168.58L470.40 156.95M460.10 168.91L470.40 159.24M460.10 169.57L470.40 161.53M460.10 170.14L470.40 163.81M460.10 170.66L470.40 166.10M460.10 172.29L470.40 168.39M460.10 172.78L470.40 170.68M460.10 174.95L470.40 172.96M460.10 174.96L470.40 175.25M460.10 176.52L470.40 177.54M460.10 177.09L470.40 179.83M460.10 177.91L470.40 182.11M460.10 178.01L470.40 184.40M460.10 179.64L470.40 186.69M460.10 181.10L470.40 188.98M460.10 182.97L470.40 191.26M460.10 184.53L470.40 193.55M460.10 184.56L470.40 195.84M460.10 187.04L470.40 198.12M460.10 187.84L470.40 200.41M460.10 194.15L470.40 204.99M460.10 196.77L470.40 207.28M460.10 197.61L470.40 209.56M460.10 200.72L470.40 211.85M460.10 201.88L470.40 214.14M460.10 204.11L470.40 216.43M460.10 204.97L470.40 218.71M460.10 205.97L470.40 221.00M460.10 206.99L470.40 223.29M460.10 207.50L470.40 225.58M460.10 209.18L470.40 227.86M460.10 209.34L470.40 230.15M460.10 209.80L470.40 232.44M460.10 211.54L470.40 234.73M460.10 211.64L470.40 237.01M460.10 217.32L470.40 239.30M460.10 218.34L470.40 241.59M460.10 220.30L470.40 243.88M460.10 222.29L470.40 246.16M460.10 227.56L470.40 248.45M460.10 229.95L470.40 250.74M460.10 230.05L470.40 253.03M460.10 231.06L470.40 255.31M460.10 231.65L470.40 257.60" stroke="#000" stroke-width="0.5" fill="none"/>
<rect x="456.4" y="125.7" width="3.10" height="107.90" rx="1.55" fill="#dadada"/>
<path d="M456.40 128.90h3.10v1.10h-3.10zM456.40 136.25h3.10v0.70h-3.10zM456.40 150.30h3.10v0.50h-3.10zM456.40 161.00h3.10v0.90h-3.10zM456.40 169.80h3.10v1.10h-3.10zM456.40 212.05h3.10v1.10h-3.10zM456.40 229.25h3.10v1.10h-3.10z" fill="#000"/>
<path d="M456.40 130.60h3.10v0.70h-3.10zM456.40 131.75h3.10v1.40h-3.10zM456.40 135.30h3.10v0.50h-3.10zM456.40 138.40h3.10v0.90h-3.10zM456.40 141.45h3.10v1.10h-3.10zM456.40 162.90h3.10v1.10h-3.10zM456.40 171.35h3.10v0.90h-3.10zM456.40 176.20h3.10v0.90h-3.10zM456.40 177.55h3.10v1.40h-3.10zM456.40 179.40h3.10v0.90h-3.10zM456.40 181.10h3.10v0.90h-3.10zM456.40 184.50h3.10v1.40h-3.10zM456.40 196.90h3.10v1.80h-3.10zM456.40 202.85h3.10v1.80h-3.10zM456.40 213.45h3.10v0.90h-3.10zM456.40 222.85h3.10v1.10h-3.10zM456.40 224.75h3.10v0.70h-3.10z" fill="#5e5e5e"/>
<path d="M456.40 133.60h3.10v0.70h-3.10zM456.40 143.35h3.10v1.80h-3.10zM456.40 151.10h3.10v1.10h-3.10zM456.40 157.80h3.10v1.40h-3.10zM456.40 182.80h3.10v0.90h-3.10zM456.40 186.70h3.10v1.80h-3.10zM456.40 190.85h3.10v1.10h-3.10zM456.40 194.25h3.10v0.90h-3.10zM456.40 195.60h3.10v0.50h-3.10zM456.40 199.30h3.10v0.50h-3.10zM456.40 218.55h3.10v1.40h-3.10zM456.40 220.25h3.10v1.80h-3.10z" fill="#444"/>
<path d="M456.40 137.25h3.10v0.70h-3.10zM456.40 146.15h3.10v0.50h-3.10zM456.40 148.20h3.10v1.80h-3.10zM456.40 156.80h3.10v0.70h-3.10zM456.40 164.80h3.10v1.80h-3.10zM456.40 167.20h3.10v1.80h-3.10zM456.40 174.20h3.10v1.40h-3.10zM456.40 188.95h3.10v1.10h-3.10zM456.40 208.10h3.10v0.70h-3.10zM456.40 226.45h3.10v1.80h-3.10z" fill="#2a2a2a"/>
<path d="M456.40 139.60h3.10v1.40h-3.10zM456.40 147.10h3.10v0.50h-3.10zM456.40 154.60h3.10v1.40h-3.10zM456.40 159.80h3.10v0.90h-3.10zM456.40 172.85h3.10v0.90h-3.10zM456.40 200.60h3.10v1.80h-3.10zM456.40 209.40h3.10v1.40h-3.10zM456.40 211.25h3.10v0.50h-3.10zM456.40 214.95h3.10v0.90h-3.10zM456.40 216.85h3.10v1.40h-3.10z" fill="#111"/>
<path d="M456.40 152.50h3.10v1.80h-3.10zM456.40 192.40h3.10v1.40h-3.10zM456.40 205.45h3.10v0.90h-3.10zM456.40 207.15h3.10v0.50h-3.10z" fill="#7a7a7a"/>
<ellipse cx="457.95" cy="127.20" rx="1.55" ry="1.5" fill="#000"/>
<ellipse cx="457.95" cy="232.10" rx="1.55" ry="1.5" fill="#000"/>
<path d="M474.50 86.04a1.16 1.16 0 1 0 2.32 0a1.16 1.16 0 1 0 -2.32 0M476.80 86.04a1.16 1.16 0 1 0 2.32 0a1.16 1.16 0 1 0 -2.32 0M472.20 88.33a1.16 1.16 0 1 0 2.32 0a1.16 1.16 0 1 0 -2.32 0M474.50 88.33a1.16 1.16 0 1 0 2.32 0a1.16 1.16 0 1 0 -2.32 0M476.80 88.33a1.16 1.16 0 1 0 2.32 0a1.16 1.16 0 1 0 -2.32 0M479.10 88.33a1.16 1.16 0 1 0 2.32 0a1.16 1.16 0 1 0 -2.32 0M481.40 88.33a1.16 1.16 0 1 0 2.32 0a1.16 1.16 0 1 0 -2.32 0M472.20 90.61a1.16 1.16 0 1 0 2.32 0a1.16 1.16 0 1 0 -2.32 0M474.50 90.61a1.16 1.16 0 1 0 2.32 0a1.16 1.16 0 1 0 -2.32 0M472.20 92.90a1.16 1.16 0 1 0 2.32 0a1.16 1.16 0 1 0 -2.32 0M474.50 92.90a1.16 1.16 0 1 0 2.32 0a1.16 1.16 0 1 0 -2.32 0M472.20 95.19a1.16 1.16 0 1 0 2.32 0a1.16 1.16 0 1 0 -2.32 0M474.50 95.19a1.16 1.16 0 1 0 2.32 0a1.16 1.16 0 1 0 -2.32 0M472.20 97.47a1.16 1.16 0 1 0 2.32 0a1.16 1.16 0 1 0 -2.32 0M474.50 97.47a1.16 1.16 0 1 0 2.32 0a1.16 1.16 0 1 0 -2.32 0M472.20 99.76a1.16 1.16 0 1 0 2.32 0a1.16 1.16 0 1 0 -2.32 0M474.50 99.76a1.16 1.16 0 1 0 2.32 0a1.16 1.16 0 1 0 -2.32 0M472.20 102.05a1.16 1.16 0 1 0 2.32 0a1.16 1.16 0 1 0 -2.32 0M472.20 104.34a1.16 1.16 0 1 0 2.32 0a1.16 1.16 0 1 0 -2.32 0M472.20 106.62a1.16 1.16 0 1 0 2.32 0a1.16 1.16 0 1 0 -2.32 0M474.50 106.62a1.16 1.16 0 1 0 2.32 0a1.16 1.16 0 1 0 -2.32 0M476.80 106.62a1.16 1.16 0 1 0 2.32 0a1.16 1.16 0 1 0 -2.32 0M472.20 108.91a1.16 1.16 0 1 0 2.32 0a1.16 1.16 0 1 0 -2.32 0M474.50 108.91a1.16 1.16 0 1 0 2.32 0a1.16 1.16 0 1 0 -2.32 0M476.80 108.91a1.16 1.16 0 1 0 2.32 0a1.16 1.16 0 1 0 -2.32 0M472.20 111.20a1.16 1.16 0 1 0 2.32 0a1.16 1.16 0 1 0 -2.32 0M474.50 111.20a1.16 1.16 0 1 0 2.32 0a1.16 1.16 0 1 0 -2.32 0M476.80 111.20a1.16 1.16 0 1 0 2.32 0a1.16 1.16 0 1 0 -2.32 0M479.10 111.20a1.16 1.16 0 1 0 2.32 0a1.16 1.16 0 1 0 -2.32 0M472.20 113.49a1.16 1.16 0 1 0 2.32 0a1.16 1.16 0 1 0 -2.32 0M474.50 113.49a1.16 1.16 0 1 0 2.32 0a1.16 1.16 0 1 0 -2.32 0M472.20 115.78a1.16 1.16 0 1 0 2.32 0a1.16 1.16 0 1 0 -2.32 0M474.50 115.78a1.16 1.16 0 1 0 2.32 0a1.16 1.16 0 1 0 -2.32 0M476.80 115.78a1.16 1.16 0 1 0 2.32 0a1.16 1.16 0 1 0 -2.32 0M479.10 115.78a1.16 1.16 0 1 0 2.32 0a1.16 1.16 0 1 0 -2.32 0M472.20 118.06a1.16 1.16 0 1 0 2.32 0a1.16 1.16 0 1 0 -2.32 0M474.50 118.06a1.16 1.16 0 1 0 2.32 0a1.16 1.16 0 1 0 -2.32 0M476.80 118.06a1.16 1.16 0 1 0 2.32 0a1.16 1.16 0 1 0 -2.32 0M472.20 120.35a1.16 1.16 0 1 0 2.32 0a1.16 1.16 0 1 0 -2.32 0M474.50 120.35a1.16 1.16 0 1 0 2.32 0a1.16 1.16 0 1 0 -2.32 0M476.80 120.35a1.16 1.16 0 1 0 2.32 0a1.16 1.16 0 1 0 -2.32 0M479.10 120.35a1.16 1.16 0 1 0 2.32 0a1.16 1.16 0 1 0 -2.32 0M481.40 120.35a1.16 1.16 0 1 0 2.32 0a1.16 1.16 0 1 0 -2.32 0M483.70 120.35a1.16 1.16 0 1 0 2.32 0a1.16 1.16 0 1 0 -2.32 0M486.00 120.35a1.16 1.16 0 1 0 2.32 0a1.16 1.16 0 1 0 -2.32 0M472.20 122.64a1.16 1.16 0 1 0 2.32 0a1.16 1.16 0 1 0 -2.32 0M474.50 122.64a1.16 1.16 0 1 0 2.32 0a1.16 1.16 0 1 0 -2.32 0M476.80 122.64a1.16 1.16 0 1 0 2.32 0a1.16 1.16 0 1 0 -2.32 0M479.10 122.64a1.16 1.16 0 1 0 2.32 0a1.16 1.16 0 1 0 -2.32 0M481.40 122.64a1.16 1.16 0 1 0 2.32 0a1.16 1.16 0 1 0 -2.32 0M483.70 122.64a1.16 1.16 0 1 0 2.32 0a1.16 1.16 0 1 0 -2.32 0M486.00 122.64a1.16 1.16 0 1 0 2.32 0a1.16 1.16 0 1 0 -2.32 0M488.30 122.64a1.16 1.16 0 1 0 2.32 0a1.16 1.16 0 1 0 -2.32 0M490.60 122.64a1.16 1.16 0 1 0 2.32 0a1.16 1.16 0 1 0 -2.32 0M492.90 122.64a1.16 1.16 0 1 0 2.32 0a1.16 1.16 0 1 0 -2.32 0M472.20 129.50a1.16 1.16 0 1 0 2.32 0a1.16 1.16 0 1 0 -2.32 0M474.50 129.50a1.16 1.16 0 1 0 2.32 0a1.16 1.16 0 1 0 -2.32 0M476.80 129.50a1.16 1.16 0 1 0 2.32 0a1.16 1.16 0 1 0 -2.32 0M474.50 131.79a1.16 1.16 0 1 0 2.32 0a1.16 1.16 0 1 0 -2.32 0M476.80 131.79a1.16 1.16 0 1 0 2.32 0a1.16 1.16 0 1 0 -2.32 0M472.20 134.07a1.16 1.16 0 1 0 2.32 0a1.16 1.16 0 1 0 -2.32 0M474.50 134.07a1.16 1.16 0 1 0 2.32 0a1.16 1.16 0 1 0 -2.32 0M476.80 134.07a1.16 1.16 0 1 0 2.32 0a1.16 1.16 0 1 0 -2.32 0M479.10 134.07a1.16 1.16 0 1 0 2.32 0a1.16 1.16 0 1 0 -2.32 0M481.40 134.07a1.16 1.16 0 1 0 2.32 0a1.16 1.16 0 1 0 -2.32 0M483.70 134.07a1.16 1.16 0 1 0 2.32 0a1.16 1.16 0 1 0 -2.32 0M486.00 134.07a1.16 1.16 0 1 0 2.32 0a1.16 1.16 0 1 0 -2.32 0M488.30 134.07a1.16 1.16 0 1 0 2.32 0a1.16 1.16 0 1 0 -2.32 0M490.60 134.07a1.16 1.16 0 1 0 2.32 0a1.16 1.16 0 1 0 -2.32 0M492.90 134.07a1.16 1.16 0 1 0 2.32 0a1.16 1.16 0 1 0 -2.32 0M495.20 134.07a1.16 1.16 0 1 0 2.32 0a1.16 1.16 0 1 0 -2.32 0M472.20 136.36a1.16 1.16 0 1 0 2.32 0a1.16 1.16 0 1 0 -2.32 0M474.50 136.36a1.16 1.16 0 1 0 2.32 0a1.16 1.16 0 1 0 -2.32 0M476.80 136.36a1.16 1.16 0 1 0 2.32 0a1.16 1.16 0 1 0 -2.32 0M472.20 138.65a1.16 1.16 0 1 0 2.32 0a1.16 1.16 0 1 0 -2.32 0M474.50 138.65a1.16 1.16 0 1 0 2.32 0a1.16 1.16 0 1 0 -2.32 0M476.80 138.65a1.16 1.16 0 1 0 2.32 0a1.16 1.16 0 1 0 -2.32 0M472.20 140.94a1.16 1.16 0 1 0 2.32 0a1.16 1.16 0 1 0 -2.32 0M474.50 140.94a1.16 1.16 0 1 0 2.32 0a1.16 1.16 0 1 0 -2.32 0M476.80 140.94a1.16 1.16 0 1 0 2.32 0a1.16 1.16 0 1 0 -2.32 0M479.10 140.94a1.16 1.16 0 1 0 2.32 0a1.16 1.16 0 1 0 -2.32 0M472.20 143.23a1.16 1.16 0 1 0 2.32 0a1.16 1.16 0 1 0 -2.32 0M472.20 145.51a1.16 1.16 0 1 0 2.32 0a1.16 1.16 0 1 0 -2.32 0M472.20 150.09a1.16 1.16 0 1 0 2.32 0a1.16 1.16 0 1 0 -2.32 0M474.50 150.09a1.16 1.16 0 1 0 2.32 0a1.16 1.16 0 1 0 -2.32 0M472.20 152.38a1.16 1.16 0 1 0 2.32 0a1.16 1.16 0 1 0 -2.32 0M474.50 152.38a1.16 1.16 0 1 0 2.32 0a1.16 1.16 0 1 0 -2.32 0M472.20 154.66a1.16 1.16 0 1 0 2.32 0a1.16 1.16 0 1 0 -2.32 0M472.20 156.95a1.16 1.16 0 1 0 2.32 0a1.16 1.16 0 1 0 -2.32 0M474.50 156.95a1.16 1.16 0 1 0 2.32 0a1.16 1.16 0 1 0 -2.32 0M476.80 156.95a1.16 1.16 0 1 0 2.32 0a1.16 1.16 0 1 0 -2.32 0M479.10 156.95a1.16 1.16 0 1 0 2.32 0a1.16 1.16 0 1 0 -2.32 0M472.20 159.24a1.16 1.16 0 1 0 2.32 0a1.16 1.16 0 1 0 -2.32 0M474.50 159.24a1.16 1.16 0 1 0 2.32 0a1.16 1.16 0 1 0 -2.32 0M476.80 159.24a1.16 1.16 0 1 0 2.32 0a1.16 1.16 0 1 0 -2.32 0M479.10 159.24a1.16 1.16 0 1 0 2.32 0a1.16 1.16 0 1 0 -2.32 0M472.20 161.53a1.16 1.16 0 1 0 2.32 0a1.16 1.16 0 1 0 -2.32 0M474.50 161.53a1.16 1.16 0 1 0 2.32 0a1.16 1.16 0 1 0 -2.32 0M476.80 161.53a1.16 1.16 0 1 0 2.32 0a1.16 1.16 0 1 0 -2.32 0M479.10 161.53a1.16 1.16 0 1 0 2.32 0a1.16 1.16 0 1 0 -2.32 0M481.40 161.53a1.16 1.16 0 1 0 2.32 0a1.16 1.16 0 1 0 -2.32 0M483.70 161.53a1.16 1.16 0 1 0 2.32 0a1.16 1.16 0 1 0 -2.32 0M472.20 163.81a1.16 1.16 0 1 0 2.32 0a1.16 1.16 0 1 0 -2.32 0M474.50 163.81a1.16 1.16 0 1 0 2.32 0a1.16 1.16 0 1 0 -2.32 0M476.80 163.81a1.16 1.16 0 1 0 2.32 0a1.16 1.16 0 1 0 -2.32 0M472.20 166.10a1.16 1.16 0 1 0 2.32 0a1.16 1.16 0 1 0 -2.32 0M472.20 168.39a1.16 1.16 0 1 0 2.32 0a1.16 1.16 0 1 0 -2.32 0M472.20 170.68a1.16 1.16 0 1 0 2.32 0a1.16 1.16 0 1 0 -2.32 0M474.50 170.68a1.16 1.16 0 1 0 2.32 0a1.16 1.16 0 1 0 -2.32 0M472.20 175.25a1.16 1.16 0 1 0 2.32 0a1.16 1.16 0 1 0 -2.32 0M472.20 177.54a1.16 1.16 0 1 0 2.32 0a1.16 1.16 0 1 0 -2.32 0M474.50 177.54a1.16 1.16 0 1 0 2.32 0a1.16 1.16 0 1 0 -2.32 0M476.80 177.54a1.16 1.16 0 1 0 2.32 0a1.16 1.16 0 1 0 -2.32 0M472.20 179.83a1.16 1.16 0 1 0 2.32 0a1.16 1.16 0 1 0 -2.32 0M474.50 179.83a1.16 1.16 0 1 0 2.32 0a1.16 1.16 0 1 0 -2.32 0M472.20 182.11a1.16 1.16 0 1 0 2.32 0a1.16 1.16 0 1 0 -2.32 0M474.50 182.11a1.16 1.16 0 1 0 2.32 0a1.16 1.16 0 1 0 -2.32 0M476.80 182.11a1.16 1.16 0 1 0 2.32 0a1.16 1.16 0 1 0 -2.32 0M479.10 182.11a1.16 1.16 0 1 0 2.32 0a1.16 1.16 0 1 0 -2.32 0M472.20 184.40a1.16 1.16 0 1 0 2.32 0a1.16 1.16 0 1 0 -2.32 0M474.50 184.40a1.16 1.16 0 1 0 2.32 0a1.16 1.16 0 1 0 -2.32 0M476.80 184.40a1.16 1.16 0 1 0 2.32 0a1.16 1.16 0 1 0 -2.32 0M479.10 184.40a1.16 1.16 0 1 0 2.32 0a1.16 1.16 0 1 0 -2.32 0M481.40 184.40a1.16 1.16 0 1 0 2.32 0a1.16 1.16 0 1 0 -2.32 0M483.70 184.40a1.16 1.16 0 1 0 2.32 0a1.16 1.16 0 1 0 -2.32 0M486.00 184.40a1.16 1.16 0 1 0 2.32 0a1.16 1.16 0 1 0 -2.32 0M488.30 184.40a1.16 1.16 0 1 0 2.32 0a1.16 1.16 0 1 0 -2.32 0M490.60 184.40a1.16 1.16 0 1 0 2.32 0a1.16 1.16 0 1 0 -2.32 0M492.90 184.40a1.16 1.16 0 1 0 2.32 0a1.16 1.16 0 1 0 -2.32 0M495.20 184.40a1.16 1.16 0 1 0 2.32 0a1.16 1.16 0 1 0 -2.32 0M472.20 186.69a1.16 1.16 0 1 0 2.32 0a1.16 1.16 0 1 0 -2.32 0M472.20 188.98a1.16 1.16 0 1 0 2.32 0a1.16 1.16 0 1 0 -2.32 0M472.20 193.55a1.16 1.16 0 1 0 2.32 0a1.16 1.16 0 1 0 -2.32 0M474.50 193.55a1.16 1.16 0 1 0 2.32 0a1.16 1.16 0 1 0 -2.32 0M476.80 193.55a1.16 1.16 0 1 0 2.32 0a1.16 1.16 0 1 0 -2.32 0M479.10 193.55a1.16 1.16 0 1 0 2.32 0a1.16 1.16 0 1 0 -2.32 0M472.20 195.84a1.16 1.16 0 1 0 2.32 0a1.16 1.16 0 1 0 -2.32 0M474.50 195.84a1.16 1.16 0 1 0 2.32 0a1.16 1.16 0 1 0 -2.32 0M476.80 195.84a1.16 1.16 0 1 0 2.32 0a1.16 1.16 0 1 0 -2.32 0M479.10 195.84a1.16 1.16 0 1 0 2.32 0a1.16 1.16 0 1 0 -2.32 0M481.40 195.84a1.16 1.16 0 1 0 2.32 0a1.16 1.16 0 1 0 -2.32 0M483.70 195.84a1.16 1.16 0 1 0 2.32 0a1.16 1.16 0 1 0 -2.32 0M472.20 198.12a1.16 1.16 0 1 0 2.32 0a1.16 1.16 0 1 0 -2.32 0M472.20 200.41a1.16 1.16 0 1 0 2.32 0a1.16 1.16 0 1 0 -2.32 0M472.20 204.99a1.16 1.16 0 1 0 2.32 0a1.16 1.16 0 1 0 -2.32 0M474.50 204.99a1.16 1.16 0 1 0 2.32 0a1.16 1.16 0 1 0 -2.32 0M472.20 207.28a1.16 1.16 0 1 0 2.32 0a1.16 1.16 0 1 0 -2.32 0M472.20 209.56a1.16 1.16 0 1 0 2.32 0a1.16 1.16 0 1 0 -2.32 0M474.50 209.56a1.16 1.16 0 1 0 2.32 0a1.16 1.16 0 1 0 -2.32 0M476.80 209.56a1.16 1.16 0 1 0 2.32 0a1.16 1.16 0 1 0 -2.32 0M472.20 211.85a1.16 1.16 0 1 0 2.32 0a1.16 1.16 0 1 0 -2.32 0M474.50 211.85a1.16 1.16 0 1 0 2.32 0a1.16 1.16 0 1 0 -2.32 0M476.80 211.85a1.16 1.16 0 1 0 2.32 0a1.16 1.16 0 1 0 -2.32 0M479.10 211.85a1.16 1.16 0 1 0 2.32 0a1.16 1.16 0 1 0 -2.32 0M472.20 214.14a1.16 1.16 0 1 0 2.32 0a1.16 1.16 0 1 0 -2.32 0M472.20 216.43a1.16 1.16 0 1 0 2.32 0a1.16 1.16 0 1 0 -2.32 0M474.50 216.43a1.16 1.16 0 1 0 2.32 0a1.16 1.16 0 1 0 -2.32 0M476.80 216.43a1.16 1.16 0 1 0 2.32 0a1.16 1.16 0 1 0 -2.32 0M472.20 218.71a1.16 1.16 0 1 0 2.32 0a1.16 1.16 0 1 0 -2.32 0M474.50 218.71a1.16 1.16 0 1 0 2.32 0a1.16 1.16 0 1 0 -2.32 0M474.50 223.29a1.16 1.16 0 1 0 2.32 0a1.16 1.16 0 1 0 -2.32 0M476.80 223.29a1.16 1.16 0 1 0 2.32 0a1.16 1.16 0 1 0 -2.32 0M479.10 223.29a1.16 1.16 0 1 0 2.32 0a1.16 1.16 0 1 0 -2.32 0M481.40 223.29a1.16 1.16 0 1 0 2.32 0a1.16 1.16 0 1 0 -2.32 0M483.70 223.29a1.16 1.16 0 1 0 2.32 0a1.16 1.16 0 1 0 -2.32 0M472.20 225.58a1.16 1.16 0 1 0 2.32 0a1.16 1.16 0 1 0 -2.32 0M474.50 225.58a1.16 1.16 0 1 0 2.32 0a1.16 1.16 0 1 0 -2.32 0M476.80 225.58a1.16 1.16 0 1 0 2.32 0a1.16 1.16 0 1 0 -2.32 0M479.10 225.58a1.16 1.16 0 1 0 2.32 0a1.16 1.16 0 1 0 -2.32 0M481.40 225.58a1.16 1.16 0 1 0 2.32 0a1.16 1.16 0 1 0 -2.32 0M483.70 225.58a1.16 1.16 0 1 0 2.32 0a1.16 1.16 0 1 0 -2.32 0M474.50 227.86a1.16 1.16 0 1 0 2.32 0a1.16 1.16 0 1 0 -2.32 0M476.80 227.86a1.16 1.16 0 1 0 2.32 0a1.16 1.16 0 1 0 -2.32 0M472.20 230.15a1.16 1.16 0 1 0 2.32 0a1.16 1.16 0 1 0 -2.32 0M474.50 230.15a1.16 1.16 0 1 0 2.32 0a1.16 1.16 0 1 0 -2.32 0M472.20 232.44a1.16 1.16 0 1 0 2.32 0a1.16 1.16 0 1 0 -2.32 0M474.50 232.44a1.16 1.16 0 1 0 2.32 0a1.16 1.16 0 1 0 -2.32 0M472.20 234.73a1.16 1.16 0 1 0 2.32 0a1.16 1.16 0 1 0 -2.32 0M474.50 234.73a1.16 1.16 0 1 0 2.32 0a1.16 1.16 0 1 0 -2.32 0M476.80 234.73a1.16 1.16 0 1 0 2.32 0a1.16 1.16 0 1 0 -2.32 0M479.10 234.73a1.16 1.16 0 1 0 2.32 0a1.16 1.16 0 1 0 -2.32 0M481.40 234.73a1.16 1.16 0 1 0 2.32 0a1.16 1.16 0 1 0 -2.32 0M472.20 237.01a1.16 1.16 0 1 0 2.32 0a1.16 1.16 0 1 0 -2.32 0M474.50 237.01a1.16 1.16 0 1 0 2.32 0a1.16 1.16 0 1 0 -2.32 0M476.80 237.01a1.16 1.16 0 1 0 2.32 0a1.16 1.16 0 1 0 -2.32 0M472.20 239.30a1.16 1.16 0 1 0 2.32 0a1.16 1.16 0 1 0 -2.32 0M474.50 239.30a1.16 1.16 0 1 0 2.32 0a1.16 1.16 0 1 0 -2.32 0M472.20 241.59a1.16 1.16 0 1 0 2.32 0a1.16 1.16 0 1 0 -2.32 0M474.50 241.59a1.16 1.16 0 1 0 2.32 0a1.16 1.16 0 1 0 -2.32 0M476.80 241.59a1.16 1.16 0 1 0 2.32 0a1.16 1.16 0 1 0 -2.32 0M479.10 241.59a1.16 1.16 0 1 0 2.32 0a1.16 1.16 0 1 0 -2.32 0M481.40 241.59a1.16 1.16 0 1 0 2.32 0a1.16 1.16 0 1 0 -2.32 0M483.70 241.59a1.16 1.16 0 1 0 2.32 0a1.16 1.16 0 1 0 -2.32 0M486.00 241.59a1.16 1.16 0 1 0 2.32 0a1.16 1.16 0 1 0 -2.32 0M472.20 243.88a1.16 1.16 0 1 0 2.32 0a1.16 1.16 0 1 0 -2.32 0M474.50 246.16a1.16 1.16 0 1 0 2.32 0a1.16 1.16 0 1 0 -2.32 0M472.20 248.45a1.16 1.16 0 1 0 2.32 0a1.16 1.16 0 1 0 -2.32 0M472.20 250.74a1.16 1.16 0 1 0 2.32 0a1.16 1.16 0 1 0 -2.32 0M474.50 250.74a1.16 1.16 0 1 0 2.32 0a1.16 1.16 0 1 0 -2.32 0M476.80 250.74a1.16 1.16 0 1 0 2.32 0a1.16 1.16 0 1 0 -2.32 0M479.10 250.74a1.16 1.16 0 1 0 2.32 0a1.16 1.16 0 1 0 -2.32 0M481.40 250.74a1.16 1.16 0 1 0 2.32 0a1.16 1.16 0 1 0 -2.32 0M474.50 253.03a1.16 1.16 0 1 0 2.32 0a1.16 1.16 0 1 0 -2.32 0M476.80 253.03a1.16 1.16 0 1 0 2.32 0a1.16 1.16 0 1 0 -2.32 0M479.10 253.03a1.16 1.16 0 1 0 2.32 0a1.16 1.16 0 1 0 -2.32 0" fill="#8AA4EE"/>
<path d="M472.17 191.26a1.19 1.19 0 1 0 2.38 0a1.19 1.19 0 1 0 -2.38 0" fill="#FDB34A"/>
<path d="M472.17 74.60a1.19 1.19 0 1 0 2.38 0a1.19 1.19 0 1 0 -2.38 0M474.47 74.60a1.19 1.19 0 1 0 2.38 0a1.19 1.19 0 1 0 -2.38 0M476.77 74.60a1.19 1.19 0 1 0 2.38 0a1.19 1.19 0 1 0 -2.38 0M479.07 74.60a1.19 1.19 0 1 0 2.38 0a1.19 1.19 0 1 0 -2.38 0M472.17 76.89a1.19 1.19 0 1 0 2.38 0a1.19 1.19 0 1 0 -2.38 0M474.47 76.89a1.19 1.19 0 1 0 2.38 0a1.19 1.19 0 1 0 -2.38 0M476.77 76.89a1.19 1.19 0 1 0 2.38 0a1.19 1.19 0 1 0 -2.38 0M472.17 79.17a1.19 1.19 0 1 0 2.38 0a1.19 1.19 0 1 0 -2.38 0M474.47 79.17a1.19 1.19 0 1 0 2.38 0a1.19 1.19 0 1 0 -2.38 0M476.77 79.17a1.19 1.19 0 1 0 2.38 0a1.19 1.19 0 1 0 -2.38 0M472.17 81.46a1.19 1.19 0 1 0 2.38 0a1.19 1.19 0 1 0 -2.38 0M472.17 83.75a1.19 1.19 0 1 0 2.38 0a1.19 1.19 0 1 0 -2.38 0M472.17 86.04a1.19 1.19 0 1 0 2.38 0a1.19 1.19 0 1 0 -2.38 0M472.17 124.92a1.19 1.19 0 1 0 2.38 0a1.19 1.19 0 1 0 -2.38 0M474.47 124.92a1.19 1.19 0 1 0 2.38 0a1.19 1.19 0 1 0 -2.38 0M472.17 127.21a1.19 1.19 0 1 0 2.38 0a1.19 1.19 0 1 0 -2.38 0M472.17 131.79a1.19 1.19 0 1 0 2.38 0a1.19 1.19 0 1 0 -2.38 0M472.17 147.80a1.19 1.19 0 1 0 2.38 0a1.19 1.19 0 1 0 -2.38 0M474.47 147.80a1.19 1.19 0 1 0 2.38 0a1.19 1.19 0 1 0 -2.38 0M472.17 172.96a1.19 1.19 0 1 0 2.38 0a1.19 1.19 0 1 0 -2.38 0M472.17 221.00a1.19 1.19 0 1 0 2.38 0a1.19 1.19 0 1 0 -2.38 0M472.17 223.29a1.19 1.19 0 1 0 2.38 0a1.19 1.19 0 1 0 -2.38 0M472.17 227.86a1.19 1.19 0 1 0 2.38 0a1.19 1.19 0 1 0 -2.38 0M472.17 246.16a1.19 1.19 0 1 0 2.38 0a1.19 1.19 0 1 0 -2.38 0M472.17 253.03a1.19 1.19 0 1 0 2.38 0a1.19 1.19 0 1 0 -2.38 0M472.17 255.31a1.19 1.19 0 1 0 2.38 0a1.19 1.19 0 1 0 -2.38 0M474.47 255.31a1.19 1.19 0 1 0 2.38 0a1.19 1.19 0 1 0 -2.38 0M472.17 257.60a1.19 1.19 0 1 0 2.38 0a1.19 1.19 0 1 0 -2.38 0M474.47 257.60a1.19 1.19 0 1 0 2.38 0a1.19 1.19 0 1 0 -2.38 0" fill="#E74251"/>
<text x="509.4" y="150.5" text-anchor="middle" font-size="10">14</text>
<path d="M522.90 103.35L533.00 85.00M522.90 106.38L533.00 87.28M522.90 106.73L533.00 89.56M522.90 108.68L533.00 91.85M522.90 110.46L533.00 94.13M522.90 111.72L533.00 96.41M522.90 111.81L533.00 98.69M522.90 114.17L533.00 100.97M522.90 114.40L533.00 103.25M522.90 117.46L533.00 105.54M522.90 118.40L533.00 107.82M522.90 120.29L533.00 110.10M522.90 121.33L533.00 112.38M522.90 121.73L533.00 114.66M522.90 122.06L533.00 116.94M522.90 122.40L533.00 121.51M522.90 122.47L533.00 123.79M522.90 122.85L533.00 126.07M522.90 125.26L533.00 128.35M522.90 125.44L533.00 130.63M522.90 125.48L533.00 132.92M522.90 126.67L533.00 135.20M522.90 126.72L533.00 137.48M522.90 127.42L533.00 139.76M522.90 131.77L533.00 142.04M522.90 132.61L533.00 144.32M522.90 132.75L533.00 146.61M522.90 134.61L533.00 148.89M522.90 135.81L533.00 151.17M522.90 137.72L533.00 153.45M522.90 138.41L533.00 155.73M522.90 139.30L533.00 158.01M522.90 139.56L533.00 160.30M522.90 140.59L533.00 162.58M522.90 143.23L533.00 164.86M522.90 144.31L533.00 167.14M522.90 148.11L533.00 169.42M522.90 148.27L533.00 171.70M522.90 148.92L533.00 173.99M522.90 149.13L533.00 176.27M522.90 152.10L533.00 178.55M522.90 152.48L533.00 180.83M522.90 153.22L533.00 183.11M522.90 154.41L533.00 185.39M522.90 157.08L533.00 187.68M522.90 157.30L533.00 189.96M522.90 157.64L533.00 192.24M522.90 158.31L533.00 194.52M522.90 159.04L533.00 196.80M522.90 159.26L533.00 199.08M522.90 161.34L533.00 201.37M522.90 161.34L533.00 203.65M522.90 162.90L533.00 205.93M522.90 163.76L533.00 208.21M522.90 164.20L533.00 210.49M522.90 165.75L533.00 212.77M522.90 166.03L533.00 215.06M522.90 171.76L533.00 217.34M522.90 177.86L533.00 219.62M522.90 179.39L533.00 221.90M522.90 181.35L533.00 224.18M522.90 182.54L533.00 226.46M522.90 183.78L533.00 228.75M522.90 184.00L533.00 231.03M522.90 187.11L533.00 233.31M522.90 188.32L533.00 235.59M522.90 188.38L533.00 237.87M522.90 189.62L533.00 240.15M522.90 189.86L533.00 242.44M522.90 190.42L533.00 244.72M522.90 190.57L533.00 247.00" stroke="#000" stroke-width="0.5" fill="none"/>
<rect x="519.0" y="100.2" width="3.30" height="91.80" rx="1.65" fill="#dadada"/>
<path d="M519.00 103.40h3.30v1.80h-3.30zM519.00 113.90h3.30v1.80h-3.30zM519.00 116.30h3.30v0.90h-3.30zM519.00 133.75h3.30v0.70h-3.30zM519.00 139.10h3.30v0.70h-3.30zM519.00 170.75h3.30v0.90h-3.30zM519.00 180.75h3.30v0.70h-3.30zM519.00 182.70h3.30v1.80h-3.30z" fill="#5e5e5e"/>
<path d="M519.00 105.65h3.30v1.10h-3.30zM519.00 111.50h3.30v1.80h-3.30zM519.00 152.75h3.30v1.40h-3.30zM519.00 160.60h3.30v0.90h-3.30zM519.00 181.90h3.30v0.50h-3.30zM519.00 186.45h3.30v1.40h-3.30z" fill="#111"/>
<path d="M519.00 107.35h3.30v0.70h-3.30zM519.00 109.80h3.30v1.10h-3.30zM519.00 118.00h3.30v1.10h-3.30zM519.00 123.40h3.30v1.40h-3.30zM519.00 130.40h3.30v1.40h-3.30zM519.00 132.25h3.30v0.70h-3.30zM519.00 149.25h3.30v0.50h-3.30zM519.00 150.75h3.30v1.40h-3.30zM519.00 154.95h3.30v1.10h-3.30zM519.00 165.15h3.30v0.50h-3.30zM519.00 172.10h3.30v1.40h-3.30z" fill="#000"/>
<path d="M519.00 108.50h3.30v0.70h-3.30zM519.00 126.95h3.30v1.80h-3.30zM519.00 135.25h3.30v0.70h-3.30zM519.00 137.60h3.30v0.90h-3.30zM519.00 143.40h3.30v0.70h-3.30zM519.00 144.70h3.30v0.90h-3.30zM519.00 147.35h3.30v1.10h-3.30zM519.00 156.65h3.30v1.80h-3.30zM519.00 169.45h3.30v0.50h-3.30zM519.00 176.70h3.30v0.70h-3.30zM519.00 184.95h3.30v0.50h-3.30z" fill="#7a7a7a"/>
<path d="M519.00 119.40h3.30v1.10h-3.30zM519.00 125.10h3.30v1.40h-3.30zM519.00 136.40h3.30v0.90h-3.30zM519.00 142.10h3.30v0.70h-3.30zM519.00 158.90h3.30v1.10h-3.30zM519.00 163.45h3.30v0.70h-3.30zM519.00 174.30h3.30v1.80h-3.30zM519.00 188.30h3.30v0.50h-3.30z" fill="#444"/>
<path d="M519.00 121.50h3.30v0.90h-3.30zM519.00 129.05h3.30v0.90h-3.30zM519.00 140.40h3.30v0.90h-3.30zM519.00 146.05h3.30v0.70h-3.30zM519.00 162.30h3.30v0.70h-3.30zM519.00 166.65h3.30v1.80h-3.30zM519.00 178.20h3.30v0.70h-3.30zM519.00 179.20h3.30v1.10h-3.30z" fill="#2a2a2a"/>
<ellipse cx="520.65" cy="101.70" rx="1.65" ry="1.5" fill="#000"/>
<ellipse cx="520.65" cy="190.50" rx="1.65" ry="1.5" fill="#000"/>
<path d="M546.30 91.85a1.16 1.16 0 1 0 2.32 0a1.16 1.16 0 1 0 -2.32 0M548.60 91.85a1.16 1.16 0 1 0 2.32 0a1.16 1.16 0 1 0 -2.32 0M550.90 91.85a1.16 1.16 0 1 0 2.32 0a1.16 1.16 0 1 0 -2.32 0M553.20 91.85a1.16 1.16 0 1 0 2.32 0a1.16 1.16 0 1 0 -2.32 0M555.50 91.85a1.16 1.16 0 1 0 2.32 0a1.16 1.16 0 1 0 -2.32 0M557.80 91.85a1.16 1.16 0 1 0 2.32 0a1.16 1.16 0 1 0 -2.32 0M534.80 94.13a1.16 1.16 0 1 0 2.32 0a1.16 1.16 0 1 0 -2.32 0M537.10 94.13a1.16 1.16 0 1 0 2.32 0a1.16 1.16 0 1 0 -2.32 0M539.40 94.13a1.16 1.16 0 1 0 2.32 0a1.16 1.16 0 1 0 -2.32 0M534.80 96.41a1.16 1.16 0 1 0 2.32 0a1.16 1.16 0 1 0 -2.32 0M534.80 98.69a1.16 1.16 0 1 0 2.32 0a1.16 1.16 0 1 0 -2.32 0M537.10 98.69a1.16 1.16 0 1 0 2.32 0a1.16 1.16 0 1 0 -2.32 0M539.40 98.69a1.16 1.16 0 1 0 2.32 0a1.16 1.16 0 1 0 -2.32 0M534.80 100.97a1.16 1.16 0 1 0 2.32 0a1.16 1.16 0 1 0 -2.32 0M537.10 100.97a1.16 1.16 0 1 0 2.32 0a1.16 1.16 0 1 0 -2.32 0M539.40 100.97a1.16 1.16 0 1 0 2.32 0a1.16 1.16 0 1 0 -2.32 0M541.70 100.97a1.16 1.16 0 1 0 2.32 0a1.16 1.16 0 1 0 -2.32 0M544.00 100.97a1.16 1.16 0 1 0 2.32 0a1.16 1.16 0 1 0 -2.32 0M534.80 103.25a1.16 1.16 0 1 0 2.32 0a1.16 1.16 0 1 0 -2.32 0M537.10 103.25a1.16 1.16 0 1 0 2.32 0a1.16 1.16 0 1 0 -2.32 0M534.80 105.54a1.16 1.16 0 1 0 2.32 0a1.16 1.16 0 1 0 -2.32 0M537.10 105.54a1.16 1.16 0 1 0 2.32 0a1.16 1.16 0 1 0 -2.32 0M539.40 105.54a1.16 1.16 0 1 0 2.32 0a1.16 1.16 0 1 0 -2.32 0M534.80 107.82a1.16 1.16 0 1 0 2.32 0a1.16 1.16 0 1 0 -2.32 0M537.10 107.82a1.16 1.16 0 1 0 2.32 0a1.16 1.16 0 1 0 -2.32 0M534.80 110.10a1.16 1.16 0 1 0 2.32 0a1.16 1.16 0 1 0 -2.32 0M537.10 110.10a1.16 1.16 0 1 0 2.32 0a1.16 1.16 0 1 0 -2.32 0M539.40 110.10a1.16 1.16 0 1 0 2.32 0a1.16 1.16 0 1 0 -2.32 0M541.70 110.10a1.16 1.16 0 1 0 2.32 0a1.16 1.16 0 1 0 -2.32 0M534.80 112.38a1.16 1.16 0 1 0 2.32 0a1.16 1.16 0 1 0 -2.32 0M534.80 114.66a1.16 1.16 0 1 0 2.32 0a1.16 1.16 0 1 0 -2.32 0M534.80 123.79a1.16 1.16 0 1 0 2.32 0a1.16 1.16 0 1 0 -2.32 0M537.10 123.79a1.16 1.16 0 1 0 2.32 0a1.16 1.16 0 1 0 -2.32 0M539.40 123.79a1.16 1.16 0 1 0 2.32 0a1.16 1.16 0 1 0 -2.32 0M534.80 126.07a1.16 1.16 0 1 0 2.32 0a1.16 1.16 0 1 0 -2.32 0M537.10 126.07a1.16 1.16 0 1 0 2.32 0a1.16 1.16 0 1 0 -2.32 0M534.80 128.35a1.16 1.16 0 1 0 2.32 0a1.16 1.16 0 1 0 -2.32 0M534.80 130.63a1.16 1.16 0 1 0 2.32 0a1.16 1.16 0 1 0 -2.32 0M537.10 130.63a1.16 1.16 0 1 0 2.32 0a1.16 1.16 0 1 0 -2.32 0M539.40 130.63a1.16 1.16 0 1 0 2.32 0a1.16 1.16 0 1 0 -2.32 0M541.70 130.63a1.16 1.16 0 1 0 2.32 0a1.16 1.16 0 1 0 -2.32 0M544.00 130.63a1.16 1.16 0 1 0 2.32 0a1.16 1.16 0 1 0 -2.32 0M546.30 130.63a1.16 1.16 0 1 0 2.32 0a1.16 1.16 0 1 0 -2.32 0M548.60 130.63a1.16 1.16 0 1 0 2.32 0a1.16 1.16 0 1 0 -2.32 0M534.80 132.92a1.16 1.16 0 1 0 2.32 0a1.16 1.16 0 1 0 -2.32 0M537.10 132.92a1.16 1.16 0 1 0 2.32 0a1.16 1.16 0 1 0 -2.32 0M539.40 132.92a1.16 1.16 0 1 0 2.32 0a1.16 1.16 0 1 0 -2.32 0M541.70 132.92a1.16 1.16 0 1 0 2.32 0a1.16 1.16 0 1 0 -2.32 0M534.80 135.20a1.16 1.16 0 1 0 2.32 0a1.16 1.16 0 1 0 -2.32 0M537.10 135.20a1.16 1.16 0 1 0 2.32 0a1.16 1.16 0 1 0 -2.32 0M539.40 135.20a1.16 1.16 0 1 0 2.32 0a1.16 1.16 0 1 0 -2.32 0M541.70 135.20a1.16 1.16 0 1 0 2.32 0a1.16 1.16 0 1 0 -2.32 0M534.80 137.48a1.16 1.16 0 1 0 2.32 0a1.16 1.16 0 1 0 -2.32 0M537.10 137.48a1.16 1.16 0 1 0 2.32 0a1.16 1.16 0 1 0 -2.32 0M537.10 139.76a1.16 1.16 0 1 0 2.32 0a1.16 1.16 0 1 0 -2.32 0M539.40 139.76a1.16 1.16 0 1 0 2.32 0a1.16 1.16 0 1 0 -2.32 0M541.70 139.76a1.16 1.16 0 1 0 2.32 0a1.16 1.16 0 1 0 -2.32 0M544.00 139.76a1.16 1.16 0 1 0 2.32 0a1.16 1.16 0 1 0 -2.32 0M534.80 142.04a1.16 1.16 0 1 0 2.32 0a1.16 1.16 0 1 0 -2.32 0M537.10 142.04a1.16 1.16 0 1 0 2.32 0a1.16 1.16 0 1 0 -2.32 0M539.40 142.04a1.16 1.16 0 1 0 2.32 0a1.16 1.16 0 1 0 -2.32 0M534.80 144.32a1.16 1.16 0 1 0 2.32 0a1.16 1.16 0 1 0 -2.32 0M537.10 144.32a1.16 1.16 0 1 0 2.32 0a1.16 1.16 0 1 0 -2.32 0M539.40 144.32a1.16 1.16 0 1 0 2.32 0a1.16 1.16 0 1 0 -2.32 0M534.80 146.61a1.16 1.16 0 1 0 2.32 0a1.16 1.16 0 1 0 -2.32 0M537.10 146.61a1.16 1.16 0 1 0 2.32 0a1.16 1.16 0 1 0 -2.32 0M539.40 146.61a1.16 1.16 0 1 0 2.32 0a1.16 1.16 0 1 0 -2.32 0M541.70 146.61a1.16 1.16 0 1 0 2.32 0a1.16 1.16 0 1 0 -2.32 0M544.00 146.61a1.16 1.16 0 1 0 2.32 0a1.16 1.16 0 1 0 -2.32 0M534.80 148.89a1.16 1.16 0 1 0 2.32 0a1.16 1.16 0 1 0 -2.32 0M537.10 148.89a1.16 1.16 0 1 0 2.32 0a1.16 1.16 0 1 0 -2.32 0M539.40 148.89a1.16 1.16 0 1 0 2.32 0a1.16 1.16 0 1 0 -2.32 0M534.80 151.17a1.16 1.16 0 1 0 2.32 0a1.16 1.16 0 1 0 -2.32 0M537.10 151.17a1.16 1.16 0 1 0 2.32 0a1.16 1.16 0 1 0 -2.32 0M539.40 151.17a1.16 1.16 0 1 0 2.32 0a1.16 1.16 0 1 0 -2.32 0M541.70 151.17a1.16 1.16 0 1 0 2.32 0a1.16 1.16 0 1 0 -2.32 0M534.80 153.45a1.16 1.16 0 1 0 2.32 0a1.16 1.16 0 1 0 -2.32 0M537.10 153.45a1.16 1.16 0 1 0 2.32 0a1.16 1.16 0 1 0 -2.32 0M539.40 153.45a1.16 1.16 0 1 0 2.32 0a1.16 1.16 0 1 0 -2.32 0M534.80 155.73a1.16 1.16 0 1 0 2.32 0a1.16 1.16 0 1 0 -2.32 0M537.10 155.73a1.16 1.16 0 1 0 2.32 0a1.16 1.16 0 1 0 -2.32 0M539.40 155.73a1.16 1.16 0 1 0 2.32 0a1.16 1.16 0 1 0 -2.32 0M541.70 155.73a1.16 1.16 0 1 0 2.32 0a1.16 1.16 0 1 0 -2.32 0M544.00 155.73a1.16 1.16 0 1 0 2.32 0a1.16 1.16 0 1 0 -2.32 0M546.30 155.73a1.16 1.16 0 1 0 2.32 0a1.16 1.16 0 1 0 -2.32 0M534.80 158.01a1.16 1.16 0 1 0 2.32 0a1.16 1.16 0 1 0 -2.32 0M537.10 158.01a1.16 1.16 0 1 0 2.32 0a1.16 1.16 0 1 0 -2.32 0M539.40 158.01a1.16 1.16 0 1 0 2.32 0a1.16 1.16 0 1 0 -2.32 0M541.70 158.01a1.16 1.16 0 1 0 2.32 0a1.16 1.16 0 1 0 -2.32 0M544.00 158.01a1.16 1.16 0 1 0 2.32 0a1.16 1.16 0 1 0 -2.32 0M546.30 158.01a1.16 1.16 0 1 0 2.32 0a1.16 1.16 0 1 0 -2.32 0M534.80 160.30a1.16 1.16 0 1 0 2.32 0a1.16 1.16 0 1 0 -2.32 0M537.10 160.30a1.16 1.16 0 1 0 2.32 0a1.16 1.16 0 1 0 -2.32 0M534.80 162.58a1.16 1.16 0 1 0 2.32 0a1.16 1.16 0 1 0 -2.32 0M537.10 162.58a1.16 1.16 0 1 0 2.32 0a1.16 1.16 0 1 0 -2.32 0M534.80 164.86a1.16 1.16 0 1 0 2.32 0a1.16 1.16 0 1 0 -2.32 0M537.10 164.86a1.16 1.16 0 1 0 2.32 0a1.16 1.16 0 1 0 -2.32 0M534.80 167.14a1.16 1.16 0 1 0 2.32 0a1.16 1.16 0 1 0 -2.32 0M537.10 167.14a1.16 1.16 0 1 0 2.32 0a1.16 1.16 0 1 0 -2.32 0M534.80 169.42a1.16 1.16 0 1 0 2.32 0a1.16 1.16 0 1 0 -2.32 0M537.10 169.42a1.16 1.16 0 1 0 2.32 0a1.16 1.16 0 1 0 -2.32 0M539.40 169.42a1.16 1.16 0 1 0 2.32 0a1.16 1.16 0 1 0 -2.32 0M541.70 169.42a1.16 1.16 0 1 0 2.32 0a1.16 1.16 0 1 0 -2.32 0M534.80 171.70a1.16 1.16 0 1 0 2.32 0a1.16 1.16 0 1 0 -2.32 0M537.10 171.70a1.16 1.16 0 1 0 2.32 0a1.16 1.16 0 1 0 -2.32 0M539.40 171.70a1.16 1.16 0 1 0 2.32 0a1.16 1.16 0 1 0 -2.32 0M541.70 171.70a1.16 1.16 0 1 0 2.32 0a1.16 1.16 0 1 0 -2.32 0M534.80 173.99a1.16 1.16 0 1 0 2.32 0a1.16 1.16 0 1 0 -2.32 0M537.10 173.99a1.16 1.16 0 1 0 2.32 0a1.16 1.16 0 1 0 -2.32 0M539.40 173.99a1.16 1.16 0 1 0 2.32 0a1.16 1.16 0 1 0 -2.32 0M541.70 173.99a1.16 1.16 0 1 0 2.32 0a1.16 1.16 0 1 0 -2.32 0M534.80 176.27a1.16 1.16 0 1 0 2.32 0a1.16 1.16 0 1 0 -2.32 0M537.10 176.27a1.16 1.16 0 1 0 2.32 0a1.16 1.16 0 1 0 -2.32 0M539.40 176.27a1.16 1.16 0 1 0 2.32 0a1.16 1.16 0 1 0 -2.32 0M541.70 176.27a1.16 1.16 0 1 0 2.32 0a1.16 1.16 0 1 0 -2.32 0M534.80 178.55a1.16 1.16 0 1 0 2.32 0a1.16 1.16 0 1 0 -2.32 0M537.10 178.55a1.16 1.16 0 1 0 2.32 0a1.16 1.16 0 1 0 -2.32 0M534.80 180.83a1.16 1.16 0 1 0 2.32 0a1.16 1.16 0 1 0 -2.32 0M537.10 180.83a1.16 1.16 0 1 0 2.32 0a1.16 1.16 0 1 0 -2.32 0M539.40 180.83a1.16 1.16 0 1 0 2.32 0a1.16 1.16 0 1 0 -2.32 0M541.70 180.83a1.16 1.16 0 1 0 2.32 0a1.16 1.16 0 1 0 -2.32 0M544.00 180.83a1.16 1.16 0 1 0 2.32 0a1.16 1.16 0 1 0 -2.32 0M534.80 183.11a1.16 1.16 0 1 0 2.32 0a1.16 1.16 0 1 0 -2.32 0M534.80 185.39a1.16 1.16 0 1 0 2.32 0a1.16 1.16 0 1 0 -2.32 0M534.80 187.68a1.16 1.16 0 1 0 2.32 0a1.16 1.16 0 1 0 -2.32 0M534.80 189.96a1.16 1.16 0 1 0 2.32 0a1.16 1.16 0 1 0 -2.32 0M534.80 192.24a1.16 1.16 0 1 0 2.32 0a1.16 1.16 0 1 0 -2.32 0M537.10 192.24a1.16 1.16 0 1 0 2.32 0a1.16 1.16 0 1 0 -2.32 0M539.40 192.24a1.16 1.16 0 1 0 2.32 0a1.16 1.16 0 1 0 -2.32 0M541.70 192.24a1.16 1.16 0 1 0 2.32 0a1.16 1.16 0 1 0 -2.32 0M534.80 194.52a1.16 1.16 0 1 0 2.32 0a1.16 1.16 0 1 0 -2.32 0M534.80 196.80a1.16 1.16 0 1 0 2.32 0a1.16 1.16 0 1 0 -2.32 0M537.10 196.80a1.16 1.16 0 1 0 2.32 0a1.16 1.16 0 1 0 -2.32 0M539.40 196.80a1.16 1.16 0 1 0 2.32 0a1.16 1.16 0 1 0 -2.32 0M541.70 196.80a1.16 1.16 0 1 0 2.32 0a1.16 1.16 0 1 0 -2.32 0M544.00 196.80a1.16 1.16 0 1 0 2.32 0a1.16 1.16 0 1 0 -2.32 0M546.30 196.80a1.16 1.16 0 1 0 2.32 0a1.16 1.16 0 1 0 -2.32 0M548.60 196.80a1.16 1.16 0 1 0 2.32 0a1.16 1.16 0 1 0 -2.32 0M534.80 199.08a1.16 1.16 0 1 0 2.32 0a1.16 1.16 0 1 0 -2.32 0M534.80 201.37a1.16 1.16 0 1 0 2.32 0a1.16 1.16 0 1 0 -2.32 0M537.10 201.37a1.16 1.16 0 1 0 2.32 0a1.16 1.16 0 1 0 -2.32 0M539.40 201.37a1.16 1.16 0 1 0 2.32 0a1.16 1.16 0 1 0 -2.32 0M534.80 203.65a1.16 1.16 0 1 0 2.32 0a1.16 1.16 0 1 0 -2.32 0M537.10 203.65a1.16 1.16 0 1 0 2.32 0a1.16 1.16 0 1 0 -2.32 0M539.40 203.65a1.16 1.16 0 1 0 2.32 0a1.16 1.16 0 1 0 -2.32 0M541.70 203.65a1.16 1.16 0 1 0 2.32 0a1.16 1.16 0 1 0 -2.32 0M544.00 203.65a1.16 1.16 0 1 0 2.32 0a1.16 1.16 0 1 0 -2.32 0M534.80 205.93a1.16 1.16 0 1 0 2.32 0a1.16 1.16 0 1 0 -2.32 0M537.10 205.93a1.16 1.16 0 1 0 2.32 0a1.16 1.16 0 1 0 -2.32 0M539.40 205.93a1.16 1.16 0 1 0 2.32 0a1.16 1.16 0 1 0 -2.32 0M541.70 205.93a1.16 1.16 0 1 0 2.32 0a1.16 1.16 0 1 0 -2.32 0M544.00 205.93a1.16 1.16 0 1 0 2.32 0a1.16 1.16 0 1 0 -2.32 0M546.30 205.93a1.16 1.16 0 1 0 2.32 0a1.16 1.16 0 1 0 -2.32 0M548.60 205.93a1.16 1.16 0 1 0 2.32 0a1.16 1.16 0 1 0 -2.32 0M550.90 205.93a1.16 1.16 0 1 0 2.32 0a1.16 1.16 0 1 0 -2.32 0M553.20 205.93a1.16 1.16 0 1 0 2.32 0a1.16 1.16 0 1 0 -2.32 0M534.80 208.21a1.16 1.16 0 1 0 2.32 0a1.16 1.16 0 1 0 -2.32 0M534.80 210.49a1.16 1.16 0 1 0 2.32 0a1.16 1.16 0 1 0 -2.32 0M537.10 210.49a1.16 1.16 0 1 0 2.32 0a1.16 1.16 0 1 0 -2.32 0M539.40 210.49a1.16 1.16 0 1 0 2.32 0a1.16 1.16 0 1 0 -2.32 0M541.70 210.49a1.16 1.16 0 1 0 2.32 0a1.16 1.16 0 1 0 -2.32 0M534.80 212.77a1.16 1.16 0 1 0 2.32 0a1.16 1.16 0 1 0 -2.32 0M534.80 215.06a1.16 1.16 0 1 0 2.32 0a1.16 1.16 0 1 0 -2.32 0M537.10 215.06a1.16 1.16 0 1 0 2.32 0a1.16 1.16 0 1 0 -2.32 0M539.40 215.06a1.16 1.16 0 1 0 2.32 0a1.16 1.16 0 1 0 -2.32 0M541.70 215.06a1.16 1.16 0 1 0 2.32 0a1.16 1.16 0 1 0 -2.32 0M537.10 217.34a1.16 1.16 0 1 0 2.32 0a1.16 1.16 0 1 0 -2.32 0M539.40 217.34a1.16 1.16 0 1 0 2.32 0a1.16 1.16 0 1 0 -2.32 0M541.70 217.34a1.16 1.16 0 1 0 2.32 0a1.16 1.16 0 1 0 -2.32 0M544.00 217.34a1.16 1.16 0 1 0 2.32 0a1.16 1.16 0 1 0 -2.32 0M537.10 219.62a1.16 1.16 0 1 0 2.32 0a1.16 1.16 0 1 0 -2.32 0M539.40 219.62a1.16 1.16 0 1 0 2.32 0a1.16 1.16 0 1 0 -2.32 0M541.70 219.62a1.16 1.16 0 1 0 2.32 0a1.16 1.16 0 1 0 -2.32 0M544.00 219.62a1.16 1.16 0 1 0 2.32 0a1.16 1.16 0 1 0 -2.32 0M546.30 219.62a1.16 1.16 0 1 0 2.32 0a1.16 1.16 0 1 0 -2.32 0M548.60 219.62a1.16 1.16 0 1 0 2.32 0a1.16 1.16 0 1 0 -2.32 0M550.90 219.62a1.16 1.16 0 1 0 2.32 0a1.16 1.16 0 1 0 -2.32 0M534.80 221.90a1.16 1.16 0 1 0 2.32 0a1.16 1.16 0 1 0 -2.32 0M537.10 221.90a1.16 1.16 0 1 0 2.32 0a1.16 1.16 0 1 0 -2.32 0M539.40 221.90a1.16 1.16 0 1 0 2.32 0a1.16 1.16 0 1 0 -2.32 0M541.70 221.90a1.16 1.16 0 1 0 2.32 0a1.16 1.16 0 1 0 -2.32 0M544.00 221.90a1.16 1.16 0 1 0 2.32 0a1.16 1.16 0 1 0 -2.32 0M546.30 221.90a1.16 1.16 0 1 0 2.32 0a1.16 1.16 0 1 0 -2.32 0M548.60 221.90a1.16 1.16 0 1 0 2.32 0a1.16 1.16 0 1 0 -2.32 0M550.90 221.90a1.16 1.16 0 1 0 2.32 0a1.16 1.16 0 1 0 -2.32 0M553.20 221.90a1.16 1.16 0 1 0 2.32 0a1.16 1.16 0 1 0 -2.32 0M555.50 221.90a1.16 1.16 0 1 0 2.32 0a1.16 1.16 0 1 0 -2.32 0M557.80 221.90a1.16 1.16 0 1 0 2.32 0a1.16 1.16 0 1 0 -2.32 0M560.10 221.90a1.16 1.16 0 1 0 2.32 0a1.16 1.16 0 1 0 -2.32 0M534.80 224.18a1.16 1.16 0 1 0 2.32 0a1.16 1.16 0 1 0 -2.32 0M537.10 224.18a1.16 1.16 0 1 0 2.32 0a1.16 1.16 0 1 0 -2.32 0M539.40 224.18a1.16 1.16 0 1 0 2.32 0a1.16 1.16 0 1 0 -2.32 0M541.70 224.18a1.16 1.16 0 1 0 2.32 0a1.16 1.16 0 1 0 -2.32 0M544.00 224.18a1.16 1.16 0 1 0 2.32 0a1.16 1.16 0 1 0 -2.32 0M546.30 224.18a1.16 1.16 0 1 0 2.32 0a1.16 1.16 0 1 0 -2.32 0M534.80 226.46a1.16 1.16 0 1 0 2.32 0a1.16 1.16 0 1 0 -2.32 0M537.10 226.46a1.16 1.16 0 1 0 2.32 0a1.16 1.16 0 1 0 -2.32 0M534.80 228.75a1.16 1.16 0 1 0 2.32 0a1.16 1.16 0 1 0 -2.32 0M537.10 228.75a1.16 1.16 0 1 0 2.32 0a1.16 1.16 0 1 0 -2.32 0M534.80 231.03a1.16 1.16 0 1 0 2.32 0a1.16 1.16 0 1 0 -2.32 0M537.10 231.03a1.16 1.16 0 1 0 2.32 0a1.16 1.16 0 1 0 -2.32 0M539.40 231.03a1.16 1.16 0 1 0 2.32 0a1.16 1.16 0 1 0 -2.32 0M537.10 233.31a1.16 1.16 0 1 0 2.32 0a1.16 1.16 0 1 0 -2.32 0M537.10 235.59a1.16 1.16 0 1 0 2.32 0a1.16 1.16 0 1 0 -2.32 0M539.40 235.59a1.16 1.16 0 1 0 2.32 0a1.16 1.16 0 1 0 -2.32 0M541.70 235.59a1.16 1.16 0 1 0 2.32 0a1.16 1.16 0 1 0 -2.32 0M544.00 235.59a1.16 1.16 0 1 0 2.32 0a1.16 1.16 0 1 0 -2.32 0M534.80 237.87a1.16 1.16 0 1 0 2.32 0a1.16 1.16 0 1 0 -2.32 0M537.10 240.15a1.16 1.16 0 1 0 2.32 0a1.16 1.16 0 1 0 -2.32 0M539.40 240.15a1.16 1.16 0 1 0 2.32 0a1.16 1.16 0 1 0 -2.32 0M534.80 242.44a1.16 1.16 0 1 0 2.32 0a1.16 1.16 0 1 0 -2.32 0M537.10 242.44a1.16 1.16 0 1 0 2.32 0a1.16 1.16 0 1 0 -2.32 0M539.40 242.44a1.16 1.16 0 1 0 2.32 0a1.16 1.16 0 1 0 -2.32 0M541.70 242.44a1.16 1.16 0 1 0 2.32 0a1.16 1.16 0 1 0 -2.32 0M544.00 242.44a1.16 1.16 0 1 0 2.32 0a1.16 1.16 0 1 0 -2.32 0M546.30 242.44a1.16 1.16 0 1 0 2.32 0a1.16 1.16 0 1 0 -2.32 0M548.60 242.44a1.16 1.16 0 1 0 2.32 0a1.16 1.16 0 1 0 -2.32 0M534.80 244.72a1.16 1.16 0 1 0 2.32 0a1.16 1.16 0 1 0 -2.32 0" fill="#8AA4EE"/>
<path d="M534.77 85.00a1.19 1.19 0 1 0 2.38 0a1.19 1.19 0 1 0 -2.38 0M534.77 87.28a1.19 1.19 0 1 0 2.38 0a1.19 1.19 0 1 0 -2.38 0M537.07 87.28a1.19 1.19 0 1 0 2.38 0a1.19 1.19 0 1 0 -2.38 0M539.37 87.28a1.19 1.19 0 1 0 2.38 0a1.19 1.19 0 1 0 -2.38 0M541.67 87.28a1.19 1.19 0 1 0 2.38 0a1.19 1.19 0 1 0 -2.38 0M543.97 87.28a1.19 1.19 0 1 0 2.38 0a1.19 1.19 0 1 0 -2.38 0M534.77 89.56a1.19 1.19 0 1 0 2.38 0a1.19 1.19 0 1 0 -2.38 0M537.07 89.56a1.19 1.19 0 1 0 2.38 0a1.19 1.19 0 1 0 -2.38 0M539.37 89.56a1.19 1.19 0 1 0 2.38 0a1.19 1.19 0 1 0 -2.38 0M541.67 89.56a1.19 1.19 0 1 0 2.38 0a1.19 1.19 0 1 0 -2.38 0M534.77 91.85a1.19 1.19 0 1 0 2.38 0a1.19 1.19 0 1 0 -2.38 0M537.07 91.85a1.19 1.19 0 1 0 2.38 0a1.19 1.19 0 1 0 -2.38 0M539.37 91.85a1.19 1.19 0 1 0 2.38 0a1.19 1.19 0 1 0 -2.38 0M541.67 91.85a1.19 1.19 0 1 0 2.38 0a1.19 1.19 0 1 0 -2.38 0M543.97 91.85a1.19 1.19 0 1 0 2.38 0a1.19 1.19 0 1 0 -2.38 0M534.77 116.94a1.19 1.19 0 1 0 2.38 0a1.19 1.19 0 1 0 -2.38 0M537.07 116.94a1.19 1.19 0 1 0 2.38 0a1.19 1.19 0 1 0 -2.38 0M534.77 121.51a1.19 1.19 0 1 0 2.38 0a1.19 1.19 0 1 0 -2.38 0M537.07 121.51a1.19 1.19 0 1 0 2.38 0a1.19 1.19 0 1 0 -2.38 0M534.77 139.76a1.19 1.19 0 1 0 2.38 0a1.19 1.19 0 1 0 -2.38 0M534.77 217.34a1.19 1.19 0 1 0 2.38 0a1.19 1.19 0 1 0 -2.38 0M534.77 219.62a1.19 1.19 0 1 0 2.38 0a1.19 1.19 0 1 0 -2.38 0M534.77 233.31a1.19 1.19 0 1 0 2.38 0a1.19 1.19 0 1 0 -2.38 0M534.77 235.59a1.19 1.19 0 1 0 2.38 0a1.19 1.19 0 1 0 -2.38 0M534.77 240.15a1.19 1.19 0 1 0 2.38 0a1.19 1.19 0 1 0 -2.38 0M534.77 247.00a1.19 1.19 0 1 0 2.38 0a1.19 1.19 0 1 0 -2.38 0M537.07 247.00a1.19 1.19 0 1 0 2.38 0a1.19 1.19 0 1 0 -2.38 0M539.37 247.00a1.19 1.19 0 1 0 2.38 0a1.19 1.19 0 1 0 -2.38 0M541.67 247.00a1.19 1.19 0 1 0 2.38 0a1.19 1.19 0 1 0 -2.38 0M543.97 247.00a1.19 1.19 0 1 0 2.38 0a1.19 1.19 0 1 0 -2.38 0M546.27 247.00a1.19 1.19 0 1 0 2.38 0a1.19 1.19 0 1 0 -2.38 0M548.57 247.00a1.19 1.19 0 1 0 2.38 0a1.19 1.19 0 1 0 -2.38 0" fill="#E74251"/>
<text x="571.5" y="187.0" text-anchor="middle" font-size="10">15</text>
<path d="M585.80 120.86L594.60 48.30M585.80 122.91L594.60 50.58M585.80 124.16L594.60 52.87M585.80 124.49L594.60 55.15M585.80 124.81L594.60 57.43M585.80 125.69L594.60 59.72M585.80 128.90L594.60 62.00M585.80 129.84L594.60 64.28M585.80 131.48L594.60 66.57M585.80 131.83L594.60 68.85M585.80 133.39L594.60 71.13M585.80 133.86L594.60 73.42M585.80 134.30L594.60 75.70M585.80 134.88L594.60 77.99M585.80 137.77L594.60 80.27M585.80 138.59L594.60 82.55M585.80 138.72L594.60 84.84M585.80 141.43L594.60 87.12M585.80 142.29L594.60 89.40M585.80 142.30L594.60 91.69M585.80 149.16L594.60 93.97M585.80 149.28L594.60 96.25M585.80 153.58L594.60 98.54M585.80 154.16L594.60 100.82M585.80 154.31L594.60 103.10M585.80 154.37L594.60 105.39M585.80 155.23L594.60 107.67M585.80 157.39L594.60 109.95M585.80 158.13L594.60 112.24M585.80 160.32L594.60 114.52M585.80 161.84L594.60 116.80M585.80 162.20L594.60 119.09M585.80 162.72L594.60 121.37M585.80 163.05L594.60 123.66M585.80 165.14L594.60 125.94M585.80 167.21L594.60 128.22M585.80 167.96L594.60 130.51M585.80 168.15L594.60 132.79M585.80 169.91L594.60 135.07M585.80 170.47L594.60 137.36M585.80 172.75L594.60 139.64M585.80 174.80L594.60 141.92M585.80 176.02L594.60 144.21M585.80 176.16L594.60 146.49M585.80 177.19L594.60 148.77M585.80 178.03L594.60 151.06M585.80 179.16L594.60 153.34M585.80 179.74L594.60 155.62M585.80 182.19L594.60 157.91M585.80 182.63L594.60 160.19M585.80 183.21L594.60 162.47M585.80 188.49L594.60 164.76M585.80 191.04L594.60 167.04M585.80 192.19L594.60 169.33M585.80 193.06L594.60 171.61M585.80 193.19L594.60 173.89M585.80 193.64L594.60 176.18M585.80 194.76L594.60 178.46M585.80 195.34L594.60 180.74M585.80 196.34L594.60 183.03M585.80 196.59L594.60 185.31M585.80 198.16L594.60 187.59M585.80 198.69L594.60 189.88M585.80 201.09L594.60 192.16M585.80 202.65L594.60 194.44M585.80 202.75L594.60 196.73M585.80 203.02L594.60 199.01M585.80 203.05L594.60 201.29M585.80 205.55L594.60 203.58M585.80 207.77L594.60 205.86M585.80 209.78L594.60 210.43M585.80 210.56L594.60 212.71M585.80 211.08L594.60 215.00M585.80 212.65L594.60 217.28M585.80 212.69L594.60 219.56M585.80 213.12L594.60 221.85M585.80 214.51L594.60 224.13M585.80 214.84L594.60 226.41M585.80 214.97L594.60 228.70M585.80 216.62L594.60 230.98M585.80 216.84L594.60 233.26M585.80 218.57L594.60 235.55M585.80 219.24L594.60 237.83M585.80 219.50L594.60 240.11M585.80 220.22L594.60 242.40M585.80 220.49L594.60 244.68M585.80 224.02L594.60 246.96M585.80 226.34L594.60 249.25M585.80 229.94L594.60 251.53M585.80 232.04L594.60 253.81M585.80 232.13L594.60 256.10M585.80 233.59L594.60 258.38M585.80 235.23L594.60 260.67M585.80 235.92L594.60 262.95M585.80 236.31L594.60 265.23M585.80 236.86L594.60 267.52M585.80 237.26L594.60 269.80M585.80 237.66L594.60 272.08M585.80 237.89L594.60 274.37M585.80 240.10L594.60 276.65M585.80 240.43L594.60 278.93M585.80 242.56L594.60 281.22M585.80 242.86L594.60 283.50" stroke="#000" stroke-width="0.5" fill="none"/>
<rect x="582.0" y="119.6" width="3.20" height="126.40" rx="1.60" fill="#dadada"/>
<path d="M582.00 122.80h3.20v0.90h-3.20zM582.00 133.10h3.20v0.50h-3.20zM582.00 151.50h3.20v1.10h-3.20zM582.00 173.15h3.20v0.90h-3.20zM582.00 174.50h3.20v1.80h-3.20zM582.00 181.45h3.20v1.80h-3.20zM582.00 184.25h3.20v0.50h-3.20zM582.00 192.90h3.20v1.80h-3.20zM582.00 195.30h3.20v1.10h-3.20z" fill="#111"/>
<path d="M582.00 124.00h3.20v0.90h-3.20zM582.00 142.85h3.20v1.80h-3.20zM582.00 157.95h3.20v1.40h-3.20zM582.00 166.90h3.20v1.80h-3.20zM582.00 191.20h3.20v1.40h-3.20zM582.00 221.80h3.20v0.90h-3.20zM582.00 229.60h3.20v0.90h-3.20zM582.00 242.80h3.20v0.00h-3.20z" fill="#7a7a7a"/>
<path d="M582.00 125.50h3.20v1.40h-3.20zM582.00 133.90h3.20v1.10h-3.20zM582.00 137.20h3.20v1.80h-3.20zM582.00 147.35h3.20v0.50h-3.20zM582.00 150.00h3.20v0.90h-3.20zM582.00 164.90h3.20v1.40h-3.20zM582.00 187.10h3.20v1.80h-3.20zM582.00 189.35h3.20v1.40h-3.20zM582.00 200.40h3.20v1.80h-3.20zM582.00 205.50h3.20v0.50h-3.20zM582.00 209.10h3.20v1.80h-3.20zM582.00 211.90h3.20v1.40h-3.20zM582.00 218.85h3.20v1.40h-3.20zM582.00 223.00h3.20v1.80h-3.20z" fill="#5e5e5e"/>
<path d="M582.00 127.70h3.20v1.80h-3.20zM582.00 135.30h3.20v0.90h-3.20zM582.00 148.30h3.20v0.90h-3.20zM582.00 153.90h3.20v0.90h-3.20zM582.00 163.05h3.20v1.40h-3.20zM582.00 176.75h3.20v0.50h-3.20zM582.00 179.35h3.20v1.10h-3.20zM582.00 197.40h3.20v0.90h-3.20zM582.00 203.00h3.20v0.50h-3.20zM582.00 213.60h3.20v0.90h-3.20zM582.00 215.30h3.20v1.10h-3.20zM582.00 225.25h3.20v0.90h-3.20zM582.00 240.00h3.20v1.80h-3.20z" fill="#444"/>
<path d="M582.00 130.30h3.20v1.80h-3.20zM582.00 139.45h3.20v0.50h-3.20zM582.00 156.25h3.20v0.70h-3.20zM582.00 170.85h3.20v0.50h-3.20zM582.00 177.85h3.20v0.70h-3.20zM582.00 203.80h3.20v0.90h-3.20zM582.00 220.85h3.20v0.50h-3.20zM582.00 228.30h3.20v0.50h-3.20zM582.00 231.10h3.20v0.70h-3.20zM582.00 234.30h3.20v1.10h-3.20zM582.00 236.40h3.20v0.90h-3.20zM582.00 237.90h3.20v1.10h-3.20z" fill="#000"/>
<path d="M582.00 140.75h3.20v1.10h-3.20zM582.00 145.25h3.20v1.80h-3.20zM582.00 152.90h3.20v0.70h-3.20zM582.00 155.10h3.20v0.70h-3.20zM582.00 160.35h3.20v0.90h-3.20zM582.00 161.55h3.20v0.70h-3.20zM582.00 169.15h3.20v1.40h-3.20zM582.00 171.65h3.20v0.90h-3.20zM582.00 185.55h3.20v1.10h-3.20zM582.00 199.10h3.20v0.50h-3.20zM582.00 207.00h3.20v1.80h-3.20zM582.00 217.00h3.20v1.40h-3.20zM582.00 226.60h3.20v1.40h-3.20zM582.00 232.80h3.20v0.90h-3.20z" fill="#2a2a2a"/>
<ellipse cx="583.60" cy="121.10" rx="1.60" ry="1.5" fill="#000"/>
<ellipse cx="583.60" cy="244.50" rx="1.60" ry="1.5" fill="#000"/>
<path d="M604.90 55.15a1.16 1.16 0 1 0 2.32 0a1.16 1.16 0 1 0 -2.32 0M598.00 57.43a1.16 1.16 0 1 0 2.32 0a1.16 1.16 0 1 0 -2.32 0M600.30 57.43a1.16 1.16 0 1 0 2.32 0a1.16 1.16 0 1 0 -2.32 0M602.60 57.43a1.16 1.16 0 1 0 2.32 0a1.16 1.16 0 1 0 -2.32 0M604.90 57.43a1.16 1.16 0 1 0 2.32 0a1.16 1.16 0 1 0 -2.32 0M607.20 57.43a1.16 1.16 0 1 0 2.32 0a1.16 1.16 0 1 0 -2.32 0M609.50 57.43a1.16 1.16 0 1 0 2.32 0a1.16 1.16 0 1 0 -2.32 0M600.30 59.72a1.16 1.16 0 1 0 2.32 0a1.16 1.16 0 1 0 -2.32 0M602.60 59.72a1.16 1.16 0 1 0 2.32 0a1.16 1.16 0 1 0 -2.32 0M604.90 59.72a1.16 1.16 0 1 0 2.32 0a1.16 1.16 0 1 0 -2.32 0M607.20 59.72a1.16 1.16 0 1 0 2.32 0a1.16 1.16 0 1 0 -2.32 0M609.50 59.72a1.16 1.16 0 1 0 2.32 0a1.16 1.16 0 1 0 -2.32 0M611.80 59.72a1.16 1.16 0 1 0 2.32 0a1.16 1.16 0 1 0 -2.32 0M598.00 62.00a1.16 1.16 0 1 0 2.32 0a1.16 1.16 0 1 0 -2.32 0M600.30 62.00a1.16 1.16 0 1 0 2.32 0a1.16 1.16 0 1 0 -2.32 0M602.60 62.00a1.16 1.16 0 1 0 2.32 0a1.16 1.16 0 1 0 -2.32 0M598.00 64.28a1.16 1.16 0 1 0 2.32 0a1.16 1.16 0 1 0 -2.32 0M600.30 64.28a1.16 1.16 0 1 0 2.32 0a1.16 1.16 0 1 0 -2.32 0M602.60 64.28a1.16 1.16 0 1 0 2.32 0a1.16 1.16 0 1 0 -2.32 0M604.90 64.28a1.16 1.16 0 1 0 2.32 0a1.16 1.16 0 1 0 -2.32 0M598.00 66.57a1.16 1.16 0 1 0 2.32 0a1.16 1.16 0 1 0 -2.32 0M600.30 66.57a1.16 1.16 0 1 0 2.32 0a1.16 1.16 0 1 0 -2.32 0M598.00 68.85a1.16 1.16 0 1 0 2.32 0a1.16 1.16 0 1 0 -2.32 0M600.30 68.85a1.16 1.16 0 1 0 2.32 0a1.16 1.16 0 1 0 -2.32 0M598.00 71.13a1.16 1.16 0 1 0 2.32 0a1.16 1.16 0 1 0 -2.32 0M598.00 77.99a1.16 1.16 0 1 0 2.32 0a1.16 1.16 0 1 0 -2.32 0M600.30 77.99a1.16 1.16 0 1 0 2.32 0a1.16 1.16 0 1 0 -2.32 0M602.60 77.99a1.16 1.16 0 1 0 2.32 0a1.16 1.16 0 1 0 -2.32 0M604.90 77.99a1.16 1.16 0 1 0 2.32 0a1.16 1.16 0 1 0 -2.32 0M607.20 77.99a1.16 1.16 0 1 0 2.32 0a1.16 1.16 0 1 0 -2.32 0M598.00 80.27a1.16 1.16 0 1 0 2.32 0a1.16 1.16 0 1 0 -2.32 0M600.30 80.27a1.16 1.16 0 1 0 2.32 0a1.16 1.16 0 1 0 -2.32 0M598.00 82.55a1.16 1.16 0 1 0 2.32 0a1.16 1.16 0 1 0 -2.32 0M600.30 82.55a1.16 1.16 0 1 0 2.32 0a1.16 1.16 0 1 0 -2.32 0M602.60 82.55a1.16 1.16 0 1 0 2.32 0a1.16 1.16 0 1 0 -2.32 0M604.90 82.55a1.16 1.16 0 1 0 2.32 0a1.16 1.16 0 1 0 -2.32 0M598.00 84.84a1.16 1.16 0 1 0 2.32 0a1.16 1.16 0 1 0 -2.32 0M600.30 84.84a1.16 1.16 0 1 0 2.32 0a1.16 1.16 0 1 0 -2.32 0M598.00 87.12a1.16 1.16 0 1 0 2.32 0a1.16 1.16 0 1 0 -2.32 0M600.30 87.12a1.16 1.16 0 1 0 2.32 0a1.16 1.16 0 1 0 -2.32 0M598.00 89.40a1.16 1.16 0 1 0 2.32 0a1.16 1.16 0 1 0 -2.32 0M600.30 89.40a1.16 1.16 0 1 0 2.32 0a1.16 1.16 0 1 0 -2.32 0M602.60 89.40a1.16 1.16 0 1 0 2.32 0a1.16 1.16 0 1 0 -2.32 0M604.90 89.40a1.16 1.16 0 1 0 2.32 0a1.16 1.16 0 1 0 -2.32 0M607.20 89.40a1.16 1.16 0 1 0 2.32 0a1.16 1.16 0 1 0 -2.32 0M598.00 91.69a1.16 1.16 0 1 0 2.32 0a1.16 1.16 0 1 0 -2.32 0M600.30 91.69a1.16 1.16 0 1 0 2.32 0a1.16 1.16 0 1 0 -2.32 0M598.00 93.97a1.16 1.16 0 1 0 2.32 0a1.16 1.16 0 1 0 -2.32 0M600.30 93.97a1.16 1.16 0 1 0 2.32 0a1.16 1.16 0 1 0 -2.32 0M602.60 93.97a1.16 1.16 0 1 0 2.32 0a1.16 1.16 0 1 0 -2.32 0M598.00 96.25a1.16 1.16 0 1 0 2.32 0a1.16 1.16 0 1 0 -2.32 0M600.30 96.25a1.16 1.16 0 1 0 2.32 0a1.16 1.16 0 1 0 -2.32 0M602.60 96.25a1.16 1.16 0 1 0 2.32 0a1.16 1.16 0 1 0 -2.32 0M598.00 98.54a1.16 1.16 0 1 0 2.32 0a1.16 1.16 0 1 0 -2.32 0M600.30 98.54a1.16 1.16 0 1 0 2.32 0a1.16 1.16 0 1 0 -2.32 0M598.00 100.82a1.16 1.16 0 1 0 2.32 0a1.16 1.16 0 1 0 -2.32 0M600.30 100.82a1.16 1.16 0 1 0 2.32 0a1.16 1.16 0 1 0 -2.32 0M602.60 100.82a1.16 1.16 0 1 0 2.32 0a1.16 1.16 0 1 0 -2.32 0M604.90 100.82a1.16 1.16 0 1 0 2.32 0a1.16 1.16 0 1 0 -2.32 0M598.00 103.10a1.16 1.16 0 1 0 2.32 0a1.16 1.16 0 1 0 -2.32 0M600.30 103.10a1.16 1.16 0 1 0 2.32 0a1.16 1.16 0 1 0 -2.32 0M602.60 103.10a1.16 1.16 0 1 0 2.32 0a1.16 1.16 0 1 0 -2.32 0M604.90 103.10a1.16 1.16 0 1 0 2.32 0a1.16 1.16 0 1 0 -2.32 0M607.20 103.10a1.16 1.16 0 1 0 2.32 0a1.16 1.16 0 1 0 -2.32 0M609.50 103.10a1.16 1.16 0 1 0 2.32 0a1.16 1.16 0 1 0 -2.32 0M611.80 103.10a1.16 1.16 0 1 0 2.32 0a1.16 1.16 0 1 0 -2.32 0M614.10 103.10a1.16 1.16 0 1 0 2.32 0a1.16 1.16 0 1 0 -2.32 0M616.40 103.10a1.16 1.16 0 1 0 2.32 0a1.16 1.16 0 1 0 -2.32 0M618.70 103.10a1.16 1.16 0 1 0 2.32 0a1.16 1.16 0 1 0 -2.32 0M621.00 103.10a1.16 1.16 0 1 0 2.32 0a1.16 1.16 0 1 0 -2.32 0M623.30 103.10a1.16 1.16 0 1 0 2.32 0a1.16 1.16 0 1 0 -2.32 0M625.60 103.10a1.16 1.16 0 1 0 2.32 0a1.16 1.16 0 1 0 -2.32 0M598.00 105.39a1.16 1.16 0 1 0 2.32 0a1.16 1.16 0 1 0 -2.32 0M600.30 105.39a1.16 1.16 0 1 0 2.32 0a1.16 1.16 0 1 0 -2.32 0M602.60 105.39a1.16 1.16 0 1 0 2.32 0a1.16 1.16 0 1 0 -2.32 0M604.90 105.39a1.16 1.16 0 1 0 2.32 0a1.16 1.16 0 1 0 -2.32 0M607.20 105.39a1.16 1.16 0 1 0 2.32 0a1.16 1.16 0 1 0 -2.32 0M609.50 105.39a1.16 1.16 0 1 0 2.32 0a1.16 1.16 0 1 0 -2.32 0M598.00 109.95a1.16 1.16 0 1 0 2.32 0a1.16 1.16 0 1 0 -2.32 0M600.30 109.95a1.16 1.16 0 1 0 2.32 0a1.16 1.16 0 1 0 -2.32 0M602.60 109.95a1.16 1.16 0 1 0 2.32 0a1.16 1.16 0 1 0 -2.32 0M604.90 109.95a1.16 1.16 0 1 0 2.32 0a1.16 1.16 0 1 0 -2.32 0M607.20 109.95a1.16 1.16 0 1 0 2.32 0a1.16 1.16 0 1 0 -2.32 0M598.00 112.24a1.16 1.16 0 1 0 2.32 0a1.16 1.16 0 1 0 -2.32 0M600.30 112.24a1.16 1.16 0 1 0 2.32 0a1.16 1.16 0 1 0 -2.32 0M598.00 114.52a1.16 1.16 0 1 0 2.32 0a1.16 1.16 0 1 0 -2.32 0M600.30 114.52a1.16 1.16 0 1 0 2.32 0a1.16 1.16 0 1 0 -2.32 0M598.00 116.80a1.16 1.16 0 1 0 2.32 0a1.16 1.16 0 1 0 -2.32 0M600.30 116.80a1.16 1.16 0 1 0 2.32 0a1.16 1.16 0 1 0 -2.32 0M602.60 116.80a1.16 1.16 0 1 0 2.32 0a1.16 1.16 0 1 0 -2.32 0M604.90 116.80a1.16 1.16 0 1 0 2.32 0a1.16 1.16 0 1 0 -2.32 0M598.00 119.09a1.16 1.16 0 1 0 2.32 0a1.16 1.16 0 1 0 -2.32 0M600.30 119.09a1.16 1.16 0 1 0 2.32 0a1.16 1.16 0 1 0 -2.32 0M602.60 119.09a1.16 1.16 0 1 0 2.32 0a1.16 1.16 0 1 0 -2.32 0M598.00 121.37a1.16 1.16 0 1 0 2.32 0a1.16 1.16 0 1 0 -2.32 0M600.30 121.37a1.16 1.16 0 1 0 2.32 0a1.16 1.16 0 1 0 -2.32 0M602.60 121.37a1.16 1.16 0 1 0 2.32 0a1.16 1.16 0 1 0 -2.32 0M604.90 121.37a1.16 1.16 0 1 0 2.32 0a1.16 1.16 0 1 0 -2.32 0M607.20 121.37a1.16 1.16 0 1 0 2.32 0a1.16 1.16 0 1 0 -2.32 0M598.00 123.66a1.16 1.16 0 1 0 2.32 0a1.16 1.16 0 1 0 -2.32 0M600.30 123.66a1.16 1.16 0 1 0 2.32 0a1.16 1.16 0 1 0 -2.32 0M602.60 123.66a1.16 1.16 0 1 0 2.32 0a1.16 1.16 0 1 0 -2.32 0M604.90 123.66a1.16 1.16 0 1 0 2.32 0a1.16 1.16 0 1 0 -2.32 0M607.20 123.66a1.16 1.16 0 1 0 2.32 0a1.16 1.16 0 1 0 -2.32 0M609.50 123.66a1.16 1.16 0 1 0 2.32 0a1.16 1.16 0 1 0 -2.32 0M611.80 123.66a1.16 1.16 0 1 0 2.32 0a1.16 1.16 0 1 0 -2.32 0M598.00 125.94a1.16 1.16 0 1 0 2.32 0a1.16 1.16 0 1 0 -2.32 0M600.30 125.94a1.16 1.16 0 1 0 2.32 0a1.16 1.16 0 1 0 -2.32 0M602.60 125.94a1.16 1.16 0 1 0 2.32 0a1.16 1.16 0 1 0 -2.32 0M598.00 128.22a1.16 1.16 0 1 0 2.32 0a1.16 1.16 0 1 0 -2.32 0M600.30 128.22a1.16 1.16 0 1 0 2.32 0a1.16 1.16 0 1 0 -2.32 0M602.60 128.22a1.16 1.16 0 1 0 2.32 0a1.16 1.16 0 1 0 -2.32 0M604.90 128.22a1.16 1.16 0 1 0 2.32 0a1.16 1.16 0 1 0 -2.32 0M607.20 128.22a1.16 1.16 0 1 0 2.32 0a1.16 1.16 0 1 0 -2.32 0M609.50 128.22a1.16 1.16 0 1 0 2.32 0a1.16 1.16 0 1 0 -2.32 0M598.00 130.51a1.16 1.16 0 1 0 2.32 0a1.16 1.16 0 1 0 -2.32 0M600.30 130.51a1.16 1.16 0 1 0 2.32 0a1.16 1.16 0 1 0 -2.32 0M602.60 130.51a1.16 1.16 0 1 0 2.32 0a1.16 1.16 0 1 0 -2.32 0M604.90 130.51a1.16 1.16 0 1 0 2.32 0a1.16 1.16 0 1 0 -2.32 0M607.20 130.51a1.16 1.16 0 1 0 2.32 0a1.16 1.16 0 1 0 -2.32 0M609.50 130.51a1.16 1.16 0 1 0 2.32 0a1.16 1.16 0 1 0 -2.32 0M611.80 130.51a1.16 1.16 0 1 0 2.32 0a1.16 1.16 0 1 0 -2.32 0M614.10 130.51a1.16 1.16 0 1 0 2.32 0a1.16 1.16 0 1 0 -2.32 0M600.30 132.79a1.16 1.16 0 1 0 2.32 0a1.16 1.16 0 1 0 -2.32 0M602.60 132.79a1.16 1.16 0 1 0 2.32 0a1.16 1.16 0 1 0 -2.32 0M604.90 132.79a1.16 1.16 0 1 0 2.32 0a1.16 1.16 0 1 0 -2.32 0M598.00 137.36a1.16 1.16 0 1 0 2.32 0a1.16 1.16 0 1 0 -2.32 0M600.30 137.36a1.16 1.16 0 1 0 2.32 0a1.16 1.16 0 1 0 -2.32 0M602.60 137.36a1.16 1.16 0 1 0 2.32 0a1.16 1.16 0 1 0 -2.32 0M604.90 137.36a1.16 1.16 0 1 0 2.32 0a1.16 1.16 0 1 0 -2.32 0M607.20 137.36a1.16 1.16 0 1 0 2.32 0a1.16 1.16 0 1 0 -2.32 0M609.50 137.36a1.16 1.16 0 1 0 2.32 0a1.16 1.16 0 1 0 -2.32 0M611.80 137.36a1.16 1.16 0 1 0 2.32 0a1.16 1.16 0 1 0 -2.32 0M614.10 137.36a1.16 1.16 0 1 0 2.32 0a1.16 1.16 0 1 0 -2.32 0M616.40 137.36a1.16 1.16 0 1 0 2.32 0a1.16 1.16 0 1 0 -2.32 0M618.70 137.36a1.16 1.16 0 1 0 2.32 0a1.16 1.16 0 1 0 -2.32 0M598.00 139.64a1.16 1.16 0 1 0 2.32 0a1.16 1.16 0 1 0 -2.32 0M598.00 141.92a1.16 1.16 0 1 0 2.32 0a1.16 1.16 0 1 0 -2.32 0M600.30 141.92a1.16 1.16 0 1 0 2.32 0a1.16 1.16 0 1 0 -2.32 0M602.60 141.92a1.16 1.16 0 1 0 2.32 0a1.16 1.16 0 1 0 -2.32 0M598.00 144.21a1.16 1.16 0 1 0 2.32 0a1.16 1.16 0 1 0 -2.32 0M600.30 144.21a1.16 1.16 0 1 0 2.32 0a1.16 1.16 0 1 0 -2.32 0M598.00 146.49a1.16 1.16 0 1 0 2.32 0a1.16 1.16 0 1 0 -2.32 0M600.30 146.49a1.16 1.16 0 1 0 2.32 0a1.16 1.16 0 1 0 -2.32 0M602.60 146.49a1.16 1.16 0 1 0 2.32 0a1.16 1.16 0 1 0 -2.32 0M604.90 146.49a1.16 1.16 0 1 0 2.32 0a1.16 1.16 0 1 0 -2.32 0M607.20 146.49a1.16 1.16 0 1 0 2.32 0a1.16 1.16 0 1 0 -2.32 0M598.00 148.77a1.16 1.16 0 1 0 2.32 0a1.16 1.16 0 1 0 -2.32 0M598.00 151.06a1.16 1.16 0 1 0 2.32 0a1.16 1.16 0 1 0 -2.32 0M600.30 151.06a1.16 1.16 0 1 0 2.32 0a1.16 1.16 0 1 0 -2.32 0M602.60 151.06a1.16 1.16 0 1 0 2.32 0a1.16 1.16 0 1 0 -2.32 0M604.90 151.06a1.16 1.16 0 1 0 2.32 0a1.16 1.16 0 1 0 -2.32 0M607.20 151.06a1.16 1.16 0 1 0 2.32 0a1.16 1.16 0 1 0 -2.32 0M609.50 151.06a1.16 1.16 0 1 0 2.32 0a1.16 1.16 0 1 0 -2.32 0M611.80 151.06a1.16 1.16 0 1 0 2.32 0a1.16 1.16 0 1 0 -2.32 0M614.10 151.06a1.16 1.16 0 1 0 2.32 0a1.16 1.16 0 1 0 -2.32 0M616.40 151.06a1.16 1.16 0 1 0 2.32 0a1.16 1.16 0 1 0 -2.32 0M598.00 153.34a1.16 1.16 0 1 0 2.32 0a1.16 1.16 0 1 0 -2.32 0M598.00 155.62a1.16 1.16 0 1 0 2.32 0a1.16 1.16 0 1 0 -2.32 0M600.30 155.62a1.16 1.16 0 1 0 2.32 0a1.16 1.16 0 1 0 -2.32 0M602.60 155.62a1.16 1.16 0 1 0 2.32 0a1.16 1.16 0 1 0 -2.32 0M604.90 155.62a1.16 1.16 0 1 0 2.32 0a1.16 1.16 0 1 0 -2.32 0M607.20 155.62a1.16 1.16 0 1 0 2.32 0a1.16 1.16 0 1 0 -2.32 0M598.00 157.91a1.16 1.16 0 1 0 2.32 0a1.16 1.16 0 1 0 -2.32 0M598.00 160.19a1.16 1.16 0 1 0 2.32 0a1.16 1.16 0 1 0 -2.32 0M598.00 162.47a1.16 1.16 0 1 0 2.32 0a1.16 1.16 0 1 0 -2.32 0M600.30 162.47a1.16 1.16 0 1 0 2.32 0a1.16 1.16 0 1 0 -2.32 0M598.00 164.76a1.16 1.16 0 1 0 2.32 0a1.16 1.16 0 1 0 -2.32 0M598.00 167.04a1.16 1.16 0 1 0 2.32 0a1.16 1.16 0 1 0 -2.32 0M600.30 167.04a1.16 1.16 0 1 0 2.32 0a1.16 1.16 0 1 0 -2.32 0M602.60 167.04a1.16 1.16 0 1 0 2.32 0a1.16 1.16 0 1 0 -2.32 0M600.30 171.61a1.16 1.16 0 1 0 2.32 0a1.16 1.16 0 1 0 -2.32 0M600.30 173.89a1.16 1.16 0 1 0 2.32 0a1.16 1.16 0 1 0 -2.32 0M602.60 173.89a1.16 1.16 0 1 0 2.32 0a1.16 1.16 0 1 0 -2.32 0M598.00 178.46a1.16 1.16 0 1 0 2.32 0a1.16 1.16 0 1 0 -2.32 0M600.30 178.46a1.16 1.16 0 1 0 2.32 0a1.16 1.16 0 1 0 -2.32 0M602.60 178.46a1.16 1.16 0 1 0 2.32 0a1.16 1.16 0 1 0 -2.32 0M600.30 180.74a1.16 1.16 0 1 0 2.32 0a1.16 1.16 0 1 0 -2.32 0M602.60 180.74a1.16 1.16 0 1 0 2.32 0a1.16 1.16 0 1 0 -2.32 0M604.90 180.74a1.16 1.16 0 1 0 2.32 0a1.16 1.16 0 1 0 -2.32 0M607.20 180.74a1.16 1.16 0 1 0 2.32 0a1.16 1.16 0 1 0 -2.32 0M609.50 180.74a1.16 1.16 0 1 0 2.32 0a1.16 1.16 0 1 0 -2.32 0M611.80 180.74a1.16 1.16 0 1 0 2.32 0a1.16 1.16 0 1 0 -2.32 0M614.10 180.74a1.16 1.16 0 1 0 2.32 0a1.16 1.16 0 1 0 -2.32 0M598.00 183.03a1.16 1.16 0 1 0 2.32 0a1.16 1.16 0 1 0 -2.32 0M600.30 183.03a1.16 1.16 0 1 0 2.32 0a1.16 1.16 0 1 0 -2.32 0M602.60 183.03a1.16 1.16 0 1 0 2.32 0a1.16 1.16 0 1 0 -2.32 0M604.90 183.03a1.16 1.16 0 1 0 2.32 0a1.16 1.16 0 1 0 -2.32 0M598.00 185.31a1.16 1.16 0 1 0 2.32 0a1.16 1.16 0 1 0 -2.32 0M600.30 185.31a1.16 1.16 0 1 0 2.32 0a1.16 1.16 0 1 0 -2.32 0M602.60 185.31a1.16 1.16 0 1 0 2.32 0a1.16 1.16 0 1 0 -2.32 0M598.00 187.59a1.16 1.16 0 1 0 2.32 0a1.16 1.16 0 1 0 -2.32 0M600.30 187.59a1.16 1.16 0 1 0 2.32 0a1.16 1.16 0 1 0 -2.32 0M602.60 187.59a1.16 1.16 0 1 0 2.32 0a1.16 1.16 0 1 0 -2.32 0M604.90 187.59a1.16 1.16 0 1 0 2.32 0a1.16 1.16 0 1 0 -2.32 0M607.20 187.59a1.16 1.16 0 1 0 2.32 0a1.16 1.16 0 1 0 -2.32 0M609.50 187.59a1.16 1.16 0 1 0 2.32 0a1.16 1.16 0 1 0 -2.32 0M598.00 189.88a1.16 1.16 0 1 0 2.32 0a1.16 1.16 0 1 0 -2.32 0M600.30 189.88a1.16 1.16 0 1 0 2.32 0a1.16 1.16 0 1 0 -2.32 0M598.00 192.16a1.16 1.16 0 1 0 2.32 0a1.16 1.16 0 1 0 -2.32 0M600.30 192.16a1.16 1.16 0 1 0 2.32 0a1.16 1.16 0 1 0 -2.32 0M602.60 192.16a1.16 1.16 0 1 0 2.32 0a1.16 1.16 0 1 0 -2.32 0M598.00 194.44a1.16 1.16 0 1 0 2.32 0a1.16 1.16 0 1 0 -2.32 0M600.30 194.44a1.16 1.16 0 1 0 2.32 0a1.16 1.16 0 1 0 -2.32 0M602.60 194.44a1.16 1.16 0 1 0 2.32 0a1.16 1.16 0 1 0 -2.32 0M604.90 194.44a1.16 1.16 0 1 0 2.32 0a1.16 1.16 0 1 0 -2.32 0M598.00 196.73a1.16 1.16 0 1 0 2.32 0a1.16 1.16 0 1 0 -2.32 0M600.30 196.73a1.16 1.16 0 1 0 2.32 0a1.16 1.16 0 1 0 -2.32 0M600.30 199.01a1.16 1.16 0 1 0 2.32 0a1.16 1.16 0 1 0 -2.32 0M602.60 199.01a1.16 1.16 0 1 0 2.32 0a1.16 1.16 0 1 0 -2.32 0M604.90 199.01a1.16 1.16 0 1 0 2.32 0a1.16 1.16 0 1 0 -2.32 0M607.20 199.01a1.16 1.16 0 1 0 2.32 0a1.16 1.16 0 1 0 -2.32 0M609.50 199.01a1.16 1.16 0 1 0 2.32 0a1.16 1.16 0 1 0 -2.32 0M598.00 201.29a1.16 1.16 0 1 0 2.32 0a1.16 1.16 0 1 0 -2.32 0M600.30 201.29a1.16 1.16 0 1 0 2.32 0a1.16 1.16 0 1 0 -2.32 0M602.60 201.29a1.16 1.16 0 1 0 2.32 0a1.16 1.16 0 1 0 -2.32 0M604.90 201.29a1.16 1.16 0 1 0 2.32 0a1.16 1.16 0 1 0 -2.32 0M607.20 201.29a1.16 1.16 0 1 0 2.32 0a1.16 1.16 0 1 0 -2.32 0M598.00 203.58a1.16 1.16 0 1 0 2.32 0a1.16 1.16 0 1 0 -2.32 0M600.30 203.58a1.16 1.16 0 1 0 2.32 0a1.16 1.16 0 1 0 -2.32 0M598.00 205.86a1.16 1.16 0 1 0 2.32 0a1.16 1.16 0 1 0 -2.32 0M598.00 210.43a1.16 1.16 0 1 0 2.32 0a1.16 1.16 0 1 0 -2.32 0M598.00 212.71a1.16 1.16 0 1 0 2.32 0a1.16 1.16 0 1 0 -2.32 0M600.30 212.71a1.16 1.16 0 1 0 2.32 0a1.16 1.16 0 1 0 -2.32 0M602.60 212.71a1.16 1.16 0 1 0 2.32 0a1.16 1.16 0 1 0 -2.32 0M604.90 212.71a1.16 1.16 0 1 0 2.32 0a1.16 1.16 0 1 0 -2.32 0M607.20 212.71a1.16 1.16 0 1 0 2.32 0a1.16 1.16 0 1 0 -2.32 0M598.00 215.00a1.16 1.16 0 1 0 2.32 0a1.16 1.16 0 1 0 -2.32 0M600.30 215.00a1.16 1.16 0 1 0 2.32 0a1.16 1.16 0 1 0 -2.32 0M602.60 215.00a1.16 1.16 0 1 0 2.32 0a1.16 1.16 0 1 0 -2.32 0M604.90 215.00a1.16 1.16 0 1 0 2.32 0a1.16 1.16 0 1 0 -2.32 0M598.00 217.28a1.16 1.16 0 1 0 2.32 0a1.16 1.16 0 1 0 -2.32 0M600.30 217.28a1.16 1.16 0 1 0 2.32 0a1.16 1.16 0 1 0 -2.32 0M598.00 219.56a1.16 1.16 0 1 0 2.32 0a1.16 1.16 0 1 0 -2.32 0M598.00 221.85a1.16 1.16 0 1 0 2.32 0a1.16 1.16 0 1 0 -2.32 0M600.30 221.85a1.16 1.16 0 1 0 2.32 0a1.16 1.16 0 1 0 -2.32 0M602.60 221.85a1.16 1.16 0 1 0 2.32 0a1.16 1.16 0 1 0 -2.32 0M604.90 221.85a1.16 1.16 0 1 0 2.32 0a1.16 1.16 0 1 0 -2.32 0M607.20 221.85a1.16 1.16 0 1 0 2.32 0a1.16 1.16 0 1 0 -2.32 0M609.50 221.85a1.16 1.16 0 1 0 2.32 0a1.16 1.16 0 1 0 -2.32 0M611.80 221.85a1.16 1.16 0 1 0 2.32 0a1.16 1.16 0 1 0 -2.32 0M614.10 221.85a1.16 1.16 0 1 0 2.32 0a1.16 1.16 0 1 0 -2.32 0M598.00 224.13a1.16 1.16 0 1 0 2.32 0a1.16 1.16 0 1 0 -2.32 0M598.00 226.41a1.16 1.16 0 1 0 2.32 0a1.16 1.16 0 1 0 -2.32 0M600.30 226.41a1.16 1.16 0 1 0 2.32 0a1.16 1.16 0 1 0 -2.32 0M602.60 226.41a1.16 1.16 0 1 0 2.32 0a1.16 1.16 0 1 0 -2.32 0M598.00 228.70a1.16 1.16 0 1 0 2.32 0a1.16 1.16 0 1 0 -2.32 0M600.30 228.70a1.16 1.16 0 1 0 2.32 0a1.16 1.16 0 1 0 -2.32 0M602.60 228.70a1.16 1.16 0 1 0 2.32 0a1.16 1.16 0 1 0 -2.32 0M604.90 228.70a1.16 1.16 0 1 0 2.32 0a1.16 1.16 0 1 0 -2.32 0M607.20 228.70a1.16 1.16 0 1 0 2.32 0a1.16 1.16 0 1 0 -2.32 0M598.00 230.98a1.16 1.16 0 1 0 2.32 0a1.16 1.16 0 1 0 -2.32 0M600.30 230.98a1.16 1.16 0 1 0 2.32 0a1.16 1.16 0 1 0 -2.32 0M602.60 230.98a1.16 1.16 0 1 0 2.32 0a1.16 1.16 0 1 0 -2.32 0M604.90 230.98a1.16 1.16 0 1 0 2.32 0a1.16 1.16 0 1 0 -2.32 0M607.20 230.98a1.16 1.16 0 1 0 2.32 0a1.16 1.16 0 1 0 -2.32 0M609.50 230.98a1.16 1.16 0 1 0 2.32 0a1.16 1.16 0 1 0 -2.32 0M611.80 230.98a1.16 1.16 0 1 0 2.32 0a1.16 1.16 0 1 0 -2.32 0M614.10 230.98a1.16 1.16 0 1 0 2.32 0a1.16 1.16 0 1 0 -2.32 0M616.40 230.98a1.16 1.16 0 1 0 2.32 0a1.16 1.16 0 1 0 -2.32 0M618.70 230.98a1.16 1.16 0 1 0 2.32 0a1.16 1.16 0 1 0 -2.32 0M621.00 230.98a1.16 1.16 0 1 0 2.32 0a1.16 1.16 0 1 0 -2.32 0M598.00 233.26a1.16 1.16 0 1 0 2.32 0a1.16 1.16 0 1 0 -2.32 0M598.00 235.55a1.16 1.16 0 1 0 2.32 0a1.16 1.16 0 1 0 -2.32 0M600.30 235.55a1.16 1.16 0 1 0 2.32 0a1.16 1.16 0 1 0 -2.32 0M602.60 235.55a1.16 1.16 0 1 0 2.32 0a1.16 1.16 0 1 0 -2.32 0M604.90 235.55a1.16 1.16 0 1 0 2.32 0a1.16 1.16 0 1 0 -2.32 0M598.00 237.83a1.16 1.16 0 1 0 2.32 0a1.16 1.16 0 1 0 -2.32 0M600.30 237.83a1.16 1.16 0 1 0 2.32 0a1.16 1.16 0 1 0 -2.32 0M598.00 240.11a1.16 1.16 0 1 0 2.32 0a1.16 1.16 0 1 0 -2.32 0M600.30 240.11a1.16 1.16 0 1 0 2.32 0a1.16 1.16 0 1 0 -2.32 0M598.00 242.40a1.16 1.16 0 1 0 2.32 0a1.16 1.16 0 1 0 -2.32 0M600.30 242.40a1.16 1.16 0 1 0 2.32 0a1.16 1.16 0 1 0 -2.32 0M602.60 242.40a1.16 1.16 0 1 0 2.32 0a1.16 1.16 0 1 0 -2.32 0M598.00 244.68a1.16 1.16 0 1 0 2.32 0a1.16 1.16 0 1 0 -2.32 0M600.30 244.68a1.16 1.16 0 1 0 2.32 0a1.16 1.16 0 1 0 -2.32 0M602.60 244.68a1.16 1.16 0 1 0 2.32 0a1.16 1.16 0 1 0 -2.32 0M598.00 246.96a1.16 1.16 0 1 0 2.32 0a1.16 1.16 0 1 0 -2.32 0M600.30 246.96a1.16 1.16 0 1 0 2.32 0a1.16 1.16 0 1 0 -2.32 0M602.60 246.96a1.16 1.16 0 1 0 2.32 0a1.16 1.16 0 1 0 -2.32 0M604.90 246.96a1.16 1.16 0 1 0 2.32 0a1.16 1.16 0 1 0 -2.32 0M607.20 246.96a1.16 1.16 0 1 0 2.32 0a1.16 1.16 0 1 0 -2.32 0M598.00 249.25a1.16 1.16 0 1 0 2.32 0a1.16 1.16 0 1 0 -2.32 0M600.30 249.25a1.16 1.16 0 1 0 2.32 0a1.16 1.16 0 1 0 -2.32 0M602.60 249.25a1.16 1.16 0 1 0 2.32 0a1.16 1.16 0 1 0 -2.32 0M604.90 249.25a1.16 1.16 0 1 0 2.32 0a1.16 1.16 0 1 0 -2.32 0M598.00 251.53a1.16 1.16 0 1 0 2.32 0a1.16 1.16 0 1 0 -2.32 0M600.30 251.53a1.16 1.16 0 1 0 2.32 0a1.16 1.16 0 1 0 -2.32 0M602.60 251.53a1.16 1.16 0 1 0 2.32 0a1.16 1.16 0 1 0 -2.32 0M598.00 253.81a1.16 1.16 0 1 0 2.32 0a1.16 1.16 0 1 0 -2.32 0M600.30 253.81a1.16 1.16 0 1 0 2.32 0a1.16 1.16 0 1 0 -2.32 0M602.60 253.81a1.16 1.16 0 1 0 2.32 0a1.16 1.16 0 1 0 -2.32 0M604.90 253.81a1.16 1.16 0 1 0 2.32 0a1.16 1.16 0 1 0 -2.32 0M607.20 253.81a1.16 1.16 0 1 0 2.32 0a1.16 1.16 0 1 0 -2.32 0M609.50 253.81a1.16 1.16 0 1 0 2.32 0a1.16 1.16 0 1 0 -2.32 0M598.00 256.10a1.16 1.16 0 1 0 2.32 0a1.16 1.16 0 1 0 -2.32 0M598.00 260.67a1.16 1.16 0 1 0 2.32 0a1.16 1.16 0 1 0 -2.32 0M600.30 260.67a1.16 1.16 0 1 0 2.32 0a1.16 1.16 0 1 0 -2.32 0M602.60 260.67a1.16 1.16 0 1 0 2.32 0a1.16 1.16 0 1 0 -2.32 0M604.90 260.67a1.16 1.16 0 1 0 2.32 0a1.16 1.16 0 1 0 -2.32 0M607.20 260.67a1.16 1.16 0 1 0 2.32 0a1.16 1.16 0 1 0 -2.32 0M609.50 260.67a1.16 1.16 0 1 0 2.32 0a1.16 1.16 0 1 0 -2.32 0M598.00 262.95a1.16 1.16 0 1 0 2.32 0a1.16 1.16 0 1 0 -2.32 0M600.30 262.95a1.16 1.16 0 1 0 2.32 0a1.16 1.16 0 1 0 -2.32 0M602.60 262.95a1.16 1.16 0 1 0 2.32 0a1.16 1.16 0 1 0 -2.32 0M604.90 262.95a1.16 1.16 0 1 0 2.32 0a1.16 1.16 0 1 0 -2.32 0M607.20 262.95a1.16 1.16 0 1 0 2.32 0a1.16 1.16 0 1 0 -2.32 0M609.50 262.95a1.16 1.16 0 1 0 2.32 0a1.16 1.16 0 1 0 -2.32 0M611.80 262.95a1.16 1.16 0 1 0 2.32 0a1.16 1.16 0 1 0 -2.32 0M598.00 265.23a1.16 1.16 0 1 0 2.32 0a1.16 1.16 0 1 0 -2.32 0M600.30 265.23a1.16 1.16 0 1 0 2.32 0a1.16 1.16 0 1 0 -2.32 0M602.60 265.23a1.16 1.16 0 1 0 2.32 0a1.16 1.16 0 1 0 -2.32 0M604.90 265.23a1.16 1.16 0 1 0 2.32 0a1.16 1.16 0 1 0 -2.32 0M607.20 265.23a1.16 1.16 0 1 0 2.32 0a1.16 1.16 0 1 0 -2.32 0M609.50 265.23a1.16 1.16 0 1 0 2.32 0a1.16 1.16 0 1 0 -2.32 0M598.00 267.52a1.16 1.16 0 1 0 2.32 0a1.16 1.16 0 1 0 -2.32 0M600.30 267.52a1.16 1.16 0 1 0 2.32 0a1.16 1.16 0 1 0 -2.32 0M602.60 267.52a1.16 1.16 0 1 0 2.32 0a1.16 1.16 0 1 0 -2.32 0M598.00 269.80a1.16 1.16 0 1 0 2.32 0a1.16 1.16 0 1 0 -2.32 0M600.30 269.80a1.16 1.16 0 1 0 2.32 0a1.16 1.16 0 1 0 -2.32 0M602.60 269.80a1.16 1.16 0 1 0 2.32 0a1.16 1.16 0 1 0 -2.32 0M600.30 272.08a1.16 1.16 0 1 0 2.32 0a1.16 1.16 0 1 0 -2.32 0" fill="#8AA4EE"/>
<path d="M597.97 75.70a1.19 1.19 0 1 0 2.38 0a1.19 1.19 0 1 0 -2.38 0" fill="#FDB34A"/>
<path d="M597.97 48.30a1.19 1.19 0 1 0 2.38 0a1.19 1.19 0 1 0 -2.38 0M597.97 50.58a1.19 1.19 0 1 0 2.38 0a1.19 1.19 0 1 0 -2.38 0M600.27 50.58a1.19 1.19 0 1 0 2.38 0a1.19 1.19 0 1 0 -2.38 0M602.57 50.58a1.19 1.19 0 1 0 2.38 0a1.19 1.19 0 1 0 -2.38 0M604.87 50.58a1.19 1.19 0 1 0 2.38 0a1.19 1.19 0 1 0 -2.38 0M597.97 52.87a1.19 1.19 0 1 0 2.38 0a1.19 1.19 0 1 0 -2.38 0M600.27 52.87a1.19 1.19 0 1 0 2.38 0a1.19 1.19 0 1 0 -2.38 0M602.57 52.87a1.19 1.19 0 1 0 2.38 0a1.19 1.19 0 1 0 -2.38 0M604.87 52.87a1.19 1.19 0 1 0 2.38 0a1.19 1.19 0 1 0 -2.38 0M607.17 52.87a1.19 1.19 0 1 0 2.38 0a1.19 1.19 0 1 0 -2.38 0M597.97 55.15a1.19 1.19 0 1 0 2.38 0a1.19 1.19 0 1 0 -2.38 0M600.27 55.15a1.19 1.19 0 1 0 2.38 0a1.19 1.19 0 1 0 -2.38 0M602.57 55.15a1.19 1.19 0 1 0 2.38 0a1.19 1.19 0 1 0 -2.38 0M597.97 59.72a1.19 1.19 0 1 0 2.38 0a1.19 1.19 0 1 0 -2.38 0M597.97 73.42a1.19 1.19 0 1 0 2.38 0a1.19 1.19 0 1 0 -2.38 0M597.97 107.67a1.19 1.19 0 1 0 2.38 0a1.19 1.19 0 1 0 -2.38 0M597.97 132.79a1.19 1.19 0 1 0 2.38 0a1.19 1.19 0 1 0 -2.38 0M597.97 135.07a1.19 1.19 0 1 0 2.38 0a1.19 1.19 0 1 0 -2.38 0M597.97 169.33a1.19 1.19 0 1 0 2.38 0a1.19 1.19 0 1 0 -2.38 0M597.97 171.61a1.19 1.19 0 1 0 2.38 0a1.19 1.19 0 1 0 -2.38 0M597.97 173.89a1.19 1.19 0 1 0 2.38 0a1.19 1.19 0 1 0 -2.38 0M597.97 176.18a1.19 1.19 0 1 0 2.38 0a1.19 1.19 0 1 0 -2.38 0M600.27 176.18a1.19 1.19 0 1 0 2.38 0a1.19 1.19 0 1 0 -2.38 0M602.57 176.18a1.19 1.19 0 1 0 2.38 0a1.19 1.19 0 1 0 -2.38 0M604.87 176.18a1.19 1.19 0 1 0 2.38 0a1.19 1.19 0 1 0 -2.38 0M597.97 180.74a1.19 1.19 0 1 0 2.38 0a1.19 1.19 0 1 0 -2.38 0M597.97 199.01a1.19 1.19 0 1 0 2.38 0a1.19 1.19 0 1 0 -2.38 0M597.97 258.38a1.19 1.19 0 1 0 2.38 0a1.19 1.19 0 1 0 -2.38 0M600.27 258.38a1.19 1.19 0 1 0 2.38 0a1.19 1.19 0 1 0 -2.38 0M597.97 272.08a1.19 1.19 0 1 0 2.38 0a1.19 1.19 0 1 0 -2.38 0M597.97 274.37a1.19 1.19 0 1 0 2.38 0a1.19 1.19 0 1 0 -2.38 0M600.27 274.37a1.19 1.19 0 1 0 2.38 0a1.19 1.19 0 1 0 -2.38 0M597.97 276.65a1.19 1.19 0 1 0 2.38 0a1.19 1.19 0 1 0 -2.38 0M600.27 276.65a1.19 1.19 0 1 0 2.38 0a1.19 1.19 0 1 0 -2.38 0M597.97 278.93a1.19 1.19 0 1 0 2.38 0a1.19 1.19 0 1 0 -2.38 0M600.27 278.93a1.19 1.19 0 1 0 2.38 0a1.19 1.19 0 1 0 -2.38 0M602.57 278.93a1.19 1.19 0 1 0 2.38 0a1.19 1.19 0 1 0 -2.38 0M604.87 278.93a1.19 1.19 0 1 0 2.38 0a1.19 1.19 0 1 0 -2.38 0M597.97 281.22a1.19 1.19 0 1 0 2.38 0a1.19 1.19 0 1 0 -2.38 0M600.27 281.22a1.19 1.19 0 1 0 2.38 0a1.19 1.19 0 1 0 -2.38 0M602.57 281.22a1.19 1.19 0 1 0 2.38 0a1.19 1.19 0 1 0 -2.38 0M604.87 281.22a1.19 1.19 0 1 0 2.38 0a1.19 1.19 0 1 0 -2.38 0M607.17 281.22a1.19 1.19 0 1 0 2.38 0a1.19 1.19 0 1 0 -2.38 0M609.47 281.22a1.19 1.19 0 1 0 2.38 0a1.19 1.19 0 1 0 -2.38 0M611.77 281.22a1.19 1.19 0 1 0 2.38 0a1.19 1.19 0 1 0 -2.38 0M597.97 283.50a1.19 1.19 0 1 0 2.38 0a1.19 1.19 0 1 0 -2.38 0M600.27 283.50a1.19 1.19 0 1 0 2.38 0a1.19 1.19 0 1 0 -2.38 0M602.57 283.50a1.19 1.19 0 1 0 2.38 0a1.19 1.19 0 1 0 -2.38 0" fill="#E74251"/>
<text x="635.3" y="160.0" text-anchor="middle" font-size="10">16</text>
<path d="M648.70 101.90L658.50 66.00M648.70 102.69L658.50 68.30M648.70 103.51L658.50 70.59M648.70 106.24L658.50 72.89M648.70 107.00L658.50 75.19M648.70 109.08L658.50 77.48M648.70 109.68L658.50 79.78M648.70 109.87L658.50 82.08M648.70 110.17L658.50 84.37M648.70 114.36L658.50 86.67M648.70 115.07L658.50 88.97M648.70 116.10L658.50 91.26M648.70 118.00L658.50 93.56M648.70 121.50L658.50 95.86M648.70 122.82L658.50 98.15M648.70 126.55L658.50 100.45M648.70 127.72L658.50 102.74M648.70 130.51L658.50 105.04M648.70 132.24L658.50 107.34M648.70 134.11L658.50 109.63M648.70 140.59L658.50 111.93M648.70 141.28L658.50 114.23M648.70 142.11L658.50 116.52M648.70 143.41L658.50 118.82M648.70 144.38L658.50 121.12M648.70 145.38L658.50 123.41M648.70 145.74L658.50 125.71M648.70 148.12L658.50 128.01M648.70 148.93L658.50 130.30M648.70 149.04L658.50 132.60M648.70 150.12L658.50 134.90M648.70 150.94L658.50 137.19M648.70 151.29L658.50 139.49M648.70 151.61L658.50 141.79M648.70 151.67L658.50 144.08M648.70 156.57L658.50 148.68M648.70 157.68L658.50 150.97M648.70 158.42L658.50 153.27M648.70 158.76L658.50 155.57M648.70 159.36L658.50 157.86M648.70 160.42L658.50 160.16M648.70 161.68L658.50 162.46M648.70 162.87L658.50 164.75M648.70 164.83L658.50 167.05M648.70 165.39L658.50 169.34M648.70 167.31L658.50 171.64M648.70 167.60L658.50 173.94M648.70 168.07L658.50 176.23M648.70 168.75L658.50 178.53M648.70 168.87L658.50 180.83M648.70 168.98L658.50 183.12M648.70 170.67L658.50 185.42M648.70 172.78L658.50 187.72M648.70 173.65L658.50 190.01M648.70 173.67L658.50 192.31M648.70 174.19L658.50 194.61M648.70 177.16L658.50 196.90M648.70 177.94L658.50 199.20M648.70 180.90L658.50 201.50M648.70 182.39L658.50 203.79M648.70 184.98L658.50 206.09M648.70 186.75L658.50 208.39M648.70 187.06L658.50 210.68M648.70 187.65L658.50 212.98M648.70 187.85L658.50 215.28M648.70 189.28L658.50 217.57M648.70 189.69L658.50 219.87M648.70 190.25L658.50 222.17M648.70 192.26L658.50 224.46M648.70 192.46L658.50 226.76M648.70 192.54L658.50 229.06M648.70 192.77L658.50 231.35M648.70 193.30L658.50 233.65M648.70 194.86L658.50 235.94M648.70 196.24L658.50 238.24M648.70 196.85L658.50 240.54M648.70 196.86L658.50 242.83M648.70 197.94L658.50 245.13M648.70 199.19L658.50 247.43M648.70 203.05L658.50 249.72M648.70 203.78L658.50 252.02M648.70 204.06L658.50 254.32M648.70 204.26L658.50 256.61M648.70 205.70L658.50 258.91M648.70 205.82L658.50 261.21M648.70 207.83L658.50 263.50M648.70 208.74L658.50 265.80" stroke="#000" stroke-width="0.5" fill="none"/>
<rect x="644.9" y="100.1" width="3.20" height="110.50" rx="1.60" fill="#dadada"/>
<path d="M644.90 103.30h3.20v1.40h-3.20zM644.90 106.45h3.20v1.40h-3.20zM644.90 109.45h3.20v0.70h-3.20zM644.90 113.85h3.20v1.10h-3.20zM644.90 121.50h3.20v0.70h-3.20zM644.90 127.10h3.20v1.80h-3.20zM644.90 129.20h3.20v0.70h-3.20zM644.90 130.50h3.20v1.40h-3.20zM644.90 133.50h3.20v1.10h-3.20zM644.90 178.00h3.20v0.90h-3.20zM644.90 179.20h3.20v1.10h-3.20zM644.90 193.55h3.20v0.90h-3.20zM644.90 205.75h3.20v0.90h-3.20z" fill="#7a7a7a"/>
<path d="M644.90 105.50h3.20v0.50h-3.20zM644.90 146.75h3.20v1.80h-3.20zM644.90 149.00h3.20v1.10h-3.20zM644.90 161.60h3.20v1.40h-3.20zM644.90 169.35h3.20v0.90h-3.20zM644.90 175.00h3.20v0.70h-3.20zM644.90 184.50h3.20v0.50h-3.20zM644.90 188.65h3.20v1.80h-3.20z" fill="#5e5e5e"/>
<path d="M644.90 108.15h3.20v0.70h-3.20zM644.90 110.75h3.20v1.10h-3.20zM644.90 112.45h3.20v1.10h-3.20zM644.90 118.20h3.20v1.10h-3.20zM644.90 119.60h3.20v1.10h-3.20zM644.90 122.65h3.20v1.80h-3.20zM644.90 135.05h3.20v1.80h-3.20zM644.90 140.55h3.20v1.10h-3.20zM644.90 145.25h3.20v0.90h-3.20zM644.90 159.90h3.20v1.10h-3.20zM644.90 181.30h3.20v1.40h-3.20zM644.90 196.55h3.20v0.70h-3.20zM644.90 199.55h3.20v0.70h-3.20zM644.90 201.25h3.20v0.70h-3.20z" fill="#000"/>
<path d="M644.90 115.95h3.20v0.50h-3.20zM644.90 125.25h3.20v1.40h-3.20zM644.90 132.70h3.20v0.50h-3.20zM644.90 138.65h3.20v1.10h-3.20zM644.90 142.45h3.20v1.10h-3.20zM644.90 150.90h3.20v0.70h-3.20zM644.90 163.30h3.20v1.10h-3.20zM644.90 167.65h3.20v0.90h-3.20zM644.90 171.05h3.20v1.10h-3.20zM644.90 172.60h3.20v1.80h-3.20zM644.90 176.30h3.20v0.90h-3.20zM644.90 185.80h3.20v0.70h-3.20zM644.90 186.95h3.20v1.40h-3.20zM644.90 195.05h3.20v0.70h-3.20zM644.90 198.05h3.20v0.70h-3.20zM644.90 207.10h3.20v0.30h-3.20z" fill="#2a2a2a"/>
<path d="M644.90 116.90h3.20v0.70h-3.20zM644.90 144.15h3.20v0.50h-3.20zM644.90 154.80h3.20v1.40h-3.20z" fill="#111"/>
<path d="M644.90 137.85h3.20v0.50h-3.20zM644.90 152.40h3.20v1.80h-3.20zM644.90 156.50h3.20v1.10h-3.20zM644.90 158.40h3.20v0.50h-3.20zM644.90 165.40h3.20v1.80h-3.20zM644.90 183.70h3.20v0.50h-3.20zM644.90 190.90h3.20v0.50h-3.20zM644.90 192.00h3.20v1.10h-3.20zM644.90 202.95h3.20v1.80h-3.20z" fill="#444"/>
<ellipse cx="646.50" cy="101.60" rx="1.60" ry="1.5" fill="#000"/>
<ellipse cx="646.50" cy="209.10" rx="1.60" ry="1.5" fill="#000"/>
<path d="M667.70 68.30a1.16 1.16 0 1 0 2.32 0a1.16 1.16 0 1 0 -2.32 0M670.00 68.30a1.16 1.16 0 1 0 2.32 0a1.16 1.16 0 1 0 -2.32 0M660.80 72.89a1.16 1.16 0 1 0 2.32 0a1.16 1.16 0 1 0 -2.32 0M663.10 72.89a1.16 1.16 0 1 0 2.32 0a1.16 1.16 0 1 0 -2.32 0M665.40 72.89a1.16 1.16 0 1 0 2.32 0a1.16 1.16 0 1 0 -2.32 0M667.70 72.89a1.16 1.16 0 1 0 2.32 0a1.16 1.16 0 1 0 -2.32 0M670.00 72.89a1.16 1.16 0 1 0 2.32 0a1.16 1.16 0 1 0 -2.32 0M672.30 72.89a1.16 1.16 0 1 0 2.32 0a1.16 1.16 0 1 0 -2.32 0M674.60 72.89a1.16 1.16 0 1 0 2.32 0a1.16 1.16 0 1 0 -2.32 0M660.80 75.19a1.16 1.16 0 1 0 2.32 0a1.16 1.16 0 1 0 -2.32 0M663.10 75.19a1.16 1.16 0 1 0 2.32 0a1.16 1.16 0 1 0 -2.32 0M660.80 77.48a1.16 1.16 0 1 0 2.32 0a1.16 1.16 0 1 0 -2.32 0M663.10 77.48a1.16 1.16 0 1 0 2.32 0a1.16 1.16 0 1 0 -2.32 0M665.40 77.48a1.16 1.16 0 1 0 2.32 0a1.16 1.16 0 1 0 -2.32 0M663.10 79.78a1.16 1.16 0 1 0 2.32 0a1.16 1.16 0 1 0 -2.32 0M660.80 82.08a1.16 1.16 0 1 0 2.32 0a1.16 1.16 0 1 0 -2.32 0M663.10 82.08a1.16 1.16 0 1 0 2.32 0a1.16 1.16 0 1 0 -2.32 0M660.80 84.37a1.16 1.16 0 1 0 2.32 0a1.16 1.16 0 1 0 -2.32 0M660.80 86.67a1.16 1.16 0 1 0 2.32 0a1.16 1.16 0 1 0 -2.32 0M663.10 86.67a1.16 1.16 0 1 0 2.32 0a1.16 1.16 0 1 0 -2.32 0M665.40 86.67a1.16 1.16 0 1 0 2.32 0a1.16 1.16 0 1 0 -2.32 0M667.70 86.67a1.16 1.16 0 1 0 2.32 0a1.16 1.16 0 1 0 -2.32 0M670.00 86.67a1.16 1.16 0 1 0 2.32 0a1.16 1.16 0 1 0 -2.32 0M660.80 88.97a1.16 1.16 0 1 0 2.32 0a1.16 1.16 0 1 0 -2.32 0M663.10 88.97a1.16 1.16 0 1 0 2.32 0a1.16 1.16 0 1 0 -2.32 0M665.40 88.97a1.16 1.16 0 1 0 2.32 0a1.16 1.16 0 1 0 -2.32 0M667.70 88.97a1.16 1.16 0 1 0 2.32 0a1.16 1.16 0 1 0 -2.32 0M670.00 88.97a1.16 1.16 0 1 0 2.32 0a1.16 1.16 0 1 0 -2.32 0M660.80 91.26a1.16 1.16 0 1 0 2.32 0a1.16 1.16 0 1 0 -2.32 0M663.10 91.26a1.16 1.16 0 1 0 2.32 0a1.16 1.16 0 1 0 -2.32 0M665.40 91.26a1.16 1.16 0 1 0 2.32 0a1.16 1.16 0 1 0 -2.32 0M667.70 91.26a1.16 1.16 0 1 0 2.32 0a1.16 1.16 0 1 0 -2.32 0M660.80 93.56a1.16 1.16 0 1 0 2.32 0a1.16 1.16 0 1 0 -2.32 0M663.10 93.56a1.16 1.16 0 1 0 2.32 0a1.16 1.16 0 1 0 -2.32 0M665.40 93.56a1.16 1.16 0 1 0 2.32 0a1.16 1.16 0 1 0 -2.32 0M667.70 93.56a1.16 1.16 0 1 0 2.32 0a1.16 1.16 0 1 0 -2.32 0M663.10 98.15a1.16 1.16 0 1 0 2.32 0a1.16 1.16 0 1 0 -2.32 0M665.40 98.15a1.16 1.16 0 1 0 2.32 0a1.16 1.16 0 1 0 -2.32 0M660.80 100.45a1.16 1.16 0 1 0 2.32 0a1.16 1.16 0 1 0 -2.32 0M663.10 100.45a1.16 1.16 0 1 0 2.32 0a1.16 1.16 0 1 0 -2.32 0M665.40 100.45a1.16 1.16 0 1 0 2.32 0a1.16 1.16 0 1 0 -2.32 0M667.70 100.45a1.16 1.16 0 1 0 2.32 0a1.16 1.16 0 1 0 -2.32 0M670.00 100.45a1.16 1.16 0 1 0 2.32 0a1.16 1.16 0 1 0 -2.32 0M672.30 100.45a1.16 1.16 0 1 0 2.32 0a1.16 1.16 0 1 0 -2.32 0M674.60 100.45a1.16 1.16 0 1 0 2.32 0a1.16 1.16 0 1 0 -2.32 0M660.80 102.74a1.16 1.16 0 1 0 2.32 0a1.16 1.16 0 1 0 -2.32 0M663.10 102.74a1.16 1.16 0 1 0 2.32 0a1.16 1.16 0 1 0 -2.32 0M665.40 102.74a1.16 1.16 0 1 0 2.32 0a1.16 1.16 0 1 0 -2.32 0M667.70 102.74a1.16 1.16 0 1 0 2.32 0a1.16 1.16 0 1 0 -2.32 0M670.00 102.74a1.16 1.16 0 1 0 2.32 0a1.16 1.16 0 1 0 -2.32 0M672.30 102.74a1.16 1.16 0 1 0 2.32 0a1.16 1.16 0 1 0 -2.32 0M660.80 105.04a1.16 1.16 0 1 0 2.32 0a1.16 1.16 0 1 0 -2.32 0M660.80 107.34a1.16 1.16 0 1 0 2.32 0a1.16 1.16 0 1 0 -2.32 0M660.80 109.63a1.16 1.16 0 1 0 2.32 0a1.16 1.16 0 1 0 -2.32 0M663.10 109.63a1.16 1.16 0 1 0 2.32 0a1.16 1.16 0 1 0 -2.32 0M665.40 109.63a1.16 1.16 0 1 0 2.32 0a1.16 1.16 0 1 0 -2.32 0M667.70 109.63a1.16 1.16 0 1 0 2.32 0a1.16 1.16 0 1 0 -2.32 0M660.80 111.93a1.16 1.16 0 1 0 2.32 0a1.16 1.16 0 1 0 -2.32 0M663.10 111.93a1.16 1.16 0 1 0 2.32 0a1.16 1.16 0 1 0 -2.32 0M660.80 114.23a1.16 1.16 0 1 0 2.32 0a1.16 1.16 0 1 0 -2.32 0M663.10 114.23a1.16 1.16 0 1 0 2.32 0a1.16 1.16 0 1 0 -2.32 0M665.40 114.23a1.16 1.16 0 1 0 2.32 0a1.16 1.16 0 1 0 -2.32 0M667.70 114.23a1.16 1.16 0 1 0 2.32 0a1.16 1.16 0 1 0 -2.32 0M670.00 114.23a1.16 1.16 0 1 0 2.32 0a1.16 1.16 0 1 0 -2.32 0M672.30 114.23a1.16 1.16 0 1 0 2.32 0a1.16 1.16 0 1 0 -2.32 0M674.60 114.23a1.16 1.16 0 1 0 2.32 0a1.16 1.16 0 1 0 -2.32 0M660.80 116.52a1.16 1.16 0 1 0 2.32 0a1.16 1.16 0 1 0 -2.32 0M663.10 116.52a1.16 1.16 0 1 0 2.32 0a1.16 1.16 0 1 0 -2.32 0M665.40 116.52a1.16 1.16 0 1 0 2.32 0a1.16 1.16 0 1 0 -2.32 0M667.70 116.52a1.16 1.16 0 1 0 2.32 0a1.16 1.16 0 1 0 -2.32 0M670.00 116.52a1.16 1.16 0 1 0 2.32 0a1.16 1.16 0 1 0 -2.32 0M672.30 116.52a1.16 1.16 0 1 0 2.32 0a1.16 1.16 0 1 0 -2.32 0M674.60 116.52a1.16 1.16 0 1 0 2.32 0a1.16 1.16 0 1 0 -2.32 0M676.90 116.52a1.16 1.16 0 1 0 2.32 0a1.16 1.16 0 1 0 -2.32 0M679.20 116.52a1.16 1.16 0 1 0 2.32 0a1.16 1.16 0 1 0 -2.32 0M681.50 116.52a1.16 1.16 0 1 0 2.32 0a1.16 1.16 0 1 0 -2.32 0M663.10 118.82a1.16 1.16 0 1 0 2.32 0a1.16 1.16 0 1 0 -2.32 0M665.40 118.82a1.16 1.16 0 1 0 2.32 0a1.16 1.16 0 1 0 -2.32 0M667.70 118.82a1.16 1.16 0 1 0 2.32 0a1.16 1.16 0 1 0 -2.32 0M670.00 118.82a1.16 1.16 0 1 0 2.32 0a1.16 1.16 0 1 0 -2.32 0M672.30 118.82a1.16 1.16 0 1 0 2.32 0a1.16 1.16 0 1 0 -2.32 0M674.60 118.82a1.16 1.16 0 1 0 2.32 0a1.16 1.16 0 1 0 -2.32 0M663.10 121.12a1.16 1.16 0 1 0 2.32 0a1.16 1.16 0 1 0 -2.32 0M665.40 121.12a1.16 1.16 0 1 0 2.32 0a1.16 1.16 0 1 0 -2.32 0M667.70 121.12a1.16 1.16 0 1 0 2.32 0a1.16 1.16 0 1 0 -2.32 0M660.80 123.41a1.16 1.16 0 1 0 2.32 0a1.16 1.16 0 1 0 -2.32 0M663.10 123.41a1.16 1.16 0 1 0 2.32 0a1.16 1.16 0 1 0 -2.32 0M665.40 123.41a1.16 1.16 0 1 0 2.32 0a1.16 1.16 0 1 0 -2.32 0M667.70 123.41a1.16 1.16 0 1 0 2.32 0a1.16 1.16 0 1 0 -2.32 0M670.00 123.41a1.16 1.16 0 1 0 2.32 0a1.16 1.16 0 1 0 -2.32 0M660.80 125.71a1.16 1.16 0 1 0 2.32 0a1.16 1.16 0 1 0 -2.32 0M663.10 125.71a1.16 1.16 0 1 0 2.32 0a1.16 1.16 0 1 0 -2.32 0M665.40 125.71a1.16 1.16 0 1 0 2.32 0a1.16 1.16 0 1 0 -2.32 0M667.70 125.71a1.16 1.16 0 1 0 2.32 0a1.16 1.16 0 1 0 -2.32 0M670.00 125.71a1.16 1.16 0 1 0 2.32 0a1.16 1.16 0 1 0 -2.32 0M660.80 128.01a1.16 1.16 0 1 0 2.32 0a1.16 1.16 0 1 0 -2.32 0M663.10 128.01a1.16 1.16 0 1 0 2.32 0a1.16 1.16 0 1 0 -2.32 0M665.40 128.01a1.16 1.16 0 1 0 2.32 0a1.16 1.16 0 1 0 -2.32 0M667.70 128.01a1.16 1.16 0 1 0 2.32 0a1.16 1.16 0 1 0 -2.32 0M660.80 130.30a1.16 1.16 0 1 0 2.32 0a1.16 1.16 0 1 0 -2.32 0M660.80 132.60a1.16 1.16 0 1 0 2.32 0a1.16 1.16 0 1 0 -2.32 0M663.10 132.60a1.16 1.16 0 1 0 2.32 0a1.16 1.16 0 1 0 -2.32 0M660.80 134.90a1.16 1.16 0 1 0 2.32 0a1.16 1.16 0 1 0 -2.32 0M663.10 134.90a1.16 1.16 0 1 0 2.32 0a1.16 1.16 0 1 0 -2.32 0M665.40 134.90a1.16 1.16 0 1 0 2.32 0a1.16 1.16 0 1 0 -2.32 0M660.80 137.19a1.16 1.16 0 1 0 2.32 0a1.16 1.16 0 1 0 -2.32 0M663.10 137.19a1.16 1.16 0 1 0 2.32 0a1.16 1.16 0 1 0 -2.32 0M665.40 137.19a1.16 1.16 0 1 0 2.32 0a1.16 1.16 0 1 0 -2.32 0M660.80 139.49a1.16 1.16 0 1 0 2.32 0a1.16 1.16 0 1 0 -2.32 0M663.10 139.49a1.16 1.16 0 1 0 2.32 0a1.16 1.16 0 1 0 -2.32 0M665.40 139.49a1.16 1.16 0 1 0 2.32 0a1.16 1.16 0 1 0 -2.32 0M663.10 141.79a1.16 1.16 0 1 0 2.32 0a1.16 1.16 0 1 0 -2.32 0M665.40 141.79a1.16 1.16 0 1 0 2.32 0a1.16 1.16 0 1 0 -2.32 0M667.70 141.79a1.16 1.16 0 1 0 2.32 0a1.16 1.16 0 1 0 -2.32 0M670.00 141.79a1.16 1.16 0 1 0 2.32 0a1.16 1.16 0 1 0 -2.32 0M672.30 141.79a1.16 1.16 0 1 0 2.32 0a1.16 1.16 0 1 0 -2.32 0M674.60 141.79a1.16 1.16 0 1 0 2.32 0a1.16 1.16 0 1 0 -2.32 0M676.90 141.79a1.16 1.16 0 1 0 2.32 0a1.16 1.16 0 1 0 -2.32 0M660.80 144.08a1.16 1.16 0 1 0 2.32 0a1.16 1.16 0 1 0 -2.32 0M663.10 144.08a1.16 1.16 0 1 0 2.32 0a1.16 1.16 0 1 0 -2.32 0M665.40 144.08a1.16 1.16 0 1 0 2.32 0a1.16 1.16 0 1 0 -2.32 0M660.80 148.68a1.16 1.16 0 1 0 2.32 0a1.16 1.16 0 1 0 -2.32 0M663.10 148.68a1.16 1.16 0 1 0 2.32 0a1.16 1.16 0 1 0 -2.32 0M665.40 148.68a1.16 1.16 0 1 0 2.32 0a1.16 1.16 0 1 0 -2.32 0M660.80 150.97a1.16 1.16 0 1 0 2.32 0a1.16 1.16 0 1 0 -2.32 0M663.10 150.97a1.16 1.16 0 1 0 2.32 0a1.16 1.16 0 1 0 -2.32 0M660.80 153.27a1.16 1.16 0 1 0 2.32 0a1.16 1.16 0 1 0 -2.32 0M660.80 155.57a1.16 1.16 0 1 0 2.32 0a1.16 1.16 0 1 0 -2.32 0M663.10 157.86a1.16 1.16 0 1 0 2.32 0a1.16 1.16 0 1 0 -2.32 0M663.10 160.16a1.16 1.16 0 1 0 2.32 0a1.16 1.16 0 1 0 -2.32 0M660.80 162.46a1.16 1.16 0 1 0 2.32 0a1.16 1.16 0 1 0 -2.32 0M663.10 162.46a1.16 1.16 0 1 0 2.32 0a1.16 1.16 0 1 0 -2.32 0M665.40 162.46a1.16 1.16 0 1 0 2.32 0a1.16 1.16 0 1 0 -2.32 0M660.80 164.75a1.16 1.16 0 1 0 2.32 0a1.16 1.16 0 1 0 -2.32 0M663.10 164.75a1.16 1.16 0 1 0 2.32 0a1.16 1.16 0 1 0 -2.32 0M665.40 164.75a1.16 1.16 0 1 0 2.32 0a1.16 1.16 0 1 0 -2.32 0M660.80 167.05a1.16 1.16 0 1 0 2.32 0a1.16 1.16 0 1 0 -2.32 0M663.10 167.05a1.16 1.16 0 1 0 2.32 0a1.16 1.16 0 1 0 -2.32 0M665.40 167.05a1.16 1.16 0 1 0 2.32 0a1.16 1.16 0 1 0 -2.32 0M660.80 171.64a1.16 1.16 0 1 0 2.32 0a1.16 1.16 0 1 0 -2.32 0M663.10 171.64a1.16 1.16 0 1 0 2.32 0a1.16 1.16 0 1 0 -2.32 0M660.80 173.94a1.16 1.16 0 1 0 2.32 0a1.16 1.16 0 1 0 -2.32 0M663.10 173.94a1.16 1.16 0 1 0 2.32 0a1.16 1.16 0 1 0 -2.32 0M665.40 173.94a1.16 1.16 0 1 0 2.32 0a1.16 1.16 0 1 0 -2.32 0M667.70 173.94a1.16 1.16 0 1 0 2.32 0a1.16 1.16 0 1 0 -2.32 0M670.00 173.94a1.16 1.16 0 1 0 2.32 0a1.16 1.16 0 1 0 -2.32 0M672.30 173.94a1.16 1.16 0 1 0 2.32 0a1.16 1.16 0 1 0 -2.32 0M674.60 173.94a1.16 1.16 0 1 0 2.32 0a1.16 1.16 0 1 0 -2.32 0M676.90 173.94a1.16 1.16 0 1 0 2.32 0a1.16 1.16 0 1 0 -2.32 0M679.20 173.94a1.16 1.16 0 1 0 2.32 0a1.16 1.16 0 1 0 -2.32 0M660.80 176.23a1.16 1.16 0 1 0 2.32 0a1.16 1.16 0 1 0 -2.32 0M663.10 176.23a1.16 1.16 0 1 0 2.32 0a1.16 1.16 0 1 0 -2.32 0M665.40 176.23a1.16 1.16 0 1 0 2.32 0a1.16 1.16 0 1 0 -2.32 0M667.70 176.23a1.16 1.16 0 1 0 2.32 0a1.16 1.16 0 1 0 -2.32 0M670.00 176.23a1.16 1.16 0 1 0 2.32 0a1.16 1.16 0 1 0 -2.32 0M660.80 178.53a1.16 1.16 0 1 0 2.32 0a1.16 1.16 0 1 0 -2.32 0M663.10 178.53a1.16 1.16 0 1 0 2.32 0a1.16 1.16 0 1 0 -2.32 0M665.40 178.53a1.16 1.16 0 1 0 2.32 0a1.16 1.16 0 1 0 -2.32 0M667.70 178.53a1.16 1.16 0 1 0 2.32 0a1.16 1.16 0 1 0 -2.32 0M660.80 180.83a1.16 1.16 0 1 0 2.32 0a1.16 1.16 0 1 0 -2.32 0M663.10 180.83a1.16 1.16 0 1 0 2.32 0a1.16 1.16 0 1 0 -2.32 0M665.40 180.83a1.16 1.16 0 1 0 2.32 0a1.16 1.16 0 1 0 -2.32 0M667.70 180.83a1.16 1.16 0 1 0 2.32 0a1.16 1.16 0 1 0 -2.32 0M670.00 180.83a1.16 1.16 0 1 0 2.32 0a1.16 1.16 0 1 0 -2.32 0M660.80 183.12a1.16 1.16 0 1 0 2.32 0a1.16 1.16 0 1 0 -2.32 0M660.80 185.42a1.16 1.16 0 1 0 2.32 0a1.16 1.16 0 1 0 -2.32 0M663.10 185.42a1.16 1.16 0 1 0 2.32 0a1.16 1.16 0 1 0 -2.32 0M665.40 185.42a1.16 1.16 0 1 0 2.32 0a1.16 1.16 0 1 0 -2.32 0M667.70 185.42a1.16 1.16 0 1 0 2.32 0a1.16 1.16 0 1 0 -2.32 0M670.00 185.42a1.16 1.16 0 1 0 2.32 0a1.16 1.16 0 1 0 -2.32 0M672.30 185.42a1.16 1.16 0 1 0 2.32 0a1.16 1.16 0 1 0 -2.32 0M674.60 185.42a1.16 1.16 0 1 0 2.32 0a1.16 1.16 0 1 0 -2.32 0M660.80 187.72a1.16 1.16 0 1 0 2.32 0a1.16 1.16 0 1 0 -2.32 0M663.10 187.72a1.16 1.16 0 1 0 2.32 0a1.16 1.16 0 1 0 -2.32 0M665.40 187.72a1.16 1.16 0 1 0 2.32 0a1.16 1.16 0 1 0 -2.32 0M660.80 190.01a1.16 1.16 0 1 0 2.32 0a1.16 1.16 0 1 0 -2.32 0M663.10 190.01a1.16 1.16 0 1 0 2.32 0a1.16 1.16 0 1 0 -2.32 0M665.40 190.01a1.16 1.16 0 1 0 2.32 0a1.16 1.16 0 1 0 -2.32 0M667.70 190.01a1.16 1.16 0 1 0 2.32 0a1.16 1.16 0 1 0 -2.32 0M670.00 190.01a1.16 1.16 0 1 0 2.32 0a1.16 1.16 0 1 0 -2.32 0M672.30 190.01a1.16 1.16 0 1 0 2.32 0a1.16 1.16 0 1 0 -2.32 0M674.60 190.01a1.16 1.16 0 1 0 2.32 0a1.16 1.16 0 1 0 -2.32 0M660.80 192.31a1.16 1.16 0 1 0 2.32 0a1.16 1.16 0 1 0 -2.32 0M663.10 192.31a1.16 1.16 0 1 0 2.32 0a1.16 1.16 0 1 0 -2.32 0M665.40 192.31a1.16 1.16 0 1 0 2.32 0a1.16 1.16 0 1 0 -2.32 0M660.80 194.61a1.16 1.16 0 1 0 2.32 0a1.16 1.16 0 1 0 -2.32 0M663.10 194.61a1.16 1.16 0 1 0 2.32 0a1.16 1.16 0 1 0 -2.32 0M660.80 196.90a1.16 1.16 0 1 0 2.32 0a1.16 1.16 0 1 0 -2.32 0M660.80 199.20a1.16 1.16 0 1 0 2.32 0a1.16 1.16 0 1 0 -2.32 0M663.10 199.20a1.16 1.16 0 1 0 2.32 0a1.16 1.16 0 1 0 -2.32 0M660.80 201.50a1.16 1.16 0 1 0 2.32 0a1.16 1.16 0 1 0 -2.32 0M663.10 203.79a1.16 1.16 0 1 0 2.32 0a1.16 1.16 0 1 0 -2.32 0M665.40 203.79a1.16 1.16 0 1 0 2.32 0a1.16 1.16 0 1 0 -2.32 0M667.70 203.79a1.16 1.16 0 1 0 2.32 0a1.16 1.16 0 1 0 -2.32 0M670.00 203.79a1.16 1.16 0 1 0 2.32 0a1.16 1.16 0 1 0 -2.32 0M672.30 203.79a1.16 1.16 0 1 0 2.32 0a1.16 1.16 0 1 0 -2.32 0M660.80 206.09a1.16 1.16 0 1 0 2.32 0a1.16 1.16 0 1 0 -2.32 0M660.80 208.39a1.16 1.16 0 1 0 2.32 0a1.16 1.16 0 1 0 -2.32 0M663.10 208.39a1.16 1.16 0 1 0 2.32 0a1.16 1.16 0 1 0 -2.32 0M665.40 208.39a1.16 1.16 0 1 0 2.32 0a1.16 1.16 0 1 0 -2.32 0M660.80 210.68a1.16 1.16 0 1 0 2.32 0a1.16 1.16 0 1 0 -2.32 0M663.10 210.68a1.16 1.16 0 1 0 2.32 0a1.16 1.16 0 1 0 -2.32 0M665.40 210.68a1.16 1.16 0 1 0 2.32 0a1.16 1.16 0 1 0 -2.32 0M667.70 210.68a1.16 1.16 0 1 0 2.32 0a1.16 1.16 0 1 0 -2.32 0M660.80 212.98a1.16 1.16 0 1 0 2.32 0a1.16 1.16 0 1 0 -2.32 0M663.10 212.98a1.16 1.16 0 1 0 2.32 0a1.16 1.16 0 1 0 -2.32 0M665.40 212.98a1.16 1.16 0 1 0 2.32 0a1.16 1.16 0 1 0 -2.32 0M667.70 212.98a1.16 1.16 0 1 0 2.32 0a1.16 1.16 0 1 0 -2.32 0M670.00 212.98a1.16 1.16 0 1 0 2.32 0a1.16 1.16 0 1 0 -2.32 0M672.30 212.98a1.16 1.16 0 1 0 2.32 0a1.16 1.16 0 1 0 -2.32 0M674.60 212.98a1.16 1.16 0 1 0 2.32 0a1.16 1.16 0 1 0 -2.32 0M676.90 212.98a1.16 1.16 0 1 0 2.32 0a1.16 1.16 0 1 0 -2.32 0M679.20 212.98a1.16 1.16 0 1 0 2.32 0a1.16 1.16 0 1 0 -2.32 0M660.80 215.28a1.16 1.16 0 1 0 2.32 0a1.16 1.16 0 1 0 -2.32 0M663.10 215.28a1.16 1.16 0 1 0 2.32 0a1.16 1.16 0 1 0 -2.32 0M665.40 215.28a1.16 1.16 0 1 0 2.32 0a1.16 1.16 0 1 0 -2.32 0M667.70 215.28a1.16 1.16 0 1 0 2.32 0a1.16 1.16 0 1 0 -2.32 0M670.00 215.28a1.16 1.16 0 1 0 2.32 0a1.16 1.16 0 1 0 -2.32 0M672.30 215.28a1.16 1.16 0 1 0 2.32 0a1.16 1.16 0 1 0 -2.32 0M674.60 215.28a1.16 1.16 0 1 0 2.32 0a1.16 1.16 0 1 0 -2.32 0M660.80 217.57a1.16 1.16 0 1 0 2.32 0a1.16 1.16 0 1 0 -2.32 0M663.10 217.57a1.16 1.16 0 1 0 2.32 0a1.16 1.16 0 1 0 -2.32 0M665.40 217.57a1.16 1.16 0 1 0 2.32 0a1.16 1.16 0 1 0 -2.32 0M667.70 217.57a1.16 1.16 0 1 0 2.32 0a1.16 1.16 0 1 0 -2.32 0M663.10 219.87a1.16 1.16 0 1 0 2.32 0a1.16 1.16 0 1 0 -2.32 0M665.40 219.87a1.16 1.16 0 1 0 2.32 0a1.16 1.16 0 1 0 -2.32 0M660.80 222.17a1.16 1.16 0 1 0 2.32 0a1.16 1.16 0 1 0 -2.32 0M660.80 224.46a1.16 1.16 0 1 0 2.32 0a1.16 1.16 0 1 0 -2.32 0M663.10 224.46a1.16 1.16 0 1 0 2.32 0a1.16 1.16 0 1 0 -2.32 0M660.80 226.76a1.16 1.16 0 1 0 2.32 0a1.16 1.16 0 1 0 -2.32 0M663.10 226.76a1.16 1.16 0 1 0 2.32 0a1.16 1.16 0 1 0 -2.32 0M665.40 226.76a1.16 1.16 0 1 0 2.32 0a1.16 1.16 0 1 0 -2.32 0M667.70 226.76a1.16 1.16 0 1 0 2.32 0a1.16 1.16 0 1 0 -2.32 0M670.00 226.76a1.16 1.16 0 1 0 2.32 0a1.16 1.16 0 1 0 -2.32 0M672.30 226.76a1.16 1.16 0 1 0 2.32 0a1.16 1.16 0 1 0 -2.32 0M674.60 226.76a1.16 1.16 0 1 0 2.32 0a1.16 1.16 0 1 0 -2.32 0M676.90 226.76a1.16 1.16 0 1 0 2.32 0a1.16 1.16 0 1 0 -2.32 0M679.20 226.76a1.16 1.16 0 1 0 2.32 0a1.16 1.16 0 1 0 -2.32 0M660.80 229.06a1.16 1.16 0 1 0 2.32 0a1.16 1.16 0 1 0 -2.32 0M663.10 229.06a1.16 1.16 0 1 0 2.32 0a1.16 1.16 0 1 0 -2.32 0M665.40 229.06a1.16 1.16 0 1 0 2.32 0a1.16 1.16 0 1 0 -2.32 0M667.70 229.06a1.16 1.16 0 1 0 2.32 0a1.16 1.16 0 1 0 -2.32 0M660.80 231.35a1.16 1.16 0 1 0 2.32 0a1.16 1.16 0 1 0 -2.32 0M660.80 233.65a1.16 1.16 0 1 0 2.32 0a1.16 1.16 0 1 0 -2.32 0M660.80 235.94a1.16 1.16 0 1 0 2.32 0a1.16 1.16 0 1 0 -2.32 0M663.10 235.94a1.16 1.16 0 1 0 2.32 0a1.16 1.16 0 1 0 -2.32 0M660.80 238.24a1.16 1.16 0 1 0 2.32 0a1.16 1.16 0 1 0 -2.32 0M660.80 240.54a1.16 1.16 0 1 0 2.32 0a1.16 1.16 0 1 0 -2.32 0M663.10 240.54a1.16 1.16 0 1 0 2.32 0a1.16 1.16 0 1 0 -2.32 0M665.40 240.54a1.16 1.16 0 1 0 2.32 0a1.16 1.16 0 1 0 -2.32 0M660.80 242.83a1.16 1.16 0 1 0 2.32 0a1.16 1.16 0 1 0 -2.32 0M663.10 242.83a1.16 1.16 0 1 0 2.32 0a1.16 1.16 0 1 0 -2.32 0M660.80 245.13a1.16 1.16 0 1 0 2.32 0a1.16 1.16 0 1 0 -2.32 0M663.10 245.13a1.16 1.16 0 1 0 2.32 0a1.16 1.16 0 1 0 -2.32 0M660.80 247.43a1.16 1.16 0 1 0 2.32 0a1.16 1.16 0 1 0 -2.32 0M663.10 247.43a1.16 1.16 0 1 0 2.32 0a1.16 1.16 0 1 0 -2.32 0M665.40 247.43a1.16 1.16 0 1 0 2.32 0a1.16 1.16 0 1 0 -2.32 0M667.70 247.43a1.16 1.16 0 1 0 2.32 0a1.16 1.16 0 1 0 -2.32 0M660.80 249.72a1.16 1.16 0 1 0 2.32 0a1.16 1.16 0 1 0 -2.32 0M663.10 249.72a1.16 1.16 0 1 0 2.32 0a1.16 1.16 0 1 0 -2.32 0M660.80 252.02a1.16 1.16 0 1 0 2.32 0a1.16 1.16 0 1 0 -2.32 0M663.10 252.02a1.16 1.16 0 1 0 2.32 0a1.16 1.16 0 1 0 -2.32 0M665.40 252.02a1.16 1.16 0 1 0 2.32 0a1.16 1.16 0 1 0 -2.32 0M660.80 254.32a1.16 1.16 0 1 0 2.32 0a1.16 1.16 0 1 0 -2.32 0M665.40 256.61a1.16 1.16 0 1 0 2.32 0a1.16 1.16 0 1 0 -2.32 0M667.70 256.61a1.16 1.16 0 1 0 2.32 0a1.16 1.16 0 1 0 -2.32 0M670.00 256.61a1.16 1.16 0 1 0 2.32 0a1.16 1.16 0 1 0 -2.32 0M663.10 261.21a1.16 1.16 0 1 0 2.32 0a1.16 1.16 0 1 0 -2.32 0M665.40 261.21a1.16 1.16 0 1 0 2.32 0a1.16 1.16 0 1 0 -2.32 0M667.70 261.21a1.16 1.16 0 1 0 2.32 0a1.16 1.16 0 1 0 -2.32 0M670.00 261.21a1.16 1.16 0 1 0 2.32 0a1.16 1.16 0 1 0 -2.32 0M665.40 263.50a1.16 1.16 0 1 0 2.32 0a1.16 1.16 0 1 0 -2.32 0M667.70 263.50a1.16 1.16 0 1 0 2.32 0a1.16 1.16 0 1 0 -2.32 0M670.00 263.50a1.16 1.16 0 1 0 2.32 0a1.16 1.16 0 1 0 -2.32 0M672.30 263.50a1.16 1.16 0 1 0 2.32 0a1.16 1.16 0 1 0 -2.32 0M674.60 263.50a1.16 1.16 0 1 0 2.32 0a1.16 1.16 0 1 0 -2.32 0" fill="#8AA4EE"/>
<path d="M660.77 66.00a1.19 1.19 0 1 0 2.38 0a1.19 1.19 0 1 0 -2.38 0M663.07 66.00a1.19 1.19 0 1 0 2.38 0a1.19 1.19 0 1 0 -2.38 0M665.37 66.00a1.19 1.19 0 1 0 2.38 0a1.19 1.19 0 1 0 -2.38 0M667.67 66.00a1.19 1.19 0 1 0 2.38 0a1.19 1.19 0 1 0 -2.38 0M660.77 68.30a1.19 1.19 0 1 0 2.38 0a1.19 1.19 0 1 0 -2.38 0M663.07 68.30a1.19 1.19 0 1 0 2.38 0a1.19 1.19 0 1 0 -2.38 0M665.37 68.30a1.19 1.19 0 1 0 2.38 0a1.19 1.19 0 1 0 -2.38 0M660.77 70.59a1.19 1.19 0 1 0 2.38 0a1.19 1.19 0 1 0 -2.38 0M660.77 79.78a1.19 1.19 0 1 0 2.38 0a1.19 1.19 0 1 0 -2.38 0M660.77 95.86a1.19 1.19 0 1 0 2.38 0a1.19 1.19 0 1 0 -2.38 0M663.07 95.86a1.19 1.19 0 1 0 2.38 0a1.19 1.19 0 1 0 -2.38 0M660.77 98.15a1.19 1.19 0 1 0 2.38 0a1.19 1.19 0 1 0 -2.38 0M660.77 118.82a1.19 1.19 0 1 0 2.38 0a1.19 1.19 0 1 0 -2.38 0M660.77 121.12a1.19 1.19 0 1 0 2.38 0a1.19 1.19 0 1 0 -2.38 0M660.77 141.79a1.19 1.19 0 1 0 2.38 0a1.19 1.19 0 1 0 -2.38 0M660.77 157.86a1.19 1.19 0 1 0 2.38 0a1.19 1.19 0 1 0 -2.38 0M660.77 160.16a1.19 1.19 0 1 0 2.38 0a1.19 1.19 0 1 0 -2.38 0M660.77 169.34a1.19 1.19 0 1 0 2.38 0a1.19 1.19 0 1 0 -2.38 0M660.77 203.79a1.19 1.19 0 1 0 2.38 0a1.19 1.19 0 1 0 -2.38 0M660.77 219.87a1.19 1.19 0 1 0 2.38 0a1.19 1.19 0 1 0 -2.38 0M660.77 256.61a1.19 1.19 0 1 0 2.38 0a1.19 1.19 0 1 0 -2.38 0M663.07 256.61a1.19 1.19 0 1 0 2.38 0a1.19 1.19 0 1 0 -2.38 0M660.77 258.91a1.19 1.19 0 1 0 2.38 0a1.19 1.19 0 1 0 -2.38 0M660.77 261.21a1.19 1.19 0 1 0 2.38 0a1.19 1.19 0 1 0 -2.38 0M660.77 263.50a1.19 1.19 0 1 0 2.38 0a1.19 1.19 0 1 0 -2.38 0M663.07 263.50a1.19 1.19 0 1 0 2.38 0a1.19 1.19 0 1 0 -2.38 0M660.77 265.80a1.19 1.19 0 1 0 2.38 0a1.19 1.19 0 1 0 -2.38 0M663.07 265.80a1.19 1.19 0 1 0 2.38 0a1.19 1.19 0 1 0 -2.38 0M665.37 265.80a1.19 1.19 0 1 0 2.38 0a1.19 1.19 0 1 0 -2.38 0" fill="#E74251"/>
<circle cx="625.2" cy="297.6" r="2.8" fill="#8AA4EE"/>
<text x="631" y="301.0" font-size="9.5">SNP-QTL</text>
<circle cx="625.2" cy="310.90000000000003" r="2.8" fill="#FDB34A"/>
<text x="631" y="314.3" font-size="9.5">Indel-QTL</text>
<circle cx="625.2" cy="324.20000000000005" r="2.8" fill="#E74251"/>
<text x="631" y="327.6" font-size="9.5">SV-QTL</text>
</g>
<g font-family='"Liberation Sans", sans-serif'><text x="-0.3" y="357.8" font-size="10.5" font-weight="bold">b</text>
<rect x="30.8" y="352" width="11.4" height="11.2" fill="#8AA4EE"/>
<text x="46.4" y="361.4" font-size="9.5">SNPs</text>
<rect x="75.2" y="352" width="11.4" height="11.2" fill="#FDB34A"/>
<text x="90.8" y="361.4" font-size="9.5">Indels</text>
<rect x="122.6" y="352" width="11.4" height="11.2" fill="#E74251"/>
<text x="138.2" y="361.4" font-size="9.5">SVs</text>
<path d="M93.40 371.40A54.1 54.1 0 0 1 116.43 376.55L110.26 389.67A39.6 39.6 0 0 0 93.40 385.90Z" fill="#E74251" stroke="#fff" stroke-width="0.9"/>
<path d="M116.43 376.55A54.1 54.1 0 0 1 127.88 383.82L118.64 394.99A39.6 39.6 0 0 0 110.26 389.67Z" fill="#FDB34A" stroke="#fff" stroke-width="0.9"/>
<path d="M127.88 383.82A54.1 54.1 0 1 1 93.40 371.40L93.40 385.90A39.6 39.6 0 1 0 118.64 394.99Z" fill="#8AA4EE" stroke="#fff" stroke-width="0.9"/>
<path d="M93.40 388.80A36.7 36.7 0 0 1 127.52 411.99L112.27 418.03A20.3 20.3 0 0 0 93.40 405.20Z" fill="#E74251" stroke="#fff" stroke-width="0.9"/>
<path d="M127.52 411.99A36.7 36.7 0 0 1 130.03 423.20L113.66 424.23A20.3 20.3 0 0 0 112.27 418.03Z" fill="#FDB34A" stroke="#fff" stroke-width="0.9"/>
<path d="M130.03 423.20A36.7 36.7 0 1 1 93.40 388.80L93.40 405.20A20.3 20.3 0 1 0 113.66 424.23Z" fill="#8AA4EE" stroke="#fff" stroke-width="0.9"/>
<text x="103.4" y="384.0" font-size="9.5" fill="#fff" text-anchor="middle" >7%</text>
<text x="120.3" y="390.3" font-size="9.5" fill="#000" text-anchor="middle" >4%</text>
<text x="109.2" y="406.8" font-size="9.5" fill="#fff" text-anchor="middle" >19%</text>
<text x="122.0" y="423.3" font-size="9.5" fill="#000" text-anchor="middle" >5%</text>
<text x="93.2" y="423.2" font-size="9.5" fill="#000" text-anchor="middle" >QTL</text>
<text x="93.2" y="433.0" font-size="9.5" fill="#000" text-anchor="middle" >(<tspan font-style="italic">n</tspan> = 4.7k)</text>
<text x="75.3" y="449.3" font-size="9.5" fill="#fff" text-anchor="middle" >76%</text>
<text x="78.8" y="473.1" font-size="9.5" fill="#fff" text-anchor="middle" >89%</text>
<text x="83.9" y="491.0" font-size="9.5" fill="#000" text-anchor="middle" >Total number of variants (<tspan font-style="italic">n</tspan> = 61.3K)</text>
<path d="M231.6 359.1V474.3H271.9" stroke="#6b6b6b" stroke-width="0.85" fill="none"/>
<path d="M228.1 461.00H231.6" stroke="#6b6b6b" stroke-width="0.85"/>
<text x="224.6" y="464.3" font-size="9.5" fill="#000" text-anchor="end" >1.0</text>
<path d="M228.1 433.46H231.6" stroke="#6b6b6b" stroke-width="0.85"/>
<text x="224.6" y="436.765" font-size="9.5" fill="#000" text-anchor="end" >1.5</text>
<path d="M228.1 405.93H231.6" stroke="#6b6b6b" stroke-width="0.85"/>
<text x="224.6" y="409.23" font-size="9.5" fill="#000" text-anchor="end" >2.0</text>
<path d="M228.1 378.39H231.6" stroke="#6b6b6b" stroke-width="0.85"/>
<text x="224.6" y="381.695" font-size="9.5" fill="#000" text-anchor="end" >2.5</text>
<rect x="233.6" y="461.2" width="10.7" height="8.0" fill="#E74251"/>
<rect x="245.9" y="438.6" width="10.7" height="22.1" fill="#FDB34A"/>
<rect x="257.8" y="375.3" width="10.8" height="85.4" fill="#8AA4EE"/>
<text x="239.0" y="367.9" font-size="9.5" fill="#000" text-anchor="middle" >A</text>
<text x="250.7" y="367.9" font-size="9.5" fill="#000" text-anchor="middle" >B</text>
<text x="262.7" y="367.9" font-size="9.5" fill="#000" text-anchor="middle" >C</text>
<text transform="translate(205,416.5) rotate(-90)" font-size="9.5" text-anchor="middle">Odds ratio</text>
<text transform="translate(242.6,480.3) rotate(-56)" font-size="9.5" text-anchor="end">SNPs</text>
<text transform="translate(254.2,480.3) rotate(-56)" font-size="9.5" text-anchor="end">Indels</text>
<text transform="translate(266.5,480.3) rotate(-56)" font-size="9.5" text-anchor="end">SVs</text></g>
<g font-family='"Liberation Sans", sans-serif'><text x="341.5" y="357.6" font-size="11" font-weight="bold">c</text>
<path d="M376.4 353.7V469.3H684.5" stroke="#6b6b6b" stroke-width="0.85" fill="none"/>
<path d="M372.9 464.20H376.4" stroke="#6b6b6b" stroke-width="0.85"/>
<text x="369.8" y="467.5" font-size="9.5" fill="#000" text-anchor="end" >0</text>
<path d="M372.9 431.94H376.4" stroke="#6b6b6b" stroke-width="0.85"/>
<text x="369.8" y="435.24" font-size="9.5" fill="#000" text-anchor="end" >0.2</text>
<path d="M372.9 399.68H376.4" stroke="#6b6b6b" stroke-width="0.85"/>
<text x="369.8" y="402.97999999999996" font-size="9.5" fill="#000" text-anchor="end" >0.4</text>
<path d="M372.9 367.42H376.4" stroke="#6b6b6b" stroke-width="0.85"/>
<text x="369.8" y="370.71999999999997" font-size="9.5" fill="#000" text-anchor="end" >0.6</text>
<path d="M418.50 469.3V472.8" stroke="#6b6b6b" stroke-width="0.85"/>
<text x="418.5" y="483.2" font-size="9.5" fill="#000" text-anchor="middle" >1</text>
<path d="M446.52 469.3V472.8" stroke="#6b6b6b" stroke-width="0.85"/>
<text x="446.52" y="483.2" font-size="9.5" fill="#000" text-anchor="middle" >2</text>
<path d="M474.54 469.3V472.8" stroke="#6b6b6b" stroke-width="0.85"/>
<text x="474.54" y="483.2" font-size="9.5" fill="#000" text-anchor="middle" >3</text>
<path d="M502.56 469.3V472.8" stroke="#6b6b6b" stroke-width="0.85"/>
<text x="502.56" y="483.2" font-size="9.5" fill="#000" text-anchor="middle" >4</text>
<path d="M530.58 469.3V472.8" stroke="#6b6b6b" stroke-width="0.85"/>
<text x="530.58" y="483.2" font-size="9.5" fill="#000" text-anchor="middle" >5</text>
<path d="M558.60 469.3V472.8" stroke="#6b6b6b" stroke-width="0.85"/>
<text x="558.6" y="483.2" font-size="9.5" fill="#000" text-anchor="middle" >6</text>
<path d="M586.62 469.3V472.8" stroke="#6b6b6b" stroke-width="0.85"/>
<text x="586.62" y="483.2" font-size="9.5" fill="#000" text-anchor="middle" >7</text>
<path d="M614.64 469.3V472.8" stroke="#6b6b6b" stroke-width="0.85"/>
<text x="614.64" y="483.2" font-size="9.5" fill="#000" text-anchor="middle" >8</text>
<path d="M642.66 469.3V472.8" stroke="#6b6b6b" stroke-width="0.85"/>
<text x="642.66" y="483.2" font-size="9.5" fill="#000" text-anchor="middle" >9</text>
<path d="M670.68 469.3V472.8" stroke="#6b6b6b" stroke-width="0.85"/>
<text x="670.6800000000001" y="483.2" font-size="9.5" fill="#000" text-anchor="middle" >10</text>
<text x="530.0" y="497.6" font-size="9.5" fill="#000" text-anchor="middle" >Number of traits associated</text>
<text transform="translate(349,411.5) rotate(-90)" font-size="9.5" text-anchor="middle">Proportion of QTL</text>
<path d="M390.48 453.23C391.10 451.73 393.09 447.24 394.21 444.20C395.33 441.16 396.19 438.31 397.20 435.00C398.22 431.70 399.25 427.93 400.29 424.36C401.32 420.78 402.36 416.89 403.40 413.55C404.43 410.22 405.49 406.94 406.51 404.36C407.53 401.78 408.49 399.81 409.51 398.07C410.52 396.32 411.42 394.98 412.59 393.87C413.76 392.77 415.23 391.91 416.51 391.45C417.79 391.00 419.01 390.78 420.29 391.13C421.57 391.48 422.96 392.53 424.19 393.55C425.42 394.57 426.48 395.57 427.69 397.26C428.90 398.95 429.77 401.02 431.47 403.71C433.18 406.40 435.76 410.16 437.92 413.39C440.07 416.62 442.23 420.11 444.39 423.07C446.55 426.03 448.72 428.69 450.89 431.13C453.06 433.58 455.24 435.86 457.39 437.75C459.54 439.63 461.66 441.08 463.81 442.42C465.96 443.77 468.42 444.84 470.28 445.81C472.14 446.78 472.55 447.37 474.99 448.23C477.43 449.09 480.31 449.90 484.91 450.97C489.50 452.05 496.82 453.69 502.56 454.68C508.30 455.68 514.70 456.43 519.37 456.94C524.04 457.45 526.38 457.51 530.58 457.75C534.78 457.99 539.92 458.21 544.59 458.39C549.26 458.58 553.93 458.50 558.60 458.88C563.27 459.25 567.94 460.17 572.61 460.65C577.28 461.14 579.62 461.38 586.62 461.78C593.62 462.18 605.30 462.72 614.64 463.07C623.98 463.42 633.32 463.80 642.66 463.88C652.00 463.96 666.01 463.61 670.68 463.55" stroke="#E74251" stroke-width="1.5" fill="none"/>
<path d="M390.48 448.80C391.10 446.94 393.09 441.32 394.21 437.67C395.33 434.01 396.19 430.70 397.20 426.86C398.22 423.01 399.25 418.98 400.29 414.60C401.32 410.22 402.36 405.22 403.40 400.57C404.43 395.92 405.49 391.05 406.51 386.70C407.53 382.34 408.49 378.01 409.51 374.44C410.52 370.86 411.56 367.61 412.59 365.24C413.62 362.88 414.66 361.32 415.70 360.24C416.73 359.17 417.79 358.79 418.81 358.79C419.83 358.79 420.77 359.19 421.81 360.24C422.84 361.29 423.93 362.53 425.00 365.08C426.07 367.64 427.14 371.94 428.22 375.57C429.30 379.19 430.39 383.07 431.47 386.86C432.56 390.65 433.65 394.79 434.72 398.31C435.80 401.83 436.84 404.76 437.92 407.99C439.00 411.21 439.85 414.17 441.20 417.66C442.55 421.16 444.40 425.43 446.02 428.96C447.63 432.48 449.00 435.81 450.89 438.80C452.79 441.78 455.24 444.58 457.39 446.86C459.54 449.15 461.66 451.03 463.81 452.51C465.96 453.98 468.42 454.93 470.28 455.73C472.14 456.54 472.55 456.78 474.99 457.34C477.43 457.91 480.31 458.66 484.91 459.12C489.50 459.58 496.82 459.66 502.56 460.09C508.30 460.52 514.70 461.30 519.37 461.70C524.04 462.10 524.04 462.32 530.58 462.51C537.12 462.69 549.26 462.75 558.60 462.83C567.94 462.91 577.28 462.94 586.62 462.99C595.96 463.04 605.30 463.10 614.64 463.15C623.98 463.21 633.32 463.29 642.66 463.31C652.00 463.34 666.01 463.31 670.68 463.31" stroke="#8AA4EE" stroke-width="1.5" fill="none"/>
<path d="M390.48 449.36C391.10 447.51 393.09 441.89 394.21 438.23C395.33 434.57 396.19 431.27 397.20 427.42C398.22 423.58 399.25 419.55 400.29 415.16C401.32 410.78 402.36 405.78 403.40 401.13C404.43 396.48 405.49 391.62 406.51 387.26C407.53 382.90 408.49 378.58 409.51 375.00C410.52 371.43 411.56 368.17 412.59 365.81C413.62 363.44 414.66 361.88 415.70 360.81C416.73 359.73 417.79 359.35 418.81 359.35C419.83 359.35 420.77 359.76 421.81 360.81C422.84 361.86 423.93 363.09 425.00 365.65C426.07 368.20 427.14 372.50 428.22 376.13C429.30 379.76 430.39 383.63 431.47 387.42C432.56 391.21 433.65 395.35 434.72 398.87C435.80 402.40 436.84 405.33 437.92 408.55C439.00 411.78 439.85 414.73 441.20 418.23C442.55 421.72 444.40 426.00 446.02 429.52C447.63 433.04 449.00 436.38 450.89 439.36C452.79 442.34 455.24 445.14 457.39 447.42C459.54 449.71 461.66 451.59 463.81 453.07C465.96 454.55 468.42 455.49 470.28 456.30C472.14 457.10 472.55 457.34 474.99 457.91C477.43 458.47 480.31 459.23 484.91 459.68C489.50 460.14 496.82 460.22 502.56 460.65C508.30 461.08 514.70 461.86 519.37 462.26C524.04 462.67 524.04 462.88 530.58 463.07C537.12 463.26 549.26 463.31 558.60 463.39C567.94 463.47 577.28 463.50 586.62 463.55C595.96 463.61 605.30 463.66 614.64 463.72C623.98 463.77 633.32 463.85 642.66 463.88C652.00 463.90 666.01 463.88 670.68 463.88" stroke="#FDB34A" stroke-width="1.5" fill="none"/>
<path d="M428.36 359V469" stroke="#FDB34A" stroke-width="1.5" stroke-dasharray="5.8 5.9"/>
<path d="M431.17 359V469" stroke="#8AA4EE" stroke-width="1.5" stroke-dasharray="5.8 5.9"/>
<path d="M469.78 359V469" stroke="#E74251" stroke-width="1.5" stroke-dasharray="5.8 5.9"/>
<path d="M619.6 364.60H630.8" stroke="#8AA4EE" stroke-width="1.0"/>
<text x="635.2" y="368.0" font-size="9.5" fill="#000" text-anchor="start" >SNPs</text>
<path d="M619.6 376.50H630.8" stroke="#FDB34A" stroke-width="1.0"/>
<text x="635.2" y="379.9" font-size="9.5" fill="#000" text-anchor="start" >Indels</text>
<path d="M619.6 388.40H630.8" stroke="#E74251" stroke-width="1.0"/>
<text x="635.2" y="391.8" font-size="9.5" fill="#000" text-anchor="start" >SVs</text></g>
<g font-family='"Liberation Sans", sans-serif'><text x="-0.3" y="517.6" font-size="10.5" font-weight="bold">d</text>
<path d="M74.6 522V618" stroke="#d4d4d4" stroke-width="0.8"/>
<path d="M85.3 522V618" stroke="#d4d4d4" stroke-width="0.8"/>
<path d="M122.6 522V618" stroke="#d4d4d4" stroke-width="0.8"/>
<path d="M137.5 522V618" stroke="#d4d4d4" stroke-width="0.8"/>
<path d="M208.5 522V618" stroke="#d4d4d4" stroke-width="0.8"/>
<path d="M235.5 522V618" stroke="#d4d4d4" stroke-width="0.8"/>
<path d="M247.4 522V618" stroke="#d4d4d4" stroke-width="0.8"/>
<path d="M298.1 522V618" stroke="#d4d4d4" stroke-width="0.8"/>
<path d="M324.3 522V618" stroke="#d4d4d4" stroke-width="0.8"/>
<path d="M344.4 522V618" stroke="#d4d4d4" stroke-width="0.8"/>
<path d="M379.1 522V618" stroke="#d4d4d4" stroke-width="0.8"/>
<path d="M409.6 522V618" stroke="#d4d4d4" stroke-width="0.8"/>
<path d="M459.5 522V618" stroke="#d4d4d4" stroke-width="0.8"/>
<path d="M502.8 522V618" stroke="#d4d4d4" stroke-width="0.8"/>
<path d="M538.9 522V618" stroke="#d4d4d4" stroke-width="0.8"/>
<path d="M589.1 522V618" stroke="#d4d4d4" stroke-width="0.8"/>
<path d="M633.2 522V618" stroke="#d4d4d4" stroke-width="0.8"/>
<path d="M75.50 578.40h1.6v0.70h-1.6zM76.90 576.60h1.6v2.50h-1.6zM78.40 578.40h1.6v0.70h-1.6zM80.58 577.10h1.6v2.00h-1.6zM86.77 577.60h1.6v1.50h-1.6zM90.10 577.90h1.6v1.20h-1.6zM92.51 577.10h1.6v2.00h-1.6zM94.23 577.90h1.6v1.20h-1.6zM95.53 576.60h1.6v2.50h-1.6zM100.66 577.90h1.6v1.20h-1.6zM102.30 577.60h1.6v1.50h-1.6zM103.70 576.60h1.6v2.50h-1.6zM105.50 577.60h1.6v1.50h-1.6zM106.83 578.20h1.6v0.90h-1.6zM108.62 577.60h1.6v1.50h-1.6zM110.17 578.40h1.6v0.70h-1.6zM114.22 578.40h1.6v0.70h-1.6zM115.79 578.10h1.6v1.00h-1.6zM119.59 576.60h1.6v2.50h-1.6zM121.48 577.60h1.6v1.50h-1.6zM123.11 576.10h1.6v3.00h-1.6zM124.99 576.60h1.6v2.50h-1.6zM126.85 577.90h1.6v1.20h-1.6zM131.60 575.10h1.6v4.00h-1.6zM133.52 577.90h1.6v1.20h-1.6zM135.05 578.20h1.6v0.90h-1.6zM139.39 576.10h1.6v3.00h-1.6zM141.26 578.20h1.6v0.90h-1.6zM144.37 577.60h1.6v1.50h-1.6zM145.84 578.10h1.6v1.00h-1.6zM149.36 576.60h1.6v2.50h-1.6zM159.79 578.40h1.6v0.70h-1.6zM162.04 576.10h1.6v3.00h-1.6zM163.98 576.60h1.6v2.50h-1.6zM167.28 578.40h1.6v0.70h-1.6zM169.29 577.90h1.6v1.20h-1.6zM170.87 575.10h1.6v4.00h-1.6zM173.12 577.10h1.6v2.00h-1.6zM174.46 576.60h1.6v2.50h-1.6zM179.26 576.10h1.6v3.00h-1.6zM181.20 576.60h1.6v2.50h-1.6zM183.71 578.20h1.6v0.90h-1.6zM185.13 577.90h1.6v1.20h-1.6zM187.22 577.10h1.6v2.00h-1.6zM188.49 577.90h1.6v1.20h-1.6zM190.58 577.10h1.6v2.00h-1.6zM191.80 578.10h1.6v1.00h-1.6zM193.81 578.10h1.6v1.00h-1.6zM197.68 576.60h1.6v2.50h-1.6zM199.74 577.90h1.6v1.20h-1.6zM204.37 575.10h1.6v4.00h-1.6zM209.77 578.40h1.6v0.70h-1.6zM211.36 577.90h1.6v1.20h-1.6zM216.77 577.60h1.6v1.50h-1.6zM221.58 577.60h1.6v1.50h-1.6zM224.06 575.10h1.6v4.00h-1.6zM225.69 577.60h1.6v1.50h-1.6zM227.66 575.10h1.6v4.00h-1.6zM230.13 577.90h1.6v1.20h-1.6zM231.75 576.10h1.6v3.00h-1.6zM233.57 576.60h1.6v2.50h-1.6zM235.88 578.20h1.6v0.90h-1.6zM237.95 577.90h1.6v1.20h-1.6zM239.43 577.90h1.6v1.20h-1.6zM241.71 575.10h1.6v4.00h-1.6zM243.44 578.10h1.6v1.00h-1.6zM245.73 576.60h1.6v2.50h-1.6zM248.22 578.10h1.6v1.00h-1.6zM250.80 577.10h1.6v2.00h-1.6zM254.95 577.90h1.6v1.20h-1.6zM258.35 577.90h1.6v1.20h-1.6zM260.31 577.90h1.6v1.20h-1.6zM261.81 577.60h1.6v1.50h-1.6zM263.30 576.10h1.6v3.00h-1.6zM265.03 577.60h1.6v1.50h-1.6zM271.68 575.10h1.6v4.00h-1.6zM273.11 578.10h1.6v1.00h-1.6zM275.58 575.10h1.6v4.00h-1.6zM277.99 577.90h1.6v1.20h-1.6zM282.01 578.20h1.6v0.90h-1.6zM285.83 578.40h1.6v0.70h-1.6zM287.06 578.10h1.6v1.00h-1.6zM289.58 577.90h1.6v1.20h-1.6zM291.63 578.20h1.6v0.90h-1.6zM293.27 577.90h1.6v1.20h-1.6zM297.07 577.90h1.6v1.20h-1.6zM300.24 576.60h1.6v2.50h-1.6zM302.59 577.60h1.6v1.50h-1.6zM304.78 576.60h1.6v2.50h-1.6zM307.11 577.10h1.6v2.00h-1.6zM309.14 577.90h1.6v1.20h-1.6zM311.58 577.10h1.6v2.00h-1.6zM313.25 577.60h1.6v1.50h-1.6zM314.81 576.10h1.6v3.00h-1.6zM318.00 577.10h1.6v2.00h-1.6zM320.31 577.90h1.6v1.20h-1.6zM322.44 576.60h1.6v2.50h-1.6zM324.69 577.10h1.6v2.00h-1.6zM326.06 578.20h1.6v0.90h-1.6zM328.22 577.10h1.6v2.00h-1.6zM330.49 578.20h1.6v0.90h-1.6zM332.19 576.60h1.6v2.50h-1.6zM334.17 578.10h1.6v1.00h-1.6zM335.51 577.90h1.6v1.20h-1.6zM336.97 577.10h1.6v2.00h-1.6zM338.27 578.40h1.6v0.70h-1.6zM339.59 576.60h1.6v2.50h-1.6zM341.90 576.60h1.6v2.50h-1.6zM343.51 577.60h1.6v1.50h-1.6zM345.57 577.90h1.6v1.20h-1.6zM346.88 576.60h1.6v2.50h-1.6zM349.05 578.40h1.6v0.70h-1.6zM351.23 575.10h1.6v4.00h-1.6zM353.54 577.90h1.6v1.20h-1.6zM357.08 576.10h1.6v3.00h-1.6zM358.93 577.60h1.6v1.50h-1.6zM360.82 578.40h1.6v0.70h-1.6zM362.87 577.90h1.6v1.20h-1.6zM366.45 578.10h1.6v1.00h-1.6zM368.93 576.10h1.6v3.00h-1.6zM371.49 577.60h1.6v1.50h-1.6zM373.89 577.10h1.6v2.00h-1.6zM376.23 577.10h1.6v2.00h-1.6zM378.79 576.60h1.6v2.50h-1.6zM380.64 576.60h1.6v2.50h-1.6zM386.37 578.10h1.6v1.00h-1.6zM390.97 577.10h1.6v2.00h-1.6zM392.95 576.10h1.6v3.00h-1.6zM395.36 577.60h1.6v1.50h-1.6zM396.93 577.90h1.6v1.20h-1.6zM405.54 577.60h1.6v1.50h-1.6zM407.87 575.10h1.6v4.00h-1.6zM412.40 578.10h1.6v1.00h-1.6zM414.57 577.60h1.6v1.50h-1.6zM416.30 577.10h1.6v2.00h-1.6zM417.83 577.90h1.6v1.20h-1.6zM419.64 575.10h1.6v4.00h-1.6zM421.07 578.40h1.6v0.70h-1.6zM422.79 576.60h1.6v2.50h-1.6zM424.25 576.10h1.6v3.00h-1.6zM427.63 577.10h1.6v2.00h-1.6zM429.05 577.60h1.6v1.50h-1.6zM431.60 577.10h1.6v2.00h-1.6zM433.33 577.90h1.6v1.20h-1.6zM434.95 578.40h1.6v0.70h-1.6zM436.53 575.10h1.6v4.00h-1.6zM439.01 577.90h1.6v1.20h-1.6zM441.33 577.90h1.6v1.20h-1.6zM443.54 578.10h1.6v1.00h-1.6zM445.64 577.10h1.6v2.00h-1.6zM446.97 577.60h1.6v1.50h-1.6zM449.40 576.60h1.6v2.50h-1.6zM453.20 578.20h1.6v0.90h-1.6zM455.46 575.10h1.6v4.00h-1.6zM459.23 577.10h1.6v2.00h-1.6zM460.80 575.10h1.6v4.00h-1.6zM462.33 576.60h1.6v2.50h-1.6zM464.43 577.10h1.6v2.00h-1.6zM466.20 578.40h1.6v0.70h-1.6zM470.07 576.60h1.6v2.50h-1.6zM471.49 578.20h1.6v0.90h-1.6zM474.00 577.60h1.6v1.50h-1.6zM476.40 575.10h1.6v4.00h-1.6zM478.50 577.90h1.6v1.20h-1.6zM480.85 577.90h1.6v1.20h-1.6zM484.08 576.60h1.6v2.50h-1.6zM489.51 578.40h1.6v0.70h-1.6zM491.04 578.10h1.6v1.00h-1.6zM492.83 578.20h1.6v0.90h-1.6zM494.75 576.60h1.6v2.50h-1.6zM499.07 577.10h1.6v2.00h-1.6zM500.42 577.10h1.6v2.00h-1.6zM501.83 576.10h1.6v3.00h-1.6zM505.53 578.20h1.6v0.90h-1.6zM507.81 577.90h1.6v1.20h-1.6zM511.22 577.90h1.6v1.20h-1.6zM513.71 578.20h1.6v0.90h-1.6zM515.44 578.40h1.6v0.70h-1.6zM517.10 577.60h1.6v1.50h-1.6zM520.58 577.90h1.6v1.20h-1.6zM526.28 575.10h1.6v4.00h-1.6zM528.40 578.40h1.6v0.70h-1.6zM530.89 578.10h1.6v1.00h-1.6zM532.66 575.10h1.6v4.00h-1.6zM534.60 577.10h1.6v2.00h-1.6zM538.08 576.10h1.6v3.00h-1.6zM540.21 577.10h1.6v2.00h-1.6zM542.13 578.20h1.6v0.90h-1.6zM544.01 578.40h1.6v0.70h-1.6zM545.28 577.90h1.6v1.20h-1.6zM546.89 577.10h1.6v2.00h-1.6zM548.62 576.60h1.6v2.50h-1.6zM550.32 578.40h1.6v0.70h-1.6zM551.63 577.60h1.6v1.50h-1.6zM553.41 578.40h1.6v0.70h-1.6zM555.94 577.60h1.6v1.50h-1.6zM557.96 577.60h1.6v1.50h-1.6zM565.21 575.10h1.6v4.00h-1.6zM569.46 576.10h1.6v3.00h-1.6zM571.10 577.10h1.6v2.00h-1.6zM572.68 576.60h1.6v2.50h-1.6zM575.87 576.60h1.6v2.50h-1.6zM579.18 578.40h1.6v0.70h-1.6zM583.10 577.10h1.6v2.00h-1.6zM586.96 575.10h1.6v4.00h-1.6zM588.29 577.90h1.6v1.20h-1.6zM590.84 578.10h1.6v1.00h-1.6zM592.24 575.10h1.6v4.00h-1.6zM598.81 576.60h1.6v2.50h-1.6zM600.52 578.10h1.6v1.00h-1.6zM602.79 578.10h1.6v1.00h-1.6zM605.39 576.10h1.6v3.00h-1.6zM606.84 576.10h1.6v3.00h-1.6zM608.65 575.10h1.6v4.00h-1.6zM613.71 576.10h1.6v3.00h-1.6zM615.31 576.60h1.6v2.50h-1.6zM616.79 577.90h1.6v1.20h-1.6zM618.76 576.60h1.6v2.50h-1.6zM621.03 576.60h1.6v2.50h-1.6zM625.29 577.60h1.6v1.50h-1.6zM627.01 578.20h1.6v0.90h-1.6zM629.32 577.90h1.6v1.20h-1.6z" fill="#8AA4EE" fill-opacity="0.45"/>
<path d="M76.90 579.10h1.6v1.80h-1.6zM86.77 579.10h1.6v1.30h-1.6zM100.66 579.10h1.6v2.50h-1.6zM105.50 579.10h1.6v1.00h-1.6zM106.83 579.10h1.6v1.00h-1.6zM133.52 579.10h1.6v0.80h-1.6zM137.51 579.10h1.6v1.00h-1.6zM141.26 579.10h1.6v1.80h-1.6zM143.03 579.10h1.6v4.00h-1.6zM151.85 579.10h1.6v1.80h-1.6zM154.26 579.10h1.6v0.80h-1.6zM163.98 579.10h1.6v1.00h-1.6zM169.29 579.10h1.6v4.00h-1.6zM188.49 579.10h1.6v1.30h-1.6zM193.81 579.10h1.6v1.30h-1.6zM202.08 579.10h1.6v4.00h-1.6zM205.95 579.10h1.6v0.80h-1.6zM218.13 579.10h1.6v0.80h-1.6zM275.58 579.10h1.6v4.00h-1.6zM294.99 579.10h1.6v2.50h-1.6zM313.25 579.10h1.6v1.00h-1.6zM316.03 579.10h1.6v4.00h-1.6zM332.19 579.10h1.6v0.80h-1.6zM336.97 579.10h1.6v0.80h-1.6zM338.27 579.10h1.6v2.50h-1.6zM346.88 579.10h1.6v0.80h-1.6zM376.23 579.10h1.6v1.30h-1.6zM382.71 579.10h1.6v2.50h-1.6zM409.28 579.10h1.6v2.50h-1.6zM410.62 579.10h1.6v1.80h-1.6zM412.40 579.10h1.6v1.30h-1.6zM421.07 579.10h1.6v0.80h-1.6zM425.78 579.10h1.6v1.80h-1.6zM445.64 579.10h1.6v1.30h-1.6zM446.97 579.10h1.6v1.00h-1.6zM467.54 579.10h1.6v1.80h-1.6zM474.00 579.10h1.6v1.80h-1.6zM478.50 579.10h1.6v0.80h-1.6zM484.08 579.10h1.6v1.00h-1.6zM489.51 579.10h1.6v1.30h-1.6zM500.42 579.10h1.6v0.80h-1.6zM513.71 579.10h1.6v0.80h-1.6zM518.89 579.10h1.6v1.30h-1.6zM520.58 579.10h1.6v1.80h-1.6zM528.40 579.10h1.6v4.00h-1.6zM538.08 579.10h1.6v0.80h-1.6zM555.94 579.10h1.6v0.80h-1.6zM559.47 579.10h1.6v4.00h-1.6zM565.21 579.10h1.6v4.00h-1.6zM572.68 579.10h1.6v1.80h-1.6zM573.96 579.10h1.6v0.80h-1.6zM581.55 579.10h1.6v4.00h-1.6zM598.81 579.10h1.6v4.00h-1.6zM602.79 579.10h1.6v1.30h-1.6zM605.39 579.10h1.6v1.80h-1.6zM616.79 579.10h1.6v1.80h-1.6zM621.03 579.10h1.6v1.80h-1.6z" fill="#E74251" fill-opacity="0.3"/>
<path d="M76.90 579.10h2.2v1.00h-2.2zM135.05 579.10h2.2v1.00h-2.2zM213.51 579.10h2.2v1.50h-2.2zM243.44 579.10h2.2v1.00h-2.2zM263.30 579.10h2.2v2.00h-2.2zM300.24 579.10h2.2v1.50h-2.2zM378.79 579.10h2.2v2.00h-2.2zM384.31 579.10h2.2v2.00h-2.2zM386.37 579.10h2.2v1.50h-2.2zM410.62 579.10h2.2v1.00h-2.2zM416.30 579.10h2.2v1.00h-2.2z" fill="#E74251" fill-opacity="0.9"/>
<rect x="276.8" y="526.2" width="2.40" height="52.90" fill="#8AA4EE"/>
<rect x="418.2" y="571.0" width="2.70" height="8.10" fill="#8AA4EE"/>
<rect x="468.6" y="569.9" width="2.50" height="9.20" fill="#8AA4EE"/>
<rect x="122.2" y="579.1" width="2.60" height="10.10" fill="#E74251"/>
<rect x="130.3" y="579.1" width="2.60" height="14.70" fill="#E74251"/>
<rect x="138.3" y="579.1" width="2.60" height="33.80" fill="#E74251"/>
<rect x="207.2" y="579.1" width="2.60" height="8.90" fill="#E74251"/>
<rect x="406.1" y="579.1" width="2.70" height="9.40" fill="#E74251"/>
<rect x="458.1" y="579.1" width="2.60" height="8.60" fill="#E74251"/>
<rect x="486.1" y="579.1" width="2.70" height="34.60" fill="#E74251"/>
<rect x="501.4" y="579.1" width="2.60" height="6.90" fill="#E74251"/>
<rect x="590.0" y="579.1" width="2.60" height="7.70" fill="#E74251"/>
<rect x="117.0" y="579.1" width="2.60" height="6.40" fill="#E74251" fill-opacity="0.25"/>
<rect x="133.3" y="579.1" width="3.70" height="4.20" fill="#E74251" fill-opacity="0.25"/>
<path d="M45.6 579.1H661.8" stroke="#6e6e6e" stroke-width="0.9"/>
<path d="M45.6 522V618.2H662" stroke="#6b6b6b" stroke-width="0.85" fill="none"/>
<path d="M41.6 524.20H45.6" stroke="#6b6b6b" stroke-width="0.85"/>
<text x="38.6" y="527.6" font-size="9.5" fill="#000" text-anchor="end" >150</text>
<path d="M41.6 542.50H45.6" stroke="#6b6b6b" stroke-width="0.85"/>
<text x="38.6" y="545.9" font-size="9.5" fill="#000" text-anchor="end" >100</text>
<path d="M41.6 560.80H45.6" stroke="#6b6b6b" stroke-width="0.85"/>
<text x="38.6" y="564.2" font-size="9.5" fill="#000" text-anchor="end" >50</text>
<path d="M41.6 579.10H45.6" stroke="#6b6b6b" stroke-width="0.85"/>
<text x="38.6" y="582.5" font-size="9.5" fill="#000" text-anchor="end" >0</text>
<path d="M41.6 597.40H45.6" stroke="#6b6b6b" stroke-width="0.85"/>
<text x="38.6" y="600.8" font-size="9.5" fill="#000" text-anchor="end" >50</text>
<path d="M41.6 615.70H45.6" stroke="#6b6b6b" stroke-width="0.85"/>
<text x="38.6" y="619.1" font-size="9.5" fill="#000" text-anchor="end" >100</text>
<text transform="translate(16.9,570.1) rotate(-90)" font-size="9.5" text-anchor="middle">Number of associations</text>
<path d="M79.7 618.2V621.4" stroke="#6b6b6b" stroke-width="0.85"/>
<text x="79.7" y="632.9" font-size="9.5" fill="#000" text-anchor="middle" >1</text>
<path d="M103.8 618.2V621.4" stroke="#6b6b6b" stroke-width="0.85"/>
<text x="103.8" y="632.9" font-size="9.5" fill="#000" text-anchor="middle" >2</text>
<path d="M130.4 618.2V621.4" stroke="#6b6b6b" stroke-width="0.85"/>
<text x="130.4" y="632.9" font-size="9.5" fill="#000" text-anchor="middle" >3</text>
<path d="M172.7 618.2V621.4" stroke="#6b6b6b" stroke-width="0.85"/>
<text x="172.7" y="632.9" font-size="9.5" fill="#000" text-anchor="middle" >4</text>
<path d="M221.5 618.2V621.4" stroke="#6b6b6b" stroke-width="0.85"/>
<text x="221.5" y="632.9" font-size="9.5" fill="#000" text-anchor="middle" >5</text>
<path d="M241.3 618.2V621.4" stroke="#6b6b6b" stroke-width="0.85"/>
<text x="241.3" y="632.9" font-size="9.5" fill="#000" text-anchor="middle" >6</text>
<path d="M272.4 618.2V621.4" stroke="#6b6b6b" stroke-width="0.85"/>
<text x="272.4" y="632.9" font-size="9.5" fill="#000" text-anchor="middle" >7</text>
<path d="M311.2 618.2V621.4" stroke="#6b6b6b" stroke-width="0.85"/>
<text x="311.2" y="632.9" font-size="9.5" fill="#000" text-anchor="middle" >8</text>
<path d="M334.3 618.2V621.4" stroke="#6b6b6b" stroke-width="0.85"/>
<text x="334.3" y="632.9" font-size="9.5" fill="#000" text-anchor="middle" >9</text>
<path d="M361.7 618.2V621.4" stroke="#6b6b6b" stroke-width="0.85"/>
<text x="361.7" y="632.9" font-size="9.5" fill="#000" text-anchor="middle" >10</text>
<path d="M394.4 618.2V621.4" stroke="#6b6b6b" stroke-width="0.85"/>
<text x="394.4" y="632.9" font-size="9.5" fill="#000" text-anchor="middle" >11</text>
<path d="M434.6 618.2V621.4" stroke="#6b6b6b" stroke-width="0.85"/>
<text x="434.6" y="632.9" font-size="9.5" fill="#000" text-anchor="middle" >12</text>
<path d="M481.3 618.2V621.4" stroke="#6b6b6b" stroke-width="0.85"/>
<text x="481.3" y="632.9" font-size="9.5" fill="#000" text-anchor="middle" >13</text>
<path d="M520.8 618.2V621.4" stroke="#6b6b6b" stroke-width="0.85"/>
<text x="520.8" y="632.9" font-size="9.5" fill="#000" text-anchor="middle" >14</text>
<path d="M564.3 618.2V621.4" stroke="#6b6b6b" stroke-width="0.85"/>
<text x="564.3" y="632.9" font-size="9.5" fill="#000" text-anchor="middle" >15</text>
<path d="M611.3 618.2V621.4" stroke="#6b6b6b" stroke-width="0.85"/>
<text x="611.3" y="632.9" font-size="9.5" fill="#000" text-anchor="middle" >16</text>
<text x="353.55" y="646.6" font-size="9.5" fill="#000" text-anchor="middle" >QTL position (chromosome)</text>
<rect x="312" y="524.3" width="350" height="26.3" fill="#fff"/>
<text x="322.5" y="541.0" font-size="9.5" fill="#000" text-anchor="start" >QTL hotspot</text>
<rect x="382.6" y="532.7" width="9.5" height="9.7" fill="#d9d9d9"/>
<text x="396.4" y="541.0" font-size="9.5" fill="#000" text-anchor="start" >False</text>
<rect x="439.3" y="532.7" width="9.5" height="9.7" fill="#555"/>
<text x="453.3" y="541.0" font-size="9.5" fill="#000" text-anchor="start" >True</text>
<text x="508.4" y="541.0" font-size="9.5" fill="#000" text-anchor="start" >Type of QTL</text>
<rect x="568.2" y="532.7" width="9.5" height="9.7" fill="#8AA4EE"/>
<text x="582.2" y="541.0" font-size="9.5" fill="#000" text-anchor="start" >SNPs</text>
<rect x="619.9" y="532.7" width="9.5" height="9.7" fill="#E74251"/>
<text x="633.9" y="541.0" font-size="9.5" fill="#000" text-anchor="start" >SVs</text></g>
</svg></body></html>
